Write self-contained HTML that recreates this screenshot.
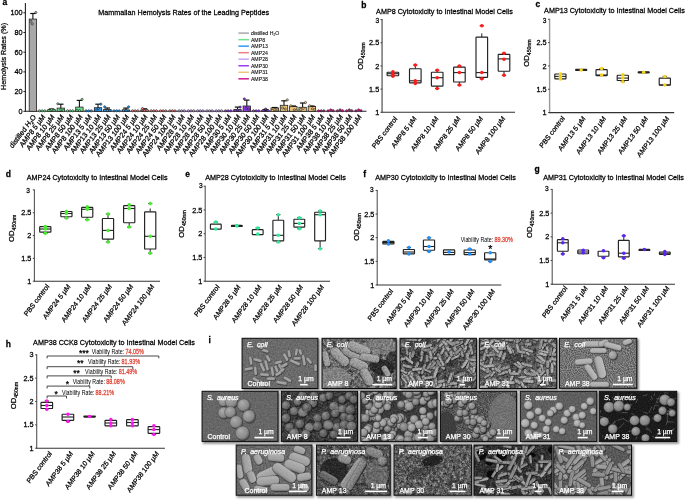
<!DOCTYPE html>
<html><head><meta charset="utf-8"><style>
html,body{margin:0;padding:0;background:#fff;width:685px;height:502px;overflow:hidden}
svg{display:block;font-family:"Liberation Sans",sans-serif;will-change:transform}
text{stroke-width:0.25px} text:not([fill]){stroke:#000} text[fill="#fff"]{stroke:#fff}
</style></head><body>
<svg width="685" height="502" viewBox="0 0 685 502">
<text x="0.00" y="0.00" font-size="8.5" font-weight="bold" transform="translate(2.60 4.80) scale(1 1.08)">a</text>
<text x="0.00" y="0.00" font-size="7.2" transform="translate(98.30 14.60) scale(1 1.08)">Mammalian Hemolysis Rates of the Leading Peptides</text>
<line x1="25.40" y1="3.00" x2="25.40" y2="111.80" stroke="#222" stroke-width="1.1"/>
<line x1="24.90" y1="111.30" x2="366.50" y2="111.30" stroke="#222" stroke-width="1.1"/>
<line x1="23.40" y1="111.30" x2="25.40" y2="111.30" stroke="#222" stroke-width="1"/>
<text x="0.00" y="0.00" font-size="7.3" text-anchor="end" transform="translate(22.60 113.75) scale(1 1.08)">0</text>
<line x1="23.40" y1="91.60" x2="25.40" y2="91.60" stroke="#222" stroke-width="1"/>
<text x="0.00" y="0.00" font-size="7.3" text-anchor="end" transform="translate(22.60 94.05) scale(1 1.08)">20</text>
<line x1="23.40" y1="71.90" x2="25.40" y2="71.90" stroke="#222" stroke-width="1"/>
<text x="0.00" y="0.00" font-size="7.3" text-anchor="end" transform="translate(22.60 74.35) scale(1 1.08)">40</text>
<line x1="23.40" y1="52.20" x2="25.40" y2="52.20" stroke="#222" stroke-width="1"/>
<text x="0.00" y="0.00" font-size="7.3" text-anchor="end" transform="translate(22.60 54.65) scale(1 1.08)">60</text>
<line x1="23.40" y1="32.50" x2="25.40" y2="32.50" stroke="#222" stroke-width="1"/>
<text x="0.00" y="0.00" font-size="7.3" text-anchor="end" transform="translate(22.60 34.95) scale(1 1.08)">80</text>
<line x1="23.40" y1="12.80" x2="25.40" y2="12.80" stroke="#222" stroke-width="1"/>
<text x="0.00" y="0.00" font-size="7.3" text-anchor="end" transform="translate(22.60 15.25) scale(1 1.08)">100</text>
<text x="6.40" y="56.50" font-size="7.2" text-anchor="middle" transform="rotate(-90 6.40 56.50)">Hemolysis Rates (%)</text>
<rect x="29.20" y="19.10" width="7.40" height="92.20" fill="#a8a8a8" stroke="#222" stroke-width="0.8"/>
<line x1="32.90" y1="19.10" x2="32.90" y2="13.50" stroke="#111" stroke-width="1.1"/>
<line x1="30.20" y1="13.50" x2="35.60" y2="13.50" stroke="#111" stroke-width="1.2"/>
<circle cx="30.80" cy="21.30" r="1.1" fill="#a8a8a8" stroke="#1a1a1a" stroke-width="0.55"/>
<circle cx="32.30" cy="23.90" r="1.1" fill="#a8a8a8" stroke="#1a1a1a" stroke-width="0.55"/>
<circle cx="35.80" cy="12.50" r="1.1" fill="#a8a8a8" stroke="#1a1a1a" stroke-width="0.55"/>
<text x="0.00" y="0.00" font-size="6.96" text-anchor="end" transform="translate(36.40 117.10) scale(1 1.08) rotate(-50.86)">distilled H<tspan font-size="4.2" dy="1.2">2</tspan><tspan dy="-1.2">O</tspan></text>
<circle cx="39.60" cy="110.80" r="1.1" fill="#6fe08c" stroke="#1a1a1a" stroke-width="0.55"/>
<circle cx="42.20" cy="110.80" r="1.1" fill="#6fe08c" stroke="#1a1a1a" stroke-width="0.55"/>
<circle cx="44.80" cy="110.80" r="1.1" fill="#6fe08c" stroke="#1a1a1a" stroke-width="0.55"/>
<text x="0.00" y="0.00" font-size="6.96" text-anchor="end" transform="translate(45.70 117.10) scale(1 1.08) rotate(-50.86)">AMP8 5 µM</text>
<rect x="47.80" y="109.60" width="7.40" height="1.70" fill="#6fe08c" stroke="#222" stroke-width="0.8"/>
<line x1="51.50" y1="109.60" x2="51.50" y2="109.00" stroke="#111" stroke-width="1.1"/>
<line x1="48.80" y1="109.00" x2="54.20" y2="109.00" stroke="#111" stroke-width="1.2"/>
<circle cx="48.90" cy="110.60" r="1.1" fill="#6fe08c" stroke="#1a1a1a" stroke-width="0.55"/>
<circle cx="51.70" cy="109.40" r="1.1" fill="#6fe08c" stroke="#1a1a1a" stroke-width="0.55"/>
<circle cx="54.10" cy="110.40" r="1.1" fill="#6fe08c" stroke="#1a1a1a" stroke-width="0.55"/>
<text x="0.00" y="0.00" font-size="6.96" text-anchor="end" transform="translate(55.00 117.10) scale(1 1.08) rotate(-50.86)">AMP8 10 µM</text>
<rect x="57.10" y="108.10" width="7.40" height="3.20" fill="#6fe08c" stroke="#222" stroke-width="0.8"/>
<line x1="60.80" y1="108.10" x2="60.80" y2="104.20" stroke="#111" stroke-width="1.1"/>
<line x1="58.10" y1="104.20" x2="63.50" y2="104.20" stroke="#111" stroke-width="1.2"/>
<circle cx="57.80" cy="103.80" r="1.1" fill="#6fe08c" stroke="#1a1a1a" stroke-width="0.55"/>
<circle cx="60.80" cy="109.80" r="1.1" fill="#6fe08c" stroke="#1a1a1a" stroke-width="0.55"/>
<circle cx="63.40" cy="110.60" r="1.1" fill="#6fe08c" stroke="#1a1a1a" stroke-width="0.55"/>
<text x="0.00" y="0.00" font-size="6.96" text-anchor="end" transform="translate(64.30 117.10) scale(1 1.08) rotate(-50.86)">AMP8 25 µM</text>
<circle cx="67.50" cy="110.80" r="1.1" fill="#6fe08c" stroke="#1a1a1a" stroke-width="0.55"/>
<circle cx="70.10" cy="110.80" r="1.1" fill="#6fe08c" stroke="#1a1a1a" stroke-width="0.55"/>
<circle cx="72.70" cy="110.80" r="1.1" fill="#6fe08c" stroke="#1a1a1a" stroke-width="0.55"/>
<text x="0.00" y="0.00" font-size="6.96" text-anchor="end" transform="translate(73.60 117.10) scale(1 1.08) rotate(-50.86)">AMP8 50 µM</text>
<rect x="75.70" y="107.10" width="7.40" height="4.20" fill="#6fe08c" stroke="#222" stroke-width="0.8"/>
<line x1="79.40" y1="107.10" x2="79.40" y2="100.40" stroke="#111" stroke-width="1.1"/>
<line x1="76.70" y1="100.40" x2="82.10" y2="100.40" stroke="#111" stroke-width="1.2"/>
<circle cx="82.10" cy="99.40" r="1.1" fill="#6fe08c" stroke="#1a1a1a" stroke-width="0.55"/>
<circle cx="77.00" cy="110.40" r="1.1" fill="#6fe08c" stroke="#1a1a1a" stroke-width="0.55"/>
<circle cx="79.60" cy="110.60" r="1.1" fill="#6fe08c" stroke="#1a1a1a" stroke-width="0.55"/>
<text x="0.00" y="0.00" font-size="6.96" text-anchor="end" transform="translate(82.90 117.10) scale(1 1.08) rotate(-50.86)">AMP8 100 µM</text>
<circle cx="86.10" cy="110.80" r="1.1" fill="#2b9cf2" stroke="#1a1a1a" stroke-width="0.55"/>
<circle cx="88.70" cy="110.80" r="1.1" fill="#2b9cf2" stroke="#1a1a1a" stroke-width="0.55"/>
<circle cx="91.30" cy="110.80" r="1.1" fill="#2b9cf2" stroke="#1a1a1a" stroke-width="0.55"/>
<text x="0.00" y="0.00" font-size="6.96" text-anchor="end" transform="translate(92.20 117.10) scale(1 1.08) rotate(-50.86)">AMP13 5 µM</text>
<rect x="94.30" y="107.70" width="7.40" height="3.60" fill="#2b9cf2" stroke="#222" stroke-width="0.8"/>
<line x1="98.00" y1="107.70" x2="98.00" y2="104.20" stroke="#111" stroke-width="1.1"/>
<line x1="95.30" y1="104.20" x2="100.70" y2="104.20" stroke="#111" stroke-width="1.2"/>
<circle cx="100.80" cy="104.20" r="1.1" fill="#2b9cf2" stroke="#1a1a1a" stroke-width="0.55"/>
<circle cx="96.00" cy="110.60" r="1.1" fill="#2b9cf2" stroke="#1a1a1a" stroke-width="0.55"/>
<circle cx="98.20" cy="108.60" r="1.1" fill="#2b9cf2" stroke="#1a1a1a" stroke-width="0.55"/>
<text x="0.00" y="0.00" font-size="6.96" text-anchor="end" transform="translate(101.50 117.10) scale(1 1.08) rotate(-50.86)">AMP13 10 µM</text>
<rect x="103.60" y="109.40" width="7.40" height="1.90" fill="#2b9cf2" stroke="#222" stroke-width="0.8"/>
<line x1="107.30" y1="109.40" x2="107.30" y2="108.00" stroke="#111" stroke-width="1.1"/>
<line x1="104.60" y1="108.00" x2="110.00" y2="108.00" stroke="#111" stroke-width="1.2"/>
<circle cx="104.70" cy="106.80" r="1.1" fill="#2b9cf2" stroke="#1a1a1a" stroke-width="0.55"/>
<circle cx="107.50" cy="110.60" r="1.1" fill="#2b9cf2" stroke="#1a1a1a" stroke-width="0.55"/>
<circle cx="109.90" cy="110.60" r="1.1" fill="#2b9cf2" stroke="#1a1a1a" stroke-width="0.55"/>
<text x="0.00" y="0.00" font-size="6.96" text-anchor="end" transform="translate(110.80 117.10) scale(1 1.08) rotate(-50.86)">AMP13 25 µM</text>
<circle cx="114.00" cy="110.80" r="1.1" fill="#2b9cf2" stroke="#1a1a1a" stroke-width="0.55"/>
<circle cx="116.60" cy="110.80" r="1.1" fill="#2b9cf2" stroke="#1a1a1a" stroke-width="0.55"/>
<circle cx="119.20" cy="110.80" r="1.1" fill="#2b9cf2" stroke="#1a1a1a" stroke-width="0.55"/>
<text x="0.00" y="0.00" font-size="6.96" text-anchor="end" transform="translate(120.10 117.10) scale(1 1.08) rotate(-50.86)">AMP13 50 µM</text>
<rect x="122.20" y="109.90" width="7.40" height="1.40" fill="#2b9cf2" stroke="#222" stroke-width="0.8"/>
<line x1="125.90" y1="109.90" x2="125.90" y2="108.10" stroke="#111" stroke-width="1.1"/>
<line x1="123.20" y1="108.10" x2="128.60" y2="108.10" stroke="#111" stroke-width="1.2"/>
<circle cx="128.60" cy="106.80" r="1.1" fill="#2b9cf2" stroke="#1a1a1a" stroke-width="0.55"/>
<circle cx="123.50" cy="110.60" r="1.1" fill="#2b9cf2" stroke="#1a1a1a" stroke-width="0.55"/>
<circle cx="126.10" cy="110.40" r="1.1" fill="#2b9cf2" stroke="#1a1a1a" stroke-width="0.55"/>
<text x="0.00" y="0.00" font-size="6.96" text-anchor="end" transform="translate(129.40 117.10) scale(1 1.08) rotate(-50.86)">AMP13 100 µM</text>
<circle cx="132.60" cy="110.80" r="1.1" fill="#f08080" stroke="#1a1a1a" stroke-width="0.55"/>
<circle cx="135.20" cy="110.80" r="1.1" fill="#f08080" stroke="#1a1a1a" stroke-width="0.55"/>
<circle cx="137.80" cy="110.80" r="1.1" fill="#f08080" stroke="#1a1a1a" stroke-width="0.55"/>
<text x="0.00" y="0.00" font-size="6.96" text-anchor="end" transform="translate(138.70 117.10) scale(1 1.08) rotate(-50.86)">AMP24 5 µM</text>
<rect x="140.80" y="110.00" width="7.40" height="1.30" fill="#f08080" stroke="#222" stroke-width="0.8"/>
<line x1="144.50" y1="110.00" x2="144.50" y2="108.80" stroke="#111" stroke-width="1.1"/>
<line x1="141.80" y1="108.80" x2="147.20" y2="108.80" stroke="#111" stroke-width="1.2"/>
<circle cx="142.50" cy="108.60" r="1.1" fill="#f08080" stroke="#1a1a1a" stroke-width="0.55"/>
<circle cx="144.70" cy="110.60" r="1.1" fill="#f08080" stroke="#1a1a1a" stroke-width="0.55"/>
<circle cx="147.10" cy="110.60" r="1.1" fill="#f08080" stroke="#1a1a1a" stroke-width="0.55"/>
<text x="0.00" y="0.00" font-size="6.96" text-anchor="end" transform="translate(148.00 117.10) scale(1 1.08) rotate(-50.86)">AMP24 10 µM</text>
<circle cx="151.20" cy="110.80" r="1.1" fill="#f08080" stroke="#1a1a1a" stroke-width="0.55"/>
<circle cx="153.80" cy="110.80" r="1.1" fill="#f08080" stroke="#1a1a1a" stroke-width="0.55"/>
<circle cx="156.40" cy="110.80" r="1.1" fill="#f08080" stroke="#1a1a1a" stroke-width="0.55"/>
<text x="0.00" y="0.00" font-size="6.96" text-anchor="end" transform="translate(157.30 117.10) scale(1 1.08) rotate(-50.86)">AMP24 25 µM</text>
<circle cx="160.50" cy="110.80" r="1.1" fill="#f08080" stroke="#1a1a1a" stroke-width="0.55"/>
<circle cx="163.10" cy="110.80" r="1.1" fill="#f08080" stroke="#1a1a1a" stroke-width="0.55"/>
<circle cx="165.70" cy="110.80" r="1.1" fill="#f08080" stroke="#1a1a1a" stroke-width="0.55"/>
<text x="0.00" y="0.00" font-size="6.96" text-anchor="end" transform="translate(166.60 117.10) scale(1 1.08) rotate(-50.86)">AMP24 50 µM</text>
<circle cx="169.80" cy="110.80" r="1.1" fill="#f08080" stroke="#1a1a1a" stroke-width="0.55"/>
<circle cx="172.40" cy="110.80" r="1.1" fill="#f08080" stroke="#1a1a1a" stroke-width="0.55"/>
<circle cx="175.00" cy="110.80" r="1.1" fill="#f08080" stroke="#1a1a1a" stroke-width="0.55"/>
<text x="0.00" y="0.00" font-size="6.96" text-anchor="end" transform="translate(175.90 117.10) scale(1 1.08) rotate(-50.86)">AMP24 100 µM</text>
<circle cx="179.10" cy="110.80" r="1.1" fill="#caa6f4" stroke="#1a1a1a" stroke-width="0.55"/>
<circle cx="181.70" cy="110.80" r="1.1" fill="#caa6f4" stroke="#1a1a1a" stroke-width="0.55"/>
<circle cx="184.30" cy="110.80" r="1.1" fill="#caa6f4" stroke="#1a1a1a" stroke-width="0.55"/>
<text x="0.00" y="0.00" font-size="6.96" text-anchor="end" transform="translate(185.20 117.10) scale(1 1.08) rotate(-50.86)">AMP28 5 µM</text>
<circle cx="188.40" cy="110.80" r="1.1" fill="#caa6f4" stroke="#1a1a1a" stroke-width="0.55"/>
<circle cx="191.00" cy="110.80" r="1.1" fill="#caa6f4" stroke="#1a1a1a" stroke-width="0.55"/>
<circle cx="193.60" cy="110.80" r="1.1" fill="#caa6f4" stroke="#1a1a1a" stroke-width="0.55"/>
<text x="0.00" y="0.00" font-size="6.96" text-anchor="end" transform="translate(194.50 117.10) scale(1 1.08) rotate(-50.86)">AMP28 10 µM</text>
<circle cx="197.70" cy="110.80" r="1.1" fill="#caa6f4" stroke="#1a1a1a" stroke-width="0.55"/>
<circle cx="200.30" cy="110.80" r="1.1" fill="#caa6f4" stroke="#1a1a1a" stroke-width="0.55"/>
<circle cx="202.90" cy="110.80" r="1.1" fill="#caa6f4" stroke="#1a1a1a" stroke-width="0.55"/>
<text x="0.00" y="0.00" font-size="6.96" text-anchor="end" transform="translate(203.80 117.10) scale(1 1.08) rotate(-50.86)">AMP28 25 µM</text>
<circle cx="207.00" cy="110.80" r="1.1" fill="#caa6f4" stroke="#1a1a1a" stroke-width="0.55"/>
<circle cx="209.60" cy="110.80" r="1.1" fill="#caa6f4" stroke="#1a1a1a" stroke-width="0.55"/>
<circle cx="212.20" cy="110.80" r="1.1" fill="#caa6f4" stroke="#1a1a1a" stroke-width="0.55"/>
<text x="0.00" y="0.00" font-size="6.96" text-anchor="end" transform="translate(213.10 117.10) scale(1 1.08) rotate(-50.86)">AMP28 50 µM</text>
<circle cx="216.30" cy="110.80" r="1.1" fill="#caa6f4" stroke="#1a1a1a" stroke-width="0.55"/>
<circle cx="218.90" cy="110.80" r="1.1" fill="#caa6f4" stroke="#1a1a1a" stroke-width="0.55"/>
<circle cx="221.50" cy="110.80" r="1.1" fill="#caa6f4" stroke="#1a1a1a" stroke-width="0.55"/>
<text x="0.00" y="0.00" font-size="6.96" text-anchor="end" transform="translate(222.40 117.10) scale(1 1.08) rotate(-50.86)">AMP28 100 µM</text>
<circle cx="225.60" cy="110.80" r="1.1" fill="#9b3df0" stroke="#1a1a1a" stroke-width="0.55"/>
<circle cx="228.20" cy="110.80" r="1.1" fill="#9b3df0" stroke="#1a1a1a" stroke-width="0.55"/>
<circle cx="230.80" cy="110.80" r="1.1" fill="#9b3df0" stroke="#1a1a1a" stroke-width="0.55"/>
<text x="0.00" y="0.00" font-size="6.96" text-anchor="end" transform="translate(231.70 117.10) scale(1 1.08) rotate(-50.86)">AMP30 5 µM</text>
<rect x="233.80" y="109.60" width="7.40" height="1.70" fill="#9b3df0" stroke="#222" stroke-width="0.8"/>
<line x1="237.50" y1="109.60" x2="237.50" y2="107.10" stroke="#111" stroke-width="1.1"/>
<line x1="234.80" y1="107.10" x2="240.20" y2="107.10" stroke="#111" stroke-width="1.2"/>
<circle cx="240.20" cy="107.10" r="1.1" fill="#9b3df0" stroke="#1a1a1a" stroke-width="0.55"/>
<circle cx="235.10" cy="110.60" r="1.1" fill="#9b3df0" stroke="#1a1a1a" stroke-width="0.55"/>
<circle cx="237.70" cy="110.00" r="1.1" fill="#9b3df0" stroke="#1a1a1a" stroke-width="0.55"/>
<text x="0.00" y="0.00" font-size="6.96" text-anchor="end" transform="translate(241.00 117.10) scale(1 1.08) rotate(-50.86)">AMP30 10 µM</text>
<rect x="243.10" y="106.00" width="7.40" height="5.30" fill="#9b3df0" stroke="#222" stroke-width="0.8"/>
<line x1="246.80" y1="106.00" x2="246.80" y2="100.10" stroke="#111" stroke-width="1.1"/>
<line x1="244.10" y1="100.10" x2="249.50" y2="100.10" stroke="#111" stroke-width="1.2"/>
<circle cx="244.30" cy="98.90" r="1.1" fill="#9b3df0" stroke="#1a1a1a" stroke-width="0.55"/>
<circle cx="246.30" cy="108.30" r="1.1" fill="#9b3df0" stroke="#1a1a1a" stroke-width="0.55"/>
<circle cx="248.60" cy="109.20" r="1.1" fill="#9b3df0" stroke="#1a1a1a" stroke-width="0.55"/>
<text x="0.00" y="0.00" font-size="6.96" text-anchor="end" transform="translate(250.30 117.10) scale(1 1.08) rotate(-50.86)">AMP30 25 µM</text>
<circle cx="253.50" cy="110.80" r="1.1" fill="#9b3df0" stroke="#1a1a1a" stroke-width="0.55"/>
<circle cx="256.10" cy="110.80" r="1.1" fill="#9b3df0" stroke="#1a1a1a" stroke-width="0.55"/>
<circle cx="258.70" cy="110.80" r="1.1" fill="#9b3df0" stroke="#1a1a1a" stroke-width="0.55"/>
<text x="0.00" y="0.00" font-size="6.96" text-anchor="end" transform="translate(259.60 117.10) scale(1 1.08) rotate(-50.86)">AMP30 50 µM</text>
<rect x="261.70" y="110.60" width="7.40" height="0.70" fill="#9b3df0" stroke="#222" stroke-width="0.8"/>
<line x1="265.40" y1="110.60" x2="265.40" y2="109.50" stroke="#111" stroke-width="1.1"/>
<line x1="262.70" y1="109.50" x2="268.10" y2="109.50" stroke="#111" stroke-width="1.2"/>
<circle cx="263.00" cy="110.60" r="1.1" fill="#9b3df0" stroke="#1a1a1a" stroke-width="0.55"/>
<circle cx="265.60" cy="109.00" r="1.1" fill="#9b3df0" stroke="#1a1a1a" stroke-width="0.55"/>
<circle cx="268.00" cy="110.40" r="1.1" fill="#9b3df0" stroke="#1a1a1a" stroke-width="0.55"/>
<text x="0.00" y="0.00" font-size="6.96" text-anchor="end" transform="translate(268.90 117.10) scale(1 1.08) rotate(-50.86)">AMP30 100 µM</text>
<rect x="271.00" y="107.90" width="7.40" height="3.40" fill="#eac47c" stroke="#222" stroke-width="0.8"/>
<line x1="274.70" y1="107.90" x2="274.70" y2="107.50" stroke="#111" stroke-width="1.1"/>
<line x1="272.00" y1="107.50" x2="277.40" y2="107.50" stroke="#111" stroke-width="1.2"/>
<circle cx="272.30" cy="110.40" r="1.1" fill="#eac47c" stroke="#1a1a1a" stroke-width="0.55"/>
<circle cx="274.90" cy="109.60" r="1.1" fill="#eac47c" stroke="#1a1a1a" stroke-width="0.55"/>
<circle cx="277.30" cy="109.80" r="1.1" fill="#eac47c" stroke="#1a1a1a" stroke-width="0.55"/>
<text x="0.00" y="0.00" font-size="6.96" text-anchor="end" transform="translate(278.20 117.10) scale(1 1.08) rotate(-50.86)">AMP31 5 µM</text>
<rect x="280.30" y="105.30" width="7.40" height="6.00" fill="#eac47c" stroke="#222" stroke-width="0.8"/>
<line x1="284.00" y1="105.30" x2="284.00" y2="100.80" stroke="#111" stroke-width="1.1"/>
<line x1="281.30" y1="100.80" x2="286.70" y2="100.80" stroke="#111" stroke-width="1.2"/>
<circle cx="287.30" cy="99.90" r="1.1" fill="#eac47c" stroke="#1a1a1a" stroke-width="0.55"/>
<circle cx="282.60" cy="108.00" r="1.1" fill="#eac47c" stroke="#1a1a1a" stroke-width="0.55"/>
<circle cx="285.20" cy="109.00" r="1.1" fill="#eac47c" stroke="#1a1a1a" stroke-width="0.55"/>
<text x="0.00" y="0.00" font-size="6.96" text-anchor="end" transform="translate(287.50 117.10) scale(1 1.08) rotate(-50.86)">AMP31 10 µM</text>
<rect x="289.60" y="106.50" width="7.40" height="4.80" fill="#eac47c" stroke="#222" stroke-width="0.8"/>
<line x1="293.30" y1="106.50" x2="293.30" y2="106.00" stroke="#111" stroke-width="1.1"/>
<line x1="290.60" y1="106.00" x2="296.00" y2="106.00" stroke="#111" stroke-width="1.2"/>
<circle cx="290.80" cy="105.80" r="1.1" fill="#eac47c" stroke="#1a1a1a" stroke-width="0.55"/>
<circle cx="294.30" cy="109.80" r="1.1" fill="#eac47c" stroke="#1a1a1a" stroke-width="0.55"/>
<circle cx="296.10" cy="110.20" r="1.1" fill="#eac47c" stroke="#1a1a1a" stroke-width="0.55"/>
<text x="0.00" y="0.00" font-size="6.96" text-anchor="end" transform="translate(296.80 117.10) scale(1 1.08) rotate(-50.86)">AMP31 25 µM</text>
<rect x="298.90" y="107.30" width="7.40" height="4.00" fill="#eac47c" stroke="#222" stroke-width="0.8"/>
<line x1="302.60" y1="107.30" x2="302.60" y2="103.00" stroke="#111" stroke-width="1.1"/>
<line x1="299.90" y1="103.00" x2="305.30" y2="103.00" stroke="#111" stroke-width="1.2"/>
<circle cx="305.50" cy="102.50" r="1.1" fill="#eac47c" stroke="#1a1a1a" stroke-width="0.55"/>
<circle cx="300.80" cy="109.60" r="1.1" fill="#eac47c" stroke="#1a1a1a" stroke-width="0.55"/>
<circle cx="303.20" cy="108.40" r="1.1" fill="#eac47c" stroke="#1a1a1a" stroke-width="0.55"/>
<text x="0.00" y="0.00" font-size="6.96" text-anchor="end" transform="translate(306.10 117.10) scale(1 1.08) rotate(-50.86)">AMP31 50 µM</text>
<rect x="308.20" y="106.50" width="7.40" height="4.80" fill="#eac47c" stroke="#222" stroke-width="0.8"/>
<line x1="311.90" y1="106.50" x2="311.90" y2="106.00" stroke="#111" stroke-width="1.1"/>
<line x1="309.20" y1="106.00" x2="314.60" y2="106.00" stroke="#111" stroke-width="1.2"/>
<circle cx="309.70" cy="105.80" r="1.1" fill="#eac47c" stroke="#1a1a1a" stroke-width="0.55"/>
<circle cx="312.40" cy="108.80" r="1.1" fill="#eac47c" stroke="#1a1a1a" stroke-width="0.55"/>
<circle cx="314.70" cy="109.80" r="1.1" fill="#eac47c" stroke="#1a1a1a" stroke-width="0.55"/>
<text x="0.00" y="0.00" font-size="6.96" text-anchor="end" transform="translate(315.40 117.10) scale(1 1.08) rotate(-50.86)">AMP31 100 µM</text>
<circle cx="318.60" cy="110.80" r="1.1" fill="#d2188c" stroke="#1a1a1a" stroke-width="0.55"/>
<circle cx="321.20" cy="110.80" r="1.1" fill="#d2188c" stroke="#1a1a1a" stroke-width="0.55"/>
<circle cx="323.80" cy="110.80" r="1.1" fill="#d2188c" stroke="#1a1a1a" stroke-width="0.55"/>
<text x="0.00" y="0.00" font-size="6.96" text-anchor="end" transform="translate(324.70 117.10) scale(1 1.08) rotate(-50.86)">AMP38 5 µM</text>
<circle cx="328.10" cy="110.80" r="1.1" fill="#d2188c" stroke="#1a1a1a" stroke-width="0.55"/>
<circle cx="330.70" cy="109.90" r="1.1" fill="#d2188c" stroke="#1a1a1a" stroke-width="0.55"/>
<circle cx="333.10" cy="110.70" r="1.1" fill="#d2188c" stroke="#1a1a1a" stroke-width="0.55"/>
<text x="0.00" y="0.00" font-size="6.96" text-anchor="end" transform="translate(334.00 117.10) scale(1 1.08) rotate(-50.86)">AMP38 10 µM</text>
<circle cx="337.40" cy="110.80" r="1.1" fill="#d2188c" stroke="#1a1a1a" stroke-width="0.55"/>
<circle cx="340.00" cy="109.90" r="1.1" fill="#d2188c" stroke="#1a1a1a" stroke-width="0.55"/>
<circle cx="342.40" cy="110.70" r="1.1" fill="#d2188c" stroke="#1a1a1a" stroke-width="0.55"/>
<text x="0.00" y="0.00" font-size="6.96" text-anchor="end" transform="translate(343.30 117.10) scale(1 1.08) rotate(-50.86)">AMP38 25 µM</text>
<circle cx="346.70" cy="110.80" r="1.1" fill="#d2188c" stroke="#1a1a1a" stroke-width="0.55"/>
<circle cx="349.30" cy="109.90" r="1.1" fill="#d2188c" stroke="#1a1a1a" stroke-width="0.55"/>
<circle cx="351.70" cy="110.70" r="1.1" fill="#d2188c" stroke="#1a1a1a" stroke-width="0.55"/>
<text x="0.00" y="0.00" font-size="6.96" text-anchor="end" transform="translate(352.60 117.10) scale(1 1.08) rotate(-50.86)">AMP38 50 µM</text>
<circle cx="356.00" cy="110.80" r="1.1" fill="#d2188c" stroke="#1a1a1a" stroke-width="0.55"/>
<circle cx="358.60" cy="109.90" r="1.1" fill="#d2188c" stroke="#1a1a1a" stroke-width="0.55"/>
<circle cx="361.00" cy="110.70" r="1.1" fill="#d2188c" stroke="#1a1a1a" stroke-width="0.55"/>
<text x="0.00" y="0.00" font-size="6.96" text-anchor="end" transform="translate(361.90 117.10) scale(1 1.08) rotate(-50.86)">AMP38 100 µM</text>
<line x1="238.40" y1="33.10" x2="248.90" y2="33.10" stroke="#a8a8a8" stroke-width="1.5"/>
<text x="0.00" y="0.00" font-size="5.2" transform="translate(250.90 35.00) scale(1 1.08)" style="stroke-width:0.08px">distilled H<tspan font-size="3.4" dy="1">2</tspan><tspan dy="-1">O</tspan></text>
<line x1="238.40" y1="39.63" x2="248.90" y2="39.63" stroke="#6fe08c" stroke-width="1.5"/>
<text x="0.00" y="0.00" font-size="5.2" transform="translate(250.90 41.53) scale(1 1.08)" style="stroke-width:0.08px">AMP8</text>
<line x1="238.40" y1="46.16" x2="248.90" y2="46.16" stroke="#2b9cf2" stroke-width="1.5"/>
<text x="0.00" y="0.00" font-size="5.2" transform="translate(250.90 48.06) scale(1 1.08)" style="stroke-width:0.08px">AMP13</text>
<line x1="238.40" y1="52.69" x2="248.90" y2="52.69" stroke="#f08080" stroke-width="1.5"/>
<text x="0.00" y="0.00" font-size="5.2" transform="translate(250.90 54.59) scale(1 1.08)" style="stroke-width:0.08px">AMP24</text>
<line x1="238.40" y1="59.22" x2="248.90" y2="59.22" stroke="#caa6f4" stroke-width="1.5"/>
<text x="0.00" y="0.00" font-size="5.2" transform="translate(250.90 61.12) scale(1 1.08)" style="stroke-width:0.08px">AMP28</text>
<line x1="238.40" y1="65.75" x2="248.90" y2="65.75" stroke="#9b3df0" stroke-width="1.5"/>
<text x="0.00" y="0.00" font-size="5.2" transform="translate(250.90 67.65) scale(1 1.08)" style="stroke-width:0.08px">AMP30</text>
<line x1="238.40" y1="72.28" x2="248.90" y2="72.28" stroke="#eac47c" stroke-width="1.5"/>
<text x="0.00" y="0.00" font-size="5.2" transform="translate(250.90 74.18) scale(1 1.08)" style="stroke-width:0.08px">AMP31</text>
<line x1="238.40" y1="78.81" x2="248.90" y2="78.81" stroke="#d2188c" stroke-width="1.5"/>
<text x="0.00" y="0.00" font-size="5.2" transform="translate(250.90 80.71) scale(1 1.08)" style="stroke-width:0.08px">AMP38</text>
<text x="0.00" y="0.00" font-size="8.5" font-weight="bold" transform="translate(361.20 7.60) scale(1 1.08)">b</text>
<text x="0.00" y="0.00" font-size="7.2" transform="translate(376.10 13.60) scale(1 1.08)">AMP8 Cytotoxicity to Intestinal Model Cells</text>
<line x1="382.10" y1="19.10" x2="382.10" y2="112.30" stroke="#8a8a8a" stroke-width="1.8"/>
<line x1="381.60" y1="112.30" x2="515.00" y2="112.30" stroke="#333" stroke-width="1.1"/>
<line x1="380.50" y1="112.30" x2="382.10" y2="112.30" stroke="#333" stroke-width="0.9"/>
<text x="0.00" y="0.00" font-size="7.3" text-anchor="end" transform="translate(379.20 114.90) scale(1 1.08)">1</text>
<line x1="380.50" y1="89.12" x2="382.10" y2="89.12" stroke="#333" stroke-width="0.9"/>
<text x="0.00" y="0.00" font-size="7.3" text-anchor="end" transform="translate(379.20 91.72) scale(1 1.08)">1.5</text>
<line x1="380.50" y1="65.95" x2="382.10" y2="65.95" stroke="#333" stroke-width="0.9"/>
<text x="0.00" y="0.00" font-size="7.3" text-anchor="end" transform="translate(379.20 68.55) scale(1 1.08)">2</text>
<line x1="380.50" y1="42.78" x2="382.10" y2="42.78" stroke="#333" stroke-width="0.9"/>
<text x="0.00" y="0.00" font-size="7.3" text-anchor="end" transform="translate(379.20 45.38) scale(1 1.08)">2.5</text>
<line x1="380.50" y1="19.60" x2="382.10" y2="19.60" stroke="#333" stroke-width="0.9"/>
<text x="0.00" y="0.00" font-size="6.6" text-anchor="end" transform="translate(379.10 22.90) scale(1 1.08)">3</text>
<text x="363.30" y="69.72" font-size="7.7" transform="rotate(-90 363.30 69.72)">OD<tspan font-size="5.20" dy="2.0">450nm</tspan></text>
<rect x="387.10" y="72.20" width="11.60" height="3.50" fill="#fff" stroke="#222" stroke-width="1.15" rx="0.6"/>
<line x1="387.10" y1="73.70" x2="398.70" y2="73.70" stroke="#222" stroke-width="1.1"/>
<circle cx="392.90" cy="71.80" r="1.75" fill="#ff1a1a"/>
<circle cx="392.90" cy="74.30" r="1.75" fill="#ff1a1a"/>
<circle cx="392.90" cy="76.30" r="1.75" fill="#ff1a1a"/>
<line x1="415.30" y1="65.10" x2="415.30" y2="68.70" stroke="#222" stroke-width="1.0"/>
<rect x="409.50" y="68.70" width="11.60" height="14.20" fill="#fff" stroke="#222" stroke-width="1.15" rx="0.6"/>
<line x1="409.50" y1="80.80" x2="421.10" y2="80.80" stroke="#222" stroke-width="1.1"/>
<line x1="413.10" y1="65.10" x2="417.50" y2="65.10" stroke="#222" stroke-width="0.9"/>
<circle cx="415.30" cy="65.10" r="1.75" fill="#ff1a1a"/>
<circle cx="415.30" cy="80.80" r="1.75" fill="#ff1a1a"/>
<circle cx="415.30" cy="83.50" r="1.75" fill="#ff1a1a"/>
<line x1="437.20" y1="69.80" x2="437.20" y2="72.20" stroke="#222" stroke-width="1.0"/>
<line x1="437.20" y1="86.10" x2="437.20" y2="88.60" stroke="#222" stroke-width="1.0"/>
<rect x="431.40" y="72.20" width="11.60" height="13.90" fill="#fff" stroke="#222" stroke-width="1.15" rx="0.6"/>
<line x1="431.40" y1="77.70" x2="443.00" y2="77.70" stroke="#222" stroke-width="1.1"/>
<line x1="435.00" y1="70.20" x2="439.40" y2="70.20" stroke="#222" stroke-width="0.9"/>
<line x1="435.00" y1="88.60" x2="439.40" y2="88.60" stroke="#222" stroke-width="0.9"/>
<circle cx="437.20" cy="70.20" r="1.75" fill="#ff1a1a"/>
<circle cx="437.20" cy="77.70" r="1.75" fill="#ff1a1a"/>
<circle cx="437.20" cy="88.60" r="1.75" fill="#ff1a1a"/>
<line x1="459.40" y1="66.10" x2="459.40" y2="67.10" stroke="#222" stroke-width="1.0"/>
<line x1="459.40" y1="82.00" x2="459.40" y2="85.10" stroke="#222" stroke-width="1.0"/>
<rect x="453.60" y="67.10" width="11.60" height="14.90" fill="#fff" stroke="#222" stroke-width="1.15" rx="0.6"/>
<line x1="453.60" y1="72.60" x2="465.20" y2="72.60" stroke="#222" stroke-width="1.1"/>
<line x1="457.20" y1="66.10" x2="461.60" y2="66.10" stroke="#222" stroke-width="0.9"/>
<line x1="457.20" y1="85.10" x2="461.60" y2="85.10" stroke="#222" stroke-width="0.9"/>
<circle cx="459.40" cy="66.10" r="1.75" fill="#ff1a1a"/>
<circle cx="459.40" cy="72.60" r="1.75" fill="#ff1a1a"/>
<circle cx="459.40" cy="85.10" r="1.75" fill="#ff1a1a"/>
<line x1="481.80" y1="33.40" x2="481.80" y2="37.10" stroke="#222" stroke-width="1.0"/>
<line x1="481.80" y1="77.30" x2="481.80" y2="78.80" stroke="#222" stroke-width="1.0"/>
<rect x="476.00" y="37.10" width="11.60" height="40.20" fill="#fff" stroke="#222" stroke-width="1.15" rx="0.6"/>
<line x1="476.00" y1="72.60" x2="487.60" y2="72.60" stroke="#222" stroke-width="1.1"/>
<line x1="479.60" y1="25.80" x2="484.00" y2="25.80" stroke="#222" stroke-width="0.9"/>
<line x1="479.60" y1="78.80" x2="484.00" y2="78.80" stroke="#222" stroke-width="0.9"/>
<circle cx="481.80" cy="25.80" r="1.75" fill="#ff1a1a"/>
<circle cx="481.80" cy="72.60" r="1.75" fill="#ff1a1a"/>
<circle cx="481.80" cy="78.80" r="1.75" fill="#ff1a1a"/>
<line x1="504.00" y1="53.20" x2="504.00" y2="54.40" stroke="#222" stroke-width="1.0"/>
<line x1="504.00" y1="71.20" x2="504.00" y2="75.30" stroke="#222" stroke-width="1.0"/>
<rect x="498.20" y="54.40" width="11.60" height="16.80" fill="#fff" stroke="#222" stroke-width="1.15" rx="0.6"/>
<line x1="498.20" y1="58.90" x2="509.80" y2="58.90" stroke="#222" stroke-width="1.1"/>
<line x1="501.80" y1="53.20" x2="506.20" y2="53.20" stroke="#222" stroke-width="0.9"/>
<line x1="501.80" y1="75.30" x2="506.20" y2="75.30" stroke="#222" stroke-width="0.9"/>
<circle cx="504.00" cy="53.20" r="1.75" fill="#ff1a1a"/>
<circle cx="504.00" cy="59.30" r="1.75" fill="#ff1a1a"/>
<circle cx="504.00" cy="75.30" r="1.75" fill="#ff1a1a"/>
<text x="0.00" y="0.00" font-size="6.77" text-anchor="end" transform="translate(397.60 119.20) scale(1 1.08) rotate(-50.86)">PBS control</text>
<text x="0.00" y="0.00" font-size="6.77" text-anchor="end" transform="translate(416.80 118.70) scale(1 1.08) rotate(-50.86)">AMP8 5 µM</text>
<text x="0.00" y="0.00" font-size="6.77" text-anchor="end" transform="translate(438.70 118.70) scale(1 1.08) rotate(-50.86)">AMP8 10 µM</text>
<text x="0.00" y="0.00" font-size="6.77" text-anchor="end" transform="translate(460.90 118.70) scale(1 1.08) rotate(-50.86)">AMP8 25 µM</text>
<text x="0.00" y="0.00" font-size="6.77" text-anchor="end" transform="translate(483.30 118.70) scale(1 1.08) rotate(-50.86)">AMP8 50 µM</text>
<text x="0.00" y="0.00" font-size="6.77" text-anchor="end" transform="translate(505.50 118.70) scale(1 1.08) rotate(-50.86)">AMP8 100 µM</text>
<text x="0.00" y="0.00" font-size="8.5" font-weight="bold" transform="translate(535.50 7.40) scale(1 1.08)">c</text>
<text x="0.00" y="0.00" font-size="7.2" transform="translate(544.10 13.30) scale(1 1.08)">AMP13 Cytotoxicity to Intestinal Model Cells</text>
<line x1="549.60" y1="18.80" x2="549.60" y2="112.60" stroke="#999" stroke-width="1.4"/>
<line x1="549.10" y1="112.60" x2="674.20" y2="112.60" stroke="#333" stroke-width="1.1"/>
<line x1="548.00" y1="112.60" x2="549.60" y2="112.60" stroke="#333" stroke-width="0.9"/>
<text x="0.00" y="0.00" font-size="7.3" text-anchor="end" transform="translate(546.60 115.20) scale(1 1.08)">1</text>
<line x1="548.00" y1="89.27" x2="549.60" y2="89.27" stroke="#333" stroke-width="0.9"/>
<text x="0.00" y="0.00" font-size="7.3" text-anchor="end" transform="translate(546.60 91.87) scale(1 1.08)">1.5</text>
<line x1="548.00" y1="65.95" x2="549.60" y2="65.95" stroke="#333" stroke-width="0.9"/>
<text x="0.00" y="0.00" font-size="7.3" text-anchor="end" transform="translate(546.60 68.55) scale(1 1.08)">2</text>
<line x1="548.00" y1="42.62" x2="549.60" y2="42.62" stroke="#333" stroke-width="0.9"/>
<text x="0.00" y="0.00" font-size="7.3" text-anchor="end" transform="translate(546.60 45.23) scale(1 1.08)">2.5</text>
<line x1="548.00" y1="19.30" x2="549.60" y2="19.30" stroke="#333" stroke-width="0.9"/>
<text x="0.00" y="0.00" font-size="6.6" text-anchor="end" transform="translate(546.50 22.70) scale(1 1.08)">3</text>
<text x="529.00" y="66.72" font-size="7.7" transform="rotate(-90 529.00 66.72)">OD<tspan font-size="5.20" dy="2.0">450nm</tspan></text>
<rect x="554.80" y="74.00" width="11.20" height="4.90" fill="#fff" stroke="#222" stroke-width="1.15" rx="0.6"/>
<line x1="554.80" y1="76.40" x2="566.00" y2="76.40" stroke="#222" stroke-width="1.1"/>
<circle cx="560.40" cy="74.00" r="1.75" fill="#f7d417"/>
<circle cx="560.40" cy="76.40" r="1.75" fill="#f7d417"/>
<circle cx="560.40" cy="78.90" r="1.75" fill="#f7d417"/>
<rect x="575.60" y="69.40" width="11.20" height="1.00" fill="#222" stroke="#222" stroke-width="1.15" rx="0.6"/>
<circle cx="581.20" cy="69.90" r="1.75" fill="#f7d417"/>
<rect x="596.00" y="69.60" width="11.20" height="6.00" fill="#fff" stroke="#222" stroke-width="1.15" rx="0.6"/>
<line x1="596.00" y1="75.00" x2="607.20" y2="75.00" stroke="#222" stroke-width="1.1"/>
<line x1="599.40" y1="68.50" x2="603.80" y2="68.50" stroke="#222" stroke-width="0.9"/>
<circle cx="601.60" cy="68.50" r="1.75" fill="#f7d417"/>
<circle cx="601.60" cy="75.00" r="1.75" fill="#f7d417"/>
<line x1="622.80" y1="74.80" x2="622.80" y2="75.20" stroke="#222" stroke-width="1.0"/>
<line x1="622.80" y1="80.50" x2="622.80" y2="81.70" stroke="#222" stroke-width="1.0"/>
<rect x="617.20" y="75.20" width="11.20" height="5.30" fill="#fff" stroke="#222" stroke-width="1.15" rx="0.6"/>
<line x1="617.20" y1="78.10" x2="628.40" y2="78.10" stroke="#222" stroke-width="1.1"/>
<line x1="620.60" y1="81.70" x2="625.00" y2="81.70" stroke="#222" stroke-width="0.9"/>
<circle cx="622.80" cy="74.80" r="1.75" fill="#f7d417"/>
<circle cx="622.80" cy="78.10" r="1.75" fill="#f7d417"/>
<circle cx="622.80" cy="81.70" r="1.75" fill="#f7d417"/>
<rect x="638.10" y="71.80" width="11.20" height="1.00" fill="#222" stroke="#222" stroke-width="1.15" rx="0.6"/>
<circle cx="643.70" cy="72.30" r="1.75" fill="#f7d417"/>
<line x1="664.80" y1="76.40" x2="664.80" y2="78.10" stroke="#222" stroke-width="1.0"/>
<rect x="659.20" y="78.10" width="11.20" height="7.10" fill="#fff" stroke="#222" stroke-width="1.15" rx="0.6"/>
<line x1="659.20" y1="84.80" x2="670.40" y2="84.80" stroke="#222" stroke-width="1.1"/>
<line x1="662.60" y1="76.40" x2="667.00" y2="76.40" stroke="#222" stroke-width="0.9"/>
<circle cx="664.80" cy="76.40" r="1.75" fill="#f7d417"/>
<circle cx="664.80" cy="84.90" r="1.75" fill="#f7d417"/>
<text x="0.00" y="0.00" font-size="6.77" text-anchor="end" transform="translate(565.10 118.70) scale(1 1.08) rotate(-50.86)">PBS control</text>
<text x="0.00" y="0.00" font-size="6.77" text-anchor="end" transform="translate(585.90 118.70) scale(1 1.08) rotate(-50.86)">AMP13 5 µM</text>
<text x="0.00" y="0.00" font-size="6.77" text-anchor="end" transform="translate(606.30 118.70) scale(1 1.08) rotate(-50.86)">AMP13 10 µM</text>
<text x="0.00" y="0.00" font-size="6.77" text-anchor="end" transform="translate(627.50 118.70) scale(1 1.08) rotate(-50.86)">AMP13 25 µM</text>
<text x="0.00" y="0.00" font-size="6.77" text-anchor="end" transform="translate(648.40 118.70) scale(1 1.08) rotate(-50.86)">AMP13 50 µM</text>
<text x="0.00" y="0.00" font-size="6.77" text-anchor="end" transform="translate(669.50 118.70) scale(1 1.08) rotate(-50.86)">AMP13 100 µM</text>
<text x="0.00" y="0.00" font-size="8.5" font-weight="bold" transform="translate(5.80 176.90) scale(1 1.08)">d</text>
<text x="0.00" y="0.00" font-size="7.2" transform="translate(26.80 179.90) scale(1 1.08)">AMP24 Cytotoxicity to Intestinal Model Cells</text>
<line x1="34.40" y1="189.40" x2="34.40" y2="281.20" stroke="#555" stroke-width="1.1"/>
<line x1="33.90" y1="281.20" x2="160.00" y2="281.20" stroke="#333" stroke-width="1.1"/>
<line x1="32.80" y1="281.20" x2="34.40" y2="281.20" stroke="#333" stroke-width="0.9"/>
<text x="0.00" y="0.00" font-size="7.3" text-anchor="end" transform="translate(31.40 283.80) scale(1 1.08)">1</text>
<line x1="32.80" y1="258.38" x2="34.40" y2="258.38" stroke="#333" stroke-width="0.9"/>
<text x="0.00" y="0.00" font-size="7.3" text-anchor="end" transform="translate(31.40 260.98) scale(1 1.08)">1.5</text>
<line x1="32.80" y1="235.55" x2="34.40" y2="235.55" stroke="#333" stroke-width="0.9"/>
<text x="0.00" y="0.00" font-size="7.3" text-anchor="end" transform="translate(31.40 238.15) scale(1 1.08)">2</text>
<line x1="32.80" y1="212.72" x2="34.40" y2="212.72" stroke="#333" stroke-width="0.9"/>
<text x="0.00" y="0.00" font-size="7.3" text-anchor="end" transform="translate(31.40 215.32) scale(1 1.08)">2.5</text>
<line x1="32.80" y1="189.90" x2="34.40" y2="189.90" stroke="#333" stroke-width="0.9"/>
<text x="0.00" y="0.00" font-size="6.6" text-anchor="end" transform="translate(30.00 192.50) scale(1 1.08)">3</text>
<text x="13.60" y="242.02" font-size="7.7" transform="rotate(-90 13.60 242.02)">OD<tspan font-size="5.20" dy="2.0">450nm</tspan></text>
<line x1="45.30" y1="232.10" x2="45.30" y2="233.30" stroke="#222" stroke-width="1.0"/>
<rect x="39.70" y="226.60" width="11.20" height="5.50" fill="#fff" stroke="#222" stroke-width="1.15" rx="0.6"/>
<line x1="39.70" y1="229.00" x2="50.90" y2="229.00" stroke="#222" stroke-width="1.1"/>
<line x1="43.10" y1="233.30" x2="47.50" y2="233.30" stroke="#222" stroke-width="0.9"/>
<circle cx="45.30" cy="226.60" r="1.75" fill="#44ee2a"/>
<circle cx="45.30" cy="228.90" r="1.75" fill="#44ee2a"/>
<circle cx="45.30" cy="233.30" r="1.75" fill="#44ee2a"/>
<line x1="66.40" y1="216.70" x2="66.40" y2="218.00" stroke="#222" stroke-width="1.0"/>
<rect x="60.80" y="211.50" width="11.20" height="5.20" fill="#fff" stroke="#222" stroke-width="1.15" rx="0.6"/>
<line x1="60.80" y1="213.50" x2="72.00" y2="213.50" stroke="#222" stroke-width="1.1"/>
<line x1="64.20" y1="218.00" x2="68.60" y2="218.00" stroke="#222" stroke-width="0.9"/>
<circle cx="66.40" cy="211.50" r="1.75" fill="#44ee2a"/>
<circle cx="66.40" cy="213.50" r="1.75" fill="#44ee2a"/>
<circle cx="66.40" cy="218.00" r="1.75" fill="#44ee2a"/>
<line x1="87.20" y1="217.20" x2="87.20" y2="219.70" stroke="#222" stroke-width="1.0"/>
<rect x="81.60" y="207.30" width="11.20" height="9.90" fill="#fff" stroke="#222" stroke-width="1.15" rx="0.6"/>
<line x1="81.60" y1="209.30" x2="92.80" y2="209.30" stroke="#222" stroke-width="1.1"/>
<line x1="85.00" y1="219.70" x2="89.40" y2="219.70" stroke="#222" stroke-width="0.9"/>
<circle cx="87.20" cy="206.80" r="1.75" fill="#44ee2a"/>
<circle cx="87.20" cy="209.30" r="1.75" fill="#44ee2a"/>
<circle cx="87.20" cy="219.70" r="1.75" fill="#44ee2a"/>
<line x1="108.00" y1="214.00" x2="108.00" y2="218.50" stroke="#222" stroke-width="1.0"/>
<line x1="108.00" y1="239.10" x2="108.00" y2="242.00" stroke="#222" stroke-width="1.0"/>
<rect x="102.40" y="218.50" width="11.20" height="20.60" fill="#fff" stroke="#222" stroke-width="1.15" rx="0.6"/>
<line x1="102.40" y1="230.40" x2="113.60" y2="230.40" stroke="#222" stroke-width="1.1"/>
<line x1="105.80" y1="214.00" x2="110.20" y2="214.00" stroke="#222" stroke-width="0.9"/>
<line x1="105.80" y1="242.00" x2="110.20" y2="242.00" stroke="#222" stroke-width="0.9"/>
<circle cx="108.00" cy="214.00" r="1.75" fill="#44ee2a"/>
<circle cx="108.00" cy="230.40" r="1.75" fill="#44ee2a"/>
<circle cx="108.00" cy="242.00" r="1.75" fill="#44ee2a"/>
<line x1="129.20" y1="222.70" x2="129.20" y2="227.10" stroke="#222" stroke-width="1.0"/>
<rect x="123.60" y="205.60" width="11.20" height="17.10" fill="#fff" stroke="#222" stroke-width="1.15" rx="0.6"/>
<line x1="123.60" y1="208.50" x2="134.80" y2="208.50" stroke="#222" stroke-width="1.1"/>
<line x1="127.00" y1="227.10" x2="131.40" y2="227.10" stroke="#222" stroke-width="0.9"/>
<circle cx="129.20" cy="204.80" r="1.75" fill="#44ee2a"/>
<circle cx="129.20" cy="208.50" r="1.75" fill="#44ee2a"/>
<circle cx="129.20" cy="227.10" r="1.75" fill="#44ee2a"/>
<line x1="150.20" y1="208.50" x2="150.20" y2="211.80" stroke="#222" stroke-width="1.0"/>
<line x1="150.20" y1="249.00" x2="150.20" y2="253.20" stroke="#222" stroke-width="1.0"/>
<rect x="144.60" y="211.80" width="11.20" height="37.20" fill="#fff" stroke="#222" stroke-width="1.15" rx="0.6"/>
<line x1="144.60" y1="236.30" x2="155.80" y2="236.30" stroke="#222" stroke-width="1.1"/>
<line x1="148.00" y1="203.60" x2="152.40" y2="203.60" stroke="#222" stroke-width="0.9"/>
<line x1="148.00" y1="253.20" x2="152.40" y2="253.20" stroke="#222" stroke-width="0.9"/>
<circle cx="150.20" cy="203.60" r="1.75" fill="#44ee2a"/>
<circle cx="150.20" cy="236.30" r="1.75" fill="#44ee2a"/>
<circle cx="150.20" cy="253.20" r="1.75" fill="#44ee2a"/>
<text x="0.00" y="0.00" font-size="6.77" text-anchor="end" transform="translate(49.60 286.80) scale(1 1.08) rotate(-50.86)">PBS control</text>
<text x="0.00" y="0.00" font-size="6.77" text-anchor="end" transform="translate(70.70 286.80) scale(1 1.08) rotate(-50.86)">AMP24 5 µM</text>
<text x="0.00" y="0.00" font-size="6.77" text-anchor="end" transform="translate(91.50 286.80) scale(1 1.08) rotate(-50.86)">AMP24 10 µM</text>
<text x="0.00" y="0.00" font-size="6.77" text-anchor="end" transform="translate(112.30 286.80) scale(1 1.08) rotate(-50.86)">AMP24 25 µM</text>
<text x="0.00" y="0.00" font-size="6.77" text-anchor="end" transform="translate(133.50 286.80) scale(1 1.08) rotate(-50.86)">AMP24 50 µM</text>
<text x="0.00" y="0.00" font-size="6.77" text-anchor="end" transform="translate(154.50 286.80) scale(1 1.08) rotate(-50.86)">AMP24 100 µM</text>
<text x="0.00" y="0.00" font-size="8.5" font-weight="bold" transform="translate(185.30 176.90) scale(1 1.08)">e</text>
<text x="0.00" y="0.00" font-size="7.2" transform="translate(205.20 179.90) scale(1 1.08)">AMP28 Cytotoxicity to Intestinal Model Cells</text>
<line x1="205.20" y1="185.70" x2="205.20" y2="281.20" stroke="#555" stroke-width="1.1"/>
<line x1="204.70" y1="281.20" x2="330.00" y2="281.20" stroke="#333" stroke-width="1.1"/>
<line x1="203.60" y1="281.20" x2="205.20" y2="281.20" stroke="#333" stroke-width="0.9"/>
<text x="0.00" y="0.00" font-size="7.3" text-anchor="end" transform="translate(202.30 283.80) scale(1 1.08)">1</text>
<line x1="203.60" y1="257.45" x2="205.20" y2="257.45" stroke="#333" stroke-width="0.9"/>
<text x="0.00" y="0.00" font-size="7.3" text-anchor="end" transform="translate(202.30 260.05) scale(1 1.08)">1.5</text>
<line x1="203.60" y1="233.70" x2="205.20" y2="233.70" stroke="#333" stroke-width="0.9"/>
<text x="0.00" y="0.00" font-size="7.3" text-anchor="end" transform="translate(202.30 236.30) scale(1 1.08)">2</text>
<line x1="203.60" y1="209.95" x2="205.20" y2="209.95" stroke="#333" stroke-width="0.9"/>
<text x="0.00" y="0.00" font-size="7.3" text-anchor="end" transform="translate(202.30 212.55) scale(1 1.08)">2.5</text>
<line x1="203.60" y1="186.20" x2="205.20" y2="186.20" stroke="#333" stroke-width="0.9"/>
<text x="0.00" y="0.00" font-size="6.6" text-anchor="end" transform="translate(202.80 188.10) scale(1 1.08)">3</text>
<text x="184.40" y="237.62" font-size="7.7" transform="rotate(-90 184.40 237.62)">OD<tspan font-size="5.20" dy="2.0">450nm</tspan></text>
<rect x="210.40" y="224.10" width="10.80" height="5.00" fill="#fff" stroke="#222" stroke-width="1.15" rx="0.6"/>
<line x1="213.60" y1="222.10" x2="218.00" y2="222.10" stroke="#222" stroke-width="0.9"/>
<circle cx="215.80" cy="222.10" r="1.75" fill="#2de89a"/>
<circle cx="215.80" cy="229.10" r="1.75" fill="#2de89a"/>
<rect x="231.40" y="225.30" width="10.80" height="1.20" fill="#222" stroke="#222" stroke-width="1.15" rx="0.6"/>
<circle cx="236.80" cy="225.50" r="1.75" fill="#2de89a"/>
<circle cx="236.80" cy="226.00" r="1.75" fill="#2de89a"/>
<rect x="252.30" y="229.60" width="10.80" height="5.00" fill="#fff" stroke="#222" stroke-width="1.15" rx="0.6"/>
<line x1="255.50" y1="227.90" x2="259.90" y2="227.90" stroke="#222" stroke-width="0.9"/>
<circle cx="257.70" cy="227.90" r="1.75" fill="#2de89a"/>
<circle cx="257.70" cy="234.10" r="1.75" fill="#2de89a"/>
<line x1="278.30" y1="214.70" x2="278.30" y2="220.20" stroke="#222" stroke-width="1.0"/>
<line x1="278.30" y1="240.80" x2="278.30" y2="242.00" stroke="#222" stroke-width="1.0"/>
<rect x="272.90" y="220.20" width="10.80" height="20.60" fill="#fff" stroke="#222" stroke-width="1.15" rx="0.6"/>
<line x1="272.90" y1="235.30" x2="283.70" y2="235.30" stroke="#222" stroke-width="1.1"/>
<line x1="276.10" y1="214.70" x2="280.50" y2="214.70" stroke="#222" stroke-width="0.9"/>
<line x1="276.10" y1="242.00" x2="280.50" y2="242.00" stroke="#222" stroke-width="0.9"/>
<circle cx="278.30" cy="214.70" r="1.75" fill="#2de89a"/>
<circle cx="278.30" cy="235.30" r="1.75" fill="#2de89a"/>
<circle cx="278.30" cy="242.00" r="1.75" fill="#2de89a"/>
<line x1="299.30" y1="227.10" x2="299.30" y2="228.80" stroke="#222" stroke-width="1.0"/>
<rect x="293.90" y="219.20" width="10.80" height="7.90" fill="#fff" stroke="#222" stroke-width="1.15" rx="0.6"/>
<line x1="293.90" y1="223.40" x2="304.70" y2="223.40" stroke="#222" stroke-width="1.1"/>
<line x1="297.10" y1="217.70" x2="301.50" y2="217.70" stroke="#222" stroke-width="0.9"/>
<line x1="297.10" y1="228.80" x2="301.50" y2="228.80" stroke="#222" stroke-width="0.9"/>
<circle cx="299.30" cy="217.70" r="1.75" fill="#2de89a"/>
<circle cx="299.30" cy="223.40" r="1.75" fill="#2de89a"/>
<circle cx="299.30" cy="228.80" r="1.75" fill="#2de89a"/>
<line x1="320.10" y1="211.00" x2="320.10" y2="212.20" stroke="#222" stroke-width="1.0"/>
<line x1="320.10" y1="240.80" x2="320.10" y2="248.70" stroke="#222" stroke-width="1.0"/>
<rect x="314.70" y="212.20" width="10.80" height="28.60" fill="#fff" stroke="#222" stroke-width="1.15" rx="0.6"/>
<line x1="314.70" y1="214.70" x2="325.50" y2="214.70" stroke="#222" stroke-width="1.1"/>
<line x1="317.90" y1="211.00" x2="322.30" y2="211.00" stroke="#222" stroke-width="0.9"/>
<line x1="317.90" y1="248.70" x2="322.30" y2="248.70" stroke="#222" stroke-width="0.9"/>
<circle cx="320.10" cy="211.00" r="1.75" fill="#2de89a"/>
<circle cx="320.10" cy="214.70" r="1.75" fill="#2de89a"/>
<circle cx="320.10" cy="248.70" r="1.75" fill="#2de89a"/>
<text x="0.00" y="0.00" font-size="6.77" text-anchor="end" transform="translate(219.90 287.30) scale(1 1.08) rotate(-50.86)">PBS control</text>
<text x="0.00" y="0.00" font-size="6.77" text-anchor="end" transform="translate(240.90 287.30) scale(1 1.08) rotate(-50.86)">AMP28 5 µM</text>
<text x="0.00" y="0.00" font-size="6.77" text-anchor="end" transform="translate(261.80 287.30) scale(1 1.08) rotate(-50.86)">AMP28 10 µM</text>
<text x="0.00" y="0.00" font-size="6.77" text-anchor="end" transform="translate(282.40 287.30) scale(1 1.08) rotate(-50.86)">AMP28 25 µM</text>
<text x="0.00" y="0.00" font-size="6.77" text-anchor="end" transform="translate(303.40 287.30) scale(1 1.08) rotate(-50.86)">AMP28 50 µM</text>
<text x="0.00" y="0.00" font-size="6.77" text-anchor="end" transform="translate(324.20 287.30) scale(1 1.08) rotate(-50.86)">AMP28 100 µM</text>
<text x="0.00" y="0.00" font-size="8.5" font-weight="bold" transform="translate(363.20 177.20) scale(1 1.08)">f</text>
<text x="0.00" y="0.00" font-size="7.2" transform="translate(375.20 180.30) scale(1 1.08)">AMP30 Cytotoxicity to Intestinal Model Cells</text>
<line x1="377.20" y1="189.90" x2="377.20" y2="285.00" stroke="#555" stroke-width="1.1"/>
<line x1="376.70" y1="285.00" x2="501.30" y2="285.00" stroke="#333" stroke-width="1.1"/>
<line x1="375.60" y1="285.00" x2="377.20" y2="285.00" stroke="#333" stroke-width="0.9"/>
<text x="0.00" y="0.00" font-size="7.3" text-anchor="end" transform="translate(374.30 287.60) scale(1 1.08)">1</text>
<line x1="375.60" y1="261.35" x2="377.20" y2="261.35" stroke="#333" stroke-width="0.9"/>
<text x="0.00" y="0.00" font-size="7.3" text-anchor="end" transform="translate(374.30 263.95) scale(1 1.08)">1.5</text>
<line x1="375.60" y1="237.70" x2="377.20" y2="237.70" stroke="#333" stroke-width="0.9"/>
<text x="0.00" y="0.00" font-size="7.3" text-anchor="end" transform="translate(374.30 240.30) scale(1 1.08)">2</text>
<line x1="375.60" y1="214.05" x2="377.20" y2="214.05" stroke="#333" stroke-width="0.9"/>
<text x="0.00" y="0.00" font-size="7.3" text-anchor="end" transform="translate(374.30 216.65) scale(1 1.08)">2.5</text>
<line x1="375.60" y1="190.40" x2="377.20" y2="190.40" stroke="#333" stroke-width="0.9"/>
<text x="0.00" y="0.00" font-size="6.6" text-anchor="end" transform="translate(373.80 191.60) scale(1 1.08)">3</text>
<text x="359.40" y="240.62" font-size="7.7" transform="rotate(-90 359.40 240.62)">OD<tspan font-size="5.20" dy="2.0">450nm</tspan></text>
<rect x="382.80" y="241.30" width="11.20" height="2.50" fill="#fff" stroke="#222" stroke-width="1.15" rx="0.6"/>
<line x1="382.80" y1="242.50" x2="394.00" y2="242.50" stroke="#222" stroke-width="1.1"/>
<circle cx="388.40" cy="240.80" r="1.75" fill="#1e90ff"/>
<circle cx="388.40" cy="244.00" r="1.75" fill="#1e90ff"/>
<rect x="403.30" y="249.50" width="11.20" height="4.40" fill="#fff" stroke="#222" stroke-width="1.15" rx="0.6"/>
<line x1="403.30" y1="252.00" x2="414.50" y2="252.00" stroke="#222" stroke-width="1.1"/>
<line x1="406.70" y1="247.50" x2="411.10" y2="247.50" stroke="#222" stroke-width="0.9"/>
<circle cx="408.90" cy="247.50" r="1.75" fill="#1e90ff"/>
<circle cx="408.90" cy="253.90" r="1.75" fill="#1e90ff"/>
<line x1="429.00" y1="237.80" x2="429.00" y2="240.00" stroke="#222" stroke-width="1.0"/>
<line x1="429.00" y1="250.20" x2="429.00" y2="251.50" stroke="#222" stroke-width="1.0"/>
<rect x="423.40" y="240.00" width="11.20" height="10.20" fill="#fff" stroke="#222" stroke-width="1.15" rx="0.6"/>
<line x1="423.40" y1="246.50" x2="434.60" y2="246.50" stroke="#222" stroke-width="1.1"/>
<line x1="426.80" y1="237.80" x2="431.20" y2="237.80" stroke="#222" stroke-width="0.9"/>
<line x1="426.80" y1="251.50" x2="431.20" y2="251.50" stroke="#222" stroke-width="0.9"/>
<circle cx="429.00" cy="237.80" r="1.75" fill="#1e90ff"/>
<circle cx="429.00" cy="246.50" r="1.75" fill="#1e90ff"/>
<circle cx="429.00" cy="251.50" r="1.75" fill="#1e90ff"/>
<rect x="443.50" y="249.80" width="11.20" height="4.80" fill="#fff" stroke="#222" stroke-width="1.15" rx="0.6"/>
<line x1="443.50" y1="252.40" x2="454.70" y2="252.40" stroke="#222" stroke-width="1.1"/>
<circle cx="449.10" cy="252.00" r="1.75" fill="#1e90ff"/>
<rect x="464.10" y="250.00" width="11.20" height="4.60" fill="#fff" stroke="#222" stroke-width="1.15" rx="0.6"/>
<line x1="464.10" y1="252.60" x2="475.30" y2="252.60" stroke="#222" stroke-width="1.1"/>
<line x1="467.50" y1="249.00" x2="471.90" y2="249.00" stroke="#222" stroke-width="0.9"/>
<circle cx="469.70" cy="249.00" r="1.75" fill="#1e90ff"/>
<circle cx="469.70" cy="253.90" r="1.75" fill="#1e90ff"/>
<line x1="490.20" y1="259.90" x2="490.20" y2="261.40" stroke="#222" stroke-width="1.0"/>
<rect x="484.60" y="252.70" width="11.20" height="7.20" fill="#fff" stroke="#222" stroke-width="1.15" rx="0.6"/>
<line x1="484.60" y1="259.00" x2="495.80" y2="259.00" stroke="#222" stroke-width="1.1"/>
<line x1="488.00" y1="261.40" x2="492.40" y2="261.40" stroke="#222" stroke-width="0.9"/>
<circle cx="490.20" cy="252.70" r="1.75" fill="#1e90ff"/>
<circle cx="490.20" cy="261.40" r="1.75" fill="#1e90ff"/>
<text x="0.00" y="0.00" font-size="6.77" text-anchor="end" transform="translate(393.40 291.50) scale(1 1.08) rotate(-50.86)">PBS control</text>
<text x="0.00" y="0.00" font-size="6.77" text-anchor="end" transform="translate(413.90 291.50) scale(1 1.08) rotate(-50.86)">AMP30 5 µM</text>
<text x="0.00" y="0.00" font-size="6.77" text-anchor="end" transform="translate(434.00 291.50) scale(1 1.08) rotate(-50.86)">AMP30 10 µM</text>
<text x="0.00" y="0.00" font-size="6.77" text-anchor="end" transform="translate(454.10 291.50) scale(1 1.08) rotate(-50.86)">AMP30 25 µM</text>
<text x="0.00" y="0.00" font-size="6.77" text-anchor="end" transform="translate(474.70 291.50) scale(1 1.08) rotate(-50.86)">AMP30 50 µM</text>
<text x="0.00" y="0.00" font-size="6.77" text-anchor="end" transform="translate(495.20 291.50) scale(1 1.08) rotate(-50.86)">AMP30 100 µM</text>
<text x="490.20" y="252.60" font-size="10.5" text-anchor="middle">*</text>
<text transform="translate(460.80 241.50) scale(1 1.05)" font-size="6.0" textLength="32.3" lengthAdjust="spacingAndGlyphs" style="stroke-width:0px">Viability Rate:</text>
<text transform="translate(494.40 241.50) scale(1 1.05)" font-size="6.0" fill="#e0483a" stroke="#e0483a" stroke-width="0.12" textLength="18.4" lengthAdjust="spacingAndGlyphs">89.30%</text>
<text x="0.00" y="0.00" font-size="8.5" font-weight="bold" transform="translate(534.60 172.20) scale(1 1.08)">g</text>
<text x="0.00" y="0.00" font-size="7.2" transform="translate(543.20 180.40) scale(1 1.08)">AMP31 Cytotoxicity to Intestinal Model Cells</text>
<line x1="552.20" y1="188.90" x2="552.20" y2="284.20" stroke="#555" stroke-width="1.1"/>
<line x1="551.70" y1="284.20" x2="675.00" y2="284.20" stroke="#333" stroke-width="1.1"/>
<line x1="550.60" y1="284.20" x2="552.20" y2="284.20" stroke="#333" stroke-width="0.9"/>
<text x="0.00" y="0.00" font-size="7.3" text-anchor="end" transform="translate(549.30 286.80) scale(1 1.08)">1</text>
<line x1="550.60" y1="260.50" x2="552.20" y2="260.50" stroke="#333" stroke-width="0.9"/>
<text x="0.00" y="0.00" font-size="7.3" text-anchor="end" transform="translate(549.30 263.10) scale(1 1.08)">1.5</text>
<line x1="550.60" y1="236.80" x2="552.20" y2="236.80" stroke="#333" stroke-width="0.9"/>
<text x="0.00" y="0.00" font-size="7.3" text-anchor="end" transform="translate(549.30 239.40) scale(1 1.08)">2</text>
<line x1="550.60" y1="213.10" x2="552.20" y2="213.10" stroke="#333" stroke-width="0.9"/>
<text x="0.00" y="0.00" font-size="7.3" text-anchor="end" transform="translate(549.30 215.70) scale(1 1.08)">2.5</text>
<line x1="550.60" y1="189.40" x2="552.20" y2="189.40" stroke="#333" stroke-width="0.9"/>
<text x="0.00" y="0.00" font-size="6.6" text-anchor="end" transform="translate(548.60 191.30) scale(1 1.08)">3</text>
<text x="532.10" y="237.92" font-size="7.7" transform="rotate(-90 532.10 237.92)">OD<tspan font-size="5.20" dy="2.0">450nm</tspan></text>
<line x1="562.80" y1="251.20" x2="562.80" y2="253.90" stroke="#222" stroke-width="1.0"/>
<rect x="557.40" y="239.60" width="10.80" height="11.60" fill="#fff" stroke="#222" stroke-width="1.15" rx="0.6"/>
<line x1="557.40" y1="242.80" x2="568.20" y2="242.80" stroke="#222" stroke-width="1.1"/>
<line x1="560.60" y1="253.90" x2="565.00" y2="253.90" stroke="#222" stroke-width="0.9"/>
<circle cx="562.80" cy="238.80" r="1.75" fill="#5b22f5"/>
<circle cx="562.80" cy="242.80" r="1.75" fill="#5b22f5"/>
<circle cx="562.80" cy="253.90" r="1.75" fill="#5b22f5"/>
<rect x="577.80" y="250.00" width="10.80" height="3.70" fill="#fff" stroke="#222" stroke-width="1.15" rx="0.6"/>
<line x1="577.80" y1="252.00" x2="588.60" y2="252.00" stroke="#222" stroke-width="1.1"/>
<circle cx="583.20" cy="250.20" r="1.75" fill="#5b22f5"/>
<circle cx="583.20" cy="252.70" r="1.75" fill="#5b22f5"/>
<line x1="603.50" y1="256.20" x2="603.50" y2="257.70" stroke="#222" stroke-width="1.0"/>
<rect x="598.10" y="251.20" width="10.80" height="5.00" fill="#fff" stroke="#222" stroke-width="1.15" rx="0.6"/>
<line x1="601.30" y1="257.70" x2="605.70" y2="257.70" stroke="#222" stroke-width="0.9"/>
<circle cx="603.50" cy="250.70" r="1.75" fill="#5b22f5"/>
<circle cx="603.50" cy="257.70" r="1.75" fill="#5b22f5"/>
<line x1="623.80" y1="235.80" x2="623.80" y2="240.30" stroke="#222" stroke-width="1.0"/>
<line x1="623.80" y1="256.90" x2="623.80" y2="258.20" stroke="#222" stroke-width="1.0"/>
<rect x="618.40" y="240.30" width="10.80" height="16.60" fill="#fff" stroke="#222" stroke-width="1.15" rx="0.6"/>
<line x1="618.40" y1="253.20" x2="629.20" y2="253.20" stroke="#222" stroke-width="1.1"/>
<line x1="621.60" y1="235.80" x2="626.00" y2="235.80" stroke="#222" stroke-width="0.9"/>
<line x1="621.60" y1="258.20" x2="626.00" y2="258.20" stroke="#222" stroke-width="0.9"/>
<circle cx="623.80" cy="235.80" r="1.75" fill="#5b22f5"/>
<circle cx="623.80" cy="253.20" r="1.75" fill="#5b22f5"/>
<circle cx="623.80" cy="258.20" r="1.75" fill="#5b22f5"/>
<rect x="639.00" y="249.30" width="10.80" height="1.20" fill="#222" stroke="#222" stroke-width="1.15" rx="0.6"/>
<circle cx="644.40" cy="249.50" r="1.75" fill="#5b22f5"/>
<rect x="659.40" y="252.00" width="10.80" height="2.40" fill="#fff" stroke="#222" stroke-width="1.15" rx="0.6"/>
<line x1="659.40" y1="253.20" x2="670.20" y2="253.20" stroke="#222" stroke-width="1.1"/>
<circle cx="664.80" cy="251.50" r="1.75" fill="#5b22f5"/>
<circle cx="664.80" cy="254.50" r="1.75" fill="#5b22f5"/>
<text x="0.00" y="0.00" font-size="6.77" text-anchor="end" transform="translate(567.70 288.60) scale(1 1.08) rotate(-50.86)">PBS control</text>
<text x="0.00" y="0.00" font-size="6.77" text-anchor="end" transform="translate(588.10 288.60) scale(1 1.08) rotate(-50.86)">AMP31 5 µM</text>
<text x="0.00" y="0.00" font-size="6.77" text-anchor="end" transform="translate(608.40 288.60) scale(1 1.08) rotate(-50.86)">AMP31 10 µM</text>
<text x="0.00" y="0.00" font-size="6.77" text-anchor="end" transform="translate(628.70 288.60) scale(1 1.08) rotate(-50.86)">AMP31 25 µM</text>
<text x="0.00" y="0.00" font-size="6.77" text-anchor="end" transform="translate(649.30 288.60) scale(1 1.08) rotate(-50.86)">AMP31 50 µM</text>
<text x="0.00" y="0.00" font-size="6.77" text-anchor="end" transform="translate(669.70 288.60) scale(1 1.08) rotate(-50.86)">AMP31 100 µM</text>
<text x="0.00" y="0.00" font-size="8.5" font-weight="bold" transform="translate(5.80 346.90) scale(1 1.08)">h</text>
<text x="0.00" y="0.00" font-size="7.2" transform="translate(33.10 345.40) scale(1 1.08)">AMP38 CCK8 Cytotoxicity to Intestinal Model Cells</text>
<line x1="36.70" y1="354.30" x2="36.70" y2="448.20" stroke="#555" stroke-width="1.1"/>
<line x1="36.20" y1="448.20" x2="164.90" y2="448.20" stroke="#333" stroke-width="1.1"/>
<line x1="35.10" y1="448.20" x2="36.70" y2="448.20" stroke="#333" stroke-width="0.9"/>
<text x="0.00" y="0.00" font-size="7.3" text-anchor="end" transform="translate(33.60 450.80) scale(1 1.08)">1</text>
<line x1="35.10" y1="424.85" x2="36.70" y2="424.85" stroke="#333" stroke-width="0.9"/>
<text x="0.00" y="0.00" font-size="7.3" text-anchor="end" transform="translate(33.60 427.45) scale(1 1.08)">1.5</text>
<line x1="35.10" y1="401.50" x2="36.70" y2="401.50" stroke="#333" stroke-width="0.9"/>
<text x="0.00" y="0.00" font-size="7.3" text-anchor="end" transform="translate(33.60 404.10) scale(1 1.08)">2</text>
<line x1="35.10" y1="378.15" x2="36.70" y2="378.15" stroke="#333" stroke-width="0.9"/>
<text x="0.00" y="0.00" font-size="7.3" text-anchor="end" transform="translate(33.60 380.75) scale(1 1.08)">2.5</text>
<line x1="35.10" y1="354.80" x2="36.70" y2="354.80" stroke="#333" stroke-width="0.9"/>
<text x="0.00" y="0.00" font-size="7.3" text-anchor="end" transform="translate(33.60 357.40) scale(1 1.08)">3</text>
<text x="16.40" y="409.32" font-size="7.7" transform="rotate(-90 16.40 409.32)">OD<tspan font-size="5.20" dy="2.0">450nm</tspan></text>
<line x1="46.80" y1="408.50" x2="46.80" y2="409.20" stroke="#222" stroke-width="1.0"/>
<rect x="41.00" y="402.30" width="11.60" height="6.20" fill="#fff" stroke="#222" stroke-width="1.15" rx="0.6"/>
<line x1="41.00" y1="405.50" x2="52.60" y2="405.50" stroke="#222" stroke-width="1.1"/>
<line x1="44.60" y1="401.00" x2="49.00" y2="401.00" stroke="#222" stroke-width="0.9"/>
<circle cx="46.80" cy="401.00" r="1.75" fill="#ff14ee"/>
<circle cx="46.80" cy="405.50" r="1.75" fill="#ff14ee"/>
<circle cx="46.80" cy="409.20" r="1.75" fill="#ff14ee"/>
<line x1="67.90" y1="420.40" x2="67.90" y2="421.60" stroke="#222" stroke-width="1.0"/>
<rect x="62.10" y="414.20" width="11.60" height="6.20" fill="#fff" stroke="#222" stroke-width="1.15" rx="0.6"/>
<line x1="62.10" y1="417.00" x2="73.70" y2="417.00" stroke="#222" stroke-width="1.1"/>
<line x1="65.70" y1="421.60" x2="70.10" y2="421.60" stroke="#222" stroke-width="0.9"/>
<circle cx="67.90" cy="414.20" r="1.75" fill="#ff14ee"/>
<circle cx="67.90" cy="421.60" r="1.75" fill="#ff14ee"/>
<rect x="83.80" y="416.10" width="11.60" height="1.00" fill="#222" stroke="#222" stroke-width="1.15" rx="0.6"/>
<circle cx="89.60" cy="416.60" r="1.75" fill="#ff14ee"/>
<line x1="110.80" y1="419.60" x2="110.80" y2="420.40" stroke="#222" stroke-width="1.0"/>
<rect x="105.00" y="420.40" width="11.60" height="5.40" fill="#fff" stroke="#222" stroke-width="1.15" rx="0.6"/>
<line x1="105.00" y1="423.00" x2="116.60" y2="423.00" stroke="#222" stroke-width="1.1"/>
<circle cx="110.80" cy="419.60" r="1.75" fill="#ff14ee"/>
<circle cx="110.80" cy="422.90" r="1.75" fill="#ff14ee"/>
<circle cx="110.80" cy="425.80" r="1.75" fill="#ff14ee"/>
<rect x="126.60" y="419.60" width="11.60" height="6.20" fill="#fff" stroke="#222" stroke-width="1.15" rx="0.6"/>
<line x1="126.60" y1="422.50" x2="138.20" y2="422.50" stroke="#222" stroke-width="1.1"/>
<circle cx="132.40" cy="419.60" r="1.75" fill="#ff14ee"/>
<circle cx="132.40" cy="422.90" r="1.75" fill="#ff14ee"/>
<circle cx="132.40" cy="425.80" r="1.75" fill="#ff14ee"/>
<line x1="153.90" y1="425.80" x2="153.90" y2="426.60" stroke="#222" stroke-width="1.0"/>
<line x1="153.90" y1="433.30" x2="153.90" y2="434.50" stroke="#222" stroke-width="1.0"/>
<rect x="148.10" y="426.60" width="11.60" height="6.70" fill="#fff" stroke="#222" stroke-width="1.15" rx="0.6"/>
<line x1="148.10" y1="429.60" x2="159.70" y2="429.60" stroke="#222" stroke-width="1.1"/>
<line x1="151.70" y1="434.50" x2="156.10" y2="434.50" stroke="#222" stroke-width="0.9"/>
<circle cx="153.90" cy="425.80" r="1.75" fill="#ff14ee"/>
<circle cx="153.90" cy="429.60" r="1.75" fill="#ff14ee"/>
<circle cx="153.90" cy="434.50" r="1.75" fill="#ff14ee"/>
<text x="0.00" y="0.00" font-size="6.77" text-anchor="end" transform="translate(52.30 453.90) scale(1 1.08) rotate(-50.86)">PBS control</text>
<text x="0.00" y="0.00" font-size="6.77" text-anchor="end" transform="translate(73.40 453.90) scale(1 1.08) rotate(-50.86)">AMP38 5 µM</text>
<text x="0.00" y="0.00" font-size="6.77" text-anchor="end" transform="translate(95.10 453.90) scale(1 1.08) rotate(-50.86)">AMP38 10 µM</text>
<text x="0.00" y="0.00" font-size="6.77" text-anchor="end" transform="translate(116.30 453.90) scale(1 1.08) rotate(-50.86)">AMP38 25 µM</text>
<text x="0.00" y="0.00" font-size="6.77" text-anchor="end" transform="translate(137.90 453.90) scale(1 1.08) rotate(-50.86)">AMP38 50 µM</text>
<text x="0.00" y="0.00" font-size="6.77" text-anchor="end" transform="translate(159.40 453.90) scale(1 1.08) rotate(-50.86)">AMP38 100 µM</text>
<path d="M47.1 358.40V356.00H158.80V358.40" fill="none" stroke="#333" stroke-width="0.9"/>
<text x="78.90" y="356.00" font-size="8.6" textLength="10.0" lengthAdjust="spacing">***</text>
<text transform="translate(91.80 353.70) scale(1 1.05)" font-size="6.0" textLength="32.3" lengthAdjust="spacingAndGlyphs" style="stroke-width:0px">Viability Rate:</text>
<text transform="translate(125.40 353.70) scale(1 1.05)" font-size="6.0" fill="#e0483a" stroke="#e0483a" stroke-width="0.12" textLength="18.4" lengthAdjust="spacingAndGlyphs">74.05%</text>
<path d="M47.1 369.10V366.70H132.80V369.10" fill="none" stroke="#333" stroke-width="0.9"/>
<text x="76.90" y="366.00" font-size="8.6" textLength="6.6" lengthAdjust="spacing">**</text>
<text transform="translate(88.00 363.70) scale(1 1.05)" font-size="6.0" textLength="32.3" lengthAdjust="spacingAndGlyphs" style="stroke-width:0px">Viability Rate:</text>
<text transform="translate(121.60 363.70) scale(1 1.05)" font-size="6.0" fill="#e0483a" stroke="#e0483a" stroke-width="0.12" textLength="18.4" lengthAdjust="spacingAndGlyphs">81.93%</text>
<path d="M47.1 378.30V375.90H111.20V378.30" fill="none" stroke="#333" stroke-width="0.9"/>
<text x="73.20" y="375.90" font-size="8.6" textLength="6.6" lengthAdjust="spacing">**</text>
<text transform="translate(85.10 373.60) scale(1 1.05)" font-size="6.0" textLength="32.3" lengthAdjust="spacingAndGlyphs" style="stroke-width:0px">Viability Rate:</text>
<text transform="translate(118.70 373.60) scale(1 1.05)" font-size="6.0" fill="#e0483a" stroke="#e0483a" stroke-width="0.12" textLength="18.4" lengthAdjust="spacingAndGlyphs">81.49%</text>
<path d="M47.1 388.50V386.10H89.80V388.50" fill="none" stroke="#333" stroke-width="0.9"/>
<text x="65.80" y="386.60" font-size="8.6" textLength="3.2" lengthAdjust="spacing">*</text>
<text transform="translate(72.70 384.30) scale(1 1.05)" font-size="6.0" textLength="32.3" lengthAdjust="spacingAndGlyphs" style="stroke-width:0px">Viability Rate:</text>
<text transform="translate(106.30 384.30) scale(1 1.05)" font-size="6.0" fill="#e0483a" stroke="#e0483a" stroke-width="0.12" textLength="18.4" lengthAdjust="spacingAndGlyphs">88.08%</text>
<path d="M47.1 398.40V396.00H66.50V398.40" fill="none" stroke="#333" stroke-width="0.9"/>
<text x="54.60" y="397.30" font-size="8.6" textLength="3.2" lengthAdjust="spacing">*</text>
<text transform="translate(62.00 395.00) scale(1 1.05)" font-size="6.0" textLength="32.3" lengthAdjust="spacingAndGlyphs" style="stroke-width:0px">Viability Rate:</text>
<text transform="translate(95.60 395.00) scale(1 1.05)" font-size="6.0" fill="#e0483a" stroke="#e0483a" stroke-width="0.12" textLength="18.4" lengthAdjust="spacingAndGlyphs">88.21%</text>
<text x="0.00" y="0.00" font-size="8.5" font-weight="bold" transform="translate(208.60 342.80) scale(1 1.08)">i</text>
<defs>
<linearGradient id="rg" x1="0" y1="0" x2="0" y2="1">
<stop offset="0" stop-color="#fff" stop-opacity="0.22"/>
<stop offset="0.5" stop-color="#fff" stop-opacity="0.04"/>
<stop offset="1" stop-color="#000" stop-opacity="0.28"/>
</linearGradient>
<radialGradient id="cg" cx="0.42" cy="0.4" r="0.62" fx="0.35" fy="0.3">
<stop offset="0" stop-color="#fff" stop-opacity="0.30"/>
<stop offset="0.55" stop-color="#fff" stop-opacity="0.05"/>
<stop offset="0.85" stop-color="#000" stop-opacity="0.18"/>
<stop offset="1" stop-color="#000" stop-opacity="0.45"/>
</radialGradient>
<filter id="sh" x="-10%" y="-10%" width="130%" height="130%"><feGaussianBlur stdDeviation="1.1"/></filter>
<filter id="bl" x="-20%" y="-20%" width="140%" height="140%"><feGaussianBlur stdDeviation="0.6"/></filter>
<filter id="t1" x="0" y="0" width="100%" height="100%" color-interpolation-filters="sRGB"><feTurbulence type="fractalNoise" baseFrequency="0.3" numOctaves="3" seed="3"/><feColorMatrix type="matrix" values="1.7 0 0 0 -0.35  1.7 0 0 0 -0.35  1.7 0 0 0 -0.35  0 0 0 0 1"/></filter>
<filter id="t2" x="0" y="0" width="100%" height="100%" color-interpolation-filters="sRGB"><feTurbulence type="fractalNoise" baseFrequency="0.6" numOctaves="2" seed="5"/><feColorMatrix type="matrix" values="1.6 0 0 0 -0.30  1.6 0 0 0 -0.30  1.6 0 0 0 -0.30  0 0 0 0 1"/></filter>
<filter id="t3" x="0" y="0" width="100%" height="100%" color-interpolation-filters="sRGB"><feTurbulence type="fractalNoise" baseFrequency="0.95" numOctaves="1" seed="8"/><feColorMatrix type="matrix" values="1.5 0 0 0 -0.25  1.5 0 0 0 -0.25  1.5 0 0 0 -0.25  0 0 0 0 1"/></filter>
<filter id="t4" x="0" y="0" width="100%" height="100%" color-interpolation-filters="sRGB"><feTurbulence type="fractalNoise" baseFrequency="0.2" numOctaves="3" seed="11"/><feColorMatrix type="matrix" values="1.8 0 0 0 -0.40  1.8 0 0 0 -0.40  1.8 0 0 0 -0.40  0 0 0 0 1"/></filter>
<filter id="t5" x="0" y="0" width="100%" height="100%" color-interpolation-filters="sRGB"><feTurbulence type="fractalNoise" baseFrequency="0.45" numOctaves="3" seed="17"/><feColorMatrix type="matrix" values="2.0 0 0 0 -0.50  2.0 0 0 0 -0.50  2.0 0 0 0 -0.50  0 0 0 0 1"/></filter>
</defs>
<rect x="242.70" y="339.10" width="77.40" height="51.80" fill="#8c8c8c" filter="url(#sh)"/>
<clipPath id="c1"><rect x="242.10" y="338.30" width="75.80" height="50.20"/></clipPath>
<g clip-path="url(#c1)">
<rect x="242.10" y="338.30" width="75.80" height="50.20" fill="#6a6a6a"/>
<rect x="242.10" y="338.30" width="75.80" height="50.20" filter="url(#t2)" opacity="0.15" style="mix-blend-mode:overlay"/>
<rect transform="translate(265.6 351.5) rotate(15)" x="-3.8" y="-1.6" width="7.6" height="3.1" rx="1.6" opacity="0.5"/><g transform="translate(265.1 350.9) rotate(15)"><rect x="-3.8" y="-1.6" width="7.6" height="3.1" rx="1.6" fill="#9c9c9c" stroke="#4a4a4a" stroke-width=".35"/><rect x="-3.8" y="-1.6" width="7.6" height="3.1" rx="1.6" fill="url(#rg)"/></g>
<rect transform="translate(268.5 359.1) rotate(60)" x="-3.8" y="-1.6" width="7.6" height="3.1" rx="1.6" opacity="0.5"/><g transform="translate(268 358.5) rotate(60)"><rect x="-3.8" y="-1.6" width="7.6" height="3.1" rx="1.6" fill="#9c9c9c" stroke="#4a4a4a" stroke-width=".35"/><rect x="-3.8" y="-1.6" width="7.6" height="3.1" rx="1.6" fill="url(#rg)"/></g>
<rect transform="translate(251 361.4) rotate(80)" x="-4.4" y="-1.6" width="8.8" height="3.1" rx="1.6" opacity="0.5"/><g transform="translate(250.5 360.8) rotate(80)"><rect x="-4.4" y="-1.6" width="8.8" height="3.1" rx="1.6" fill="#9c9c9c" stroke="#4a4a4a" stroke-width=".35"/><rect x="-4.4" y="-1.6" width="8.8" height="3.1" rx="1.6" fill="url(#rg)"/></g>
<rect transform="translate(258 360.9) rotate(15)" x="-4.4" y="-1.6" width="8.8" height="3.1" rx="1.6" opacity="0.5"/><g transform="translate(257.5 360.3) rotate(15)"><rect x="-4.4" y="-1.6" width="8.8" height="3.1" rx="1.6" fill="#9c9c9c" stroke="#4a4a4a" stroke-width=".35"/><rect x="-4.4" y="-1.6" width="8.8" height="3.1" rx="1.6" fill="url(#rg)"/></g>
<rect transform="translate(262.7 367.9) rotate(65)" x="-5" y="-1.6" width="9.9" height="3.1" rx="1.6" opacity="0.5"/><g transform="translate(262.2 367.3) rotate(65)"><rect x="-5" y="-1.6" width="9.9" height="3.1" rx="1.6" fill="#9c9c9c" stroke="#4a4a4a" stroke-width=".35"/><rect x="-5" y="-1.6" width="9.9" height="3.1" rx="1.6" fill="url(#rg)"/></g>
<rect transform="translate(266.8 366.1) rotate(75)" x="-5.6" y="-1.6" width="11.1" height="3.1" rx="1.6" opacity="0.5"/><g transform="translate(266.3 365.5) rotate(75)"><rect x="-5.6" y="-1.6" width="11.1" height="3.1" rx="1.6" fill="#9c9c9c" stroke="#4a4a4a" stroke-width=".35"/><rect x="-5.6" y="-1.6" width="11.1" height="3.1" rx="1.6" fill="url(#rg)"/></g>
<rect transform="translate(272.6 372) rotate(80)" x="-5" y="-1.6" width="9.9" height="3.1" rx="1.6" opacity="0.5"/><g transform="translate(272.1 371.4) rotate(80)"><rect x="-5" y="-1.6" width="9.9" height="3.1" rx="1.6" fill="#9c9c9c" stroke="#4a4a4a" stroke-width=".35"/><rect x="-5" y="-1.6" width="9.9" height="3.1" rx="1.6" fill="url(#rg)"/></g>
<rect transform="translate(249.3 369.6) rotate(-10)" x="-4.4" y="-1.6" width="8.8" height="3.1" rx="1.6" opacity="0.5"/><g transform="translate(248.8 369) rotate(-10)"><rect x="-4.4" y="-1.6" width="8.8" height="3.1" rx="1.6" fill="#9c9c9c" stroke="#4a4a4a" stroke-width=".35"/><rect x="-4.4" y="-1.6" width="8.8" height="3.1" rx="1.6" fill="url(#rg)"/></g>
<rect transform="translate(255.7 371.4) rotate(85)" x="-4.4" y="-1.6" width="8.8" height="3.1" rx="1.6" opacity="0.5"/><g transform="translate(255.2 370.8) rotate(85)"><rect x="-4.4" y="-1.6" width="8.8" height="3.1" rx="1.6" fill="#9c9c9c" stroke="#4a4a4a" stroke-width=".35"/><rect x="-4.4" y="-1.6" width="8.8" height="3.1" rx="1.6" fill="url(#rg)"/></g>
<rect transform="translate(265 375.5) rotate(5)" x="-4.7" y="-1.6" width="9.4" height="3.1" rx="1.6" opacity="0.5"/><g transform="translate(264.5 374.9) rotate(5)"><rect x="-4.7" y="-1.6" width="9.4" height="3.1" rx="1.6" fill="#9c9c9c" stroke="#4a4a4a" stroke-width=".35"/><rect x="-4.7" y="-1.6" width="9.4" height="3.1" rx="1.6" fill="url(#rg)"/></g>
<rect transform="translate(279 363.2) rotate(-15)" x="-3.8" y="-1.6" width="7.6" height="3.1" rx="1.6" opacity="0.5"/><g transform="translate(278.5 362.6) rotate(-15)"><rect x="-3.8" y="-1.6" width="7.6" height="3.1" rx="1.6" fill="#9c9c9c" stroke="#4a4a4a" stroke-width=".35"/><rect x="-3.8" y="-1.6" width="7.6" height="3.1" rx="1.6" fill="url(#rg)"/></g>
<rect transform="translate(276.7 369.6) rotate(70)" x="-3.8" y="-1.6" width="7.6" height="3.1" rx="1.6" opacity="0.5"/><g transform="translate(276.2 369) rotate(70)"><rect x="-3.8" y="-1.6" width="7.6" height="3.1" rx="1.6" fill="#9c9c9c" stroke="#4a4a4a" stroke-width=".35"/><rect x="-3.8" y="-1.6" width="7.6" height="3.1" rx="1.6" fill="url(#rg)"/></g>
<rect transform="translate(280.8 367.9) rotate(60)" x="-3.8" y="-1.6" width="7.6" height="3.1" rx="1.6" opacity="0.5"/><g transform="translate(280.3 367.3) rotate(60)"><rect x="-3.8" y="-1.6" width="7.6" height="3.1" rx="1.6" fill="#9c9c9c" stroke="#4a4a4a" stroke-width=".35"/><rect x="-3.8" y="-1.6" width="7.6" height="3.1" rx="1.6" fill="url(#rg)"/></g>
<rect transform="translate(284.9 366.1) rotate(-30)" x="-3.8" y="-1.6" width="7.6" height="3.1" rx="1.6" opacity="0.5"/><g transform="translate(284.4 365.5) rotate(-30)"><rect x="-3.8" y="-1.6" width="7.6" height="3.1" rx="1.6" fill="#9c9c9c" stroke="#4a4a4a" stroke-width=".35"/><rect x="-3.8" y="-1.6" width="7.6" height="3.1" rx="1.6" fill="url(#rg)"/></g>
<rect transform="translate(282.5 371.4) rotate(-40)" x="-3.2" y="-1.6" width="6.4" height="3.1" rx="1.6" opacity="0.5"/><g transform="translate(282 370.8) rotate(-40)"><rect x="-3.2" y="-1.6" width="6.4" height="3.1" rx="1.6" fill="#9c9c9c" stroke="#4a4a4a" stroke-width=".35"/><rect x="-3.2" y="-1.6" width="6.4" height="3.1" rx="1.6" fill="url(#rg)"/></g>
<rect transform="translate(279 374.3) rotate(-30)" x="-3.5" y="-1.6" width="7" height="3.1" rx="1.6" opacity="0.5"/><g transform="translate(278.5 373.7) rotate(-30)"><rect x="-3.5" y="-1.6" width="7" height="3.1" rx="1.6" fill="#9c9c9c" stroke="#4a4a4a" stroke-width=".35"/><rect x="-3.5" y="-1.6" width="7" height="3.1" rx="1.6" fill="url(#rg)"/></g>
<rect transform="translate(286 357.9) rotate(60)" x="-4.4" y="-1.6" width="8.8" height="3.1" rx="1.6" opacity="0.5"/><g transform="translate(285.5 357.3) rotate(60)"><rect x="-4.4" y="-1.6" width="8.8" height="3.1" rx="1.6" fill="#9c9c9c" stroke="#4a4a4a" stroke-width=".35"/><rect x="-4.4" y="-1.6" width="8.8" height="3.1" rx="1.6" fill="url(#rg)"/></g>
<rect transform="translate(289.5 354.4) rotate(80)" x="-3.8" y="-1.6" width="7.6" height="3.1" rx="1.6" opacity="0.5"/><g transform="translate(289 353.8) rotate(80)"><rect x="-3.8" y="-1.6" width="7.6" height="3.1" rx="1.6" fill="#9c9c9c" stroke="#4a4a4a" stroke-width=".35"/><rect x="-3.8" y="-1.6" width="7.6" height="3.1" rx="1.6" fill="url(#rg)"/></g>
<rect transform="translate(295.4 363.2) rotate(25)" x="-5.6" y="-1.6" width="11.1" height="3.1" rx="1.6" opacity="0.5"/><g transform="translate(294.9 362.6) rotate(25)"><rect x="-5.6" y="-1.6" width="11.1" height="3.1" rx="1.6" fill="#9c9c9c" stroke="#4a4a4a" stroke-width=".35"/><rect x="-5.6" y="-1.6" width="11.1" height="3.1" rx="1.6" fill="url(#rg)"/></g>
<rect transform="translate(296.6 352.7) rotate(100)" x="-3.8" y="-1.6" width="7.6" height="3.1" rx="1.6" opacity="0.5"/><g transform="translate(296.1 352.1) rotate(100)"><rect x="-3.8" y="-1.6" width="7.6" height="3.1" rx="1.6" fill="#9c9c9c" stroke="#4a4a4a" stroke-width=".35"/><rect x="-3.8" y="-1.6" width="7.6" height="3.1" rx="1.6" fill="url(#rg)"/></g>
<rect transform="translate(300.6 352.7) rotate(70)" x="-3.2" y="-1.6" width="6.4" height="3.1" rx="1.6" opacity="0.5"/><g transform="translate(300.1 352.1) rotate(70)"><rect x="-3.2" y="-1.6" width="6.4" height="3.1" rx="1.6" fill="#9c9c9c" stroke="#4a4a4a" stroke-width=".35"/><rect x="-3.2" y="-1.6" width="6.4" height="3.1" rx="1.6" fill="url(#rg)"/></g>
<rect transform="translate(297.7 359.1) rotate(0)" x="-3.8" y="-1.6" width="7.6" height="3.1" rx="1.6" opacity="0.5"/><g transform="translate(297.2 358.5) rotate(0)"><rect x="-3.8" y="-1.6" width="7.6" height="3.1" rx="1.6" fill="#9c9c9c" stroke="#4a4a4a" stroke-width=".35"/><rect x="-3.8" y="-1.6" width="7.6" height="3.1" rx="1.6" fill="url(#rg)"/></g>
<rect transform="translate(304.1 360.9) rotate(80)" x="-5.6" y="-1.6" width="11.1" height="3.1" rx="1.6" opacity="0.5"/><g transform="translate(303.6 360.3) rotate(80)"><rect x="-5.6" y="-1.6" width="11.1" height="3.1" rx="1.6" fill="#9c9c9c" stroke="#4a4a4a" stroke-width=".35"/><rect x="-5.6" y="-1.6" width="11.1" height="3.1" rx="1.6" fill="url(#rg)"/></g>
<rect transform="translate(309.4 361.4) rotate(50)" x="-3.8" y="-1.6" width="7.6" height="3.1" rx="1.6" opacity="0.5"/><g transform="translate(308.9 360.8) rotate(50)"><rect x="-3.8" y="-1.6" width="7.6" height="3.1" rx="1.6" fill="#9c9c9c" stroke="#4a4a4a" stroke-width=".35"/><rect x="-3.8" y="-1.6" width="7.6" height="3.1" rx="1.6" fill="url(#rg)"/></g>
<rect transform="translate(315.8 368.4) rotate(90)" x="-3.8" y="-1.6" width="7.6" height="3.1" rx="1.6" opacity="0.5"/><g transform="translate(315.3 367.8) rotate(90)"><rect x="-3.8" y="-1.6" width="7.6" height="3.1" rx="1.6" fill="#9c9c9c" stroke="#4a4a4a" stroke-width=".35"/><rect x="-3.8" y="-1.6" width="7.6" height="3.1" rx="1.6" fill="url(#rg)"/></g>
<rect transform="translate(287.8 380.1) rotate(30)" x="-4.4" y="-1.6" width="8.8" height="3.1" rx="1.6" opacity="0.5"/><g transform="translate(287.3 379.5) rotate(30)"><rect x="-4.4" y="-1.6" width="8.8" height="3.1" rx="1.6" fill="#9c9c9c" stroke="#4a4a4a" stroke-width=".35"/><rect x="-4.4" y="-1.6" width="8.8" height="3.1" rx="1.6" fill="url(#rg)"/></g>
<rect transform="translate(282 383.6) rotate(10)" x="-5.6" y="-1.6" width="11.1" height="3.1" rx="1.6" opacity="0.5"/><g transform="translate(281.5 383) rotate(10)"><rect x="-5.6" y="-1.6" width="11.1" height="3.1" rx="1.6" fill="#9c9c9c" stroke="#4a4a4a" stroke-width=".35"/><rect x="-5.6" y="-1.6" width="11.1" height="3.1" rx="1.6" fill="url(#rg)"/></g>
<rect transform="translate(271.4 379.5) rotate(0)" x="-4.4" y="-1.6" width="8.8" height="3.1" rx="1.6" opacity="0.5"/><g transform="translate(270.9 378.9) rotate(0)"><rect x="-4.4" y="-1.6" width="8.8" height="3.1" rx="1.6" fill="#9c9c9c" stroke="#4a4a4a" stroke-width=".35"/><rect x="-4.4" y="-1.6" width="8.8" height="3.1" rx="1.6" fill="url(#rg)"/></g>
<rect transform="translate(256.3 380.7) rotate(30)" x="-3.8" y="-1.6" width="7.6" height="3.1" rx="1.6" opacity="0.5"/><g transform="translate(255.8 380.1) rotate(30)"><rect x="-3.8" y="-1.6" width="7.6" height="3.1" rx="1.6" fill="#9c9c9c" stroke="#4a4a4a" stroke-width=".35"/><rect x="-3.8" y="-1.6" width="7.6" height="3.1" rx="1.6" fill="url(#rg)"/></g>
<rect transform="translate(263.9 385.4) rotate(10)" x="-3.8" y="-1.6" width="7.6" height="3.1" rx="1.6" opacity="0.5"/><g transform="translate(263.4 384.8) rotate(10)"><rect x="-3.8" y="-1.6" width="7.6" height="3.1" rx="1.6" fill="#9c9c9c" stroke="#4a4a4a" stroke-width=".35"/><rect x="-3.8" y="-1.6" width="7.6" height="3.1" rx="1.6" fill="url(#rg)"/></g>
<rect transform="translate(260.4 348) rotate(20)" x="-2.9" y="-1.6" width="5.9" height="3.1" rx="1.6" opacity="0.5"/><g transform="translate(259.9 347.4) rotate(20)"><rect x="-2.9" y="-1.6" width="5.9" height="3.1" rx="1.6" fill="#9c9c9c" stroke="#4a4a4a" stroke-width=".35"/><rect x="-2.9" y="-1.6" width="5.9" height="3.1" rx="1.6" fill="url(#rg)"/></g>
<rect x="242.10" y="338.30" width="75.80" height="50.20" filter="url(#t3)" opacity="0.12" style="mix-blend-mode:soft-light"/>
</g>
<rect x="242.10" y="338.30" width="75.80" height="50.20" fill="none" stroke="#0a0a0a" stroke-width="1"/>
<text x="246.90" y="347.10" font-size="7.1" font-style="italic" fill="#fff" word-spacing="1.4">E. coli</text>
<text x="247.50" y="386.40" font-size="7.0" fill="#fff">Control</text>
<text x="313.60" y="381.00" font-size="6.8" fill="#fff" text-anchor="end">1 µm</text>
<rect x="300.10" y="383.90" width="7.60" height="1.6" fill="#fff"/>
<rect x="322.60" y="339.10" width="75.80" height="51.80" fill="#8c8c8c" filter="url(#sh)"/>
<clipPath id="c2"><rect x="322.00" y="338.30" width="74.20" height="50.20"/></clipPath>
<g clip-path="url(#c2)">
<rect x="322.00" y="338.30" width="74.20" height="50.20" fill="#666666"/>
<rect x="322.00" y="338.30" width="74.20" height="50.20" filter="url(#t1)" opacity="0.5" style="mix-blend-mode:overlay"/>
<rect x="322.00" y="338.30" width="74.20" height="50.20" filter="url(#t3)" opacity="0.35" style="mix-blend-mode:overlay"/>
<ellipse cx="334.00" cy="378.30" rx="16.00" ry="11.00" fill="#8e8e8e" opacity="0.7" transform="rotate(0 334.00 378.30)"/>
<ellipse cx="380.00" cy="346.30" rx="18.00" ry="8.00" fill="#8a8a8a" opacity="0.6" transform="rotate(0 380.00 346.30)"/>
<ellipse cx="382.00" cy="367.30" rx="13.00" ry="8.00" fill="#1e1e1e" opacity="0.85" transform="rotate(10 382.00 367.30)"/>
<ellipse cx="392.00" cy="360.30" rx="6.00" ry="9.00" fill="#262626" opacity="0.7" transform="rotate(0 392.00 360.30)"/>
<ellipse cx="374.00" cy="378.30" rx="7.00" ry="5.00" fill="#303030" opacity="0.6" transform="rotate(0 374.00 378.30)"/>
<rect transform="translate(326.3 359.4) rotate(75)" x="-8" y="-3.5" width="16" height="7" rx="3.5" opacity="0.6"/><g transform="translate(325.8 358.8) rotate(75)"><rect x="-8" y="-3.5" width="16" height="7" rx="3.5" fill="#979797" stroke="#333" stroke-width=".35"/><rect x="-8" y="-3.5" width="16" height="7" rx="3.5" fill="url(#rg)"/></g>
<rect transform="translate(340.1 357.4) rotate(45)" x="-11.5" y="-5" width="23" height="10" rx="5" opacity="0.6"/><g transform="translate(339.6 356.8) rotate(45)"><rect x="-11.5" y="-5" width="23" height="10" rx="5" fill="#979797" stroke="#333" stroke-width=".35"/><rect x="-11.5" y="-5" width="23" height="10" rx="5" fill="url(#rg)"/></g>
<rect transform="translate(352 354.4) rotate(30)" x="-10" y="-4.4" width="20" height="8.8" rx="4.4" opacity="0.6"/><g transform="translate(351.5 353.8) rotate(30)"><rect x="-10" y="-4.4" width="20" height="8.8" rx="4.4" fill="#979797" stroke="#333" stroke-width=".35"/><rect x="-10" y="-4.4" width="20" height="8.8" rx="4.4" fill="url(#rg)"/></g>
<rect transform="translate(359.6 349.2) rotate(22)" x="-12.2" y="-5" width="24.5" height="10" rx="5" opacity="0.6"/><g transform="translate(359.1 348.6) rotate(22)"><rect x="-12.2" y="-5" width="24.5" height="10" rx="5" fill="#979797" stroke="#333" stroke-width=".35"/><rect x="-12.2" y="-5" width="24.5" height="10" rx="5" fill="url(#rg)"/></g>
<rect transform="translate(370.1 358.6) rotate(10)" x="-10" y="-4" width="20" height="8" rx="4" opacity="0.6"/><g transform="translate(369.6 358) rotate(10)"><rect x="-10" y="-4" width="20" height="8" rx="4" fill="#979797" stroke="#333" stroke-width=".35"/><rect x="-10" y="-4" width="20" height="8" rx="4" fill="url(#rg)"/></g>
<rect transform="translate(359.3 365.2) rotate(25)" x="-10" y="-5" width="20" height="10" rx="5" opacity="0.6"/><g transform="translate(358.8 364.6) rotate(25)"><rect x="-10" y="-5" width="20" height="10" rx="5" fill="#979797" stroke="#333" stroke-width=".35"/><rect x="-10" y="-5" width="20" height="10" rx="5" fill="url(#rg)"/></g>
<rect transform="translate(367.2 377.5) rotate(62)" x="-9.5" y="-4.8" width="19" height="9.5" rx="4.8" opacity="0.6"/><g transform="translate(366.7 376.9) rotate(62)"><rect x="-9.5" y="-4.8" width="19" height="9.5" rx="4.8" fill="#979797" stroke="#333" stroke-width=".35"/><rect x="-9.5" y="-4.8" width="19" height="9.5" rx="4.8" fill="url(#rg)"/></g>
<rect transform="translate(386.5 371.9) rotate(60)" x="-6" y="-3" width="12" height="6" rx="3" opacity="0.6"/><g transform="translate(386 371.3) rotate(60)"><rect x="-6" y="-3" width="12" height="6" rx="3" fill="#979797" stroke="#333" stroke-width=".35"/><rect x="-6" y="-3" width="12" height="6" rx="3" fill="url(#rg)"/></g>
<rect x="322.00" y="338.30" width="74.20" height="50.20" filter="url(#t2)" opacity="0.4" style="mix-blend-mode:soft-light"/>
</g>
<rect x="322.00" y="338.30" width="74.20" height="50.20" fill="none" stroke="#0a0a0a" stroke-width="1"/>
<text x="326.80" y="347.10" font-size="7.1" font-style="italic" fill="#fff" word-spacing="1.4">E. coli</text>
<text x="327.40" y="386.40" font-size="7.0" fill="#fff">AMP 8</text>
<text x="391.90" y="381.00" font-size="6.8" fill="#fff" text-anchor="end">1 µm</text>
<rect x="372.20" y="383.90" width="20.00" height="1.6" fill="#fff"/>
<rect x="400.60" y="339.10" width="78.00" height="51.80" fill="#8c8c8c" filter="url(#sh)"/>
<clipPath id="c3"><rect x="400.00" y="338.30" width="76.40" height="50.20"/></clipPath>
<g clip-path="url(#c3)">
<rect x="400.00" y="338.30" width="76.40" height="50.20" fill="#4c4c4c"/>
<rect x="400.00" y="338.30" width="76.40" height="50.20" filter="url(#t1)" opacity="0.4" style="mix-blend-mode:overlay"/>
<ellipse cx="415.00" cy="358.30" rx="12.00" ry="8.00" fill="#202020" opacity="0.4" transform="rotate(0 415.00 358.30)"/>
<ellipse cx="430.00" cy="352.30" rx="10.00" ry="6.00" fill="#202020" opacity="0.4" transform="rotate(0 430.00 352.30)"/>
<ellipse cx="452.00" cy="362.30" rx="6.00" ry="5.00" fill="#202020" opacity="0.4" transform="rotate(0 452.00 362.30)"/>
<rect transform="translate(417.1 366.5) rotate(113)" x="-4.4" y="-1.5" width="8.8" height="3.1" rx="1.5" opacity="0.6"/><g transform="translate(416.6 365.9) rotate(113)"><rect x="-4.4" y="-1.5" width="8.8" height="3.1" rx="1.5" fill="#8e8e8e" stroke="#3a3a3a" stroke-width=".35"/><rect x="-4.4" y="-1.5" width="8.8" height="3.1" rx="1.5" fill="url(#rg)"/></g>
<rect transform="translate(447.4 387) rotate(35)" x="-4.7" y="-1.5" width="9.3" height="3" rx="1.5" opacity="0.6"/><g transform="translate(446.9 386.4) rotate(35)"><rect x="-4.7" y="-1.5" width="9.3" height="3" rx="1.5" fill="#a2a2a2" stroke="#3a3a3a" stroke-width=".35"/><rect x="-4.7" y="-1.5" width="9.3" height="3" rx="1.5" fill="url(#rg)"/></g>
<rect transform="translate(442.1 366.8) rotate(42)" x="-4.5" y="-1.6" width="9" height="3.3" rx="1.6" opacity="0.6"/><g transform="translate(441.6 366.2) rotate(42)"><rect x="-4.5" y="-1.6" width="9" height="3.3" rx="1.6" fill="#989898" stroke="#3a3a3a" stroke-width=".35"/><rect x="-4.5" y="-1.6" width="9" height="3.3" rx="1.6" fill="url(#rg)"/></g>
<rect transform="translate(469 365.3) rotate(12)" x="-5.4" y="-1.6" width="10.7" height="3.1" rx="1.6" opacity="0.6"/><g transform="translate(468.5 364.7) rotate(12)"><rect x="-5.4" y="-1.6" width="10.7" height="3.1" rx="1.6" fill="#8e8e8e" stroke="#3a3a3a" stroke-width=".35"/><rect x="-5.4" y="-1.6" width="10.7" height="3.1" rx="1.6" fill="url(#rg)"/></g>
<rect transform="translate(422.3 337.6) rotate(129)" x="-5.7" y="-1.5" width="11.3" height="3" rx="1.5" opacity="0.6"/><g transform="translate(421.8 337) rotate(129)"><rect x="-5.7" y="-1.5" width="11.3" height="3" rx="1.5" fill="#a2a2a2" stroke="#3a3a3a" stroke-width=".35"/><rect x="-5.7" y="-1.5" width="11.3" height="3" rx="1.5" fill="url(#rg)"/></g>
<rect transform="translate(456.3 387.7) rotate(80)" x="-4.5" y="-1.6" width="9" height="3.2" rx="1.6" opacity="0.6"/><g transform="translate(455.8 387.1) rotate(80)"><rect x="-4.5" y="-1.6" width="9" height="3.2" rx="1.6" fill="#989898" stroke="#3a3a3a" stroke-width=".35"/><rect x="-4.5" y="-1.6" width="9" height="3.2" rx="1.6" fill="url(#rg)"/></g>
<rect transform="translate(469.9 341.4) rotate(174)" x="-3.8" y="-1.4" width="7.7" height="2.8" rx="1.4" opacity="0.6"/><g transform="translate(469.4 340.8) rotate(174)"><rect x="-3.8" y="-1.4" width="7.7" height="2.8" rx="1.4" fill="#a2a2a2" stroke="#3a3a3a" stroke-width=".35"/><rect x="-3.8" y="-1.4" width="7.7" height="2.8" rx="1.4" fill="url(#rg)"/></g>
<rect transform="translate(461.7 384) rotate(103)" x="-4.6" y="-1.6" width="9.1" height="3.3" rx="1.6" opacity="0.6"/><g transform="translate(461.2 383.4) rotate(103)"><rect x="-4.6" y="-1.6" width="9.1" height="3.3" rx="1.6" fill="#a2a2a2" stroke="#3a3a3a" stroke-width=".35"/><rect x="-4.6" y="-1.6" width="9.1" height="3.3" rx="1.6" fill="url(#rg)"/></g>
<rect transform="translate(445.6 386.7) rotate(154)" x="-5.2" y="-1.7" width="10.4" height="3.3" rx="1.7" opacity="0.6"/><g transform="translate(445.1 386.1) rotate(154)"><rect x="-5.2" y="-1.7" width="10.4" height="3.3" rx="1.7" fill="#989898" stroke="#3a3a3a" stroke-width=".35"/><rect x="-5.2" y="-1.7" width="10.4" height="3.3" rx="1.7" fill="url(#rg)"/></g>
<rect transform="translate(455.1 354.2) rotate(19)" x="-4.9" y="-1.5" width="9.7" height="3.1" rx="1.5" opacity="0.6"/><g transform="translate(454.6 353.6) rotate(19)"><rect x="-4.9" y="-1.5" width="9.7" height="3.1" rx="1.5" fill="#989898" stroke="#3a3a3a" stroke-width=".35"/><rect x="-4.9" y="-1.5" width="9.7" height="3.1" rx="1.5" fill="url(#rg)"/></g>
<rect transform="translate(449.7 391.4) rotate(87)" x="-4.2" y="-1.3" width="8.3" height="2.7" rx="1.3" opacity="0.6"/><g transform="translate(449.2 390.8) rotate(87)"><rect x="-4.2" y="-1.3" width="8.3" height="2.7" rx="1.3" fill="#a2a2a2" stroke="#3a3a3a" stroke-width=".35"/><rect x="-4.2" y="-1.3" width="8.3" height="2.7" rx="1.3" fill="url(#rg)"/></g>
<rect transform="translate(404.8 380.9) rotate(53)" x="-4.5" y="-1.4" width="9.1" height="2.7" rx="1.4" opacity="0.6"/><g transform="translate(404.3 380.3) rotate(53)"><rect x="-4.5" y="-1.4" width="9.1" height="2.7" rx="1.4" fill="#a2a2a2" stroke="#3a3a3a" stroke-width=".35"/><rect x="-4.5" y="-1.4" width="9.1" height="2.7" rx="1.4" fill="url(#rg)"/></g>
<rect transform="translate(469.4 338.4) rotate(129)" x="-5" y="-1.3" width="10.1" height="2.6" rx="1.3" opacity="0.6"/><g transform="translate(468.9 337.8) rotate(129)"><rect x="-5" y="-1.3" width="10.1" height="2.6" rx="1.3" fill="#848484" stroke="#3a3a3a" stroke-width=".35"/><rect x="-5" y="-1.3" width="10.1" height="2.6" rx="1.3" fill="url(#rg)"/></g>
<rect transform="translate(442.9 387.7) rotate(6)" x="-4.2" y="-1.4" width="8.4" height="2.8" rx="1.4" opacity="0.6"/><g transform="translate(442.4 387.1) rotate(6)"><rect x="-4.2" y="-1.4" width="8.4" height="2.8" rx="1.4" fill="#8e8e8e" stroke="#3a3a3a" stroke-width=".35"/><rect x="-4.2" y="-1.4" width="8.4" height="2.8" rx="1.4" fill="url(#rg)"/></g>
<rect transform="translate(403.8 369.6) rotate(73)" x="-3.6" y="-1.4" width="7.2" height="2.8" rx="1.4" opacity="0.6"/><g transform="translate(403.3 369) rotate(73)"><rect x="-3.6" y="-1.4" width="7.2" height="2.8" rx="1.4" fill="#848484" stroke="#3a3a3a" stroke-width=".35"/><rect x="-3.6" y="-1.4" width="7.2" height="2.8" rx="1.4" fill="url(#rg)"/></g>
<rect transform="translate(410.4 338.3) rotate(173)" x="-5.7" y="-1.4" width="11.3" height="2.9" rx="1.4" opacity="0.6"/><g transform="translate(409.9 337.7) rotate(173)"><rect x="-5.7" y="-1.4" width="11.3" height="2.9" rx="1.4" fill="#a2a2a2" stroke="#3a3a3a" stroke-width=".35"/><rect x="-5.7" y="-1.4" width="11.3" height="2.9" rx="1.4" fill="url(#rg)"/></g>
<rect transform="translate(428.5 384.8) rotate(123)" x="-4.5" y="-1.6" width="8.9" height="3.3" rx="1.6" opacity="0.6"/><g transform="translate(428 384.2) rotate(123)"><rect x="-4.5" y="-1.6" width="8.9" height="3.3" rx="1.6" fill="#8e8e8e" stroke="#3a3a3a" stroke-width=".35"/><rect x="-4.5" y="-1.6" width="8.9" height="3.3" rx="1.6" fill="url(#rg)"/></g>
<rect transform="translate(448.6 388.8) rotate(130)" x="-4.8" y="-1.5" width="9.5" height="2.9" rx="1.5" opacity="0.6"/><g transform="translate(448.1 388.2) rotate(130)"><rect x="-4.8" y="-1.5" width="9.5" height="2.9" rx="1.5" fill="#989898" stroke="#3a3a3a" stroke-width=".35"/><rect x="-4.8" y="-1.5" width="9.5" height="2.9" rx="1.5" fill="url(#rg)"/></g>
<rect transform="translate(474.7 360.5) rotate(61)" x="-4.1" y="-1.4" width="8.3" height="2.8" rx="1.4" opacity="0.6"/><g transform="translate(474.2 359.9) rotate(61)"><rect x="-4.1" y="-1.4" width="8.3" height="2.8" rx="1.4" fill="#a2a2a2" stroke="#3a3a3a" stroke-width=".35"/><rect x="-4.1" y="-1.4" width="8.3" height="2.8" rx="1.4" fill="url(#rg)"/></g>
<rect transform="translate(478.9 353.6) rotate(24)" x="-4.4" y="-1.5" width="8.9" height="3.1" rx="1.5" opacity="0.6"/><g transform="translate(478.4 353) rotate(24)"><rect x="-4.4" y="-1.5" width="8.9" height="3.1" rx="1.5" fill="#848484" stroke="#3a3a3a" stroke-width=".35"/><rect x="-4.4" y="-1.5" width="8.9" height="3.1" rx="1.5" fill="url(#rg)"/></g>
<rect transform="translate(435.9 374.1) rotate(133)" x="-4.4" y="-1.6" width="8.8" height="3.2" rx="1.6" opacity="0.6"/><g transform="translate(435.4 373.5) rotate(133)"><rect x="-4.4" y="-1.6" width="8.8" height="3.2" rx="1.6" fill="#8e8e8e" stroke="#3a3a3a" stroke-width=".35"/><rect x="-4.4" y="-1.6" width="8.8" height="3.2" rx="1.6" fill="url(#rg)"/></g>
<rect transform="translate(446.1 389.6) rotate(113)" x="-3.6" y="-1.4" width="7.1" height="2.9" rx="1.4" opacity="0.6"/><g transform="translate(445.6 389) rotate(113)"><rect x="-3.6" y="-1.4" width="7.1" height="2.9" rx="1.4" fill="#848484" stroke="#3a3a3a" stroke-width=".35"/><rect x="-3.6" y="-1.4" width="7.1" height="2.9" rx="1.4" fill="url(#rg)"/></g>
<rect transform="translate(446.3 353.9) rotate(66)" x="-4.4" y="-1.4" width="8.8" height="2.9" rx="1.4" opacity="0.6"/><g transform="translate(445.8 353.3) rotate(66)"><rect x="-4.4" y="-1.4" width="8.8" height="2.9" rx="1.4" fill="#848484" stroke="#3a3a3a" stroke-width=".35"/><rect x="-4.4" y="-1.4" width="8.8" height="2.9" rx="1.4" fill="url(#rg)"/></g>
<rect transform="translate(422.3 357.1) rotate(102)" x="-5.4" y="-1.3" width="10.9" height="2.6" rx="1.3" opacity="0.6"/><g transform="translate(421.8 356.5) rotate(102)"><rect x="-5.4" y="-1.3" width="10.9" height="2.6" rx="1.3" fill="#989898" stroke="#3a3a3a" stroke-width=".35"/><rect x="-5.4" y="-1.3" width="10.9" height="2.6" rx="1.3" fill="url(#rg)"/></g>
<rect transform="translate(423 348.4) rotate(34)" x="-5.5" y="-1.4" width="11" height="2.8" rx="1.4" opacity="0.6"/><g transform="translate(422.5 347.8) rotate(34)"><rect x="-5.5" y="-1.4" width="11" height="2.8" rx="1.4" fill="#a2a2a2" stroke="#3a3a3a" stroke-width=".35"/><rect x="-5.5" y="-1.4" width="11" height="2.8" rx="1.4" fill="url(#rg)"/></g>
<rect transform="translate(451 341.4) rotate(121)" x="-5" y="-1.7" width="10" height="3.4" rx="1.7" opacity="0.6"/><g transform="translate(450.5 340.8) rotate(121)"><rect x="-5" y="-1.7" width="10" height="3.4" rx="1.7" fill="#989898" stroke="#3a3a3a" stroke-width=".35"/><rect x="-5" y="-1.7" width="10" height="3.4" rx="1.7" fill="url(#rg)"/></g>
<rect transform="translate(433.6 384) rotate(117)" x="-3.9" y="-1.4" width="7.8" height="2.9" rx="1.4" opacity="0.6"/><g transform="translate(433.1 383.4) rotate(117)"><rect x="-3.9" y="-1.4" width="7.8" height="2.9" rx="1.4" fill="#a2a2a2" stroke="#3a3a3a" stroke-width=".35"/><rect x="-3.9" y="-1.4" width="7.8" height="2.9" rx="1.4" fill="url(#rg)"/></g>
<rect transform="translate(419.8 380.1) rotate(57)" x="-3.6" y="-1.7" width="7.2" height="3.4" rx="1.7" opacity="0.6"/><g transform="translate(419.3 379.5) rotate(57)"><rect x="-3.6" y="-1.7" width="7.2" height="3.4" rx="1.7" fill="#989898" stroke="#3a3a3a" stroke-width=".35"/><rect x="-3.6" y="-1.7" width="7.2" height="3.4" rx="1.7" fill="url(#rg)"/></g>
<rect transform="translate(468.7 355) rotate(111)" x="-5.6" y="-1.3" width="11.1" height="2.7" rx="1.3" opacity="0.6"/><g transform="translate(468.2 354.4) rotate(111)"><rect x="-5.6" y="-1.3" width="11.1" height="2.7" rx="1.3" fill="#989898" stroke="#3a3a3a" stroke-width=".35"/><rect x="-5.6" y="-1.3" width="11.1" height="2.7" rx="1.3" fill="url(#rg)"/></g>
<rect transform="translate(432.2 365) rotate(114)" x="-5.6" y="-1.5" width="11.2" height="3" rx="1.5" opacity="0.6"/><g transform="translate(431.7 364.4) rotate(114)"><rect x="-5.6" y="-1.5" width="11.2" height="3" rx="1.5" fill="#848484" stroke="#3a3a3a" stroke-width=".35"/><rect x="-5.6" y="-1.5" width="11.2" height="3" rx="1.5" fill="url(#rg)"/></g>
<rect transform="translate(432.1 358.9) rotate(1)" x="-5.8" y="-1.4" width="11.6" height="2.7" rx="1.4" opacity="0.6"/><g transform="translate(431.6 358.3) rotate(1)"><rect x="-5.8" y="-1.4" width="11.6" height="2.7" rx="1.4" fill="#a2a2a2" stroke="#3a3a3a" stroke-width=".35"/><rect x="-5.8" y="-1.4" width="11.6" height="2.7" rx="1.4" fill="url(#rg)"/></g>
<rect transform="translate(443.6 391.3) rotate(82)" x="-5.3" y="-1.3" width="10.6" height="2.6" rx="1.3" opacity="0.6"/><g transform="translate(443.1 390.7) rotate(82)"><rect x="-5.3" y="-1.3" width="10.6" height="2.6" rx="1.3" fill="#848484" stroke="#3a3a3a" stroke-width=".35"/><rect x="-5.3" y="-1.3" width="10.6" height="2.6" rx="1.3" fill="url(#rg)"/></g>
<rect transform="translate(442.3 385.9) rotate(175)" x="-5.7" y="-1.6" width="11.3" height="3.3" rx="1.6" opacity="0.6"/><g transform="translate(441.8 385.3) rotate(175)"><rect x="-5.7" y="-1.6" width="11.3" height="3.3" rx="1.6" fill="#8e8e8e" stroke="#3a3a3a" stroke-width=".35"/><rect x="-5.7" y="-1.6" width="11.3" height="3.3" rx="1.6" fill="url(#rg)"/></g>
<rect transform="translate(464.3 338.4) rotate(166)" x="-5.8" y="-1.6" width="11.5" height="3.2" rx="1.6" opacity="0.6"/><g transform="translate(463.8 337.8) rotate(166)"><rect x="-5.8" y="-1.6" width="11.5" height="3.2" rx="1.6" fill="#a2a2a2" stroke="#3a3a3a" stroke-width=".35"/><rect x="-5.8" y="-1.6" width="11.5" height="3.2" rx="1.6" fill="url(#rg)"/></g>
<rect transform="translate(445 336.6) rotate(54)" x="-5.4" y="-1.4" width="10.7" height="2.7" rx="1.4" opacity="0.6"/><g transform="translate(444.5 336) rotate(54)"><rect x="-5.4" y="-1.4" width="10.7" height="2.7" rx="1.4" fill="#8e8e8e" stroke="#3a3a3a" stroke-width=".35"/><rect x="-5.4" y="-1.4" width="10.7" height="2.7" rx="1.4" fill="url(#rg)"/></g>
<rect transform="translate(440.8 359.2) rotate(61)" x="-5.8" y="-1.5" width="11.7" height="3.1" rx="1.5" opacity="0.6"/><g transform="translate(440.3 358.6) rotate(61)"><rect x="-5.8" y="-1.5" width="11.7" height="3.1" rx="1.5" fill="#848484" stroke="#3a3a3a" stroke-width=".35"/><rect x="-5.8" y="-1.5" width="11.7" height="3.1" rx="1.5" fill="url(#rg)"/></g>
<rect transform="translate(477.6 366.3) rotate(40)" x="-5.5" y="-1.3" width="11.1" height="2.6" rx="1.3" opacity="0.6"/><g transform="translate(477.1 365.7) rotate(40)"><rect x="-5.5" y="-1.3" width="11.1" height="2.6" rx="1.3" fill="#8e8e8e" stroke="#3a3a3a" stroke-width=".35"/><rect x="-5.5" y="-1.3" width="11.1" height="2.6" rx="1.3" fill="url(#rg)"/></g>
<rect transform="translate(441.6 381.8) rotate(166)" x="-3.9" y="-1.6" width="7.9" height="3.2" rx="1.6" opacity="0.6"/><g transform="translate(441.1 381.2) rotate(166)"><rect x="-3.9" y="-1.6" width="7.9" height="3.2" rx="1.6" fill="#989898" stroke="#3a3a3a" stroke-width=".35"/><rect x="-3.9" y="-1.6" width="7.9" height="3.2" rx="1.6" fill="url(#rg)"/></g>
<rect transform="translate(465.4 336.3) rotate(9)" x="-5.1" y="-1.6" width="10.1" height="3.3" rx="1.6" opacity="0.6"/><g transform="translate(464.9 335.7) rotate(9)"><rect x="-5.1" y="-1.6" width="10.1" height="3.3" rx="1.6" fill="#848484" stroke="#3a3a3a" stroke-width=".35"/><rect x="-5.1" y="-1.6" width="10.1" height="3.3" rx="1.6" fill="url(#rg)"/></g>
<rect transform="translate(418 370.6) rotate(58)" x="-4.8" y="-1.3" width="9.6" height="2.6" rx="1.3" opacity="0.6"/><g transform="translate(417.5 370) rotate(58)"><rect x="-4.8" y="-1.3" width="9.6" height="2.6" rx="1.3" fill="#8e8e8e" stroke="#3a3a3a" stroke-width=".35"/><rect x="-4.8" y="-1.3" width="9.6" height="2.6" rx="1.3" fill="url(#rg)"/></g>
<rect transform="translate(468.1 379.5) rotate(87)" x="-3.6" y="-1.3" width="7.2" height="2.6" rx="1.3" opacity="0.6"/><g transform="translate(467.6 378.9) rotate(87)"><rect x="-3.6" y="-1.3" width="7.2" height="2.6" rx="1.3" fill="#8e8e8e" stroke="#3a3a3a" stroke-width=".35"/><rect x="-3.6" y="-1.3" width="7.2" height="2.6" rx="1.3" fill="url(#rg)"/></g>
<rect transform="translate(467.9 340.7) rotate(57)" x="-4.8" y="-1.4" width="9.5" height="2.9" rx="1.4" opacity="0.6"/><g transform="translate(467.4 340.1) rotate(57)"><rect x="-4.8" y="-1.4" width="9.5" height="2.9" rx="1.4" fill="#848484" stroke="#3a3a3a" stroke-width=".35"/><rect x="-4.8" y="-1.4" width="9.5" height="2.9" rx="1.4" fill="url(#rg)"/></g>
<rect transform="translate(429.3 357.8) rotate(178)" x="-4.3" y="-1.4" width="8.5" height="2.8" rx="1.4" opacity="0.6"/><g transform="translate(428.8 357.2) rotate(178)"><rect x="-4.3" y="-1.4" width="8.5" height="2.8" rx="1.4" fill="#a2a2a2" stroke="#3a3a3a" stroke-width=".35"/><rect x="-4.3" y="-1.4" width="8.5" height="2.8" rx="1.4" fill="url(#rg)"/></g>
<rect transform="translate(407.7 367.1) rotate(14)" x="-5.3" y="-1.5" width="10.6" height="2.9" rx="1.5" opacity="0.6"/><g transform="translate(407.2 366.5) rotate(14)"><rect x="-5.3" y="-1.5" width="10.6" height="2.9" rx="1.5" fill="#989898" stroke="#3a3a3a" stroke-width=".35"/><rect x="-5.3" y="-1.5" width="10.6" height="2.9" rx="1.5" fill="url(#rg)"/></g>
<rect transform="translate(401 361.8) rotate(115)" x="-5.1" y="-1.5" width="10.3" height="3" rx="1.5" opacity="0.6"/><g transform="translate(400.5 361.2) rotate(115)"><rect x="-5.1" y="-1.5" width="10.3" height="3" rx="1.5" fill="#8e8e8e" stroke="#3a3a3a" stroke-width=".35"/><rect x="-5.1" y="-1.5" width="10.3" height="3" rx="1.5" fill="url(#rg)"/></g>
<rect transform="translate(448.8 360.2) rotate(127)" x="-4.4" y="-1.5" width="8.9" height="3" rx="1.5" opacity="0.6"/><g transform="translate(448.3 359.6) rotate(127)"><rect x="-4.4" y="-1.5" width="8.9" height="3" rx="1.5" fill="#a2a2a2" stroke="#3a3a3a" stroke-width=".35"/><rect x="-4.4" y="-1.5" width="8.9" height="3" rx="1.5" fill="url(#rg)"/></g>
<rect transform="translate(475.8 359.4) rotate(49)" x="-3.5" y="-1.4" width="7.1" height="2.8" rx="1.4" opacity="0.6"/><g transform="translate(475.3 358.8) rotate(49)"><rect x="-3.5" y="-1.4" width="7.1" height="2.8" rx="1.4" fill="#8e8e8e" stroke="#3a3a3a" stroke-width=".35"/><rect x="-3.5" y="-1.4" width="7.1" height="2.8" rx="1.4" fill="url(#rg)"/></g>
<rect transform="translate(463.7 348.5) rotate(59)" x="-3.8" y="-1.3" width="7.7" height="2.6" rx="1.3" opacity="0.6"/><g transform="translate(463.2 347.9) rotate(59)"><rect x="-3.8" y="-1.3" width="7.7" height="2.6" rx="1.3" fill="#848484" stroke="#3a3a3a" stroke-width=".35"/><rect x="-3.8" y="-1.3" width="7.7" height="2.6" rx="1.3" fill="url(#rg)"/></g>
<rect transform="translate(407.5 374.7) rotate(153)" x="-5.8" y="-1.6" width="11.7" height="3.2" rx="1.6" opacity="0.6"/><g transform="translate(407 374.1) rotate(153)"><rect x="-5.8" y="-1.6" width="11.7" height="3.2" rx="1.6" fill="#a2a2a2" stroke="#3a3a3a" stroke-width=".35"/><rect x="-5.8" y="-1.6" width="11.7" height="3.2" rx="1.6" fill="url(#rg)"/></g>
<rect transform="translate(452.5 377.1) rotate(106)" x="-4.9" y="-1.3" width="9.8" height="2.7" rx="1.3" opacity="0.6"/><g transform="translate(452 376.5) rotate(106)"><rect x="-4.9" y="-1.3" width="9.8" height="2.7" rx="1.3" fill="#8e8e8e" stroke="#3a3a3a" stroke-width=".35"/><rect x="-4.9" y="-1.3" width="9.8" height="2.7" rx="1.3" fill="url(#rg)"/></g>
<rect transform="translate(436.5 349.2) rotate(102)" x="-4.5" y="-1.5" width="8.9" height="3" rx="1.5" opacity="0.6"/><g transform="translate(436 348.6) rotate(102)"><rect x="-4.5" y="-1.5" width="8.9" height="3" rx="1.5" fill="#a2a2a2" stroke="#3a3a3a" stroke-width=".35"/><rect x="-4.5" y="-1.5" width="8.9" height="3" rx="1.5" fill="url(#rg)"/></g>
<rect transform="translate(412.3 337.2) rotate(152)" x="-5.6" y="-1.3" width="11.2" height="2.7" rx="1.3" opacity="0.6"/><g transform="translate(411.8 336.6) rotate(152)"><rect x="-5.6" y="-1.3" width="11.2" height="2.7" rx="1.3" fill="#a2a2a2" stroke="#3a3a3a" stroke-width=".35"/><rect x="-5.6" y="-1.3" width="11.2" height="2.7" rx="1.3" fill="url(#rg)"/></g>
<rect transform="translate(466.4 389.4) rotate(7)" x="-4.9" y="-1.6" width="9.9" height="3.2" rx="1.6" opacity="0.6"/><g transform="translate(465.9 388.8) rotate(7)"><rect x="-4.9" y="-1.6" width="9.9" height="3.2" rx="1.6" fill="#989898" stroke="#3a3a3a" stroke-width=".35"/><rect x="-4.9" y="-1.6" width="9.9" height="3.2" rx="1.6" fill="url(#rg)"/></g>
<rect transform="translate(406.3 378) rotate(58)" x="-5.8" y="-1.3" width="11.7" height="2.6" rx="1.3" opacity="0.6"/><g transform="translate(405.8 377.4) rotate(58)"><rect x="-5.8" y="-1.3" width="11.7" height="2.6" rx="1.3" fill="#989898" stroke="#3a3a3a" stroke-width=".35"/><rect x="-5.8" y="-1.3" width="11.7" height="2.6" rx="1.3" fill="url(#rg)"/></g>
<rect transform="translate(465.7 349.5) rotate(111)" x="-3.9" y="-1.4" width="7.9" height="2.8" rx="1.4" opacity="0.6"/><g transform="translate(465.2 348.9) rotate(111)"><rect x="-3.9" y="-1.4" width="7.9" height="2.8" rx="1.4" fill="#a2a2a2" stroke="#3a3a3a" stroke-width=".35"/><rect x="-3.9" y="-1.4" width="7.9" height="2.8" rx="1.4" fill="url(#rg)"/></g>
<rect transform="translate(418.3 369.6) rotate(174)" x="-5.8" y="-1.5" width="11.7" height="3" rx="1.5" opacity="0.6"/><g transform="translate(417.8 369) rotate(174)"><rect x="-5.8" y="-1.5" width="11.7" height="3" rx="1.5" fill="#a2a2a2" stroke="#3a3a3a" stroke-width=".35"/><rect x="-5.8" y="-1.5" width="11.7" height="3" rx="1.5" fill="url(#rg)"/></g>
<rect transform="translate(438.7 390.6) rotate(29)" x="-4.5" y="-1.6" width="9.1" height="3.2" rx="1.6" opacity="0.6"/><g transform="translate(438.2 390) rotate(29)"><rect x="-4.5" y="-1.6" width="9.1" height="3.2" rx="1.6" fill="#a2a2a2" stroke="#3a3a3a" stroke-width=".35"/><rect x="-4.5" y="-1.6" width="9.1" height="3.2" rx="1.6" fill="url(#rg)"/></g>
<rect transform="translate(410.4 358.4) rotate(90)" x="-5.7" y="-1.4" width="11.4" height="2.7" rx="1.4" opacity="0.6"/><g transform="translate(409.9 357.8) rotate(90)"><rect x="-5.7" y="-1.4" width="11.4" height="2.7" rx="1.4" fill="#a2a2a2" stroke="#3a3a3a" stroke-width=".35"/><rect x="-5.7" y="-1.4" width="11.4" height="2.7" rx="1.4" fill="url(#rg)"/></g>
<rect transform="translate(473 365) rotate(33)" x="-4.6" y="-1.6" width="9.2" height="3.2" rx="1.6" opacity="0.6"/><g transform="translate(472.5 364.4) rotate(33)"><rect x="-4.6" y="-1.6" width="9.2" height="3.2" rx="1.6" fill="#848484" stroke="#3a3a3a" stroke-width=".35"/><rect x="-4.6" y="-1.6" width="9.2" height="3.2" rx="1.6" fill="url(#rg)"/></g>
<rect transform="translate(459.5 344.1) rotate(153)" x="-4.8" y="-1.7" width="9.6" height="3.3" rx="1.7" opacity="0.6"/><g transform="translate(459 343.5) rotate(153)"><rect x="-4.8" y="-1.7" width="9.6" height="3.3" rx="1.7" fill="#848484" stroke="#3a3a3a" stroke-width=".35"/><rect x="-4.8" y="-1.7" width="9.6" height="3.3" rx="1.7" fill="url(#rg)"/></g>
<rect transform="translate(452.8 384) rotate(177)" x="-5" y="-1.5" width="10" height="3.1" rx="1.5" opacity="0.6"/><g transform="translate(452.3 383.4) rotate(177)"><rect x="-5" y="-1.5" width="10" height="3.1" rx="1.5" fill="#989898" stroke="#3a3a3a" stroke-width=".35"/><rect x="-5" y="-1.5" width="10" height="3.1" rx="1.5" fill="url(#rg)"/></g>
<rect transform="translate(422.8 351) rotate(103)" x="-5.5" y="-1.4" width="11" height="2.8" rx="1.4" opacity="0.6"/><g transform="translate(422.3 350.4) rotate(103)"><rect x="-5.5" y="-1.4" width="11" height="2.8" rx="1.4" fill="#989898" stroke="#3a3a3a" stroke-width=".35"/><rect x="-5.5" y="-1.4" width="11" height="2.8" rx="1.4" fill="url(#rg)"/></g>
<rect transform="translate(424 379.4) rotate(86)" x="-3.9" y="-1.7" width="7.7" height="3.4" rx="1.7" opacity="0.6"/><g transform="translate(423.5 378.8) rotate(86)"><rect x="-3.9" y="-1.7" width="7.7" height="3.4" rx="1.7" fill="#989898" stroke="#3a3a3a" stroke-width=".35"/><rect x="-3.9" y="-1.7" width="7.7" height="3.4" rx="1.7" fill="url(#rg)"/></g>
<rect transform="translate(436.1 382.8) rotate(87)" x="-5.6" y="-1.5" width="11.1" height="3" rx="1.5" opacity="0.6"/><g transform="translate(435.6 382.2) rotate(87)"><rect x="-5.6" y="-1.5" width="11.1" height="3" rx="1.5" fill="#8e8e8e" stroke="#3a3a3a" stroke-width=".35"/><rect x="-5.6" y="-1.5" width="11.1" height="3" rx="1.5" fill="url(#rg)"/></g>
<rect transform="translate(468.1 358.4) rotate(84)" x="-5.3" y="-1.7" width="10.7" height="3.4" rx="1.7" opacity="0.6"/><g transform="translate(467.6 357.8) rotate(84)"><rect x="-5.3" y="-1.7" width="10.7" height="3.4" rx="1.7" fill="#989898" stroke="#3a3a3a" stroke-width=".35"/><rect x="-5.3" y="-1.7" width="10.7" height="3.4" rx="1.7" fill="url(#rg)"/></g>
<rect transform="translate(470.9 372.3) rotate(39)" x="-5.4" y="-1.3" width="10.9" height="2.7" rx="1.3" opacity="0.6"/><g transform="translate(470.4 371.7) rotate(39)"><rect x="-5.4" y="-1.3" width="10.9" height="2.7" rx="1.3" fill="#848484" stroke="#3a3a3a" stroke-width=".35"/><rect x="-5.4" y="-1.3" width="10.9" height="2.7" rx="1.3" fill="url(#rg)"/></g>
<rect transform="translate(417.4 346.6) rotate(127)" x="-4.1" y="-1.4" width="8.3" height="2.7" rx="1.4" opacity="0.6"/><g transform="translate(416.9 346) rotate(127)"><rect x="-4.1" y="-1.4" width="8.3" height="2.7" rx="1.4" fill="#8e8e8e" stroke="#3a3a3a" stroke-width=".35"/><rect x="-4.1" y="-1.4" width="8.3" height="2.7" rx="1.4" fill="url(#rg)"/></g>
<rect transform="translate(471.6 350.2) rotate(76)" x="-5.7" y="-1.4" width="11.3" height="2.9" rx="1.4" opacity="0.6"/><g transform="translate(471.1 349.6) rotate(76)"><rect x="-5.7" y="-1.4" width="11.3" height="2.9" rx="1.4" fill="#8e8e8e" stroke="#3a3a3a" stroke-width=".35"/><rect x="-5.7" y="-1.4" width="11.3" height="2.9" rx="1.4" fill="url(#rg)"/></g>
<rect transform="translate(407.2 350.7) rotate(81)" x="-5.8" y="-1.3" width="11.6" height="2.6" rx="1.3" opacity="0.6"/><g transform="translate(406.7 350.1) rotate(81)"><rect x="-5.8" y="-1.3" width="11.6" height="2.6" rx="1.3" fill="#848484" stroke="#3a3a3a" stroke-width=".35"/><rect x="-5.8" y="-1.3" width="11.6" height="2.6" rx="1.3" fill="url(#rg)"/></g>
<rect transform="translate(398.1 354.7) rotate(38)" x="-4.6" y="-1.5" width="9.2" height="3" rx="1.5" opacity="0.6"/><g transform="translate(397.6 354.1) rotate(38)"><rect x="-4.6" y="-1.5" width="9.2" height="3" rx="1.5" fill="#a2a2a2" stroke="#3a3a3a" stroke-width=".35"/><rect x="-4.6" y="-1.5" width="9.2" height="3" rx="1.5" fill="url(#rg)"/></g>
<rect transform="translate(429.7 366.5) rotate(120)" x="-3.8" y="-1.4" width="7.6" height="2.8" rx="1.4" opacity="0.6"/><g transform="translate(429.2 365.9) rotate(120)"><rect x="-3.8" y="-1.4" width="7.6" height="2.8" rx="1.4" fill="#8e8e8e" stroke="#3a3a3a" stroke-width=".35"/><rect x="-3.8" y="-1.4" width="7.6" height="2.8" rx="1.4" fill="url(#rg)"/></g>
<rect transform="translate(433.6 365.5) rotate(126)" x="-4.1" y="-1.5" width="8.3" height="3" rx="1.5" opacity="0.6"/><g transform="translate(433.1 364.9) rotate(126)"><rect x="-4.1" y="-1.5" width="8.3" height="3" rx="1.5" fill="#848484" stroke="#3a3a3a" stroke-width=".35"/><rect x="-4.1" y="-1.5" width="8.3" height="3" rx="1.5" fill="url(#rg)"/></g>
<rect transform="translate(459.9 352.5) rotate(145)" x="-5.2" y="-1.6" width="10.4" height="3.1" rx="1.6" opacity="0.6"/><g transform="translate(459.4 351.9) rotate(145)"><rect x="-5.2" y="-1.6" width="10.4" height="3.1" rx="1.6" fill="#848484" stroke="#3a3a3a" stroke-width=".35"/><rect x="-5.2" y="-1.6" width="10.4" height="3.1" rx="1.6" fill="url(#rg)"/></g>
<rect transform="translate(406.3 389) rotate(95)" x="-4.3" y="-1.5" width="8.7" height="3.1" rx="1.5" opacity="0.6"/><g transform="translate(405.8 388.4) rotate(95)"><rect x="-4.3" y="-1.5" width="8.7" height="3.1" rx="1.5" fill="#a2a2a2" stroke="#3a3a3a" stroke-width=".35"/><rect x="-4.3" y="-1.5" width="8.7" height="3.1" rx="1.5" fill="url(#rg)"/></g>
<rect transform="translate(439.4 339.2) rotate(134)" x="-4.2" y="-1.6" width="8.5" height="3.2" rx="1.6" opacity="0.6"/><g transform="translate(438.9 338.6) rotate(134)"><rect x="-4.2" y="-1.6" width="8.5" height="3.2" rx="1.6" fill="#989898" stroke="#3a3a3a" stroke-width=".35"/><rect x="-4.2" y="-1.6" width="8.5" height="3.2" rx="1.6" fill="url(#rg)"/></g>
<rect transform="translate(412.3 385.9) rotate(168)" x="-5.1" y="-1.3" width="10.3" height="2.7" rx="1.3" opacity="0.6"/><g transform="translate(411.8 385.3) rotate(168)"><rect x="-5.1" y="-1.3" width="10.3" height="2.7" rx="1.3" fill="#989898" stroke="#3a3a3a" stroke-width=".35"/><rect x="-5.1" y="-1.3" width="10.3" height="2.7" rx="1.3" fill="url(#rg)"/></g>
<rect transform="translate(473.4 372.1) rotate(54)" x="-5.1" y="-1.5" width="10.2" height="2.9" rx="1.5" opacity="0.6"/><g transform="translate(472.9 371.5) rotate(54)"><rect x="-5.1" y="-1.5" width="10.2" height="2.9" rx="1.5" fill="#989898" stroke="#3a3a3a" stroke-width=".35"/><rect x="-5.1" y="-1.5" width="10.2" height="2.9" rx="1.5" fill="url(#rg)"/></g>
<rect transform="translate(435.2 353.5) rotate(129)" x="-3.9" y="-1.3" width="7.9" height="2.7" rx="1.3" opacity="0.6"/><g transform="translate(434.7 352.9) rotate(129)"><rect x="-3.9" y="-1.3" width="7.9" height="2.7" rx="1.3" fill="#a2a2a2" stroke="#3a3a3a" stroke-width=".35"/><rect x="-3.9" y="-1.3" width="7.9" height="2.7" rx="1.3" fill="url(#rg)"/></g>
<rect transform="translate(427.1 350.8) rotate(8)" x="-4.5" y="-1.6" width="8.9" height="3.3" rx="1.6" opacity="0.6"/><g transform="translate(426.6 350.2) rotate(8)"><rect x="-4.5" y="-1.6" width="8.9" height="3.3" rx="1.6" fill="#848484" stroke="#3a3a3a" stroke-width=".35"/><rect x="-4.5" y="-1.6" width="8.9" height="3.3" rx="1.6" fill="url(#rg)"/></g>
<rect transform="translate(417.9 379.1) rotate(73)" x="-4.4" y="-1.4" width="8.8" height="2.9" rx="1.4" opacity="0.6"/><g transform="translate(417.4 378.5) rotate(73)"><rect x="-4.4" y="-1.4" width="8.8" height="2.9" rx="1.4" fill="#8e8e8e" stroke="#3a3a3a" stroke-width=".35"/><rect x="-4.4" y="-1.4" width="8.8" height="2.9" rx="1.4" fill="url(#rg)"/></g>
<rect transform="translate(426.6 383.5) rotate(18)" x="-3.8" y="-1.4" width="7.6" height="2.8" rx="1.4" opacity="0.6"/><g transform="translate(426.1 382.9) rotate(18)"><rect x="-3.8" y="-1.4" width="7.6" height="2.8" rx="1.4" fill="#8e8e8e" stroke="#3a3a3a" stroke-width=".35"/><rect x="-3.8" y="-1.4" width="7.6" height="2.8" rx="1.4" fill="url(#rg)"/></g>
<rect transform="translate(444 387) rotate(102)" x="-3.8" y="-1.6" width="7.6" height="3.2" rx="1.6" opacity="0.6"/><g transform="translate(443.5 386.4) rotate(102)"><rect x="-3.8" y="-1.6" width="7.6" height="3.2" rx="1.6" fill="#a2a2a2" stroke="#3a3a3a" stroke-width=".35"/><rect x="-3.8" y="-1.6" width="7.6" height="3.2" rx="1.6" fill="url(#rg)"/></g>
<rect transform="translate(464.7 378) rotate(72)" x="-5" y="-1.4" width="10" height="2.7" rx="1.4" opacity="0.6"/><g transform="translate(464.2 377.4) rotate(72)"><rect x="-5" y="-1.4" width="10" height="2.7" rx="1.4" fill="#989898" stroke="#3a3a3a" stroke-width=".35"/><rect x="-5" y="-1.4" width="10" height="2.7" rx="1.4" fill="url(#rg)"/></g>
<rect transform="translate(442.4 345.5) rotate(67)" x="-3.9" y="-1.6" width="7.9" height="3.3" rx="1.6" opacity="0.6"/><g transform="translate(441.9 344.9) rotate(67)"><rect x="-3.9" y="-1.6" width="7.9" height="3.3" rx="1.6" fill="#848484" stroke="#3a3a3a" stroke-width=".35"/><rect x="-3.9" y="-1.6" width="7.9" height="3.3" rx="1.6" fill="url(#rg)"/></g>
<rect transform="translate(400 381) rotate(69)" x="-5.7" y="-1.7" width="11.5" height="3.4" rx="1.7" opacity="0.6"/><g transform="translate(399.5 380.4) rotate(69)"><rect x="-5.7" y="-1.7" width="11.5" height="3.4" rx="1.7" fill="#848484" stroke="#3a3a3a" stroke-width=".35"/><rect x="-5.7" y="-1.7" width="11.5" height="3.4" rx="1.7" fill="url(#rg)"/></g>
<rect transform="translate(449.7 390.8) rotate(155)" x="-5.2" y="-1.4" width="10.4" height="2.8" rx="1.4" opacity="0.6"/><g transform="translate(449.2 390.2) rotate(155)"><rect x="-5.2" y="-1.4" width="10.4" height="2.8" rx="1.4" fill="#a2a2a2" stroke="#3a3a3a" stroke-width=".35"/><rect x="-5.2" y="-1.4" width="10.4" height="2.8" rx="1.4" fill="url(#rg)"/></g>
<rect transform="translate(400 346.6) rotate(136)" x="-5.1" y="-1.3" width="10.2" height="2.7" rx="1.3" opacity="0.6"/><g transform="translate(399.5 346) rotate(136)"><rect x="-5.1" y="-1.3" width="10.2" height="2.7" rx="1.3" fill="#989898" stroke="#3a3a3a" stroke-width=".35"/><rect x="-5.1" y="-1.3" width="10.2" height="2.7" rx="1.3" fill="url(#rg)"/></g>
<rect transform="translate(438 365.3) rotate(95)" x="-4.7" y="-1.4" width="9.3" height="2.8" rx="1.4" opacity="0.6"/><g transform="translate(437.5 364.7) rotate(95)"><rect x="-4.7" y="-1.4" width="9.3" height="2.8" rx="1.4" fill="#8e8e8e" stroke="#3a3a3a" stroke-width=".35"/><rect x="-4.7" y="-1.4" width="9.3" height="2.8" rx="1.4" fill="url(#rg)"/></g>
<rect transform="translate(464.5 387.9) rotate(51)" x="-5.9" y="-1.3" width="11.7" height="2.7" rx="1.3" opacity="0.6"/><g transform="translate(464 387.3) rotate(51)"><rect x="-5.9" y="-1.3" width="11.7" height="2.7" rx="1.3" fill="#989898" stroke="#3a3a3a" stroke-width=".35"/><rect x="-5.9" y="-1.3" width="11.7" height="2.7" rx="1.3" fill="url(#rg)"/></g>
<rect transform="translate(408.7 380.4) rotate(65)" x="-5.1" y="-1.3" width="10.1" height="2.6" rx="1.3" opacity="0.6"/><g transform="translate(408.2 379.8) rotate(65)"><rect x="-5.1" y="-1.3" width="10.1" height="2.6" rx="1.3" fill="#989898" stroke="#3a3a3a" stroke-width=".35"/><rect x="-5.1" y="-1.3" width="10.1" height="2.6" rx="1.3" fill="url(#rg)"/></g>
<rect transform="translate(439.2 363.9) rotate(59)" x="-3.5" y="-1.4" width="7.1" height="2.9" rx="1.4" opacity="0.6"/><g transform="translate(438.7 363.3) rotate(59)"><rect x="-3.5" y="-1.4" width="7.1" height="2.9" rx="1.4" fill="#848484" stroke="#3a3a3a" stroke-width=".35"/><rect x="-3.5" y="-1.4" width="7.1" height="2.9" rx="1.4" fill="url(#rg)"/></g>
<rect transform="translate(454.7 343.5) rotate(167)" x="-5.6" y="-1.5" width="11.3" height="3.1" rx="1.5" opacity="0.6"/><g transform="translate(454.2 342.9) rotate(167)"><rect x="-5.6" y="-1.5" width="11.3" height="3.1" rx="1.5" fill="#8e8e8e" stroke="#3a3a3a" stroke-width=".35"/><rect x="-5.6" y="-1.5" width="11.3" height="3.1" rx="1.5" fill="url(#rg)"/></g>
<rect transform="translate(458.5 355.2) rotate(155)" x="-5.5" y="-1.7" width="11" height="3.3" rx="1.7" opacity="0.6"/><g transform="translate(458 354.6) rotate(155)"><rect x="-5.5" y="-1.7" width="11" height="3.3" rx="1.7" fill="#a2a2a2" stroke="#3a3a3a" stroke-width=".35"/><rect x="-5.5" y="-1.7" width="11" height="3.3" rx="1.7" fill="url(#rg)"/></g>
<rect transform="translate(455.1 348.3) rotate(74)" x="-4.3" y="-1.6" width="8.6" height="3.2" rx="1.6" opacity="0.6"/><g transform="translate(454.6 347.7) rotate(74)"><rect x="-4.3" y="-1.6" width="8.6" height="3.2" rx="1.6" fill="#989898" stroke="#3a3a3a" stroke-width=".35"/><rect x="-4.3" y="-1.6" width="8.6" height="3.2" rx="1.6" fill="url(#rg)"/></g>
<rect transform="translate(455.7 357.9) rotate(153)" x="-4.7" y="-1.3" width="9.4" height="2.7" rx="1.3" opacity="0.6"/><g transform="translate(455.2 357.3) rotate(153)"><rect x="-4.7" y="-1.3" width="9.4" height="2.7" rx="1.3" fill="#989898" stroke="#3a3a3a" stroke-width=".35"/><rect x="-4.7" y="-1.3" width="9.4" height="2.7" rx="1.3" fill="url(#rg)"/></g>
<rect transform="translate(451 353) rotate(72)" x="-4.7" y="-1.6" width="9.3" height="3.2" rx="1.6" opacity="0.6"/><g transform="translate(450.5 352.4) rotate(72)"><rect x="-4.7" y="-1.6" width="9.3" height="3.2" rx="1.6" fill="#989898" stroke="#3a3a3a" stroke-width=".35"/><rect x="-4.7" y="-1.6" width="9.3" height="3.2" rx="1.6" fill="url(#rg)"/></g>
<rect transform="translate(435 338) rotate(81)" x="-4.1" y="-1.6" width="8.3" height="3.3" rx="1.6" opacity="0.6"/><g transform="translate(434.5 337.4) rotate(81)"><rect x="-4.1" y="-1.6" width="8.3" height="3.3" rx="1.6" fill="#848484" stroke="#3a3a3a" stroke-width=".35"/><rect x="-4.1" y="-1.6" width="8.3" height="3.3" rx="1.6" fill="url(#rg)"/></g>
<rect transform="translate(446.6 348.5) rotate(141)" x="-3.5" y="-1.4" width="7" height="2.8" rx="1.4" opacity="0.6"/><g transform="translate(446.1 347.9) rotate(141)"><rect x="-3.5" y="-1.4" width="7" height="2.8" rx="1.4" fill="#989898" stroke="#3a3a3a" stroke-width=".35"/><rect x="-3.5" y="-1.4" width="7" height="2.8" rx="1.4" fill="url(#rg)"/></g>
<rect transform="translate(468 365.9) rotate(105)" x="-3.9" y="-1.3" width="7.8" height="2.6" rx="1.3" opacity="0.6"/><g transform="translate(467.5 365.3) rotate(105)"><rect x="-3.9" y="-1.3" width="7.8" height="2.6" rx="1.3" fill="#989898" stroke="#3a3a3a" stroke-width=".35"/><rect x="-3.9" y="-1.3" width="7.8" height="2.6" rx="1.3" fill="url(#rg)"/></g>
<rect transform="translate(450 343.7) rotate(33)" x="-5" y="-1.5" width="10" height="3" rx="1.5" opacity="0.6"/><g transform="translate(449.5 343.1) rotate(33)"><rect x="-5" y="-1.5" width="10" height="3" rx="1.5" fill="#8e8e8e" stroke="#3a3a3a" stroke-width=".35"/><rect x="-5" y="-1.5" width="10" height="3" rx="1.5" fill="url(#rg)"/></g>
<rect transform="translate(430.7 353.8) rotate(43)" x="-3.6" y="-1.6" width="7.2" height="3.2" rx="1.6" opacity="0.6"/><g transform="translate(430.2 353.2) rotate(43)"><rect x="-3.6" y="-1.6" width="7.2" height="3.2" rx="1.6" fill="#8e8e8e" stroke="#3a3a3a" stroke-width=".35"/><rect x="-3.6" y="-1.6" width="7.2" height="3.2" rx="1.6" fill="url(#rg)"/></g>
<rect transform="translate(430.2 337.4) rotate(17)" x="-5.9" y="-1.4" width="11.8" height="2.8" rx="1.4" opacity="0.6"/><g transform="translate(429.7 336.8) rotate(17)"><rect x="-5.9" y="-1.4" width="11.8" height="2.8" rx="1.4" fill="#a2a2a2" stroke="#3a3a3a" stroke-width=".35"/><rect x="-5.9" y="-1.4" width="11.8" height="2.8" rx="1.4" fill="url(#rg)"/></g>
<rect transform="translate(413.2 354.6) rotate(107)" x="-3.8" y="-1.7" width="7.6" height="3.3" rx="1.7" opacity="0.6"/><g transform="translate(412.7 354) rotate(107)"><rect x="-3.8" y="-1.7" width="7.6" height="3.3" rx="1.7" fill="#848484" stroke="#3a3a3a" stroke-width=".35"/><rect x="-3.8" y="-1.7" width="7.6" height="3.3" rx="1.7" fill="url(#rg)"/></g>
<rect transform="translate(420.2 380.2) rotate(54)" x="-4.7" y="-1.7" width="9.3" height="3.3" rx="1.7" opacity="0.6"/><g transform="translate(419.7 379.6) rotate(54)"><rect x="-4.7" y="-1.7" width="9.3" height="3.3" rx="1.7" fill="#989898" stroke="#3a3a3a" stroke-width=".35"/><rect x="-4.7" y="-1.7" width="9.3" height="3.3" rx="1.7" fill="url(#rg)"/></g>
<rect transform="translate(443.7 337.6) rotate(57)" x="-4.3" y="-1.7" width="8.7" height="3.4" rx="1.7" opacity="0.6"/><g transform="translate(443.2 337) rotate(57)"><rect x="-4.3" y="-1.7" width="8.7" height="3.4" rx="1.7" fill="#8e8e8e" stroke="#3a3a3a" stroke-width=".35"/><rect x="-4.3" y="-1.7" width="8.7" height="3.4" rx="1.7" fill="url(#rg)"/></g>
<rect transform="translate(453.7 390.4) rotate(5)" x="-5" y="-1.3" width="10" height="2.6" rx="1.3" opacity="0.6"/><g transform="translate(453.2 389.8) rotate(5)"><rect x="-5" y="-1.3" width="10" height="2.6" rx="1.3" fill="#8e8e8e" stroke="#3a3a3a" stroke-width=".35"/><rect x="-5" y="-1.3" width="10" height="2.6" rx="1.3" fill="url(#rg)"/></g>
<rect transform="translate(399.1 364.2) rotate(92)" x="-4.7" y="-1.4" width="9.4" height="2.8" rx="1.4" opacity="0.6"/><g transform="translate(398.6 363.6) rotate(92)"><rect x="-4.7" y="-1.4" width="9.4" height="2.8" rx="1.4" fill="#848484" stroke="#3a3a3a" stroke-width=".35"/><rect x="-4.7" y="-1.4" width="9.4" height="2.8" rx="1.4" fill="url(#rg)"/></g>
<rect transform="translate(414 390.6) rotate(165)" x="-4.7" y="-1.6" width="9.4" height="3.2" rx="1.6" opacity="0.6"/><g transform="translate(413.5 390) rotate(165)"><rect x="-4.7" y="-1.6" width="9.4" height="3.2" rx="1.6" fill="#8e8e8e" stroke="#3a3a3a" stroke-width=".35"/><rect x="-4.7" y="-1.6" width="9.4" height="3.2" rx="1.6" fill="url(#rg)"/></g>
<rect transform="translate(429 378.1) rotate(171)" x="-5.1" y="-1.5" width="10.2" height="2.9" rx="1.5" opacity="0.6"/><g transform="translate(428.5 377.5) rotate(171)"><rect x="-5.1" y="-1.5" width="10.2" height="2.9" rx="1.5" fill="#989898" stroke="#3a3a3a" stroke-width=".35"/><rect x="-5.1" y="-1.5" width="10.2" height="2.9" rx="1.5" fill="url(#rg)"/></g>
<rect transform="translate(467.5 342.3) rotate(122)" x="-4.5" y="-1.4" width="8.9" height="2.9" rx="1.4" opacity="0.6"/><g transform="translate(467 341.7) rotate(122)"><rect x="-4.5" y="-1.4" width="8.9" height="2.9" rx="1.4" fill="#a2a2a2" stroke="#3a3a3a" stroke-width=".35"/><rect x="-4.5" y="-1.4" width="8.9" height="2.9" rx="1.4" fill="url(#rg)"/></g>
<rect transform="translate(411.9 377.5) rotate(100)" x="-5.3" y="-1.6" width="10.7" height="3.3" rx="1.6" opacity="0.6"/><g transform="translate(411.4 376.9) rotate(100)"><rect x="-5.3" y="-1.6" width="10.7" height="3.3" rx="1.6" fill="#989898" stroke="#3a3a3a" stroke-width=".35"/><rect x="-5.3" y="-1.6" width="10.7" height="3.3" rx="1.6" fill="url(#rg)"/></g>
<rect transform="translate(427.4 359.2) rotate(87)" x="-4.1" y="-1.6" width="8.1" height="3.2" rx="1.6" opacity="0.6"/><g transform="translate(426.9 358.6) rotate(87)"><rect x="-4.1" y="-1.6" width="8.1" height="3.2" rx="1.6" fill="#848484" stroke="#3a3a3a" stroke-width=".35"/><rect x="-4.1" y="-1.6" width="8.1" height="3.2" rx="1.6" fill="url(#rg)"/></g>
<rect transform="translate(465.1 364.4) rotate(125)" x="-5.4" y="-1.7" width="10.8" height="3.3" rx="1.7" opacity="0.6"/><g transform="translate(464.6 363.8) rotate(125)"><rect x="-5.4" y="-1.7" width="10.8" height="3.3" rx="1.7" fill="#a2a2a2" stroke="#3a3a3a" stroke-width=".35"/><rect x="-5.4" y="-1.7" width="10.8" height="3.3" rx="1.7" fill="url(#rg)"/></g>
<rect transform="translate(401 345.5) rotate(17)" x="-5.4" y="-1.6" width="10.8" height="3.3" rx="1.6" opacity="0.6"/><g transform="translate(400.5 344.9) rotate(17)"><rect x="-5.4" y="-1.6" width="10.8" height="3.3" rx="1.6" fill="#8e8e8e" stroke="#3a3a3a" stroke-width=".35"/><rect x="-5.4" y="-1.6" width="10.8" height="3.3" rx="1.6" fill="url(#rg)"/></g>
<rect transform="translate(423.9 369.7) rotate(110)" x="-5.5" y="-1.3" width="11" height="2.6" rx="1.3" opacity="0.6"/><g transform="translate(423.4 369.1) rotate(110)"><rect x="-5.5" y="-1.3" width="11" height="2.6" rx="1.3" fill="#8e8e8e" stroke="#3a3a3a" stroke-width=".35"/><rect x="-5.5" y="-1.3" width="11" height="2.6" rx="1.3" fill="url(#rg)"/></g>
<rect transform="translate(434.6 386.3) rotate(67)" x="-5.3" y="-1.4" width="10.7" height="2.9" rx="1.4" opacity="0.6"/><g transform="translate(434.1 385.7) rotate(67)"><rect x="-5.3" y="-1.4" width="10.7" height="2.9" rx="1.4" fill="#8e8e8e" stroke="#3a3a3a" stroke-width=".35"/><rect x="-5.3" y="-1.4" width="10.7" height="2.9" rx="1.4" fill="url(#rg)"/></g>
<rect transform="translate(413.6 380.1) rotate(56)" x="-5.8" y="-1.4" width="11.6" height="2.9" rx="1.4" opacity="0.6"/><g transform="translate(413.1 379.5) rotate(56)"><rect x="-5.8" y="-1.4" width="11.6" height="2.9" rx="1.4" fill="#a2a2a2" stroke="#3a3a3a" stroke-width=".35"/><rect x="-5.8" y="-1.4" width="11.6" height="2.9" rx="1.4" fill="url(#rg)"/></g>
<rect transform="translate(404.2 372.4) rotate(27)" x="-4.1" y="-1.3" width="8.2" height="2.6" rx="1.3" opacity="0.6"/><g transform="translate(403.7 371.8) rotate(27)"><rect x="-4.1" y="-1.3" width="8.2" height="2.6" rx="1.3" fill="#989898" stroke="#3a3a3a" stroke-width=".35"/><rect x="-4.1" y="-1.3" width="8.2" height="2.6" rx="1.3" fill="url(#rg)"/></g>
<rect transform="translate(445.7 336.6) rotate(40)" x="-4.1" y="-1.7" width="8.1" height="3.4" rx="1.7" opacity="0.6"/><g transform="translate(445.2 336) rotate(40)"><rect x="-4.1" y="-1.7" width="8.1" height="3.4" rx="1.7" fill="#a2a2a2" stroke="#3a3a3a" stroke-width=".35"/><rect x="-4.1" y="-1.7" width="8.1" height="3.4" rx="1.7" fill="url(#rg)"/></g>
<rect transform="translate(439.1 386.9) rotate(141)" x="-4.3" y="-1.7" width="8.6" height="3.3" rx="1.7" opacity="0.6"/><g transform="translate(438.6 386.3) rotate(141)"><rect x="-4.3" y="-1.7" width="8.6" height="3.3" rx="1.7" fill="#a2a2a2" stroke="#3a3a3a" stroke-width=".35"/><rect x="-4.3" y="-1.7" width="8.6" height="3.3" rx="1.7" fill="url(#rg)"/></g>
<rect transform="translate(412.1 340.3) rotate(4)" x="-5.6" y="-1.3" width="11.1" height="2.7" rx="1.3" opacity="0.6"/><g transform="translate(411.6 339.7) rotate(4)"><rect x="-5.6" y="-1.3" width="11.1" height="2.7" rx="1.3" fill="#8e8e8e" stroke="#3a3a3a" stroke-width=".35"/><rect x="-5.6" y="-1.3" width="11.1" height="2.7" rx="1.3" fill="url(#rg)"/></g>
<rect transform="translate(413.9 386.1) rotate(40)" x="-3.7" y="-1.5" width="7.4" height="3" rx="1.5" opacity="0.6"/><g transform="translate(413.4 385.5) rotate(40)"><rect x="-3.7" y="-1.5" width="7.4" height="3" rx="1.5" fill="#8e8e8e" stroke="#3a3a3a" stroke-width=".35"/><rect x="-3.7" y="-1.5" width="7.4" height="3" rx="1.5" fill="url(#rg)"/></g>
<rect transform="translate(450.4 378.7) rotate(109)" x="-5.7" y="-1.4" width="11.4" height="2.9" rx="1.4" opacity="0.6"/><g transform="translate(449.9 378.1) rotate(109)"><rect x="-5.7" y="-1.4" width="11.4" height="2.9" rx="1.4" fill="#a2a2a2" stroke="#3a3a3a" stroke-width=".35"/><rect x="-5.7" y="-1.4" width="11.4" height="2.9" rx="1.4" fill="url(#rg)"/></g>
<rect transform="translate(461.6 352.3) rotate(68)" x="-5.9" y="-1.5" width="11.7" height="3" rx="1.5" opacity="0.6"/><g transform="translate(461.1 351.7) rotate(68)"><rect x="-5.9" y="-1.5" width="11.7" height="3" rx="1.5" fill="#8e8e8e" stroke="#3a3a3a" stroke-width=".35"/><rect x="-5.9" y="-1.5" width="11.7" height="3" rx="1.5" fill="url(#rg)"/></g>
<rect transform="translate(441.9 362) rotate(62)" x="-5.3" y="-1.3" width="10.6" height="2.7" rx="1.3" opacity="0.6"/><g transform="translate(441.4 361.4) rotate(62)"><rect x="-5.3" y="-1.3" width="10.6" height="2.7" rx="1.3" fill="#a2a2a2" stroke="#3a3a3a" stroke-width=".35"/><rect x="-5.3" y="-1.3" width="10.6" height="2.7" rx="1.3" fill="url(#rg)"/></g>
<rect transform="translate(459.6 387.8) rotate(141)" x="-5.2" y="-1.4" width="10.4" height="2.9" rx="1.4" opacity="0.6"/><g transform="translate(459.1 387.2) rotate(141)"><rect x="-5.2" y="-1.4" width="10.4" height="2.9" rx="1.4" fill="#8e8e8e" stroke="#3a3a3a" stroke-width=".35"/><rect x="-5.2" y="-1.4" width="10.4" height="2.9" rx="1.4" fill="url(#rg)"/></g>
<rect transform="translate(447.4 347.9) rotate(60)" x="-4.4" y="-1.7" width="8.8" height="3.4" rx="1.7" opacity="0.6"/><g transform="translate(446.9 347.3) rotate(60)"><rect x="-4.4" y="-1.7" width="8.8" height="3.4" rx="1.7" fill="#a2a2a2" stroke="#3a3a3a" stroke-width=".35"/><rect x="-4.4" y="-1.7" width="8.8" height="3.4" rx="1.7" fill="url(#rg)"/></g>
<rect transform="translate(433.7 350) rotate(37)" x="-4.3" y="-1.6" width="8.6" height="3.2" rx="1.6" opacity="0.6"/><g transform="translate(433.2 349.4) rotate(37)"><rect x="-4.3" y="-1.6" width="8.6" height="3.2" rx="1.6" fill="#989898" stroke="#3a3a3a" stroke-width=".35"/><rect x="-4.3" y="-1.6" width="8.6" height="3.2" rx="1.6" fill="url(#rg)"/></g>
<rect transform="translate(469.6 391.3) rotate(96)" x="-5" y="-1.7" width="10.1" height="3.3" rx="1.7" opacity="0.6"/><g transform="translate(469.1 390.7) rotate(96)"><rect x="-5" y="-1.7" width="10.1" height="3.3" rx="1.7" fill="#a2a2a2" stroke="#3a3a3a" stroke-width=".35"/><rect x="-5" y="-1.7" width="10.1" height="3.3" rx="1.7" fill="url(#rg)"/></g>
<rect transform="translate(427.8 346.6) rotate(161)" x="-5.1" y="-1.5" width="10.1" height="2.9" rx="1.5" opacity="0.6"/><g transform="translate(427.3 346) rotate(161)"><rect x="-5.1" y="-1.5" width="10.1" height="2.9" rx="1.5" fill="#a2a2a2" stroke="#3a3a3a" stroke-width=".35"/><rect x="-5.1" y="-1.5" width="10.1" height="2.9" rx="1.5" fill="url(#rg)"/></g>
<rect transform="translate(436.2 368.9) rotate(3)" x="-3.6" y="-1.7" width="7.2" height="3.4" rx="1.7" opacity="0.6"/><g transform="translate(435.7 368.3) rotate(3)"><rect x="-3.6" y="-1.7" width="7.2" height="3.4" rx="1.7" fill="#8e8e8e" stroke="#3a3a3a" stroke-width=".35"/><rect x="-3.6" y="-1.7" width="7.2" height="3.4" rx="1.7" fill="url(#rg)"/></g>
<rect transform="translate(399.8 344.4) rotate(85)" x="-4.8" y="-1.3" width="9.5" height="2.6" rx="1.3" opacity="0.6"/><g transform="translate(399.3 343.8) rotate(85)"><rect x="-4.8" y="-1.3" width="9.5" height="2.6" rx="1.3" fill="#989898" stroke="#3a3a3a" stroke-width=".35"/><rect x="-4.8" y="-1.3" width="9.5" height="2.6" rx="1.3" fill="url(#rg)"/></g>
<rect transform="translate(458.9 351.4) rotate(134)" x="-4.6" y="-1.4" width="9.2" height="2.9" rx="1.4" opacity="0.6"/><g transform="translate(458.4 350.8) rotate(134)"><rect x="-4.6" y="-1.4" width="9.2" height="2.9" rx="1.4" fill="#848484" stroke="#3a3a3a" stroke-width=".35"/><rect x="-4.6" y="-1.4" width="9.2" height="2.9" rx="1.4" fill="url(#rg)"/></g>
<rect transform="translate(409.3 360.9) rotate(37)" x="-5.8" y="-1.5" width="11.5" height="3" rx="1.5" opacity="0.6"/><g transform="translate(408.8 360.3) rotate(37)"><rect x="-5.8" y="-1.5" width="11.5" height="3" rx="1.5" fill="#a2a2a2" stroke="#3a3a3a" stroke-width=".35"/><rect x="-5.8" y="-1.5" width="11.5" height="3" rx="1.5" fill="url(#rg)"/></g>
<rect transform="translate(460.3 375.3) rotate(158)" x="-5.9" y="-1.7" width="11.9" height="3.4" rx="1.7" opacity="0.6"/><g transform="translate(459.8 374.7) rotate(158)"><rect x="-5.9" y="-1.7" width="11.9" height="3.4" rx="1.7" fill="#848484" stroke="#3a3a3a" stroke-width=".35"/><rect x="-5.9" y="-1.7" width="11.9" height="3.4" rx="1.7" fill="url(#rg)"/></g>
<rect transform="translate(475.2 360.1) rotate(180)" x="-5.9" y="-1.5" width="11.7" height="3" rx="1.5" opacity="0.6"/><g transform="translate(474.7 359.5) rotate(180)"><rect x="-5.9" y="-1.5" width="11.7" height="3" rx="1.5" fill="#989898" stroke="#3a3a3a" stroke-width=".35"/><rect x="-5.9" y="-1.5" width="11.7" height="3" rx="1.5" fill="url(#rg)"/></g>
<rect transform="translate(427.1 383.8) rotate(160)" x="-4.2" y="-1.5" width="8.4" height="3" rx="1.5" opacity="0.6"/><g transform="translate(426.6 383.2) rotate(160)"><rect x="-4.2" y="-1.5" width="8.4" height="3" rx="1.5" fill="#848484" stroke="#3a3a3a" stroke-width=".35"/><rect x="-4.2" y="-1.5" width="8.4" height="3" rx="1.5" fill="url(#rg)"/></g>
<rect transform="translate(459.1 388.2) rotate(113)" x="-4.8" y="-1.3" width="9.6" height="2.6" rx="1.3" opacity="0.6"/><g transform="translate(458.6 387.6) rotate(113)"><rect x="-4.8" y="-1.3" width="9.6" height="2.6" rx="1.3" fill="#989898" stroke="#3a3a3a" stroke-width=".35"/><rect x="-4.8" y="-1.3" width="9.6" height="2.6" rx="1.3" fill="url(#rg)"/></g>
<rect transform="translate(441.7 345.2) rotate(139)" x="-3.6" y="-1.4" width="7.3" height="2.8" rx="1.4" opacity="0.6"/><g transform="translate(441.2 344.6) rotate(139)"><rect x="-3.6" y="-1.4" width="7.3" height="2.8" rx="1.4" fill="#a2a2a2" stroke="#3a3a3a" stroke-width=".35"/><rect x="-3.6" y="-1.4" width="7.3" height="2.8" rx="1.4" fill="url(#rg)"/></g>
<rect transform="translate(426.7 390.2) rotate(88)" x="-4.4" y="-1.5" width="8.8" height="3" rx="1.5" opacity="0.6"/><g transform="translate(426.2 389.6) rotate(88)"><rect x="-4.4" y="-1.5" width="8.8" height="3" rx="1.5" fill="#989898" stroke="#3a3a3a" stroke-width=".35"/><rect x="-4.4" y="-1.5" width="8.8" height="3" rx="1.5" fill="url(#rg)"/></g>
<rect transform="translate(398.6 360.2) rotate(98)" x="-4.3" y="-1.3" width="8.7" height="2.6" rx="1.3" opacity="0.6"/><g transform="translate(398.1 359.6) rotate(98)"><rect x="-4.3" y="-1.3" width="8.7" height="2.6" rx="1.3" fill="#8e8e8e" stroke="#3a3a3a" stroke-width=".35"/><rect x="-4.3" y="-1.3" width="8.7" height="2.6" rx="1.3" fill="url(#rg)"/></g>
<rect transform="translate(434.6 350.6) rotate(130)" x="-5.2" y="-1.5" width="10.4" height="3" rx="1.5" opacity="0.6"/><g transform="translate(434.1 350) rotate(130)"><rect x="-5.2" y="-1.5" width="10.4" height="3" rx="1.5" fill="#848484" stroke="#3a3a3a" stroke-width=".35"/><rect x="-5.2" y="-1.5" width="10.4" height="3" rx="1.5" fill="url(#rg)"/></g>
<rect transform="translate(401.1 360) rotate(164)" x="-5.1" y="-1.6" width="10.1" height="3.1" rx="1.6" opacity="0.6"/><g transform="translate(400.6 359.4) rotate(164)"><rect x="-5.1" y="-1.6" width="10.1" height="3.1" rx="1.6" fill="#989898" stroke="#3a3a3a" stroke-width=".35"/><rect x="-5.1" y="-1.6" width="10.1" height="3.1" rx="1.6" fill="url(#rg)"/></g>
<rect transform="translate(476.1 377.7) rotate(135)" x="-5.6" y="-1.5" width="11.2" height="2.9" rx="1.5" opacity="0.6"/><g transform="translate(475.6 377.1) rotate(135)"><rect x="-5.6" y="-1.5" width="11.2" height="2.9" rx="1.5" fill="#848484" stroke="#3a3a3a" stroke-width=".35"/><rect x="-5.6" y="-1.5" width="11.2" height="2.9" rx="1.5" fill="url(#rg)"/></g>
<rect transform="translate(443 351.6) rotate(116)" x="-3.9" y="-1.3" width="7.8" height="2.6" rx="1.3" opacity="0.6"/><g transform="translate(442.5 351) rotate(116)"><rect x="-3.9" y="-1.3" width="7.8" height="2.6" rx="1.3" fill="#a2a2a2" stroke="#3a3a3a" stroke-width=".35"/><rect x="-3.9" y="-1.3" width="7.8" height="2.6" rx="1.3" fill="url(#rg)"/></g>
<rect transform="translate(436 373.3) rotate(108)" x="-5.8" y="-1.6" width="11.6" height="3.3" rx="1.6" opacity="0.6"/><g transform="translate(435.5 372.7) rotate(108)"><rect x="-5.8" y="-1.6" width="11.6" height="3.3" rx="1.6" fill="#a2a2a2" stroke="#3a3a3a" stroke-width=".35"/><rect x="-5.8" y="-1.6" width="11.6" height="3.3" rx="1.6" fill="url(#rg)"/></g>
<rect transform="translate(428.1 371.4) rotate(25)" x="-4.2" y="-1.3" width="8.5" height="2.7" rx="1.3" opacity="0.6"/><g transform="translate(427.6 370.8) rotate(25)"><rect x="-4.2" y="-1.3" width="8.5" height="2.7" rx="1.3" fill="#8e8e8e" stroke="#3a3a3a" stroke-width=".35"/><rect x="-4.2" y="-1.3" width="8.5" height="2.7" rx="1.3" fill="url(#rg)"/></g>
<rect transform="translate(431.1 355.7) rotate(81)" x="-4.6" y="-1.6" width="9.3" height="3.2" rx="1.6" opacity="0.6"/><g transform="translate(430.6 355.1) rotate(81)"><rect x="-4.6" y="-1.6" width="9.3" height="3.2" rx="1.6" fill="#989898" stroke="#3a3a3a" stroke-width=".35"/><rect x="-4.6" y="-1.6" width="9.3" height="3.2" rx="1.6" fill="url(#rg)"/></g>
<rect transform="translate(445.1 343.7) rotate(41)" x="-3.6" y="-1.5" width="7.2" height="3" rx="1.5" opacity="0.6"/><g transform="translate(444.6 343.1) rotate(41)"><rect x="-3.6" y="-1.5" width="7.2" height="3" rx="1.5" fill="#a2a2a2" stroke="#3a3a3a" stroke-width=".35"/><rect x="-3.6" y="-1.5" width="7.2" height="3" rx="1.5" fill="url(#rg)"/></g>
<rect transform="translate(474.2 370.3) rotate(99)" x="-3.6" y="-1.5" width="7.2" height="3.1" rx="1.5" opacity="0.6"/><g transform="translate(473.7 369.7) rotate(99)"><rect x="-3.6" y="-1.5" width="7.2" height="3.1" rx="1.5" fill="#a2a2a2" stroke="#3a3a3a" stroke-width=".35"/><rect x="-3.6" y="-1.5" width="7.2" height="3.1" rx="1.5" fill="url(#rg)"/></g>
<rect x="400.00" y="338.30" width="76.40" height="50.20" filter="url(#t2)" opacity="0.5" style="mix-blend-mode:soft-light"/>
</g>
<rect x="400.00" y="338.30" width="76.40" height="50.20" fill="none" stroke="#0a0a0a" stroke-width="1"/>
<text x="404.80" y="347.10" font-size="7.1" font-style="italic" fill="#fff" word-spacing="1.4">E. coli</text>
<text x="408.20" y="386.40" font-size="7.0" fill="#fff">AMP 30</text>
<text x="472.10" y="381.00" font-size="6.8" fill="#fff" text-anchor="end">1 µm</text>
<rect x="459.70" y="383.90" width="5.40" height="1.6" fill="#fff"/>
<rect x="480.00" y="339.10" width="78.90" height="51.80" fill="#8c8c8c" filter="url(#sh)"/>
<clipPath id="c4"><rect x="479.40" y="338.30" width="77.30" height="50.20"/></clipPath>
<g clip-path="url(#c4)">
<rect x="479.40" y="338.30" width="77.30" height="50.20" fill="#585858"/>
<rect x="479.40" y="338.30" width="77.30" height="50.20" filter="url(#t1)" opacity="0.4" style="mix-blend-mode:overlay"/>
<ellipse cx="517.40" cy="363.30" rx="10.00" ry="9.00" fill="#202020" opacity="0.4" transform="rotate(0 517.40 363.30)"/>
<ellipse cx="507.40" cy="354.30" rx="6.00" ry="5.00" fill="#202020" opacity="0.4" transform="rotate(0 507.40 354.30)"/>
<rect transform="translate(496.6 341.7) rotate(12)" x="-4.5" y="-1.4" width="9" height="2.7" rx="1.4" opacity="0.6"/><g transform="translate(496.1 341.1) rotate(12)"><rect x="-4.5" y="-1.4" width="9" height="2.7" rx="1.4" fill="#a8a8a8" stroke="#3a3a3a" stroke-width=".35"/><rect x="-4.5" y="-1.4" width="9" height="2.7" rx="1.4" fill="url(#rg)"/></g>
<rect transform="translate(522.7 352.2) rotate(94)" x="-6" y="-1.3" width="12" height="2.6" rx="1.3" opacity="0.6"/><g transform="translate(522.2 351.6) rotate(94)"><rect x="-6" y="-1.3" width="12" height="2.6" rx="1.3" fill="#8c8c8c" stroke="#3a3a3a" stroke-width=".35"/><rect x="-6" y="-1.3" width="12" height="2.6" rx="1.3" fill="url(#rg)"/></g>
<rect transform="translate(499.9 345.6) rotate(167)" x="-3.8" y="-1.4" width="7.5" height="2.8" rx="1.4" opacity="0.6"/><g transform="translate(499.4 345) rotate(167)"><rect x="-3.8" y="-1.4" width="7.5" height="2.8" rx="1.4" fill="#8c8c8c" stroke="#3a3a3a" stroke-width=".35"/><rect x="-3.8" y="-1.4" width="7.5" height="2.8" rx="1.4" fill="url(#rg)"/></g>
<rect transform="translate(543.6 346.8) rotate(132)" x="-4.3" y="-1.6" width="8.5" height="3.1" rx="1.6" opacity="0.6"/><g transform="translate(543.1 346.2) rotate(132)"><rect x="-4.3" y="-1.6" width="8.5" height="3.1" rx="1.6" fill="#8c8c8c" stroke="#3a3a3a" stroke-width=".35"/><rect x="-4.3" y="-1.6" width="8.5" height="3.1" rx="1.6" fill="url(#rg)"/></g>
<rect transform="translate(484.1 369.9) rotate(32)" x="-5.2" y="-1.5" width="10.4" height="3" rx="1.5" opacity="0.6"/><g transform="translate(483.6 369.3) rotate(32)"><rect x="-5.2" y="-1.5" width="10.4" height="3" rx="1.5" fill="#a8a8a8" stroke="#3a3a3a" stroke-width=".35"/><rect x="-5.2" y="-1.5" width="10.4" height="3" rx="1.5" fill="url(#rg)"/></g>
<rect transform="translate(500.2 389) rotate(151)" x="-5.5" y="-1.7" width="11.1" height="3.4" rx="1.7" opacity="0.6"/><g transform="translate(499.7 388.4) rotate(151)"><rect x="-5.5" y="-1.7" width="11.1" height="3.4" rx="1.7" fill="#969696" stroke="#3a3a3a" stroke-width=".35"/><rect x="-5.5" y="-1.7" width="11.1" height="3.4" rx="1.7" fill="url(#rg)"/></g>
<rect transform="translate(552.6 368.1) rotate(92)" x="-5.7" y="-1.6" width="11.4" height="3.3" rx="1.6" opacity="0.6"/><g transform="translate(552.1 367.5) rotate(92)"><rect x="-5.7" y="-1.6" width="11.4" height="3.3" rx="1.6" fill="#a8a8a8" stroke="#3a3a3a" stroke-width=".35"/><rect x="-5.7" y="-1.6" width="11.4" height="3.3" rx="1.6" fill="url(#rg)"/></g>
<rect transform="translate(512.2 352.1) rotate(47)" x="-4.6" y="-1.4" width="9.3" height="2.8" rx="1.4" opacity="0.6"/><g transform="translate(511.7 351.5) rotate(47)"><rect x="-4.6" y="-1.4" width="9.3" height="2.8" rx="1.4" fill="#969696" stroke="#3a3a3a" stroke-width=".35"/><rect x="-4.6" y="-1.4" width="9.3" height="2.8" rx="1.4" fill="url(#rg)"/></g>
<rect transform="translate(483.7 361.9) rotate(117)" x="-6" y="-1.5" width="12" height="3" rx="1.5" opacity="0.6"/><g transform="translate(483.2 361.3) rotate(117)"><rect x="-6" y="-1.5" width="12" height="3" rx="1.5" fill="#8c8c8c" stroke="#3a3a3a" stroke-width=".35"/><rect x="-6" y="-1.5" width="12" height="3" rx="1.5" fill="url(#rg)"/></g>
<rect transform="translate(489 373.8) rotate(114)" x="-3.7" y="-1.7" width="7.3" height="3.3" rx="1.7" opacity="0.6"/><g transform="translate(488.5 373.2) rotate(114)"><rect x="-3.7" y="-1.7" width="7.3" height="3.3" rx="1.7" fill="#a8a8a8" stroke="#3a3a3a" stroke-width=".35"/><rect x="-3.7" y="-1.7" width="7.3" height="3.3" rx="1.7" fill="url(#rg)"/></g>
<rect transform="translate(499.9 355.9) rotate(101)" x="-5.4" y="-1.4" width="10.7" height="2.9" rx="1.4" opacity="0.6"/><g transform="translate(499.4 355.3) rotate(101)"><rect x="-5.4" y="-1.4" width="10.7" height="2.9" rx="1.4" fill="#8c8c8c" stroke="#3a3a3a" stroke-width=".35"/><rect x="-5.4" y="-1.4" width="10.7" height="2.9" rx="1.4" fill="url(#rg)"/></g>
<rect transform="translate(485.3 339.4) rotate(111)" x="-4.1" y="-1.6" width="8.1" height="3.2" rx="1.6" opacity="0.6"/><g transform="translate(484.8 338.8) rotate(111)"><rect x="-4.1" y="-1.6" width="8.1" height="3.2" rx="1.6" fill="#a0a0a0" stroke="#3a3a3a" stroke-width=".35"/><rect x="-4.1" y="-1.6" width="8.1" height="3.2" rx="1.6" fill="url(#rg)"/></g>
<rect transform="translate(487.1 388.4) rotate(64)" x="-4.2" y="-1.3" width="8.5" height="2.6" rx="1.3" opacity="0.6"/><g transform="translate(486.6 387.8) rotate(64)"><rect x="-4.2" y="-1.3" width="8.5" height="2.6" rx="1.3" fill="#969696" stroke="#3a3a3a" stroke-width=".35"/><rect x="-4.2" y="-1.3" width="8.5" height="2.6" rx="1.3" fill="url(#rg)"/></g>
<rect transform="translate(551.5 389.6) rotate(3)" x="-5.3" y="-1.7" width="10.7" height="3.4" rx="1.7" opacity="0.6"/><g transform="translate(551 389) rotate(3)"><rect x="-5.3" y="-1.7" width="10.7" height="3.4" rx="1.7" fill="#8c8c8c" stroke="#3a3a3a" stroke-width=".35"/><rect x="-5.3" y="-1.7" width="10.7" height="3.4" rx="1.7" fill="url(#rg)"/></g>
<rect transform="translate(503.7 344.5) rotate(157)" x="-5.1" y="-1.6" width="10.3" height="3.3" rx="1.6" opacity="0.6"/><g transform="translate(503.2 343.9) rotate(157)"><rect x="-5.1" y="-1.6" width="10.3" height="3.3" rx="1.6" fill="#969696" stroke="#3a3a3a" stroke-width=".35"/><rect x="-5.1" y="-1.6" width="10.3" height="3.3" rx="1.6" fill="url(#rg)"/></g>
<rect transform="translate(501.3 346.7) rotate(69)" x="-4.6" y="-1.4" width="9.2" height="2.7" rx="1.4" opacity="0.6"/><g transform="translate(500.8 346.1) rotate(69)"><rect x="-4.6" y="-1.4" width="9.2" height="2.7" rx="1.4" fill="#a0a0a0" stroke="#3a3a3a" stroke-width=".35"/><rect x="-4.6" y="-1.4" width="9.2" height="2.7" rx="1.4" fill="url(#rg)"/></g>
<rect transform="translate(504.5 336.4) rotate(141)" x="-3.6" y="-1.4" width="7.2" height="2.7" rx="1.4" opacity="0.6"/><g transform="translate(504 335.8) rotate(141)"><rect x="-3.6" y="-1.4" width="7.2" height="2.7" rx="1.4" fill="#8c8c8c" stroke="#3a3a3a" stroke-width=".35"/><rect x="-3.6" y="-1.4" width="7.2" height="2.7" rx="1.4" fill="url(#rg)"/></g>
<rect transform="translate(560 368) rotate(165)" x="-4.6" y="-1.4" width="9.2" height="2.8" rx="1.4" opacity="0.6"/><g transform="translate(559.5 367.4) rotate(165)"><rect x="-4.6" y="-1.4" width="9.2" height="2.8" rx="1.4" fill="#969696" stroke="#3a3a3a" stroke-width=".35"/><rect x="-4.6" y="-1.4" width="9.2" height="2.8" rx="1.4" fill="url(#rg)"/></g>
<rect transform="translate(481.8 339) rotate(27)" x="-3.9" y="-1.6" width="7.8" height="3.1" rx="1.6" opacity="0.6"/><g transform="translate(481.3 338.4) rotate(27)"><rect x="-3.9" y="-1.6" width="7.8" height="3.1" rx="1.6" fill="#969696" stroke="#3a3a3a" stroke-width=".35"/><rect x="-3.9" y="-1.6" width="7.8" height="3.1" rx="1.6" fill="url(#rg)"/></g>
<rect transform="translate(522.4 368.6) rotate(150)" x="-4.3" y="-1.3" width="8.6" height="2.6" rx="1.3" opacity="0.6"/><g transform="translate(521.9 368) rotate(150)"><rect x="-4.3" y="-1.3" width="8.6" height="2.6" rx="1.3" fill="#8c8c8c" stroke="#3a3a3a" stroke-width=".35"/><rect x="-4.3" y="-1.3" width="8.6" height="2.6" rx="1.3" fill="url(#rg)"/></g>
<rect transform="translate(541.4 358.9) rotate(44)" x="-6" y="-1.5" width="11.9" height="3" rx="1.5" opacity="0.6"/><g transform="translate(540.9 358.3) rotate(44)"><rect x="-6" y="-1.5" width="11.9" height="3" rx="1.5" fill="#a8a8a8" stroke="#3a3a3a" stroke-width=".35"/><rect x="-6" y="-1.5" width="11.9" height="3" rx="1.5" fill="url(#rg)"/></g>
<rect transform="translate(517.9 348.2) rotate(77)" x="-4.6" y="-1.6" width="9.2" height="3.1" rx="1.6" opacity="0.6"/><g transform="translate(517.4 347.6) rotate(77)"><rect x="-4.6" y="-1.6" width="9.2" height="3.1" rx="1.6" fill="#a0a0a0" stroke="#3a3a3a" stroke-width=".35"/><rect x="-4.6" y="-1.6" width="9.2" height="3.1" rx="1.6" fill="url(#rg)"/></g>
<rect transform="translate(518.4 337.7) rotate(37)" x="-4.1" y="-1.4" width="8.3" height="2.8" rx="1.4" opacity="0.6"/><g transform="translate(517.9 337.1) rotate(37)"><rect x="-4.1" y="-1.4" width="8.3" height="2.8" rx="1.4" fill="#a0a0a0" stroke="#3a3a3a" stroke-width=".35"/><rect x="-4.1" y="-1.4" width="8.3" height="2.8" rx="1.4" fill="url(#rg)"/></g>
<rect transform="translate(511.6 350.6) rotate(57)" x="-4.3" y="-1.7" width="8.6" height="3.3" rx="1.7" opacity="0.6"/><g transform="translate(511.1 350) rotate(57)"><rect x="-4.3" y="-1.7" width="8.6" height="3.3" rx="1.7" fill="#969696" stroke="#3a3a3a" stroke-width=".35"/><rect x="-4.3" y="-1.7" width="8.6" height="3.3" rx="1.7" fill="url(#rg)"/></g>
<rect transform="translate(559.4 358.5) rotate(142)" x="-5.8" y="-1.6" width="11.5" height="3.1" rx="1.6" opacity="0.6"/><g transform="translate(558.9 357.9) rotate(142)"><rect x="-5.8" y="-1.6" width="11.5" height="3.1" rx="1.6" fill="#969696" stroke="#3a3a3a" stroke-width=".35"/><rect x="-5.8" y="-1.6" width="11.5" height="3.1" rx="1.6" fill="url(#rg)"/></g>
<rect transform="translate(518.1 341.1) rotate(162)" x="-4" y="-1.6" width="8.1" height="3.3" rx="1.6" opacity="0.6"/><g transform="translate(517.6 340.5) rotate(162)"><rect x="-4" y="-1.6" width="8.1" height="3.3" rx="1.6" fill="#a0a0a0" stroke="#3a3a3a" stroke-width=".35"/><rect x="-4" y="-1.6" width="8.1" height="3.3" rx="1.6" fill="url(#rg)"/></g>
<rect transform="translate(504.9 372.8) rotate(147)" x="-5.5" y="-1.6" width="11" height="3.1" rx="1.6" opacity="0.6"/><g transform="translate(504.4 372.2) rotate(147)"><rect x="-5.5" y="-1.6" width="11" height="3.1" rx="1.6" fill="#a0a0a0" stroke="#3a3a3a" stroke-width=".35"/><rect x="-5.5" y="-1.6" width="11" height="3.1" rx="1.6" fill="url(#rg)"/></g>
<rect transform="translate(531.4 374.5) rotate(172)" x="-4.2" y="-1.7" width="8.3" height="3.3" rx="1.7" opacity="0.6"/><g transform="translate(530.9 373.9) rotate(172)"><rect x="-4.2" y="-1.7" width="8.3" height="3.3" rx="1.7" fill="#969696" stroke="#3a3a3a" stroke-width=".35"/><rect x="-4.2" y="-1.7" width="8.3" height="3.3" rx="1.7" fill="url(#rg)"/></g>
<rect transform="translate(548.4 351.6) rotate(71)" x="-5.1" y="-1.4" width="10.1" height="2.8" rx="1.4" opacity="0.6"/><g transform="translate(547.9 351) rotate(71)"><rect x="-5.1" y="-1.4" width="10.1" height="2.8" rx="1.4" fill="#a0a0a0" stroke="#3a3a3a" stroke-width=".35"/><rect x="-5.1" y="-1.4" width="10.1" height="2.8" rx="1.4" fill="url(#rg)"/></g>
<rect transform="translate(540.8 351) rotate(124)" x="-5.6" y="-1.6" width="11.3" height="3.3" rx="1.6" opacity="0.6"/><g transform="translate(540.3 350.4) rotate(124)"><rect x="-5.6" y="-1.6" width="11.3" height="3.3" rx="1.6" fill="#a8a8a8" stroke="#3a3a3a" stroke-width=".35"/><rect x="-5.6" y="-1.6" width="11.3" height="3.3" rx="1.6" fill="url(#rg)"/></g>
<rect transform="translate(524.3 377.9) rotate(1)" x="-5.8" y="-1.4" width="11.6" height="2.8" rx="1.4" opacity="0.6"/><g transform="translate(523.8 377.3) rotate(1)"><rect x="-5.8" y="-1.4" width="11.6" height="2.8" rx="1.4" fill="#a0a0a0" stroke="#3a3a3a" stroke-width=".35"/><rect x="-5.8" y="-1.4" width="11.6" height="2.8" rx="1.4" fill="url(#rg)"/></g>
<rect transform="translate(478 385.2) rotate(141)" x="-3.8" y="-1.6" width="7.6" height="3.2" rx="1.6" opacity="0.6"/><g transform="translate(477.5 384.6) rotate(141)"><rect x="-3.8" y="-1.6" width="7.6" height="3.2" rx="1.6" fill="#a0a0a0" stroke="#3a3a3a" stroke-width=".35"/><rect x="-3.8" y="-1.6" width="7.6" height="3.2" rx="1.6" fill="url(#rg)"/></g>
<rect transform="translate(522.8 385.3) rotate(60)" x="-4" y="-1.6" width="8" height="3.1" rx="1.6" opacity="0.6"/><g transform="translate(522.3 384.7) rotate(60)"><rect x="-4" y="-1.6" width="8" height="3.1" rx="1.6" fill="#a8a8a8" stroke="#3a3a3a" stroke-width=".35"/><rect x="-4" y="-1.6" width="8" height="3.1" rx="1.6" fill="url(#rg)"/></g>
<rect transform="translate(553.1 360.6) rotate(20)" x="-3.7" y="-1.6" width="7.4" height="3.2" rx="1.6" opacity="0.6"/><g transform="translate(552.6 360) rotate(20)"><rect x="-3.7" y="-1.6" width="7.4" height="3.2" rx="1.6" fill="#8c8c8c" stroke="#3a3a3a" stroke-width=".35"/><rect x="-3.7" y="-1.6" width="7.4" height="3.2" rx="1.6" fill="url(#rg)"/></g>
<rect transform="translate(527.6 343.7) rotate(94)" x="-4.4" y="-1.6" width="8.8" height="3.2" rx="1.6" opacity="0.6"/><g transform="translate(527.1 343.1) rotate(94)"><rect x="-4.4" y="-1.6" width="8.8" height="3.2" rx="1.6" fill="#969696" stroke="#3a3a3a" stroke-width=".35"/><rect x="-4.4" y="-1.6" width="8.8" height="3.2" rx="1.6" fill="url(#rg)"/></g>
<rect transform="translate(501.6 355.4) rotate(82)" x="-3.7" y="-1.7" width="7.4" height="3.4" rx="1.7" opacity="0.6"/><g transform="translate(501.1 354.8) rotate(82)"><rect x="-3.7" y="-1.7" width="7.4" height="3.4" rx="1.7" fill="#a0a0a0" stroke="#3a3a3a" stroke-width=".35"/><rect x="-3.7" y="-1.7" width="7.4" height="3.4" rx="1.7" fill="url(#rg)"/></g>
<rect transform="translate(542.5 353.4) rotate(174)" x="-4.1" y="-1.5" width="8.2" height="3" rx="1.5" opacity="0.6"/><g transform="translate(542 352.8) rotate(174)"><rect x="-4.1" y="-1.5" width="8.2" height="3" rx="1.5" fill="#969696" stroke="#3a3a3a" stroke-width=".35"/><rect x="-4.1" y="-1.5" width="8.2" height="3" rx="1.5" fill="url(#rg)"/></g>
<rect transform="translate(483.3 387.4) rotate(180)" x="-5.5" y="-1.4" width="11" height="2.9" rx="1.4" opacity="0.6"/><g transform="translate(482.8 386.8) rotate(180)"><rect x="-5.5" y="-1.4" width="11" height="2.9" rx="1.4" fill="#a8a8a8" stroke="#3a3a3a" stroke-width=".35"/><rect x="-5.5" y="-1.4" width="11" height="2.9" rx="1.4" fill="url(#rg)"/></g>
<rect transform="translate(548.4 379.5) rotate(35)" x="-3.7" y="-1.7" width="7.3" height="3.3" rx="1.7" opacity="0.6"/><g transform="translate(547.9 378.9) rotate(35)"><rect x="-3.7" y="-1.7" width="7.3" height="3.3" rx="1.7" fill="#8c8c8c" stroke="#3a3a3a" stroke-width=".35"/><rect x="-3.7" y="-1.7" width="7.3" height="3.3" rx="1.7" fill="url(#rg)"/></g>
<rect transform="translate(554.3 362.8) rotate(67)" x="-3.8" y="-1.5" width="7.6" height="3" rx="1.5" opacity="0.6"/><g transform="translate(553.8 362.2) rotate(67)"><rect x="-3.8" y="-1.5" width="7.6" height="3" rx="1.5" fill="#a0a0a0" stroke="#3a3a3a" stroke-width=".35"/><rect x="-3.8" y="-1.5" width="7.6" height="3" rx="1.5" fill="url(#rg)"/></g>
<rect transform="translate(491.6 344.3) rotate(98)" x="-4.7" y="-1.4" width="9.5" height="2.9" rx="1.4" opacity="0.6"/><g transform="translate(491.1 343.7) rotate(98)"><rect x="-4.7" y="-1.4" width="9.5" height="2.9" rx="1.4" fill="#969696" stroke="#3a3a3a" stroke-width=".35"/><rect x="-4.7" y="-1.4" width="9.5" height="2.9" rx="1.4" fill="url(#rg)"/></g>
<rect transform="translate(536.1 336.2) rotate(88)" x="-4.3" y="-1.5" width="8.6" height="3" rx="1.5" opacity="0.6"/><g transform="translate(535.6 335.6) rotate(88)"><rect x="-4.3" y="-1.5" width="8.6" height="3" rx="1.5" fill="#a8a8a8" stroke="#3a3a3a" stroke-width=".35"/><rect x="-4.3" y="-1.5" width="8.6" height="3" rx="1.5" fill="url(#rg)"/></g>
<rect transform="translate(520.7 365.2) rotate(41)" x="-4.5" y="-1.4" width="9.1" height="2.8" rx="1.4" opacity="0.6"/><g transform="translate(520.2 364.6) rotate(41)"><rect x="-4.5" y="-1.4" width="9.1" height="2.8" rx="1.4" fill="#a0a0a0" stroke="#3a3a3a" stroke-width=".35"/><rect x="-4.5" y="-1.4" width="9.1" height="2.8" rx="1.4" fill="url(#rg)"/></g>
<rect transform="translate(559 371.1) rotate(56)" x="-5.2" y="-1.5" width="10.4" height="3.1" rx="1.5" opacity="0.6"/><g transform="translate(558.5 370.5) rotate(56)"><rect x="-5.2" y="-1.5" width="10.4" height="3.1" rx="1.5" fill="#a8a8a8" stroke="#3a3a3a" stroke-width=".35"/><rect x="-5.2" y="-1.5" width="10.4" height="3.1" rx="1.5" fill="url(#rg)"/></g>
<rect transform="translate(542.1 367.8) rotate(79)" x="-5.8" y="-1.5" width="11.7" height="3" rx="1.5" opacity="0.6"/><g transform="translate(541.6 367.2) rotate(79)"><rect x="-5.8" y="-1.5" width="11.7" height="3" rx="1.5" fill="#a8a8a8" stroke="#3a3a3a" stroke-width=".35"/><rect x="-5.8" y="-1.5" width="11.7" height="3" rx="1.5" fill="url(#rg)"/></g>
<rect transform="translate(509.5 350) rotate(61)" x="-5" y="-1.7" width="10" height="3.4" rx="1.7" opacity="0.6"/><g transform="translate(509 349.4) rotate(61)"><rect x="-5" y="-1.7" width="10" height="3.4" rx="1.7" fill="#a8a8a8" stroke="#3a3a3a" stroke-width=".35"/><rect x="-5" y="-1.7" width="10" height="3.4" rx="1.7" fill="url(#rg)"/></g>
<rect transform="translate(483.8 344) rotate(162)" x="-5.5" y="-1.4" width="11" height="2.7" rx="1.4" opacity="0.6"/><g transform="translate(483.3 343.4) rotate(162)"><rect x="-5.5" y="-1.4" width="11" height="2.7" rx="1.4" fill="#8c8c8c" stroke="#3a3a3a" stroke-width=".35"/><rect x="-5.5" y="-1.4" width="11" height="2.7" rx="1.4" fill="url(#rg)"/></g>
<rect transform="translate(493.4 380.5) rotate(14)" x="-5.2" y="-1.7" width="10.4" height="3.3" rx="1.7" opacity="0.6"/><g transform="translate(492.9 379.9) rotate(14)"><rect x="-5.2" y="-1.7" width="10.4" height="3.3" rx="1.7" fill="#a0a0a0" stroke="#3a3a3a" stroke-width=".35"/><rect x="-5.2" y="-1.7" width="10.4" height="3.3" rx="1.7" fill="url(#rg)"/></g>
<rect transform="translate(504.4 356.8) rotate(109)" x="-3.9" y="-1.7" width="7.9" height="3.3" rx="1.7" opacity="0.6"/><g transform="translate(503.9 356.2) rotate(109)"><rect x="-3.9" y="-1.7" width="7.9" height="3.3" rx="1.7" fill="#969696" stroke="#3a3a3a" stroke-width=".35"/><rect x="-3.9" y="-1.7" width="7.9" height="3.3" rx="1.7" fill="url(#rg)"/></g>
<rect transform="translate(543.6 381.3) rotate(105)" x="-5.9" y="-1.4" width="11.8" height="2.7" rx="1.4" opacity="0.6"/><g transform="translate(543.1 380.7) rotate(105)"><rect x="-5.9" y="-1.4" width="11.8" height="2.7" rx="1.4" fill="#a8a8a8" stroke="#3a3a3a" stroke-width=".35"/><rect x="-5.9" y="-1.4" width="11.8" height="2.7" rx="1.4" fill="url(#rg)"/></g>
<rect transform="translate(532 391.7) rotate(178)" x="-3.7" y="-1.7" width="7.4" height="3.3" rx="1.7" opacity="0.6"/><g transform="translate(531.5 391.1) rotate(178)"><rect x="-3.7" y="-1.7" width="7.4" height="3.3" rx="1.7" fill="#a0a0a0" stroke="#3a3a3a" stroke-width=".35"/><rect x="-3.7" y="-1.7" width="7.4" height="3.3" rx="1.7" fill="url(#rg)"/></g>
<rect transform="translate(531.2 373.9) rotate(150)" x="-5.4" y="-1.5" width="10.7" height="3.1" rx="1.5" opacity="0.6"/><g transform="translate(530.7 373.3) rotate(150)"><rect x="-5.4" y="-1.5" width="10.7" height="3.1" rx="1.5" fill="#8c8c8c" stroke="#3a3a3a" stroke-width=".35"/><rect x="-5.4" y="-1.5" width="10.7" height="3.1" rx="1.5" fill="url(#rg)"/></g>
<rect transform="translate(547.9 374.6) rotate(88)" x="-5.7" y="-1.4" width="11.4" height="2.8" rx="1.4" opacity="0.6"/><g transform="translate(547.4 374) rotate(88)"><rect x="-5.7" y="-1.4" width="11.4" height="2.8" rx="1.4" fill="#a0a0a0" stroke="#3a3a3a" stroke-width=".35"/><rect x="-5.7" y="-1.4" width="11.4" height="2.8" rx="1.4" fill="url(#rg)"/></g>
<rect transform="translate(502.7 348.8) rotate(179)" x="-4.3" y="-1.6" width="8.6" height="3.1" rx="1.6" opacity="0.6"/><g transform="translate(502.2 348.2) rotate(179)"><rect x="-4.3" y="-1.6" width="8.6" height="3.1" rx="1.6" fill="#a8a8a8" stroke="#3a3a3a" stroke-width=".35"/><rect x="-4.3" y="-1.6" width="8.6" height="3.1" rx="1.6" fill="url(#rg)"/></g>
<rect transform="translate(519.1 390.4) rotate(106)" x="-4.3" y="-1.5" width="8.6" height="3" rx="1.5" opacity="0.6"/><g transform="translate(518.6 389.8) rotate(106)"><rect x="-4.3" y="-1.5" width="8.6" height="3" rx="1.5" fill="#8c8c8c" stroke="#3a3a3a" stroke-width=".35"/><rect x="-4.3" y="-1.5" width="8.6" height="3" rx="1.5" fill="url(#rg)"/></g>
<rect transform="translate(492.2 366.3) rotate(66)" x="-5.2" y="-1.5" width="10.5" height="3.1" rx="1.5" opacity="0.6"/><g transform="translate(491.7 365.7) rotate(66)"><rect x="-5.2" y="-1.5" width="10.5" height="3.1" rx="1.5" fill="#a8a8a8" stroke="#3a3a3a" stroke-width=".35"/><rect x="-5.2" y="-1.5" width="10.5" height="3.1" rx="1.5" fill="url(#rg)"/></g>
<rect transform="translate(528.8 344.7) rotate(178)" x="-3.7" y="-1.7" width="7.3" height="3.4" rx="1.7" opacity="0.6"/><g transform="translate(528.3 344.1) rotate(178)"><rect x="-3.7" y="-1.7" width="7.3" height="3.4" rx="1.7" fill="#8c8c8c" stroke="#3a3a3a" stroke-width=".35"/><rect x="-3.7" y="-1.7" width="7.3" height="3.4" rx="1.7" fill="url(#rg)"/></g>
<rect transform="translate(527.2 353.4) rotate(40)" x="-3.7" y="-1.4" width="7.5" height="2.8" rx="1.4" opacity="0.6"/><g transform="translate(526.7 352.8) rotate(40)"><rect x="-3.7" y="-1.4" width="7.5" height="2.8" rx="1.4" fill="#a8a8a8" stroke="#3a3a3a" stroke-width=".35"/><rect x="-3.7" y="-1.4" width="7.5" height="2.8" rx="1.4" fill="url(#rg)"/></g>
<rect transform="translate(551.3 379.6) rotate(54)" x="-3.9" y="-1.4" width="7.7" height="2.8" rx="1.4" opacity="0.6"/><g transform="translate(550.8 379) rotate(54)"><rect x="-3.9" y="-1.4" width="7.7" height="2.8" rx="1.4" fill="#969696" stroke="#3a3a3a" stroke-width=".35"/><rect x="-3.9" y="-1.4" width="7.7" height="2.8" rx="1.4" fill="url(#rg)"/></g>
<rect transform="translate(490.5 380.3) rotate(173)" x="-5.2" y="-1.5" width="10.4" height="3" rx="1.5" opacity="0.6"/><g transform="translate(490 379.7) rotate(173)"><rect x="-5.2" y="-1.5" width="10.4" height="3" rx="1.5" fill="#8c8c8c" stroke="#3a3a3a" stroke-width=".35"/><rect x="-5.2" y="-1.5" width="10.4" height="3" rx="1.5" fill="url(#rg)"/></g>
<rect transform="translate(478.4 349.7) rotate(171)" x="-5.4" y="-1.4" width="10.8" height="2.8" rx="1.4" opacity="0.6"/><g transform="translate(477.9 349.1) rotate(171)"><rect x="-5.4" y="-1.4" width="10.8" height="2.8" rx="1.4" fill="#969696" stroke="#3a3a3a" stroke-width=".35"/><rect x="-5.4" y="-1.4" width="10.8" height="2.8" rx="1.4" fill="url(#rg)"/></g>
<rect transform="translate(487 339.3) rotate(160)" x="-6" y="-1.4" width="12" height="2.8" rx="1.4" opacity="0.6"/><g transform="translate(486.5 338.7) rotate(160)"><rect x="-6" y="-1.4" width="12" height="2.8" rx="1.4" fill="#a0a0a0" stroke="#3a3a3a" stroke-width=".35"/><rect x="-6" y="-1.4" width="12" height="2.8" rx="1.4" fill="url(#rg)"/></g>
<rect transform="translate(537.8 372.7) rotate(129)" x="-5.9" y="-1.7" width="11.8" height="3.3" rx="1.7" opacity="0.6"/><g transform="translate(537.3 372.1) rotate(129)"><rect x="-5.9" y="-1.7" width="11.8" height="3.3" rx="1.7" fill="#8c8c8c" stroke="#3a3a3a" stroke-width=".35"/><rect x="-5.9" y="-1.7" width="11.8" height="3.3" rx="1.7" fill="url(#rg)"/></g>
<rect transform="translate(534.7 376.6) rotate(28)" x="-4.9" y="-1.5" width="9.8" height="3" rx="1.5" opacity="0.6"/><g transform="translate(534.2 376) rotate(28)"><rect x="-4.9" y="-1.5" width="9.8" height="3" rx="1.5" fill="#8c8c8c" stroke="#3a3a3a" stroke-width=".35"/><rect x="-4.9" y="-1.5" width="9.8" height="3" rx="1.5" fill="url(#rg)"/></g>
<rect transform="translate(517.2 339.7) rotate(46)" x="-3.9" y="-1.6" width="7.8" height="3.3" rx="1.6" opacity="0.6"/><g transform="translate(516.7 339.1) rotate(46)"><rect x="-3.9" y="-1.6" width="7.8" height="3.3" rx="1.6" fill="#a8a8a8" stroke="#3a3a3a" stroke-width=".35"/><rect x="-3.9" y="-1.6" width="7.8" height="3.3" rx="1.6" fill="url(#rg)"/></g>
<rect transform="translate(521.7 352.9) rotate(11)" x="-4.5" y="-1.4" width="9" height="2.7" rx="1.4" opacity="0.6"/><g transform="translate(521.2 352.3) rotate(11)"><rect x="-4.5" y="-1.4" width="9" height="2.7" rx="1.4" fill="#969696" stroke="#3a3a3a" stroke-width=".35"/><rect x="-4.5" y="-1.4" width="9" height="2.7" rx="1.4" fill="url(#rg)"/></g>
<rect transform="translate(500.1 373.9) rotate(15)" x="-4.3" y="-1.6" width="8.5" height="3.2" rx="1.6" opacity="0.6"/><g transform="translate(499.6 373.3) rotate(15)"><rect x="-4.3" y="-1.6" width="8.5" height="3.2" rx="1.6" fill="#969696" stroke="#3a3a3a" stroke-width=".35"/><rect x="-4.3" y="-1.6" width="8.5" height="3.2" rx="1.6" fill="url(#rg)"/></g>
<rect transform="translate(547.6 382.2) rotate(86)" x="-4.1" y="-1.5" width="8.2" height="3" rx="1.5" opacity="0.6"/><g transform="translate(547.1 381.6) rotate(86)"><rect x="-4.1" y="-1.5" width="8.2" height="3" rx="1.5" fill="#a0a0a0" stroke="#3a3a3a" stroke-width=".35"/><rect x="-4.1" y="-1.5" width="8.2" height="3" rx="1.5" fill="url(#rg)"/></g>
<rect transform="translate(550.7 361.3) rotate(123)" x="-5.3" y="-1.6" width="10.7" height="3.3" rx="1.6" opacity="0.6"/><g transform="translate(550.2 360.7) rotate(123)"><rect x="-5.3" y="-1.6" width="10.7" height="3.3" rx="1.6" fill="#a8a8a8" stroke="#3a3a3a" stroke-width=".35"/><rect x="-5.3" y="-1.6" width="10.7" height="3.3" rx="1.6" fill="url(#rg)"/></g>
<rect transform="translate(504.9 345.6) rotate(85)" x="-4.8" y="-1.4" width="9.7" height="2.8" rx="1.4" opacity="0.6"/><g transform="translate(504.4 345) rotate(85)"><rect x="-4.8" y="-1.4" width="9.7" height="2.8" rx="1.4" fill="#8c8c8c" stroke="#3a3a3a" stroke-width=".35"/><rect x="-4.8" y="-1.4" width="9.7" height="2.8" rx="1.4" fill="url(#rg)"/></g>
<rect transform="translate(502.3 372.3) rotate(7)" x="-5.7" y="-1.5" width="11.5" height="3.1" rx="1.5" opacity="0.6"/><g transform="translate(501.8 371.7) rotate(7)"><rect x="-5.7" y="-1.5" width="11.5" height="3.1" rx="1.5" fill="#a0a0a0" stroke="#3a3a3a" stroke-width=".35"/><rect x="-5.7" y="-1.5" width="11.5" height="3.1" rx="1.5" fill="url(#rg)"/></g>
<rect transform="translate(498.2 384.1) rotate(161)" x="-5.2" y="-1.4" width="10.3" height="2.8" rx="1.4" opacity="0.6"/><g transform="translate(497.7 383.5) rotate(161)"><rect x="-5.2" y="-1.4" width="10.3" height="2.8" rx="1.4" fill="#8c8c8c" stroke="#3a3a3a" stroke-width=".35"/><rect x="-5.2" y="-1.4" width="10.3" height="2.8" rx="1.4" fill="url(#rg)"/></g>
<rect transform="translate(544.1 340.6) rotate(19)" x="-4.1" y="-1.4" width="8.2" height="2.9" rx="1.4" opacity="0.6"/><g transform="translate(543.6 340) rotate(19)"><rect x="-4.1" y="-1.4" width="8.2" height="2.9" rx="1.4" fill="#969696" stroke="#3a3a3a" stroke-width=".35"/><rect x="-4.1" y="-1.4" width="8.2" height="2.9" rx="1.4" fill="url(#rg)"/></g>
<rect transform="translate(527.3 365.5) rotate(15)" x="-6" y="-1.4" width="11.9" height="2.9" rx="1.4" opacity="0.6"/><g transform="translate(526.8 364.9) rotate(15)"><rect x="-6" y="-1.4" width="11.9" height="2.9" rx="1.4" fill="#969696" stroke="#3a3a3a" stroke-width=".35"/><rect x="-6" y="-1.4" width="11.9" height="2.9" rx="1.4" fill="url(#rg)"/></g>
<rect transform="translate(518.4 366.6) rotate(36)" x="-5" y="-1.4" width="10" height="2.8" rx="1.4" opacity="0.6"/><g transform="translate(517.9 366) rotate(36)"><rect x="-5" y="-1.4" width="10" height="2.8" rx="1.4" fill="#969696" stroke="#3a3a3a" stroke-width=".35"/><rect x="-5" y="-1.4" width="10" height="2.8" rx="1.4" fill="url(#rg)"/></g>
<rect transform="translate(504.9 369.7) rotate(91)" x="-3.8" y="-1.4" width="7.7" height="2.8" rx="1.4" opacity="0.6"/><g transform="translate(504.4 369.1) rotate(91)"><rect x="-3.8" y="-1.4" width="7.7" height="2.8" rx="1.4" fill="#969696" stroke="#3a3a3a" stroke-width=".35"/><rect x="-3.8" y="-1.4" width="7.7" height="2.8" rx="1.4" fill="url(#rg)"/></g>
<rect transform="translate(482.9 348.6) rotate(160)" x="-4.2" y="-1.7" width="8.4" height="3.4" rx="1.7" opacity="0.6"/><g transform="translate(482.4 348) rotate(160)"><rect x="-4.2" y="-1.7" width="8.4" height="3.4" rx="1.7" fill="#969696" stroke="#3a3a3a" stroke-width=".35"/><rect x="-4.2" y="-1.7" width="8.4" height="3.4" rx="1.7" fill="url(#rg)"/></g>
<rect transform="translate(477.8 375.1) rotate(133)" x="-4" y="-1.4" width="8.1" height="2.8" rx="1.4" opacity="0.6"/><g transform="translate(477.3 374.5) rotate(133)"><rect x="-4" y="-1.4" width="8.1" height="2.8" rx="1.4" fill="#8c8c8c" stroke="#3a3a3a" stroke-width=".35"/><rect x="-4" y="-1.4" width="8.1" height="2.8" rx="1.4" fill="url(#rg)"/></g>
<rect transform="translate(544.9 352.7) rotate(6)" x="-4.5" y="-1.5" width="8.9" height="3.1" rx="1.5" opacity="0.6"/><g transform="translate(544.4 352.1) rotate(6)"><rect x="-4.5" y="-1.5" width="8.9" height="3.1" rx="1.5" fill="#a8a8a8" stroke="#3a3a3a" stroke-width=".35"/><rect x="-4.5" y="-1.5" width="8.9" height="3.1" rx="1.5" fill="url(#rg)"/></g>
<rect transform="translate(518 339.5) rotate(101)" x="-4.8" y="-1.5" width="9.6" height="3" rx="1.5" opacity="0.6"/><g transform="translate(517.5 338.9) rotate(101)"><rect x="-4.8" y="-1.5" width="9.6" height="3" rx="1.5" fill="#8c8c8c" stroke="#3a3a3a" stroke-width=".35"/><rect x="-4.8" y="-1.5" width="9.6" height="3" rx="1.5" fill="url(#rg)"/></g>
<rect transform="translate(542.6 375.5) rotate(3)" x="-4.6" y="-1.4" width="9.2" height="2.7" rx="1.4" opacity="0.6"/><g transform="translate(542.1 374.9) rotate(3)"><rect x="-4.6" y="-1.4" width="9.2" height="2.7" rx="1.4" fill="#a8a8a8" stroke="#3a3a3a" stroke-width=".35"/><rect x="-4.6" y="-1.4" width="9.2" height="2.7" rx="1.4" fill="url(#rg)"/></g>
<rect transform="translate(554.5 351.4) rotate(113)" x="-5.4" y="-1.5" width="10.8" height="2.9" rx="1.5" opacity="0.6"/><g transform="translate(554 350.8) rotate(113)"><rect x="-5.4" y="-1.5" width="10.8" height="2.9" rx="1.5" fill="#a8a8a8" stroke="#3a3a3a" stroke-width=".35"/><rect x="-5.4" y="-1.5" width="10.8" height="2.9" rx="1.5" fill="url(#rg)"/></g>
<rect transform="translate(503.7 370.8) rotate(5)" x="-4.1" y="-1.5" width="8.3" height="3" rx="1.5" opacity="0.6"/><g transform="translate(503.2 370.2) rotate(5)"><rect x="-4.1" y="-1.5" width="8.3" height="3" rx="1.5" fill="#8c8c8c" stroke="#3a3a3a" stroke-width=".35"/><rect x="-4.1" y="-1.5" width="8.3" height="3" rx="1.5" fill="url(#rg)"/></g>
<rect transform="translate(527.6 373.9) rotate(56)" x="-5.1" y="-1.5" width="10.2" height="3.1" rx="1.5" opacity="0.6"/><g transform="translate(527.1 373.3) rotate(56)"><rect x="-5.1" y="-1.5" width="10.2" height="3.1" rx="1.5" fill="#a0a0a0" stroke="#3a3a3a" stroke-width=".35"/><rect x="-5.1" y="-1.5" width="10.2" height="3.1" rx="1.5" fill="url(#rg)"/></g>
<rect transform="translate(528.6 375.3) rotate(39)" x="-5.8" y="-1.4" width="11.7" height="2.8" rx="1.4" opacity="0.6"/><g transform="translate(528.1 374.7) rotate(39)"><rect x="-5.8" y="-1.4" width="11.7" height="2.8" rx="1.4" fill="#a8a8a8" stroke="#3a3a3a" stroke-width=".35"/><rect x="-5.8" y="-1.4" width="11.7" height="2.8" rx="1.4" fill="url(#rg)"/></g>
<rect transform="translate(540.6 372.2) rotate(37)" x="-3.5" y="-1.5" width="7" height="3.1" rx="1.5" opacity="0.6"/><g transform="translate(540.1 371.6) rotate(37)"><rect x="-3.5" y="-1.5" width="7" height="3.1" rx="1.5" fill="#969696" stroke="#3a3a3a" stroke-width=".35"/><rect x="-3.5" y="-1.5" width="7" height="3.1" rx="1.5" fill="url(#rg)"/></g>
<rect transform="translate(497.2 383.3) rotate(53)" x="-3.8" y="-1.7" width="7.6" height="3.4" rx="1.7" opacity="0.6"/><g transform="translate(496.7 382.7) rotate(53)"><rect x="-3.8" y="-1.7" width="7.6" height="3.4" rx="1.7" fill="#a0a0a0" stroke="#3a3a3a" stroke-width=".35"/><rect x="-3.8" y="-1.7" width="7.6" height="3.4" rx="1.7" fill="url(#rg)"/></g>
<rect transform="translate(552.5 340.2) rotate(129)" x="-5.6" y="-1.4" width="11.2" height="2.7" rx="1.4" opacity="0.6"/><g transform="translate(552 339.6) rotate(129)"><rect x="-5.6" y="-1.4" width="11.2" height="2.7" rx="1.4" fill="#969696" stroke="#3a3a3a" stroke-width=".35"/><rect x="-5.6" y="-1.4" width="11.2" height="2.7" rx="1.4" fill="url(#rg)"/></g>
<rect transform="translate(539.9 380.9) rotate(107)" x="-5.2" y="-1.4" width="10.4" height="2.8" rx="1.4" opacity="0.6"/><g transform="translate(539.4 380.3) rotate(107)"><rect x="-5.2" y="-1.4" width="10.4" height="2.8" rx="1.4" fill="#8c8c8c" stroke="#3a3a3a" stroke-width=".35"/><rect x="-5.2" y="-1.4" width="10.4" height="2.8" rx="1.4" fill="url(#rg)"/></g>
<rect transform="translate(538.2 379.2) rotate(29)" x="-5.6" y="-1.7" width="11.2" height="3.4" rx="1.7" opacity="0.6"/><g transform="translate(537.7 378.6) rotate(29)"><rect x="-5.6" y="-1.7" width="11.2" height="3.4" rx="1.7" fill="#a0a0a0" stroke="#3a3a3a" stroke-width=".35"/><rect x="-5.6" y="-1.7" width="11.2" height="3.4" rx="1.7" fill="url(#rg)"/></g>
<rect transform="translate(481 338.9) rotate(167)" x="-3.9" y="-1.7" width="7.8" height="3.4" rx="1.7" opacity="0.6"/><g transform="translate(480.5 338.3) rotate(167)"><rect x="-3.9" y="-1.7" width="7.8" height="3.4" rx="1.7" fill="#8c8c8c" stroke="#3a3a3a" stroke-width=".35"/><rect x="-3.9" y="-1.7" width="7.8" height="3.4" rx="1.7" fill="url(#rg)"/></g>
<rect transform="translate(535.6 373.4) rotate(36)" x="-5.6" y="-1.3" width="11.2" height="2.7" rx="1.3" opacity="0.6"/><g transform="translate(535.1 372.8) rotate(36)"><rect x="-5.6" y="-1.3" width="11.2" height="2.7" rx="1.3" fill="#a0a0a0" stroke="#3a3a3a" stroke-width=".35"/><rect x="-5.6" y="-1.3" width="11.2" height="2.7" rx="1.3" fill="url(#rg)"/></g>
<rect transform="translate(509.6 369.7) rotate(77)" x="-4.7" y="-1.4" width="9.5" height="2.9" rx="1.4" opacity="0.6"/><g transform="translate(509.1 369.1) rotate(77)"><rect x="-4.7" y="-1.4" width="9.5" height="2.9" rx="1.4" fill="#a8a8a8" stroke="#3a3a3a" stroke-width=".35"/><rect x="-4.7" y="-1.4" width="9.5" height="2.9" rx="1.4" fill="url(#rg)"/></g>
<rect transform="translate(546.7 378.5) rotate(39)" x="-3.6" y="-1.4" width="7.2" height="2.7" rx="1.4" opacity="0.6"/><g transform="translate(546.2 377.9) rotate(39)"><rect x="-3.6" y="-1.4" width="7.2" height="2.7" rx="1.4" fill="#a0a0a0" stroke="#3a3a3a" stroke-width=".35"/><rect x="-3.6" y="-1.4" width="7.2" height="2.7" rx="1.4" fill="url(#rg)"/></g>
<rect transform="translate(507.2 384.5) rotate(69)" x="-5.8" y="-1.6" width="11.7" height="3.1" rx="1.6" opacity="0.6"/><g transform="translate(506.7 383.9) rotate(69)"><rect x="-5.8" y="-1.6" width="11.7" height="3.1" rx="1.6" fill="#969696" stroke="#3a3a3a" stroke-width=".35"/><rect x="-5.8" y="-1.6" width="11.7" height="3.1" rx="1.6" fill="url(#rg)"/></g>
<rect transform="translate(555.6 346.6) rotate(38)" x="-4.4" y="-1.7" width="8.7" height="3.4" rx="1.7" opacity="0.6"/><g transform="translate(555.1 346) rotate(38)"><rect x="-4.4" y="-1.7" width="8.7" height="3.4" rx="1.7" fill="#969696" stroke="#3a3a3a" stroke-width=".35"/><rect x="-4.4" y="-1.7" width="8.7" height="3.4" rx="1.7" fill="url(#rg)"/></g>
<rect transform="translate(486.7 352.6) rotate(97)" x="-5.2" y="-1.4" width="10.4" height="2.9" rx="1.4" opacity="0.6"/><g transform="translate(486.2 352) rotate(97)"><rect x="-5.2" y="-1.4" width="10.4" height="2.9" rx="1.4" fill="#969696" stroke="#3a3a3a" stroke-width=".35"/><rect x="-5.2" y="-1.4" width="10.4" height="2.9" rx="1.4" fill="url(#rg)"/></g>
<rect transform="translate(556.1 380.9) rotate(179)" x="-5.5" y="-1.4" width="11" height="2.7" rx="1.4" opacity="0.6"/><g transform="translate(555.6 380.3) rotate(179)"><rect x="-5.5" y="-1.4" width="11" height="2.7" rx="1.4" fill="#a8a8a8" stroke="#3a3a3a" stroke-width=".35"/><rect x="-5.5" y="-1.4" width="11" height="2.7" rx="1.4" fill="url(#rg)"/></g>
<rect transform="translate(506.1 336.2) rotate(134)" x="-5.2" y="-1.5" width="10.5" height="3" rx="1.5" opacity="0.6"/><g transform="translate(505.6 335.6) rotate(134)"><rect x="-5.2" y="-1.5" width="10.5" height="3" rx="1.5" fill="#a8a8a8" stroke="#3a3a3a" stroke-width=".35"/><rect x="-5.2" y="-1.5" width="10.5" height="3" rx="1.5" fill="url(#rg)"/></g>
<rect transform="translate(494.5 354.5) rotate(14)" x="-5" y="-1.3" width="10" height="2.6" rx="1.3" opacity="0.6"/><g transform="translate(494 353.9) rotate(14)"><rect x="-5" y="-1.3" width="10" height="2.6" rx="1.3" fill="#a0a0a0" stroke="#3a3a3a" stroke-width=".35"/><rect x="-5" y="-1.3" width="10" height="2.6" rx="1.3" fill="url(#rg)"/></g>
<rect transform="translate(558 365.5) rotate(108)" x="-4" y="-1.5" width="7.9" height="3.1" rx="1.5" opacity="0.6"/><g transform="translate(557.5 364.9) rotate(108)"><rect x="-4" y="-1.5" width="7.9" height="3.1" rx="1.5" fill="#969696" stroke="#3a3a3a" stroke-width=".35"/><rect x="-4" y="-1.5" width="7.9" height="3.1" rx="1.5" fill="url(#rg)"/></g>
<rect transform="translate(537.3 337.2) rotate(25)" x="-4.6" y="-1.6" width="9.2" height="3.2" rx="1.6" opacity="0.6"/><g transform="translate(536.8 336.6) rotate(25)"><rect x="-4.6" y="-1.6" width="9.2" height="3.2" rx="1.6" fill="#969696" stroke="#3a3a3a" stroke-width=".35"/><rect x="-4.6" y="-1.6" width="9.2" height="3.2" rx="1.6" fill="url(#rg)"/></g>
<rect transform="translate(488.1 369.9) rotate(97)" x="-4.1" y="-1.6" width="8.2" height="3.2" rx="1.6" opacity="0.6"/><g transform="translate(487.6 369.3) rotate(97)"><rect x="-4.1" y="-1.6" width="8.2" height="3.2" rx="1.6" fill="#8c8c8c" stroke="#3a3a3a" stroke-width=".35"/><rect x="-4.1" y="-1.6" width="8.2" height="3.2" rx="1.6" fill="url(#rg)"/></g>
<rect transform="translate(491.1 355.3) rotate(173)" x="-5.2" y="-1.5" width="10.4" height="3" rx="1.5" opacity="0.6"/><g transform="translate(490.6 354.7) rotate(173)"><rect x="-5.2" y="-1.5" width="10.4" height="3" rx="1.5" fill="#8c8c8c" stroke="#3a3a3a" stroke-width=".35"/><rect x="-5.2" y="-1.5" width="10.4" height="3" rx="1.5" fill="url(#rg)"/></g>
<rect transform="translate(498.4 354.7) rotate(66)" x="-4.8" y="-1.5" width="9.7" height="3" rx="1.5" opacity="0.6"/><g transform="translate(497.9 354.1) rotate(66)"><rect x="-4.8" y="-1.5" width="9.7" height="3" rx="1.5" fill="#a0a0a0" stroke="#3a3a3a" stroke-width=".35"/><rect x="-4.8" y="-1.5" width="9.7" height="3" rx="1.5" fill="url(#rg)"/></g>
<rect transform="translate(518.1 382.5) rotate(35)" x="-3.7" y="-1.6" width="7.4" height="3.1" rx="1.6" opacity="0.6"/><g transform="translate(517.6 381.9) rotate(35)"><rect x="-3.7" y="-1.6" width="7.4" height="3.1" rx="1.6" fill="#a0a0a0" stroke="#3a3a3a" stroke-width=".35"/><rect x="-3.7" y="-1.6" width="7.4" height="3.1" rx="1.6" fill="url(#rg)"/></g>
<rect transform="translate(488.8 375.9) rotate(148)" x="-5" y="-1.3" width="10" height="2.6" rx="1.3" opacity="0.6"/><g transform="translate(488.3 375.3) rotate(148)"><rect x="-5" y="-1.3" width="10" height="2.6" rx="1.3" fill="#969696" stroke="#3a3a3a" stroke-width=".35"/><rect x="-5" y="-1.3" width="10" height="2.6" rx="1.3" fill="url(#rg)"/></g>
<rect transform="translate(536 338.5) rotate(32)" x="-5.6" y="-1.4" width="11.2" height="2.7" rx="1.4" opacity="0.6"/><g transform="translate(535.5 337.9) rotate(32)"><rect x="-5.6" y="-1.4" width="11.2" height="2.7" rx="1.4" fill="#969696" stroke="#3a3a3a" stroke-width=".35"/><rect x="-5.6" y="-1.4" width="11.2" height="2.7" rx="1.4" fill="url(#rg)"/></g>
<rect transform="translate(501.5 385.5) rotate(137)" x="-4.2" y="-1.6" width="8.4" height="3.1" rx="1.6" opacity="0.6"/><g transform="translate(501 384.9) rotate(137)"><rect x="-4.2" y="-1.6" width="8.4" height="3.1" rx="1.6" fill="#969696" stroke="#3a3a3a" stroke-width=".35"/><rect x="-4.2" y="-1.6" width="8.4" height="3.1" rx="1.6" fill="url(#rg)"/></g>
<rect transform="translate(550.9 352.1) rotate(95)" x="-4.5" y="-1.3" width="9.1" height="2.6" rx="1.3" opacity="0.6"/><g transform="translate(550.4 351.5) rotate(95)"><rect x="-4.5" y="-1.3" width="9.1" height="2.6" rx="1.3" fill="#8c8c8c" stroke="#3a3a3a" stroke-width=".35"/><rect x="-4.5" y="-1.3" width="9.1" height="2.6" rx="1.3" fill="url(#rg)"/></g>
<rect transform="translate(482.9 360.3) rotate(164)" x="-3.7" y="-1.5" width="7.4" height="2.9" rx="1.5" opacity="0.6"/><g transform="translate(482.4 359.7) rotate(164)"><rect x="-3.7" y="-1.5" width="7.4" height="2.9" rx="1.5" fill="#8c8c8c" stroke="#3a3a3a" stroke-width=".35"/><rect x="-3.7" y="-1.5" width="7.4" height="2.9" rx="1.5" fill="url(#rg)"/></g>
<rect transform="translate(493.5 374) rotate(129)" x="-4" y="-1.4" width="8" height="2.7" rx="1.4" opacity="0.6"/><g transform="translate(493 373.4) rotate(129)"><rect x="-4" y="-1.4" width="8" height="2.7" rx="1.4" fill="#969696" stroke="#3a3a3a" stroke-width=".35"/><rect x="-4" y="-1.4" width="8" height="2.7" rx="1.4" fill="url(#rg)"/></g>
<rect transform="translate(560.1 336.5) rotate(93)" x="-3.5" y="-1.4" width="7" height="2.8" rx="1.4" opacity="0.6"/><g transform="translate(559.6 335.9) rotate(93)"><rect x="-3.5" y="-1.4" width="7" height="2.8" rx="1.4" fill="#a8a8a8" stroke="#3a3a3a" stroke-width=".35"/><rect x="-3.5" y="-1.4" width="7" height="2.8" rx="1.4" fill="url(#rg)"/></g>
<rect transform="translate(482.3 365.3) rotate(36)" x="-4.3" y="-1.4" width="8.7" height="2.7" rx="1.4" opacity="0.6"/><g transform="translate(481.8 364.7) rotate(36)"><rect x="-4.3" y="-1.4" width="8.7" height="2.7" rx="1.4" fill="#969696" stroke="#3a3a3a" stroke-width=".35"/><rect x="-4.3" y="-1.4" width="8.7" height="2.7" rx="1.4" fill="url(#rg)"/></g>
<rect transform="translate(534.4 339.5) rotate(19)" x="-4.6" y="-1.4" width="9.2" height="2.7" rx="1.4" opacity="0.6"/><g transform="translate(533.9 338.9) rotate(19)"><rect x="-4.6" y="-1.4" width="9.2" height="2.7" rx="1.4" fill="#8c8c8c" stroke="#3a3a3a" stroke-width=".35"/><rect x="-4.6" y="-1.4" width="9.2" height="2.7" rx="1.4" fill="url(#rg)"/></g>
<rect transform="translate(519.7 373.3) rotate(104)" x="-3.8" y="-1.5" width="7.7" height="3.1" rx="1.5" opacity="0.6"/><g transform="translate(519.2 372.7) rotate(104)"><rect x="-3.8" y="-1.5" width="7.7" height="3.1" rx="1.5" fill="#969696" stroke="#3a3a3a" stroke-width=".35"/><rect x="-3.8" y="-1.5" width="7.7" height="3.1" rx="1.5" fill="url(#rg)"/></g>
<rect transform="translate(527 336.2) rotate(116)" x="-3.6" y="-1.4" width="7.2" height="2.8" rx="1.4" opacity="0.6"/><g transform="translate(526.5 335.6) rotate(116)"><rect x="-3.6" y="-1.4" width="7.2" height="2.8" rx="1.4" fill="#8c8c8c" stroke="#3a3a3a" stroke-width=".35"/><rect x="-3.6" y="-1.4" width="7.2" height="2.8" rx="1.4" fill="url(#rg)"/></g>
<rect transform="translate(526.3 390.1) rotate(82)" x="-3.9" y="-1.4" width="7.8" height="2.9" rx="1.4" opacity="0.6"/><g transform="translate(525.8 389.5) rotate(82)"><rect x="-3.9" y="-1.4" width="7.8" height="2.9" rx="1.4" fill="#a8a8a8" stroke="#3a3a3a" stroke-width=".35"/><rect x="-3.9" y="-1.4" width="7.8" height="2.9" rx="1.4" fill="url(#rg)"/></g>
<rect transform="translate(491.1 363) rotate(105)" x="-5.1" y="-1.5" width="10.3" height="3" rx="1.5" opacity="0.6"/><g transform="translate(490.6 362.4) rotate(105)"><rect x="-5.1" y="-1.5" width="10.3" height="3" rx="1.5" fill="#a0a0a0" stroke="#3a3a3a" stroke-width=".35"/><rect x="-5.1" y="-1.5" width="10.3" height="3" rx="1.5" fill="url(#rg)"/></g>
<rect transform="translate(498.7 368.9) rotate(125)" x="-4.9" y="-1.5" width="9.9" height="3.1" rx="1.5" opacity="0.6"/><g transform="translate(498.2 368.3) rotate(125)"><rect x="-4.9" y="-1.5" width="9.9" height="3.1" rx="1.5" fill="#8c8c8c" stroke="#3a3a3a" stroke-width=".35"/><rect x="-4.9" y="-1.5" width="9.9" height="3.1" rx="1.5" fill="url(#rg)"/></g>
<rect transform="translate(490.4 344.9) rotate(127)" x="-5.9" y="-1.6" width="11.8" height="3.3" rx="1.6" opacity="0.6"/><g transform="translate(489.9 344.3) rotate(127)"><rect x="-5.9" y="-1.6" width="11.8" height="3.3" rx="1.6" fill="#a8a8a8" stroke="#3a3a3a" stroke-width=".35"/><rect x="-5.9" y="-1.6" width="11.8" height="3.3" rx="1.6" fill="url(#rg)"/></g>
<rect transform="translate(528.3 351) rotate(17)" x="-5.7" y="-1.4" width="11.3" height="2.7" rx="1.4" opacity="0.6"/><g transform="translate(527.8 350.4) rotate(17)"><rect x="-5.7" y="-1.4" width="11.3" height="2.7" rx="1.4" fill="#a0a0a0" stroke="#3a3a3a" stroke-width=".35"/><rect x="-5.7" y="-1.4" width="11.3" height="2.7" rx="1.4" fill="url(#rg)"/></g>
<rect transform="translate(543.3 354.4) rotate(17)" x="-5.6" y="-1.4" width="11.2" height="2.7" rx="1.4" opacity="0.6"/><g transform="translate(542.8 353.8) rotate(17)"><rect x="-5.6" y="-1.4" width="11.2" height="2.7" rx="1.4" fill="#8c8c8c" stroke="#3a3a3a" stroke-width=".35"/><rect x="-5.6" y="-1.4" width="11.2" height="2.7" rx="1.4" fill="url(#rg)"/></g>
<rect transform="translate(479.6 336.2) rotate(118)" x="-5.7" y="-1.3" width="11.3" height="2.6" rx="1.3" opacity="0.6"/><g transform="translate(479.1 335.6) rotate(118)"><rect x="-5.7" y="-1.3" width="11.3" height="2.6" rx="1.3" fill="#a0a0a0" stroke="#3a3a3a" stroke-width=".35"/><rect x="-5.7" y="-1.3" width="11.3" height="2.6" rx="1.3" fill="url(#rg)"/></g>
<rect transform="translate(495.5 349.7) rotate(44)" x="-5.9" y="-1.5" width="11.8" height="2.9" rx="1.5" opacity="0.6"/><g transform="translate(495 349.1) rotate(44)"><rect x="-5.9" y="-1.5" width="11.8" height="2.9" rx="1.5" fill="#a8a8a8" stroke="#3a3a3a" stroke-width=".35"/><rect x="-5.9" y="-1.5" width="11.8" height="2.9" rx="1.5" fill="url(#rg)"/></g>
<rect transform="translate(555.9 360.2) rotate(8)" x="-4.8" y="-1.4" width="9.5" height="2.9" rx="1.4" opacity="0.6"/><g transform="translate(555.4 359.6) rotate(8)"><rect x="-4.8" y="-1.4" width="9.5" height="2.9" rx="1.4" fill="#a0a0a0" stroke="#3a3a3a" stroke-width=".35"/><rect x="-4.8" y="-1.4" width="9.5" height="2.9" rx="1.4" fill="url(#rg)"/></g>
<rect transform="translate(481.5 336.2) rotate(133)" x="-6" y="-1.5" width="12" height="2.9" rx="1.5" opacity="0.6"/><g transform="translate(481 335.6) rotate(133)"><rect x="-6" y="-1.5" width="12" height="2.9" rx="1.5" fill="#a0a0a0" stroke="#3a3a3a" stroke-width=".35"/><rect x="-6" y="-1.5" width="12" height="2.9" rx="1.5" fill="url(#rg)"/></g>
<rect transform="translate(558.1 355.2) rotate(0)" x="-4.4" y="-1.6" width="8.7" height="3.1" rx="1.6" opacity="0.6"/><g transform="translate(557.6 354.6) rotate(0)"><rect x="-4.4" y="-1.6" width="8.7" height="3.1" rx="1.6" fill="#8c8c8c" stroke="#3a3a3a" stroke-width=".35"/><rect x="-4.4" y="-1.6" width="8.7" height="3.1" rx="1.6" fill="url(#rg)"/></g>
<rect transform="translate(484.9 357.2) rotate(103)" x="-4" y="-1.4" width="8.1" height="2.9" rx="1.4" opacity="0.6"/><g transform="translate(484.4 356.6) rotate(103)"><rect x="-4" y="-1.4" width="8.1" height="2.9" rx="1.4" fill="#969696" stroke="#3a3a3a" stroke-width=".35"/><rect x="-4" y="-1.4" width="8.1" height="2.9" rx="1.4" fill="url(#rg)"/></g>
<rect transform="translate(509.6 340.8) rotate(5)" x="-4.5" y="-1.4" width="8.9" height="2.8" rx="1.4" opacity="0.6"/><g transform="translate(509.1 340.2) rotate(5)"><rect x="-4.5" y="-1.4" width="8.9" height="2.8" rx="1.4" fill="#8c8c8c" stroke="#3a3a3a" stroke-width=".35"/><rect x="-4.5" y="-1.4" width="8.9" height="2.8" rx="1.4" fill="url(#rg)"/></g>
<rect transform="translate(485.3 343) rotate(162)" x="-4.6" y="-1.4" width="9.2" height="2.9" rx="1.4" opacity="0.6"/><g transform="translate(484.8 342.4) rotate(162)"><rect x="-4.6" y="-1.4" width="9.2" height="2.9" rx="1.4" fill="#a8a8a8" stroke="#3a3a3a" stroke-width=".35"/><rect x="-4.6" y="-1.4" width="9.2" height="2.9" rx="1.4" fill="url(#rg)"/></g>
<rect transform="translate(503.4 373.5) rotate(164)" x="-5.7" y="-1.5" width="11.4" height="2.9" rx="1.5" opacity="0.6"/><g transform="translate(502.9 372.9) rotate(164)"><rect x="-5.7" y="-1.5" width="11.4" height="2.9" rx="1.5" fill="#969696" stroke="#3a3a3a" stroke-width=".35"/><rect x="-5.7" y="-1.5" width="11.4" height="2.9" rx="1.5" fill="url(#rg)"/></g>
<rect transform="translate(543.4 355) rotate(14)" x="-4.4" y="-1.5" width="8.9" height="3" rx="1.5" opacity="0.6"/><g transform="translate(542.9 354.4) rotate(14)"><rect x="-4.4" y="-1.5" width="8.9" height="3" rx="1.5" fill="#a8a8a8" stroke="#3a3a3a" stroke-width=".35"/><rect x="-4.4" y="-1.5" width="8.9" height="3" rx="1.5" fill="url(#rg)"/></g>
<rect transform="translate(513.1 376.2) rotate(112)" x="-5.7" y="-1.5" width="11.4" height="3.1" rx="1.5" opacity="0.6"/><g transform="translate(512.6 375.6) rotate(112)"><rect x="-5.7" y="-1.5" width="11.4" height="3.1" rx="1.5" fill="#a8a8a8" stroke="#3a3a3a" stroke-width=".35"/><rect x="-5.7" y="-1.5" width="11.4" height="3.1" rx="1.5" fill="url(#rg)"/></g>
<rect transform="translate(500.6 354.7) rotate(113)" x="-3.6" y="-1.7" width="7.2" height="3.3" rx="1.7" opacity="0.6"/><g transform="translate(500.1 354.1) rotate(113)"><rect x="-3.6" y="-1.7" width="7.2" height="3.3" rx="1.7" fill="#a0a0a0" stroke="#3a3a3a" stroke-width=".35"/><rect x="-3.6" y="-1.7" width="7.2" height="3.3" rx="1.7" fill="url(#rg)"/></g>
<rect transform="translate(528.1 379.5) rotate(166)" x="-4.1" y="-1.5" width="8.2" height="3" rx="1.5" opacity="0.6"/><g transform="translate(527.6 378.9) rotate(166)"><rect x="-4.1" y="-1.5" width="8.2" height="3" rx="1.5" fill="#a8a8a8" stroke="#3a3a3a" stroke-width=".35"/><rect x="-4.1" y="-1.5" width="8.2" height="3" rx="1.5" fill="url(#rg)"/></g>
<rect transform="translate(511.7 383.4) rotate(2)" x="-3.8" y="-1.6" width="7.6" height="3.3" rx="1.6" opacity="0.6"/><g transform="translate(511.2 382.8) rotate(2)"><rect x="-3.8" y="-1.6" width="7.6" height="3.3" rx="1.6" fill="#a8a8a8" stroke="#3a3a3a" stroke-width=".35"/><rect x="-3.8" y="-1.6" width="7.6" height="3.3" rx="1.6" fill="url(#rg)"/></g>
<rect transform="translate(540.5 362.3) rotate(25)" x="-5.4" y="-1.4" width="10.7" height="2.8" rx="1.4" opacity="0.6"/><g transform="translate(540 361.7) rotate(25)"><rect x="-5.4" y="-1.4" width="10.7" height="2.8" rx="1.4" fill="#8c8c8c" stroke="#3a3a3a" stroke-width=".35"/><rect x="-5.4" y="-1.4" width="10.7" height="2.8" rx="1.4" fill="url(#rg)"/></g>
<rect transform="translate(489.6 366.3) rotate(175)" x="-5.9" y="-1.7" width="11.7" height="3.3" rx="1.7" opacity="0.6"/><g transform="translate(489.1 365.7) rotate(175)"><rect x="-5.9" y="-1.7" width="11.7" height="3.3" rx="1.7" fill="#a8a8a8" stroke="#3a3a3a" stroke-width=".35"/><rect x="-5.9" y="-1.7" width="11.7" height="3.3" rx="1.7" fill="url(#rg)"/></g>
<rect transform="translate(541.3 380.4) rotate(133)" x="-5.9" y="-1.7" width="11.8" height="3.3" rx="1.7" opacity="0.6"/><g transform="translate(540.8 379.8) rotate(133)"><rect x="-5.9" y="-1.7" width="11.8" height="3.3" rx="1.7" fill="#8c8c8c" stroke="#3a3a3a" stroke-width=".35"/><rect x="-5.9" y="-1.7" width="11.8" height="3.3" rx="1.7" fill="url(#rg)"/></g>
<rect transform="translate(528.7 381.9) rotate(6)" x="-5.9" y="-1.7" width="11.7" height="3.4" rx="1.7" opacity="0.6"/><g transform="translate(528.2 381.3) rotate(6)"><rect x="-5.9" y="-1.7" width="11.7" height="3.4" rx="1.7" fill="#a8a8a8" stroke="#3a3a3a" stroke-width=".35"/><rect x="-5.9" y="-1.7" width="11.7" height="3.4" rx="1.7" fill="url(#rg)"/></g>
<rect transform="translate(498.1 370.8) rotate(32)" x="-4" y="-1.6" width="7.9" height="3.1" rx="1.6" opacity="0.6"/><g transform="translate(497.6 370.2) rotate(32)"><rect x="-4" y="-1.6" width="7.9" height="3.1" rx="1.6" fill="#969696" stroke="#3a3a3a" stroke-width=".35"/><rect x="-4" y="-1.6" width="7.9" height="3.1" rx="1.6" fill="url(#rg)"/></g>
<rect transform="translate(515.2 374.5) rotate(0)" x="-4.9" y="-1.4" width="9.9" height="2.7" rx="1.4" opacity="0.6"/><g transform="translate(514.7 373.9) rotate(0)"><rect x="-4.9" y="-1.4" width="9.9" height="2.7" rx="1.4" fill="#a0a0a0" stroke="#3a3a3a" stroke-width=".35"/><rect x="-4.9" y="-1.4" width="9.9" height="2.7" rx="1.4" fill="url(#rg)"/></g>
<rect transform="translate(541.2 344.6) rotate(103)" x="-5.5" y="-1.6" width="11.1" height="3.3" rx="1.6" opacity="0.6"/><g transform="translate(540.7 344) rotate(103)"><rect x="-5.5" y="-1.6" width="11.1" height="3.3" rx="1.6" fill="#8c8c8c" stroke="#3a3a3a" stroke-width=".35"/><rect x="-5.5" y="-1.6" width="11.1" height="3.3" rx="1.6" fill="url(#rg)"/></g>
<rect transform="translate(543.1 373.4) rotate(133)" x="-3.6" y="-1.3" width="7.2" height="2.7" rx="1.3" opacity="0.6"/><g transform="translate(542.6 372.8) rotate(133)"><rect x="-3.6" y="-1.3" width="7.2" height="2.7" rx="1.3" fill="#a0a0a0" stroke="#3a3a3a" stroke-width=".35"/><rect x="-3.6" y="-1.3" width="7.2" height="2.7" rx="1.3" fill="url(#rg)"/></g>
<rect transform="translate(495.6 380.8) rotate(31)" x="-3.7" y="-1.5" width="7.3" height="3.1" rx="1.5" opacity="0.6"/><g transform="translate(495.1 380.2) rotate(31)"><rect x="-3.7" y="-1.5" width="7.3" height="3.1" rx="1.5" fill="#969696" stroke="#3a3a3a" stroke-width=".35"/><rect x="-3.7" y="-1.5" width="7.3" height="3.1" rx="1.5" fill="url(#rg)"/></g>
<rect transform="translate(548 364.7) rotate(90)" x="-4" y="-1.7" width="8" height="3.4" rx="1.7" opacity="0.6"/><g transform="translate(547.5 364.1) rotate(90)"><rect x="-4" y="-1.7" width="8" height="3.4" rx="1.7" fill="#8c8c8c" stroke="#3a3a3a" stroke-width=".35"/><rect x="-4" y="-1.7" width="8" height="3.4" rx="1.7" fill="url(#rg)"/></g>
<rect transform="translate(506 368.2) rotate(165)" x="-4.9" y="-1.6" width="9.9" height="3.2" rx="1.6" opacity="0.6"/><g transform="translate(505.5 367.6) rotate(165)"><rect x="-4.9" y="-1.6" width="9.9" height="3.2" rx="1.6" fill="#8c8c8c" stroke="#3a3a3a" stroke-width=".35"/><rect x="-4.9" y="-1.6" width="9.9" height="3.2" rx="1.6" fill="url(#rg)"/></g>
<rect transform="translate(531.9 375.2) rotate(10)" x="-5" y="-1.4" width="10.1" height="2.8" rx="1.4" opacity="0.6"/><g transform="translate(531.4 374.6) rotate(10)"><rect x="-5" y="-1.4" width="10.1" height="2.8" rx="1.4" fill="#8c8c8c" stroke="#3a3a3a" stroke-width=".35"/><rect x="-5" y="-1.4" width="10.1" height="2.8" rx="1.4" fill="url(#rg)"/></g>
<rect transform="translate(552 339.1) rotate(128)" x="-5.4" y="-1.3" width="10.9" height="2.7" rx="1.3" opacity="0.6"/><g transform="translate(551.5 338.5) rotate(128)"><rect x="-5.4" y="-1.3" width="10.9" height="2.7" rx="1.3" fill="#969696" stroke="#3a3a3a" stroke-width=".35"/><rect x="-5.4" y="-1.3" width="10.9" height="2.7" rx="1.3" fill="url(#rg)"/></g>
<rect x="479.40" y="338.30" width="77.30" height="50.20" filter="url(#t2)" opacity="0.5" style="mix-blend-mode:soft-light"/>
</g>
<rect x="479.40" y="338.30" width="77.30" height="50.20" fill="none" stroke="#0a0a0a" stroke-width="1"/>
<text x="484.20" y="347.10" font-size="7.1" font-style="italic" fill="#fff" word-spacing="1.4">E. coli</text>
<text x="484.80" y="386.40" font-size="7.0" fill="#fff">AMP 31</text>
<text x="552.40" y="381.00" font-size="6.8" fill="#fff" text-anchor="end">1 µm</text>
<rect x="539.75" y="383.90" width="5.90" height="1.6" fill="#fff"/>
<rect x="560.10" y="339.10" width="78.90" height="51.60" fill="#8c8c8c" filter="url(#sh)"/>
<clipPath id="c5"><rect x="559.50" y="338.30" width="77.30" height="50.00"/></clipPath>
<g clip-path="url(#c5)">
<rect x="559.50" y="338.30" width="77.30" height="50.00" fill="#737373"/>
<rect x="559.50" y="338.30" width="77.30" height="50.00" filter="url(#t3)" opacity="0.4" style="mix-blend-mode:overlay"/>
<rect transform="translate(594.5 344.7) rotate(0)" x="-11.5" y="-3" width="23" height="6.1" rx="3" opacity="0.5"/><g transform="translate(594 344.1) rotate(0)"><rect x="-11.5" y="-3" width="23" height="6.1" rx="3" fill="#adadad" stroke="#404040" stroke-width=".35"/><rect x="-11.5" y="-3" width="23" height="6.1" rx="3" fill="url(#rg)"/></g>
<rect transform="translate(604.2 343.7) rotate(-20)" x="-5.5" y="-3" width="10.9" height="6.1" rx="3" opacity="0.5"/><g transform="translate(603.7 343.1) rotate(-20)"><rect x="-5.5" y="-3" width="10.9" height="6.1" rx="3" fill="#adadad" stroke="#404040" stroke-width=".35"/><rect x="-5.5" y="-3" width="10.9" height="6.1" rx="3" fill="url(#rg)"/></g>
<rect transform="translate(613.3 346.8) rotate(15)" x="-9.1" y="-3" width="18.2" height="6.1" rx="3" opacity="0.5"/><g transform="translate(612.8 346.2) rotate(15)"><rect x="-9.1" y="-3" width="18.2" height="6.1" rx="3" fill="#adadad" stroke="#404040" stroke-width=".35"/><rect x="-9.1" y="-3" width="18.2" height="6.1" rx="3" fill="url(#rg)"/></g>
<rect transform="translate(627.9 342.5) rotate(-20)" x="-4.8" y="-2.7" width="9.7" height="5.5" rx="2.7" opacity="0.5"/><g transform="translate(627.4 341.9) rotate(-20)"><rect x="-4.8" y="-2.7" width="9.7" height="5.5" rx="2.7" fill="#adadad" stroke="#404040" stroke-width=".35"/><rect x="-4.8" y="-2.7" width="9.7" height="5.5" rx="2.7" fill="url(#rg)"/></g>
<rect transform="translate(598.8 351.3) rotate(0)" x="-8.5" y="-2.7" width="17" height="5.5" rx="2.7" opacity="0.5"/><g transform="translate(598.3 350.7) rotate(0)"><rect x="-8.5" y="-2.7" width="17" height="5.5" rx="2.7" fill="#adadad" stroke="#404040" stroke-width=".35"/><rect x="-8.5" y="-2.7" width="17" height="5.5" rx="2.7" fill="url(#rg)"/></g>
<rect transform="translate(584.2 362.2) rotate(-5)" x="-9.1" y="-3" width="18.2" height="6.1" rx="3" opacity="0.5"/><g transform="translate(583.7 361.6) rotate(-5)"><rect x="-9.1" y="-3" width="18.2" height="6.1" rx="3" fill="#adadad" stroke="#404040" stroke-width=".35"/><rect x="-9.1" y="-3" width="18.2" height="6.1" rx="3" fill="url(#rg)"/></g>
<rect transform="translate(600.6 367.7) rotate(75)" x="-11.5" y="-4.5" width="23" height="9.1" rx="4.5" opacity="0.5"/><g transform="translate(600.1 367.1) rotate(75)"><rect x="-11.5" y="-4.5" width="23" height="9.1" rx="4.5" fill="#adadad" stroke="#404040" stroke-width=".35"/><rect x="-11.5" y="-4.5" width="23" height="9.1" rx="4.5" fill="url(#rg)"/></g>
<rect transform="translate(591.3 372.8) rotate(55)" x="-9.1" y="-3.3" width="18.2" height="6.7" rx="3.3" opacity="0.5"/><g transform="translate(590.8 372.2) rotate(55)"><rect x="-9.1" y="-3.3" width="18.2" height="6.7" rx="3.3" fill="#adadad" stroke="#404040" stroke-width=".35"/><rect x="-9.1" y="-3.3" width="18.2" height="6.7" rx="3.3" fill="url(#rg)"/></g>
<rect transform="translate(600 385) rotate(0)" x="-9.7" y="-2.7" width="19.4" height="5.5" rx="2.7" opacity="0.5"/><g transform="translate(599.5 384.4) rotate(0)"><rect x="-9.7" y="-2.7" width="19.4" height="5.5" rx="2.7" fill="#adadad" stroke="#404040" stroke-width=".35"/><rect x="-9.7" y="-2.7" width="19.4" height="5.5" rx="2.7" fill="url(#rg)"/></g>
<circle cx="613.3" cy="356" r="4.5" opacity="0.45"/>
<circle cx="612.8" cy="355.3" r="4.5" fill="#9a9a9a" stroke="#333" stroke-width=".35"/><circle cx="612.8" cy="355.3" r="4.5" fill="url(#cg)"/>
<rect x="559.50" y="338.30" width="77.30" height="50.00" filter="url(#t3)" opacity="0.15" style="mix-blend-mode:soft-light"/>
</g>
<rect x="559.50" y="338.30" width="77.30" height="50.00" fill="none" stroke="#0a0a0a" stroke-width="1"/>
<text x="564.30" y="347.10" font-size="7.1" font-style="italic" fill="#fff" word-spacing="1.4">E. coli</text>
<text x="564.90" y="386.20" font-size="7.0" fill="#fff">AMP 38</text>
<text x="632.50" y="380.80" font-size="6.8" fill="#fff" text-anchor="end">1 µm</text>
<rect x="612.80" y="383.70" width="20.00" height="1.6" fill="#fff"/>
<rect x="202.70" y="392.10" width="77.50" height="51.70" fill="#8c8c8c" filter="url(#sh)"/>
<clipPath id="c6"><rect x="202.10" y="391.30" width="75.90" height="50.10"/></clipPath>
<g clip-path="url(#c6)">
<rect x="202.10" y="391.30" width="75.90" height="50.10" fill="#666666"/>
<rect x="202.10" y="391.30" width="75.90" height="50.10" filter="url(#t2)" opacity="0.12" style="mix-blend-mode:overlay"/>
<circle cx="223.9" cy="402.5" r="4.9" opacity="0.4"/>
<circle cx="223.4" cy="401.8" r="4.9" fill="#8c8c8c" stroke="#3c3c3c" stroke-width=".35"/><circle cx="223.4" cy="401.8" r="4.9" fill="url(#cg)"/>
<circle cx="232" cy="402.5" r="6.4" opacity="0.4"/>
<circle cx="231.5" cy="401.8" r="6.4" fill="#8c8c8c" stroke="#3c3c3c" stroke-width=".35"/><circle cx="231.5" cy="401.8" r="6.4" fill="url(#cg)"/>
<circle cx="244.3" cy="406" r="6.4" opacity="0.4"/>
<circle cx="243.8" cy="405.3" r="6.4" fill="#8c8c8c" stroke="#3c3c3c" stroke-width=".35"/><circle cx="243.8" cy="405.3" r="6.4" fill="url(#cg)"/>
<circle cx="224.4" cy="413.6" r="5.8" opacity="0.4"/>
<circle cx="223.9" cy="412.9" r="5.8" fill="#8c8c8c" stroke="#3c3c3c" stroke-width=".35"/><circle cx="223.9" cy="412.9" r="5.8" fill="url(#cg)"/>
<circle cx="230.9" cy="413" r="5.8" opacity="0.4"/>
<circle cx="230.4" cy="412.3" r="5.8" fill="#8c8c8c" stroke="#3c3c3c" stroke-width=".35"/><circle cx="230.4" cy="412.3" r="5.8" fill="url(#cg)"/>
<circle cx="249.5" cy="417.1" r="6.4" opacity="0.4"/>
<circle cx="249" cy="416.4" r="6.4" fill="#8c8c8c" stroke="#3c3c3c" stroke-width=".35"/><circle cx="249" cy="416.4" r="6.4" fill="url(#cg)"/>
<circle cx="236.7" cy="422.9" r="6.4" opacity="0.4"/>
<circle cx="236.2" cy="422.2" r="6.4" fill="#8c8c8c" stroke="#3c3c3c" stroke-width=".35"/><circle cx="236.2" cy="422.2" r="6.4" fill="url(#cg)"/>
<circle cx="243.1" cy="434" r="7" opacity="0.4"/>
<circle cx="242.6" cy="433.3" r="7" fill="#8c8c8c" stroke="#3c3c3c" stroke-width=".35"/><circle cx="242.6" cy="433.3" r="7" fill="url(#cg)"/>
<rect x="202.10" y="391.30" width="75.90" height="50.10" filter="url(#t3)" opacity="0.12" style="mix-blend-mode:soft-light"/>
</g>
<rect x="202.10" y="391.30" width="75.90" height="50.10" fill="none" stroke="#0a0a0a" stroke-width="1"/>
<text x="206.90" y="400.10" font-size="7.1" font-style="italic" fill="#fff" word-spacing="1.4">S. aureus</text>
<text x="207.50" y="439.30" font-size="7.0" fill="#fff">Control</text>
<text x="273.70" y="433.90" font-size="6.8" fill="#fff" text-anchor="end">1 µm</text>
<rect x="254.50" y="436.80" width="19.00" height="1.6" fill="#fff"/>
<rect x="282.00" y="392.10" width="77.70" height="51.70" fill="#8c8c8c" filter="url(#sh)"/>
<clipPath id="c7"><rect x="281.40" y="391.30" width="76.10" height="50.10"/></clipPath>
<g clip-path="url(#c7)">
<rect x="281.40" y="391.30" width="76.10" height="50.10" fill="#3a3a3a"/>
<rect x="281.40" y="391.30" width="76.10" height="50.10" filter="url(#t1)" opacity="0.4" style="mix-blend-mode:overlay"/>
<rect x="281.40" y="391.30" width="76.10" height="50.10" filter="url(#t3)" opacity="0.3" style="mix-blend-mode:overlay"/>
<circle cx="323.9" cy="398.5" r="4.4" opacity="0.55"/>
<circle cx="323.4" cy="397.8" r="4.4" fill="#666666" stroke="#222" stroke-width=".35"/><circle cx="323.4" cy="397.8" r="4.4" fill="url(#cg)"/>
<circle cx="329.7" cy="396.7" r="4.3" opacity="0.55"/>
<circle cx="329.2" cy="396" r="4.3" fill="#585858" stroke="#222" stroke-width=".35"/><circle cx="329.2" cy="396" r="4.3" fill="url(#cg)"/>
<circle cx="342.6" cy="400.2" r="4.2" opacity="0.55"/>
<circle cx="342.1" cy="399.5" r="4.2" fill="#5e5e5e" stroke="#222" stroke-width=".35"/><circle cx="342.1" cy="399.5" r="4.2" fill="url(#cg)"/>
<circle cx="349.6" cy="396.7" r="4.4" opacity="0.55"/>
<circle cx="349.1" cy="396" r="4.4" fill="#585858" stroke="#222" stroke-width=".35"/><circle cx="349.1" cy="396" r="4.4" fill="url(#cg)"/>
<circle cx="354.2" cy="400.2" r="4.4" opacity="0.55"/>
<circle cx="353.7" cy="399.5" r="4.4" fill="#585858" stroke="#222" stroke-width=".35"/><circle cx="353.7" cy="399.5" r="4.4" fill="url(#cg)"/>
<circle cx="298.2" cy="402.5" r="4.2" opacity="0.55"/>
<circle cx="297.7" cy="401.8" r="4.2" fill="#666666" stroke="#222" stroke-width=".35"/><circle cx="297.7" cy="401.8" r="4.2" fill="url(#cg)"/>
<circle cx="313.4" cy="403.7" r="4.7" opacity="0.55"/>
<circle cx="312.9" cy="403" r="4.7" fill="#666666" stroke="#222" stroke-width=".35"/><circle cx="312.9" cy="403" r="4.7" fill="url(#cg)"/>
<circle cx="334.4" cy="407.2" r="4.8" opacity="0.55"/>
<circle cx="333.9" cy="406.5" r="4.8" fill="#666666" stroke="#222" stroke-width=".35"/><circle cx="333.9" cy="406.5" r="4.8" fill="url(#cg)"/>
<circle cx="343.1" cy="409.6" r="4.3" opacity="0.55"/>
<circle cx="342.6" cy="408.9" r="4.3" fill="#5e5e5e" stroke="#222" stroke-width=".35"/><circle cx="342.6" cy="408.9" r="4.3" fill="url(#cg)"/>
<circle cx="350.7" cy="410.7" r="5" opacity="0.55"/>
<circle cx="350.2" cy="410" r="5" fill="#585858" stroke="#222" stroke-width=".35"/><circle cx="350.2" cy="410" r="5" fill="url(#cg)"/>
<circle cx="294.7" cy="411.9" r="4.5" opacity="0.55"/>
<circle cx="294.2" cy="411.2" r="4.5" fill="#666666" stroke="#222" stroke-width=".35"/><circle cx="294.2" cy="411.2" r="4.5" fill="url(#cg)"/>
<circle cx="302.9" cy="413.1" r="4.7" opacity="0.55"/>
<circle cx="302.4" cy="412.4" r="4.7" fill="#666666" stroke="#222" stroke-width=".35"/><circle cx="302.4" cy="412.4" r="4.7" fill="url(#cg)"/>
<circle cx="307.5" cy="408.4" r="4.9" opacity="0.55"/>
<circle cx="307" cy="407.7" r="4.9" fill="#585858" stroke="#222" stroke-width=".35"/><circle cx="307" cy="407.7" r="4.9" fill="url(#cg)"/>
<circle cx="318" cy="418.9" r="4.5" opacity="0.55"/>
<circle cx="317.5" cy="418.2" r="4.5" fill="#5e5e5e" stroke="#222" stroke-width=".35"/><circle cx="317.5" cy="418.2" r="4.5" fill="url(#cg)"/>
<circle cx="326.2" cy="416.6" r="4.6" opacity="0.55"/>
<circle cx="325.7" cy="415.9" r="4.6" fill="#666666" stroke="#222" stroke-width=".35"/><circle cx="325.7" cy="415.9" r="4.6" fill="url(#cg)"/>
<circle cx="335.6" cy="414.2" r="4.3" opacity="0.55"/>
<circle cx="335.1" cy="413.5" r="4.3" fill="#5e5e5e" stroke="#222" stroke-width=".35"/><circle cx="335.1" cy="413.5" r="4.3" fill="url(#cg)"/>
<circle cx="344.9" cy="417.7" r="4.5" opacity="0.55"/>
<circle cx="344.4" cy="417" r="4.5" fill="#585858" stroke="#222" stroke-width=".35"/><circle cx="344.4" cy="417" r="4.5" fill="url(#cg)"/>
<circle cx="350.7" cy="418.9" r="4.3" opacity="0.55"/>
<circle cx="350.2" cy="418.2" r="4.3" fill="#585858" stroke="#222" stroke-width=".35"/><circle cx="350.2" cy="418.2" r="4.3" fill="url(#cg)"/>
<circle cx="300.5" cy="424.7" r="4.7" opacity="0.55"/>
<circle cx="300" cy="424" r="4.7" fill="#5e5e5e" stroke="#222" stroke-width=".35"/><circle cx="300" cy="424" r="4.7" fill="url(#cg)"/>
<circle cx="309.9" cy="428.2" r="4.8" opacity="0.55"/>
<circle cx="309.4" cy="427.5" r="4.8" fill="#5e5e5e" stroke="#222" stroke-width=".35"/><circle cx="309.4" cy="427.5" r="4.8" fill="url(#cg)"/>
<circle cx="318" cy="427.1" r="4.8" opacity="0.55"/>
<circle cx="317.5" cy="426.4" r="4.8" fill="#585858" stroke="#222" stroke-width=".35"/><circle cx="317.5" cy="426.4" r="4.8" fill="url(#cg)"/>
<circle cx="328.6" cy="425.9" r="5.1" opacity="0.55"/>
<circle cx="328.1" cy="425.2" r="5.1" fill="#666666" stroke="#222" stroke-width=".35"/><circle cx="328.1" cy="425.2" r="5.1" fill="url(#cg)"/>
<circle cx="337.9" cy="428.2" r="4.9" opacity="0.55"/>
<circle cx="337.4" cy="427.5" r="4.9" fill="#5e5e5e" stroke="#222" stroke-width=".35"/><circle cx="337.4" cy="427.5" r="4.9" fill="url(#cg)"/>
<circle cx="344.9" cy="425.9" r="5.1" opacity="0.55"/>
<circle cx="344.4" cy="425.2" r="5.1" fill="#585858" stroke="#222" stroke-width=".35"/><circle cx="344.4" cy="425.2" r="5.1" fill="url(#cg)"/>
<circle cx="290" cy="428.2" r="4.7" opacity="0.55"/>
<circle cx="289.5" cy="427.5" r="4.7" fill="#585858" stroke="#222" stroke-width=".35"/><circle cx="289.5" cy="427.5" r="4.7" fill="url(#cg)"/>
<circle cx="294.7" cy="434.1" r="5.1" opacity="0.55"/>
<circle cx="294.2" cy="433.4" r="5.1" fill="#666666" stroke="#222" stroke-width=".35"/><circle cx="294.2" cy="433.4" r="5.1" fill="url(#cg)"/>
<circle cx="306.4" cy="435.2" r="4.8" opacity="0.55"/>
<circle cx="305.9" cy="434.5" r="4.8" fill="#666666" stroke="#222" stroke-width=".35"/><circle cx="305.9" cy="434.5" r="4.8" fill="url(#cg)"/>
<circle cx="323.9" cy="434.1" r="4.3" opacity="0.55"/>
<circle cx="323.4" cy="433.4" r="4.3" fill="#585858" stroke="#222" stroke-width=".35"/><circle cx="323.4" cy="433.4" r="4.3" fill="url(#cg)"/>
<circle cx="334.4" cy="435.2" r="4.3" opacity="0.55"/>
<circle cx="333.9" cy="434.5" r="4.3" fill="#585858" stroke="#222" stroke-width=".35"/><circle cx="333.9" cy="434.5" r="4.3" fill="url(#cg)"/>
<circle cx="342.6" cy="432.9" r="4.5" opacity="0.55"/>
<circle cx="342.1" cy="432.2" r="4.5" fill="#666666" stroke="#222" stroke-width=".35"/><circle cx="342.1" cy="432.2" r="4.5" fill="url(#cg)"/>
<circle cx="351.9" cy="427.1" r="5.1" opacity="0.55"/>
<circle cx="351.4" cy="426.4" r="5.1" fill="#666666" stroke="#222" stroke-width=".35"/><circle cx="351.4" cy="426.4" r="5.1" fill="url(#cg)"/>
<circle cx="286.5" cy="418.9" r="4.7" opacity="0.55"/>
<circle cx="286" cy="418.2" r="4.7" fill="#5e5e5e" stroke="#222" stroke-width=".35"/><circle cx="286" cy="418.2" r="4.7" fill="url(#cg)"/>
<circle cx="286.5" cy="406.1" r="4.5" opacity="0.55"/>
<circle cx="286" cy="405.4" r="4.5" fill="#666666" stroke="#222" stroke-width=".35"/><circle cx="286" cy="405.4" r="4.5" fill="url(#cg)"/>
<circle cx="314.5" cy="396.7" r="4.7" opacity="0.55"/>
<circle cx="314" cy="396" r="4.7" fill="#585858" stroke="#222" stroke-width=".35"/><circle cx="314" cy="396" r="4.7" fill="url(#cg)"/>
<circle cx="302.9" cy="396.7" r="4.9" opacity="0.55"/>
<circle cx="302.4" cy="396" r="4.9" fill="#585858" stroke="#222" stroke-width=".35"/><circle cx="302.4" cy="396" r="4.9" fill="url(#cg)"/>
<ellipse cx="303.40" cy="413.30" rx="4.00" ry="3.00" fill="#8c8c8c" opacity="0.55" transform="rotate(0 303.40 413.30)"/>
<ellipse cx="339.40" cy="409.30" rx="4.00" ry="3.00" fill="#8c8c8c" opacity="0.55" transform="rotate(0 339.40 409.30)"/>
<ellipse cx="309.40" cy="427.30" rx="4.00" ry="3.00" fill="#8c8c8c" opacity="0.55" transform="rotate(0 309.40 427.30)"/>
<ellipse cx="329.40" cy="425.30" rx="4.00" ry="3.00" fill="#8c8c8c" opacity="0.55" transform="rotate(0 329.40 425.30)"/>
<rect x="281.40" y="391.30" width="76.10" height="50.10" filter="url(#t2)" opacity="0.25" style="mix-blend-mode:soft-light"/>
</g>
<rect x="281.40" y="391.30" width="76.10" height="50.10" fill="none" stroke="#0a0a0a" stroke-width="1"/>
<text x="286.20" y="400.10" font-size="7.1" font-style="italic" fill="#fff" word-spacing="1.4">S. aureus</text>
<text x="286.80" y="439.30" font-size="7.0" fill="#fff">AMP 8</text>
<text x="353.20" y="433.90" font-size="6.8" fill="#fff" text-anchor="end">1 µm</text>
<rect x="336.50" y="436.80" width="14.00" height="1.6" fill="#fff"/>
<rect x="361.40" y="392.10" width="77.80" height="51.70" fill="#8c8c8c" filter="url(#sh)"/>
<clipPath id="c8"><rect x="360.80" y="391.30" width="76.20" height="50.10"/></clipPath>
<g clip-path="url(#c8)">
<rect x="360.80" y="391.30" width="76.20" height="50.10" fill="#3a3a3a"/>
<rect x="360.80" y="391.30" width="76.20" height="50.10" filter="url(#t2)" opacity="0.3" style="mix-blend-mode:overlay"/>
<circle cx="380.1" cy="427.1" r="4.2" opacity="0.45"/>
<circle cx="379.6" cy="426.4" r="4.2" fill="#929292" stroke="#333" stroke-width=".35"/><circle cx="379.6" cy="426.4" r="4.2" fill="url(#cg)"/>
<circle cx="411.6" cy="426" r="4.4" opacity="0.45"/>
<circle cx="411.1" cy="425.3" r="4.4" fill="#929292" stroke="#333" stroke-width=".35"/><circle cx="411.1" cy="425.3" r="4.4" fill="url(#cg)"/>
<circle cx="369.7" cy="418.7" r="3.5" opacity="0.45"/>
<circle cx="369.2" cy="418" r="3.5" fill="#7e7e7e" stroke="#333" stroke-width=".35"/><circle cx="369.2" cy="418" r="3.5" fill="url(#cg)"/>
<circle cx="361.7" cy="396.8" r="4.2" opacity="0.45"/>
<circle cx="361.2" cy="396.1" r="4.2" fill="#888888" stroke="#333" stroke-width=".35"/><circle cx="361.2" cy="396.1" r="4.2" fill="url(#cg)"/>
<circle cx="438.9" cy="435.1" r="3.3" opacity="0.45"/>
<circle cx="438.4" cy="434.4" r="3.3" fill="#7e7e7e" stroke="#333" stroke-width=".35"/><circle cx="438.4" cy="434.4" r="3.3" fill="url(#cg)"/>
<circle cx="425.6" cy="430.3" r="4.5" opacity="0.45"/>
<circle cx="425.1" cy="429.6" r="4.5" fill="#7e7e7e" stroke="#333" stroke-width=".35"/><circle cx="425.1" cy="429.6" r="4.5" fill="url(#cg)"/>
<circle cx="387.8" cy="402.7" r="4.5" opacity="0.45"/>
<circle cx="387.3" cy="402" r="4.5" fill="#9a9a9a" stroke="#333" stroke-width=".35"/><circle cx="387.3" cy="402" r="4.5" fill="url(#cg)"/>
<circle cx="413.1" cy="438.1" r="4.1" opacity="0.45"/>
<circle cx="412.6" cy="437.4" r="4.1" fill="#888888" stroke="#333" stroke-width=".35"/><circle cx="412.6" cy="437.4" r="4.1" fill="url(#cg)"/>
<circle cx="387" cy="422.2" r="4.1" opacity="0.45"/>
<circle cx="386.5" cy="421.5" r="4.1" fill="#7e7e7e" stroke="#333" stroke-width=".35"/><circle cx="386.5" cy="421.5" r="4.1" fill="url(#cg)"/>
<circle cx="414.7" cy="420" r="4.2" opacity="0.45"/>
<circle cx="414.2" cy="419.3" r="4.2" fill="#929292" stroke="#333" stroke-width=".35"/><circle cx="414.2" cy="419.3" r="4.2" fill="url(#cg)"/>
<circle cx="394.6" cy="429.4" r="4" opacity="0.45"/>
<circle cx="394.1" cy="428.7" r="4" fill="#7e7e7e" stroke="#333" stroke-width=".35"/><circle cx="394.1" cy="428.7" r="4" fill="url(#cg)"/>
<circle cx="375.6" cy="418.3" r="3.6" opacity="0.45"/>
<circle cx="375.1" cy="417.6" r="3.6" fill="#9a9a9a" stroke="#333" stroke-width=".35"/><circle cx="375.1" cy="417.6" r="3.6" fill="url(#cg)"/>
<circle cx="380.3" cy="405.2" r="4.4" opacity="0.45"/>
<circle cx="379.8" cy="404.5" r="4.4" fill="#9a9a9a" stroke="#333" stroke-width=".35"/><circle cx="379.8" cy="404.5" r="4.4" fill="url(#cg)"/>
<circle cx="403.4" cy="420.6" r="4.4" opacity="0.45"/>
<circle cx="402.9" cy="419.9" r="4.4" fill="#7e7e7e" stroke="#333" stroke-width=".35"/><circle cx="402.9" cy="419.9" r="4.4" fill="url(#cg)"/>
<circle cx="369.8" cy="413.3" r="4.1" opacity="0.45"/>
<circle cx="369.3" cy="412.6" r="4.1" fill="#9a9a9a" stroke="#333" stroke-width=".35"/><circle cx="369.3" cy="412.6" r="4.1" fill="url(#cg)"/>
<circle cx="390.6" cy="428.9" r="4.5" opacity="0.45"/>
<circle cx="390.1" cy="428.2" r="4.5" fill="#888888" stroke="#333" stroke-width=".35"/><circle cx="390.1" cy="428.2" r="4.5" fill="url(#cg)"/>
<circle cx="377.3" cy="416.9" r="4.2" opacity="0.45"/>
<circle cx="376.8" cy="416.2" r="4.2" fill="#9a9a9a" stroke="#333" stroke-width=".35"/><circle cx="376.8" cy="416.2" r="4.2" fill="url(#cg)"/>
<circle cx="410.6" cy="398.6" r="3.8" opacity="0.45"/>
<circle cx="410.1" cy="397.9" r="3.8" fill="#7e7e7e" stroke="#333" stroke-width=".35"/><circle cx="410.1" cy="397.9" r="3.8" fill="url(#cg)"/>
<circle cx="430.4" cy="433.5" r="3.5" opacity="0.45"/>
<circle cx="429.9" cy="432.8" r="3.5" fill="#7e7e7e" stroke="#333" stroke-width=".35"/><circle cx="429.9" cy="432.8" r="3.5" fill="url(#cg)"/>
<circle cx="401" cy="425.5" r="4.5" opacity="0.45"/>
<circle cx="400.5" cy="424.8" r="4.5" fill="#929292" stroke="#333" stroke-width=".35"/><circle cx="400.5" cy="424.8" r="4.5" fill="url(#cg)"/>
<circle cx="417.3" cy="401.5" r="4.1" opacity="0.45"/>
<circle cx="416.8" cy="400.8" r="4.1" fill="#888888" stroke="#333" stroke-width=".35"/><circle cx="416.8" cy="400.8" r="4.1" fill="url(#cg)"/>
<circle cx="388.1" cy="429.4" r="3.7" opacity="0.45"/>
<circle cx="387.6" cy="428.7" r="3.7" fill="#7e7e7e" stroke="#333" stroke-width=".35"/><circle cx="387.6" cy="428.7" r="3.7" fill="url(#cg)"/>
<circle cx="374.8" cy="432.6" r="4" opacity="0.45"/>
<circle cx="374.3" cy="431.9" r="4" fill="#929292" stroke="#333" stroke-width=".35"/><circle cx="374.3" cy="431.9" r="4" fill="url(#cg)"/>
<circle cx="372.7" cy="413.2" r="4" opacity="0.45"/>
<circle cx="372.2" cy="412.5" r="4" fill="#888888" stroke="#333" stroke-width=".35"/><circle cx="372.2" cy="412.5" r="4" fill="url(#cg)"/>
<circle cx="437.2" cy="434.7" r="4.1" opacity="0.45"/>
<circle cx="436.7" cy="434" r="4.1" fill="#888888" stroke="#333" stroke-width=".35"/><circle cx="436.7" cy="434" r="4.1" fill="url(#cg)"/>
<circle cx="369.4" cy="406.8" r="3.8" opacity="0.45"/>
<circle cx="368.9" cy="406.1" r="3.8" fill="#7e7e7e" stroke="#333" stroke-width=".35"/><circle cx="368.9" cy="406.1" r="3.8" fill="url(#cg)"/>
<circle cx="404.6" cy="427.8" r="4.5" opacity="0.45"/>
<circle cx="404.1" cy="427.1" r="4.5" fill="#7e7e7e" stroke="#333" stroke-width=".35"/><circle cx="404.1" cy="427.1" r="4.5" fill="url(#cg)"/>
<circle cx="427.6" cy="391.9" r="3.6" opacity="0.45"/>
<circle cx="427.1" cy="391.2" r="3.6" fill="#929292" stroke="#333" stroke-width=".35"/><circle cx="427.1" cy="391.2" r="3.6" fill="url(#cg)"/>
<circle cx="399.1" cy="442.5" r="3.9" opacity="0.45"/>
<circle cx="398.6" cy="441.8" r="3.9" fill="#9a9a9a" stroke="#333" stroke-width=".35"/><circle cx="398.6" cy="441.8" r="3.9" fill="url(#cg)"/>
<circle cx="377.2" cy="401.2" r="4.3" opacity="0.45"/>
<circle cx="376.7" cy="400.5" r="4.3" fill="#9a9a9a" stroke="#333" stroke-width=".35"/><circle cx="376.7" cy="400.5" r="4.3" fill="url(#cg)"/>
<circle cx="399.5" cy="439.3" r="4.2" opacity="0.45"/>
<circle cx="399" cy="438.6" r="4.2" fill="#7e7e7e" stroke="#333" stroke-width=".35"/><circle cx="399" cy="438.6" r="4.2" fill="url(#cg)"/>
<circle cx="393.4" cy="434.6" r="3.5" opacity="0.45"/>
<circle cx="392.9" cy="433.9" r="3.5" fill="#9a9a9a" stroke="#333" stroke-width=".35"/><circle cx="392.9" cy="433.9" r="3.5" fill="url(#cg)"/>
<circle cx="406.5" cy="409.2" r="3.5" opacity="0.45"/>
<circle cx="406" cy="408.5" r="3.5" fill="#7e7e7e" stroke="#333" stroke-width=".35"/><circle cx="406" cy="408.5" r="3.5" fill="url(#cg)"/>
<circle cx="393.6" cy="424.7" r="3.8" opacity="0.45"/>
<circle cx="393.1" cy="424" r="3.8" fill="#7e7e7e" stroke="#333" stroke-width=".35"/><circle cx="393.1" cy="424" r="3.8" fill="url(#cg)"/>
<circle cx="391.2" cy="394.7" r="4.3" opacity="0.45"/>
<circle cx="390.7" cy="394" r="4.3" fill="#888888" stroke="#333" stroke-width=".35"/><circle cx="390.7" cy="394" r="4.3" fill="url(#cg)"/>
<circle cx="411.7" cy="406.6" r="3.8" opacity="0.45"/>
<circle cx="411.2" cy="405.9" r="3.8" fill="#9a9a9a" stroke="#333" stroke-width=".35"/><circle cx="411.2" cy="405.9" r="3.8" fill="url(#cg)"/>
<circle cx="386" cy="405.7" r="3.8" opacity="0.45"/>
<circle cx="385.5" cy="405" r="3.8" fill="#929292" stroke="#333" stroke-width=".35"/><circle cx="385.5" cy="405" r="3.8" fill="url(#cg)"/>
<circle cx="371.2" cy="392.8" r="3.7" opacity="0.45"/>
<circle cx="370.7" cy="392.1" r="3.7" fill="#929292" stroke="#333" stroke-width=".35"/><circle cx="370.7" cy="392.1" r="3.7" fill="url(#cg)"/>
<circle cx="376.8" cy="406.4" r="3.7" opacity="0.45"/>
<circle cx="376.3" cy="405.7" r="3.7" fill="#888888" stroke="#333" stroke-width=".35"/><circle cx="376.3" cy="405.7" r="3.7" fill="url(#cg)"/>
<circle cx="387.2" cy="395.4" r="3.9" opacity="0.45"/>
<circle cx="386.7" cy="394.7" r="3.9" fill="#9a9a9a" stroke="#333" stroke-width=".35"/><circle cx="386.7" cy="394.7" r="3.9" fill="url(#cg)"/>
<circle cx="362.8" cy="418.9" r="3.4" opacity="0.45"/>
<circle cx="362.3" cy="418.2" r="3.4" fill="#888888" stroke="#333" stroke-width=".35"/><circle cx="362.3" cy="418.2" r="3.4" fill="url(#cg)"/>
<circle cx="385.2" cy="438.3" r="4" opacity="0.45"/>
<circle cx="384.7" cy="437.6" r="4" fill="#929292" stroke="#333" stroke-width=".35"/><circle cx="384.7" cy="437.6" r="4" fill="url(#cg)"/>
<circle cx="431.7" cy="438.4" r="4.5" opacity="0.45"/>
<circle cx="431.2" cy="437.7" r="4.5" fill="#929292" stroke="#333" stroke-width=".35"/><circle cx="431.2" cy="437.7" r="4.5" fill="url(#cg)"/>
<circle cx="366.5" cy="440.4" r="3.3" opacity="0.45"/>
<circle cx="366" cy="439.7" r="3.3" fill="#7e7e7e" stroke="#333" stroke-width=".35"/><circle cx="366" cy="439.7" r="3.3" fill="url(#cg)"/>
<circle cx="423.6" cy="401.6" r="4.2" opacity="0.45"/>
<circle cx="423.1" cy="400.9" r="4.2" fill="#929292" stroke="#333" stroke-width=".35"/><circle cx="423.1" cy="400.9" r="4.2" fill="url(#cg)"/>
<circle cx="401" cy="439.8" r="3.8" opacity="0.45"/>
<circle cx="400.5" cy="439.1" r="3.8" fill="#9a9a9a" stroke="#333" stroke-width=".35"/><circle cx="400.5" cy="439.1" r="3.8" fill="url(#cg)"/>
<circle cx="409.1" cy="435.4" r="4.5" opacity="0.45"/>
<circle cx="408.6" cy="434.7" r="4.5" fill="#888888" stroke="#333" stroke-width=".35"/><circle cx="408.6" cy="434.7" r="4.5" fill="url(#cg)"/>
<circle cx="408.5" cy="441" r="4.3" opacity="0.45"/>
<circle cx="408" cy="440.3" r="4.3" fill="#7e7e7e" stroke="#333" stroke-width=".35"/><circle cx="408" cy="440.3" r="4.3" fill="url(#cg)"/>
<circle cx="402.1" cy="406.2" r="4.5" opacity="0.45"/>
<circle cx="401.6" cy="405.5" r="4.5" fill="#7e7e7e" stroke="#333" stroke-width=".35"/><circle cx="401.6" cy="405.5" r="4.5" fill="url(#cg)"/>
<circle cx="380.2" cy="410.2" r="4.5" opacity="0.45"/>
<circle cx="379.7" cy="409.5" r="4.5" fill="#929292" stroke="#333" stroke-width=".35"/><circle cx="379.7" cy="409.5" r="4.5" fill="url(#cg)"/>
<circle cx="417.6" cy="395.8" r="4.2" opacity="0.45"/>
<circle cx="417.1" cy="395.1" r="4.2" fill="#888888" stroke="#333" stroke-width=".35"/><circle cx="417.1" cy="395.1" r="4.2" fill="url(#cg)"/>
<circle cx="439.5" cy="433.8" r="3.8" opacity="0.45"/>
<circle cx="439" cy="433.1" r="3.8" fill="#7e7e7e" stroke="#333" stroke-width=".35"/><circle cx="439" cy="433.1" r="3.8" fill="url(#cg)"/>
<circle cx="433" cy="392.2" r="3.3" opacity="0.45"/>
<circle cx="432.5" cy="391.5" r="3.3" fill="#9a9a9a" stroke="#333" stroke-width=".35"/><circle cx="432.5" cy="391.5" r="3.3" fill="url(#cg)"/>
<circle cx="439.2" cy="415.5" r="3.6" opacity="0.45"/>
<circle cx="438.7" cy="414.8" r="3.6" fill="#929292" stroke="#333" stroke-width=".35"/><circle cx="438.7" cy="414.8" r="3.6" fill="url(#cg)"/>
<circle cx="395.4" cy="390.2" r="3.2" opacity="0.45"/>
<circle cx="394.9" cy="389.5" r="3.2" fill="#7e7e7e" stroke="#333" stroke-width=".35"/><circle cx="394.9" cy="389.5" r="3.2" fill="url(#cg)"/>
<circle cx="381.5" cy="402.2" r="4.6" opacity="0.45"/>
<circle cx="381" cy="401.5" r="4.6" fill="#7e7e7e" stroke="#333" stroke-width=".35"/><circle cx="381" cy="401.5" r="4.6" fill="url(#cg)"/>
<circle cx="392.7" cy="443.7" r="4.3" opacity="0.45"/>
<circle cx="392.2" cy="443" r="4.3" fill="#9a9a9a" stroke="#333" stroke-width=".35"/><circle cx="392.2" cy="443" r="4.3" fill="url(#cg)"/>
<circle cx="392.1" cy="398.4" r="4" opacity="0.45"/>
<circle cx="391.6" cy="397.7" r="4" fill="#9a9a9a" stroke="#333" stroke-width=".35"/><circle cx="391.6" cy="397.7" r="4" fill="url(#cg)"/>
<circle cx="374.9" cy="410.3" r="3.9" opacity="0.45"/>
<circle cx="374.4" cy="409.6" r="3.9" fill="#929292" stroke="#333" stroke-width=".35"/><circle cx="374.4" cy="409.6" r="3.9" fill="url(#cg)"/>
<circle cx="361.6" cy="439" r="3.9" opacity="0.45"/>
<circle cx="361.1" cy="438.3" r="3.9" fill="#929292" stroke="#333" stroke-width=".35"/><circle cx="361.1" cy="438.3" r="3.9" fill="url(#cg)"/>
<circle cx="369.3" cy="390.3" r="3.4" opacity="0.45"/>
<circle cx="368.8" cy="389.6" r="3.4" fill="#888888" stroke="#333" stroke-width=".35"/><circle cx="368.8" cy="389.6" r="3.4" fill="url(#cg)"/>
<circle cx="430.3" cy="416.9" r="3.9" opacity="0.45"/>
<circle cx="429.8" cy="416.2" r="3.9" fill="#888888" stroke="#333" stroke-width=".35"/><circle cx="429.8" cy="416.2" r="3.9" fill="url(#cg)"/>
<circle cx="376.5" cy="430.3" r="4.1" opacity="0.45"/>
<circle cx="376" cy="429.6" r="4.1" fill="#9a9a9a" stroke="#333" stroke-width=".35"/><circle cx="376" cy="429.6" r="4.1" fill="url(#cg)"/>
<circle cx="361.5" cy="418.8" r="4.3" opacity="0.45"/>
<circle cx="361" cy="418.1" r="4.3" fill="#929292" stroke="#333" stroke-width=".35"/><circle cx="361" cy="418.1" r="4.3" fill="url(#cg)"/>
<circle cx="383.2" cy="423.5" r="4.1" opacity="0.45"/>
<circle cx="382.7" cy="422.8" r="4.1" fill="#9a9a9a" stroke="#333" stroke-width=".35"/><circle cx="382.7" cy="422.8" r="4.1" fill="url(#cg)"/>
<circle cx="433.6" cy="403.9" r="3.9" opacity="0.45"/>
<circle cx="433.1" cy="403.2" r="3.9" fill="#888888" stroke="#333" stroke-width=".35"/><circle cx="433.1" cy="403.2" r="3.9" fill="url(#cg)"/>
<circle cx="378.8" cy="418.7" r="3.2" opacity="0.45"/>
<circle cx="378.3" cy="418" r="3.2" fill="#9a9a9a" stroke="#333" stroke-width=".35"/><circle cx="378.3" cy="418" r="3.2" fill="url(#cg)"/>
<circle cx="430.8" cy="439.1" r="4.1" opacity="0.45"/>
<circle cx="430.3" cy="438.4" r="4.1" fill="#888888" stroke="#333" stroke-width=".35"/><circle cx="430.3" cy="438.4" r="4.1" fill="url(#cg)"/>
<circle cx="401.4" cy="443.7" r="3.5" opacity="0.45"/>
<circle cx="400.9" cy="443" r="3.5" fill="#888888" stroke="#333" stroke-width=".35"/><circle cx="400.9" cy="443" r="3.5" fill="url(#cg)"/>
<circle cx="367.4" cy="439.5" r="4.5" opacity="0.45"/>
<circle cx="366.9" cy="438.8" r="4.5" fill="#7e7e7e" stroke="#333" stroke-width=".35"/><circle cx="366.9" cy="438.8" r="4.5" fill="url(#cg)"/>
<circle cx="426" cy="426.9" r="4.2" opacity="0.45"/>
<circle cx="425.5" cy="426.2" r="4.2" fill="#7e7e7e" stroke="#333" stroke-width=".35"/><circle cx="425.5" cy="426.2" r="4.2" fill="url(#cg)"/>
<circle cx="406.7" cy="403.9" r="3.4" opacity="0.45"/>
<circle cx="406.2" cy="403.2" r="3.4" fill="#929292" stroke="#333" stroke-width=".35"/><circle cx="406.2" cy="403.2" r="3.4" fill="url(#cg)"/>
<circle cx="407.1" cy="393.1" r="4.1" opacity="0.45"/>
<circle cx="406.6" cy="392.4" r="4.1" fill="#888888" stroke="#333" stroke-width=".35"/><circle cx="406.6" cy="392.4" r="4.1" fill="url(#cg)"/>
<circle cx="421.5" cy="437.4" r="3.7" opacity="0.45"/>
<circle cx="421" cy="436.7" r="3.7" fill="#9a9a9a" stroke="#333" stroke-width=".35"/><circle cx="421" cy="436.7" r="3.7" fill="url(#cg)"/>
<circle cx="423.9" cy="417.8" r="3.3" opacity="0.45"/>
<circle cx="423.4" cy="417.1" r="3.3" fill="#9a9a9a" stroke="#333" stroke-width=".35"/><circle cx="423.4" cy="417.1" r="3.3" fill="url(#cg)"/>
<circle cx="401.6" cy="405.2" r="3.7" opacity="0.45"/>
<circle cx="401.1" cy="404.5" r="3.7" fill="#888888" stroke="#333" stroke-width=".35"/><circle cx="401.1" cy="404.5" r="3.7" fill="url(#cg)"/>
<circle cx="432.5" cy="427" r="3.7" opacity="0.45"/>
<circle cx="432" cy="426.3" r="3.7" fill="#888888" stroke="#333" stroke-width=".35"/><circle cx="432" cy="426.3" r="3.7" fill="url(#cg)"/>
<circle cx="420.7" cy="440.4" r="3.6" opacity="0.45"/>
<circle cx="420.2" cy="439.7" r="3.6" fill="#888888" stroke="#333" stroke-width=".35"/><circle cx="420.2" cy="439.7" r="3.6" fill="url(#cg)"/>
<circle cx="438.4" cy="414.2" r="3.8" opacity="0.45"/>
<circle cx="437.9" cy="413.5" r="3.8" fill="#888888" stroke="#333" stroke-width=".35"/><circle cx="437.9" cy="413.5" r="3.8" fill="url(#cg)"/>
<circle cx="365.7" cy="401.7" r="3.4" opacity="0.45"/>
<circle cx="365.2" cy="401" r="3.4" fill="#7e7e7e" stroke="#333" stroke-width=".35"/><circle cx="365.2" cy="401" r="3.4" fill="url(#cg)"/>
<circle cx="438.7" cy="435.5" r="3.9" opacity="0.45"/>
<circle cx="438.2" cy="434.8" r="3.9" fill="#9a9a9a" stroke="#333" stroke-width=".35"/><circle cx="438.2" cy="434.8" r="3.9" fill="url(#cg)"/>
<circle cx="434.2" cy="405.9" r="3.5" opacity="0.45"/>
<circle cx="433.7" cy="405.2" r="3.5" fill="#888888" stroke="#333" stroke-width=".35"/><circle cx="433.7" cy="405.2" r="3.5" fill="url(#cg)"/>
<circle cx="419.4" cy="425.5" r="4.5" opacity="0.45"/>
<circle cx="418.9" cy="424.8" r="4.5" fill="#9a9a9a" stroke="#333" stroke-width=".35"/><circle cx="418.9" cy="424.8" r="4.5" fill="url(#cg)"/>
<circle cx="409.7" cy="407" r="4.6" opacity="0.45"/>
<circle cx="409.2" cy="406.3" r="4.6" fill="#929292" stroke="#333" stroke-width=".35"/><circle cx="409.2" cy="406.3" r="4.6" fill="url(#cg)"/>
<circle cx="415.3" cy="392.7" r="3.5" opacity="0.45"/>
<circle cx="414.8" cy="392" r="3.5" fill="#929292" stroke="#333" stroke-width=".35"/><circle cx="414.8" cy="392" r="3.5" fill="url(#cg)"/>
<circle cx="412.2" cy="428.3" r="4.2" opacity="0.45"/>
<circle cx="411.7" cy="427.6" r="4.2" fill="#9a9a9a" stroke="#333" stroke-width=".35"/><circle cx="411.7" cy="427.6" r="4.2" fill="url(#cg)"/>
<circle cx="427.7" cy="398.4" r="3.3" opacity="0.45"/>
<circle cx="427.2" cy="397.7" r="3.3" fill="#888888" stroke="#333" stroke-width=".35"/><circle cx="427.2" cy="397.7" r="3.3" fill="url(#cg)"/>
<circle cx="400.9" cy="418.2" r="4.3" opacity="0.45"/>
<circle cx="400.4" cy="417.5" r="4.3" fill="#929292" stroke="#333" stroke-width=".35"/><circle cx="400.4" cy="417.5" r="4.3" fill="url(#cg)"/>
<circle cx="366.6" cy="431.9" r="3.6" opacity="0.45"/>
<circle cx="366.1" cy="431.2" r="3.6" fill="#7e7e7e" stroke="#333" stroke-width=".35"/><circle cx="366.1" cy="431.2" r="3.6" fill="url(#cg)"/>
<circle cx="378.9" cy="405.2" r="4" opacity="0.45"/>
<circle cx="378.4" cy="404.5" r="4" fill="#9a9a9a" stroke="#333" stroke-width=".35"/><circle cx="378.4" cy="404.5" r="4" fill="url(#cg)"/>
<circle cx="432" cy="405.2" r="4.2" opacity="0.45"/>
<circle cx="431.5" cy="404.5" r="4.2" fill="#888888" stroke="#333" stroke-width=".35"/><circle cx="431.5" cy="404.5" r="4.2" fill="url(#cg)"/>
<circle cx="426.6" cy="394.6" r="3.3" opacity="0.45"/>
<circle cx="426.1" cy="393.9" r="3.3" fill="#888888" stroke="#333" stroke-width=".35"/><circle cx="426.1" cy="393.9" r="3.3" fill="url(#cg)"/>
<circle cx="436.7" cy="403.8" r="4.3" opacity="0.45"/>
<circle cx="436.2" cy="403.1" r="4.3" fill="#929292" stroke="#333" stroke-width=".35"/><circle cx="436.2" cy="403.1" r="4.3" fill="url(#cg)"/>
<circle cx="409.4" cy="395.4" r="3.9" opacity="0.45"/>
<circle cx="408.9" cy="394.7" r="3.9" fill="#888888" stroke="#333" stroke-width=".35"/><circle cx="408.9" cy="394.7" r="3.9" fill="url(#cg)"/>
<circle cx="363" cy="438.4" r="4" opacity="0.45"/>
<circle cx="362.5" cy="437.7" r="4" fill="#929292" stroke="#333" stroke-width=".35"/><circle cx="362.5" cy="437.7" r="4" fill="url(#cg)"/>
<circle cx="416.2" cy="402.6" r="3.7" opacity="0.45"/>
<circle cx="415.7" cy="401.9" r="3.7" fill="#7e7e7e" stroke="#333" stroke-width=".35"/><circle cx="415.7" cy="401.9" r="3.7" fill="url(#cg)"/>
<circle cx="369.3" cy="428.5" r="3.9" opacity="0.45"/>
<circle cx="368.8" cy="427.8" r="3.9" fill="#888888" stroke="#333" stroke-width=".35"/><circle cx="368.8" cy="427.8" r="3.9" fill="url(#cg)"/>
<circle cx="421" cy="436.3" r="3.6" opacity="0.45"/>
<circle cx="420.5" cy="435.6" r="3.6" fill="#888888" stroke="#333" stroke-width=".35"/><circle cx="420.5" cy="435.6" r="3.6" fill="url(#cg)"/>
<circle cx="393.1" cy="397.5" r="3.2" opacity="0.45"/>
<circle cx="392.6" cy="396.8" r="3.2" fill="#929292" stroke="#333" stroke-width=".35"/><circle cx="392.6" cy="396.8" r="3.2" fill="url(#cg)"/>
<circle cx="378.9" cy="398.2" r="4.5" opacity="0.45"/>
<circle cx="378.4" cy="397.5" r="4.5" fill="#888888" stroke="#333" stroke-width=".35"/><circle cx="378.4" cy="397.5" r="4.5" fill="url(#cg)"/>
<circle cx="387.9" cy="407.8" r="3.7" opacity="0.45"/>
<circle cx="387.4" cy="407.1" r="3.7" fill="#929292" stroke="#333" stroke-width=".35"/><circle cx="387.4" cy="407.1" r="3.7" fill="url(#cg)"/>
<circle cx="367.9" cy="430.1" r="4" opacity="0.45"/>
<circle cx="367.4" cy="429.4" r="4" fill="#9a9a9a" stroke="#333" stroke-width=".35"/><circle cx="367.4" cy="429.4" r="4" fill="url(#cg)"/>
<circle cx="435" cy="433.2" r="4" opacity="0.45"/>
<circle cx="434.5" cy="432.5" r="4" fill="#888888" stroke="#333" stroke-width=".35"/><circle cx="434.5" cy="432.5" r="4" fill="url(#cg)"/>
<circle cx="398.7" cy="419.8" r="4.3" opacity="0.45"/>
<circle cx="398.2" cy="419.1" r="4.3" fill="#9a9a9a" stroke="#333" stroke-width=".35"/><circle cx="398.2" cy="419.1" r="4.3" fill="url(#cg)"/>
<circle cx="423.4" cy="411.5" r="3.8" opacity="0.45"/>
<circle cx="422.9" cy="410.8" r="3.8" fill="#9a9a9a" stroke="#333" stroke-width=".35"/><circle cx="422.9" cy="410.8" r="3.8" fill="url(#cg)"/>
<circle cx="391.4" cy="394.3" r="3.5" opacity="0.45"/>
<circle cx="390.9" cy="393.6" r="3.5" fill="#929292" stroke="#333" stroke-width=".35"/><circle cx="390.9" cy="393.6" r="3.5" fill="url(#cg)"/>
<circle cx="426.2" cy="422.1" r="4" opacity="0.45"/>
<circle cx="425.7" cy="421.4" r="4" fill="#9a9a9a" stroke="#333" stroke-width=".35"/><circle cx="425.7" cy="421.4" r="4" fill="url(#cg)"/>
<circle cx="394.6" cy="419" r="4.3" opacity="0.45"/>
<circle cx="394.1" cy="418.3" r="4.3" fill="#9a9a9a" stroke="#333" stroke-width=".35"/><circle cx="394.1" cy="418.3" r="4.3" fill="url(#cg)"/>
<circle cx="418.9" cy="438.2" r="4" opacity="0.45"/>
<circle cx="418.4" cy="437.5" r="4" fill="#929292" stroke="#333" stroke-width=".35"/><circle cx="418.4" cy="437.5" r="4" fill="url(#cg)"/>
<circle cx="361.5" cy="442.6" r="3.3" opacity="0.45"/>
<circle cx="361" cy="441.9" r="3.3" fill="#7e7e7e" stroke="#333" stroke-width=".35"/><circle cx="361" cy="441.9" r="3.3" fill="url(#cg)"/>
<circle cx="431.4" cy="392.3" r="3.7" opacity="0.45"/>
<circle cx="430.9" cy="391.6" r="3.7" fill="#9a9a9a" stroke="#333" stroke-width=".35"/><circle cx="430.9" cy="391.6" r="3.7" fill="url(#cg)"/>
<circle cx="391.4" cy="423.3" r="3.8" opacity="0.45"/>
<circle cx="390.9" cy="422.6" r="3.8" fill="#929292" stroke="#333" stroke-width=".35"/><circle cx="390.9" cy="422.6" r="3.8" fill="url(#cg)"/>
<circle cx="393.9" cy="420.7" r="3.3" opacity="0.45"/>
<circle cx="393.4" cy="420" r="3.3" fill="#9a9a9a" stroke="#333" stroke-width=".35"/><circle cx="393.4" cy="420" r="3.3" fill="url(#cg)"/>
<circle cx="377.1" cy="425.8" r="3.5" opacity="0.45"/>
<circle cx="376.6" cy="425.1" r="3.5" fill="#9a9a9a" stroke="#333" stroke-width=".35"/><circle cx="376.6" cy="425.1" r="3.5" fill="url(#cg)"/>
<circle cx="375.7" cy="392" r="3.2" opacity="0.45"/>
<circle cx="375.2" cy="391.3" r="3.2" fill="#9a9a9a" stroke="#333" stroke-width=".35"/><circle cx="375.2" cy="391.3" r="3.2" fill="url(#cg)"/>
<circle cx="391.5" cy="437.3" r="3.4" opacity="0.45"/>
<circle cx="391" cy="436.6" r="3.4" fill="#9a9a9a" stroke="#333" stroke-width=".35"/><circle cx="391" cy="436.6" r="3.4" fill="url(#cg)"/>
<circle cx="366.2" cy="442.4" r="4" opacity="0.45"/>
<circle cx="365.7" cy="441.7" r="4" fill="#9a9a9a" stroke="#333" stroke-width=".35"/><circle cx="365.7" cy="441.7" r="4" fill="url(#cg)"/>
<circle cx="365.8" cy="418.9" r="4.2" opacity="0.45"/>
<circle cx="365.3" cy="418.2" r="4.2" fill="#888888" stroke="#333" stroke-width=".35"/><circle cx="365.3" cy="418.2" r="4.2" fill="url(#cg)"/>
<circle cx="364.1" cy="433.2" r="4.1" opacity="0.45"/>
<circle cx="363.6" cy="432.5" r="4.1" fill="#929292" stroke="#333" stroke-width=".35"/><circle cx="363.6" cy="432.5" r="4.1" fill="url(#cg)"/>
<circle cx="417.3" cy="391.5" r="4.2" opacity="0.45"/>
<circle cx="416.8" cy="390.8" r="4.2" fill="#929292" stroke="#333" stroke-width=".35"/><circle cx="416.8" cy="390.8" r="4.2" fill="url(#cg)"/>
<rect x="360.80" y="391.30" width="76.20" height="50.10" filter="url(#t3)" opacity="0.15" style="mix-blend-mode:soft-light"/>
</g>
<rect x="360.80" y="391.30" width="76.20" height="50.10" fill="none" stroke="#0a0a0a" stroke-width="1"/>
<text x="365.60" y="400.10" font-size="7.1" font-style="italic" fill="#fff" word-spacing="1.4">S. aureus</text>
<text x="366.20" y="439.30" font-size="7.0" fill="#fff">AMP 13</text>
<text x="432.70" y="433.90" font-size="6.8" fill="#fff" text-anchor="end">1 µm</text>
<rect x="418.00" y="436.80" width="10.00" height="1.6" fill="#fff"/>
<rect x="441.00" y="392.10" width="77.80" height="51.70" fill="#8c8c8c" filter="url(#sh)"/>
<clipPath id="c9"><rect x="440.40" y="391.30" width="76.20" height="50.10"/></clipPath>
<g clip-path="url(#c9)">
<rect x="440.40" y="391.30" width="76.20" height="50.10" fill="#555555"/>
<rect x="440.40" y="391.30" width="76.20" height="50.10" filter="url(#t2)" opacity="0.3" style="mix-blend-mode:overlay"/>
<rect x="440.40" y="391.30" width="76.20" height="50.10" filter="url(#t3)" opacity="0.25" style="mix-blend-mode:overlay"/>
<ellipse cx="504.40" cy="419.30" rx="16.00" ry="26.00" fill="#7a7a7a" opacity="0.7" transform="rotate(0 504.40 419.30)"/>
<line x1="489.3" y1="439.8" x2="485.6" y2="445.8" stroke="#9a9a9a" stroke-width="0.5" opacity="0.7"/>
<line x1="515.1" y1="404.3" x2="515.3" y2="403.0" stroke="#9a9a9a" stroke-width="0.5" opacity="0.7"/>
<line x1="500.0" y1="430.9" x2="503.9" y2="427.9" stroke="#9a9a9a" stroke-width="0.5" opacity="0.7"/>
<line x1="503.7" y1="425.7" x2="504.9" y2="421.1" stroke="#9a9a9a" stroke-width="0.5" opacity="0.7"/>
<line x1="499.4" y1="416.0" x2="504.5" y2="419.9" stroke="#9a9a9a" stroke-width="0.5" opacity="0.7"/>
<line x1="507.4" y1="405.3" x2="512.7" y2="402.1" stroke="#9a9a9a" stroke-width="0.5" opacity="0.7"/>
<line x1="497.9" y1="399.2" x2="499.0" y2="402.7" stroke="#9a9a9a" stroke-width="0.5" opacity="0.7"/>
<line x1="508.2" y1="432.7" x2="510.6" y2="434.6" stroke="#9a9a9a" stroke-width="0.5" opacity="0.7"/>
<line x1="495.5" y1="439.3" x2="501.4" y2="442.1" stroke="#9a9a9a" stroke-width="0.5" opacity="0.7"/>
<line x1="516.5" y1="435.6" x2="521.0" y2="438.6" stroke="#9a9a9a" stroke-width="0.5" opacity="0.7"/>
<line x1="511.3" y1="425.9" x2="506.8" y2="430.0" stroke="#9a9a9a" stroke-width="0.5" opacity="0.7"/>
<line x1="498.3" y1="423.5" x2="503.1" y2="423.5" stroke="#9a9a9a" stroke-width="0.5" opacity="0.7"/>
<line x1="496.0" y1="419.0" x2="500.5" y2="423.1" stroke="#9a9a9a" stroke-width="0.5" opacity="0.7"/>
<line x1="516.4" y1="436.8" x2="520.1" y2="436.6" stroke="#9a9a9a" stroke-width="0.5" opacity="0.7"/>
<line x1="493.6" y1="438.0" x2="488.0" y2="443.4" stroke="#9a9a9a" stroke-width="0.5" opacity="0.7"/>
<line x1="506.4" y1="403.1" x2="502.4" y2="405.7" stroke="#9a9a9a" stroke-width="0.5" opacity="0.7"/>
<line x1="490.4" y1="412.9" x2="485.7" y2="408.5" stroke="#9a9a9a" stroke-width="0.5" opacity="0.7"/>
<line x1="495.5" y1="424.0" x2="489.8" y2="428.2" stroke="#9a9a9a" stroke-width="0.5" opacity="0.7"/>
<line x1="506.2" y1="404.2" x2="508.7" y2="399.0" stroke="#9a9a9a" stroke-width="0.5" opacity="0.7"/>
<line x1="495.5" y1="416.5" x2="499.8" y2="418.6" stroke="#9a9a9a" stroke-width="0.5" opacity="0.7"/>
<line x1="489.5" y1="439.3" x2="485.4" y2="435.6" stroke="#9a9a9a" stroke-width="0.5" opacity="0.7"/>
<line x1="504.7" y1="394.8" x2="503.6" y2="391.4" stroke="#9a9a9a" stroke-width="0.5" opacity="0.7"/>
<line x1="501.1" y1="408.8" x2="500.2" y2="406.9" stroke="#9a9a9a" stroke-width="0.5" opacity="0.7"/>
<line x1="501.9" y1="424.2" x2="501.0" y2="424.6" stroke="#9a9a9a" stroke-width="0.5" opacity="0.7"/>
<line x1="496.8" y1="411.2" x2="491.7" y2="410.7" stroke="#9a9a9a" stroke-width="0.5" opacity="0.7"/>
<line x1="502.6" y1="399.3" x2="500.4" y2="400.0" stroke="#9a9a9a" stroke-width="0.5" opacity="0.7"/>
<line x1="502.1" y1="422.9" x2="499.2" y2="426.8" stroke="#9a9a9a" stroke-width="0.5" opacity="0.7"/>
<line x1="492.6" y1="437.4" x2="490.7" y2="434.6" stroke="#9a9a9a" stroke-width="0.5" opacity="0.7"/>
<line x1="497.9" y1="438.7" x2="500.2" y2="444.1" stroke="#9a9a9a" stroke-width="0.5" opacity="0.7"/>
<line x1="516.3" y1="414.6" x2="520.0" y2="409.1" stroke="#9a9a9a" stroke-width="0.5" opacity="0.7"/>
<line x1="511.3" y1="404.1" x2="509.3" y2="406.2" stroke="#9a9a9a" stroke-width="0.5" opacity="0.7"/>
<line x1="502.7" y1="418.9" x2="500.6" y2="417.7" stroke="#9a9a9a" stroke-width="0.5" opacity="0.7"/>
<line x1="514.3" y1="392.6" x2="508.6" y2="394.3" stroke="#9a9a9a" stroke-width="0.5" opacity="0.7"/>
<line x1="490.7" y1="404.1" x2="488.0" y2="398.5" stroke="#9a9a9a" stroke-width="0.5" opacity="0.7"/>
<line x1="499.4" y1="440.1" x2="503.7" y2="434.6" stroke="#9a9a9a" stroke-width="0.5" opacity="0.7"/>
<line x1="516.3" y1="436.5" x2="520.6" y2="432.6" stroke="#9a9a9a" stroke-width="0.5" opacity="0.7"/>
<line x1="497.4" y1="399.3" x2="500.2" y2="402.0" stroke="#9a9a9a" stroke-width="0.5" opacity="0.7"/>
<line x1="496.2" y1="439.4" x2="498.9" y2="441.9" stroke="#9a9a9a" stroke-width="0.5" opacity="0.7"/>
<line x1="500.3" y1="434.2" x2="500.9" y2="437.6" stroke="#9a9a9a" stroke-width="0.5" opacity="0.7"/>
<line x1="514.2" y1="394.8" x2="508.8" y2="391.7" stroke="#9a9a9a" stroke-width="0.5" opacity="0.7"/>
<line x1="514.4" y1="407.8" x2="512.9" y2="408.4" stroke="#9a9a9a" stroke-width="0.5" opacity="0.7"/>
<line x1="503.9" y1="413.8" x2="507.7" y2="413.4" stroke="#9a9a9a" stroke-width="0.5" opacity="0.7"/>
<line x1="510.0" y1="398.1" x2="513.0" y2="397.7" stroke="#9a9a9a" stroke-width="0.5" opacity="0.7"/>
<line x1="502.7" y1="398.1" x2="507.2" y2="393.8" stroke="#9a9a9a" stroke-width="0.5" opacity="0.7"/>
<line x1="509.9" y1="417.4" x2="504.1" y2="422.9" stroke="#9a9a9a" stroke-width="0.5" opacity="0.7"/>
<line x1="509.5" y1="396.4" x2="505.7" y2="401.6" stroke="#9a9a9a" stroke-width="0.5" opacity="0.7"/>
<line x1="501.2" y1="419.8" x2="500.2" y2="413.9" stroke="#9a9a9a" stroke-width="0.5" opacity="0.7"/>
<line x1="490.5" y1="404.8" x2="486.0" y2="403.7" stroke="#9a9a9a" stroke-width="0.5" opacity="0.7"/>
<line x1="499.4" y1="429.5" x2="493.8" y2="431.5" stroke="#9a9a9a" stroke-width="0.5" opacity="0.7"/>
<line x1="495.4" y1="422.7" x2="493.5" y2="417.6" stroke="#9a9a9a" stroke-width="0.5" opacity="0.7"/>
<ellipse cx="446.40" cy="427.30" rx="10.00" ry="16.00" fill="#3a3a3a" opacity="0.85" transform="rotate(0 446.40 427.30)"/>
<circle cx="467.1" cy="409.1" r="3.4" opacity="0.5"/>
<circle cx="466.6" cy="408.4" r="3.4" fill="#808080" stroke="#2a2a2a" stroke-width=".35"/><circle cx="466.6" cy="408.4" r="3.4" fill="url(#cg)"/>
<circle cx="470.4" cy="417.8" r="3.8" opacity="0.5"/>
<circle cx="469.9" cy="417.1" r="3.8" fill="#808080" stroke="#2a2a2a" stroke-width=".35"/><circle cx="469.9" cy="417.1" r="3.8" fill="url(#cg)"/>
<circle cx="467.1" cy="420.7" r="3.2" opacity="0.5"/>
<circle cx="466.6" cy="420" r="3.2" fill="#8a8a8a" stroke="#2a2a2a" stroke-width=".35"/><circle cx="466.6" cy="420" r="3.2" fill="url(#cg)"/>
<circle cx="475.3" cy="423.3" r="3.1" opacity="0.5"/>
<circle cx="474.8" cy="422.6" r="3.1" fill="#808080" stroke="#2a2a2a" stroke-width=".35"/><circle cx="474.8" cy="422.6" r="3.1" fill="url(#cg)"/>
<circle cx="451.8" cy="399.6" r="3.4" opacity="0.5"/>
<circle cx="451.3" cy="398.9" r="3.4" fill="#8a8a8a" stroke="#2a2a2a" stroke-width=".35"/><circle cx="451.3" cy="398.9" r="3.4" fill="url(#cg)"/>
<circle cx="484.2" cy="437.2" r="3.5" opacity="0.5"/>
<circle cx="483.7" cy="436.5" r="3.5" fill="#808080" stroke="#2a2a2a" stroke-width=".35"/><circle cx="483.7" cy="436.5" r="3.5" fill="url(#cg)"/>
<circle cx="490.3" cy="435.5" r="3.8" opacity="0.5"/>
<circle cx="489.8" cy="434.8" r="3.8" fill="#808080" stroke="#2a2a2a" stroke-width=".35"/><circle cx="489.8" cy="434.8" r="3.8" fill="url(#cg)"/>
<circle cx="444" cy="404.2" r="3.1" opacity="0.5"/>
<circle cx="443.5" cy="403.5" r="3.1" fill="#929292" stroke="#2a2a2a" stroke-width=".35"/><circle cx="443.5" cy="403.5" r="3.1" fill="url(#cg)"/>
<circle cx="480" cy="424.1" r="3.8" opacity="0.5"/>
<circle cx="479.5" cy="423.4" r="3.8" fill="#8a8a8a" stroke="#2a2a2a" stroke-width=".35"/><circle cx="479.5" cy="423.4" r="3.8" fill="url(#cg)"/>
<circle cx="478.1" cy="430.1" r="3.4" opacity="0.5"/>
<circle cx="477.6" cy="429.4" r="3.4" fill="#808080" stroke="#2a2a2a" stroke-width=".35"/><circle cx="477.6" cy="429.4" r="3.4" fill="url(#cg)"/>
<circle cx="453.3" cy="397" r="3.1" opacity="0.5"/>
<circle cx="452.8" cy="396.3" r="3.1" fill="#929292" stroke="#2a2a2a" stroke-width=".35"/><circle cx="452.8" cy="396.3" r="3.1" fill="url(#cg)"/>
<circle cx="488.1" cy="424.7" r="3.3" opacity="0.5"/>
<circle cx="487.6" cy="424" r="3.3" fill="#808080" stroke="#2a2a2a" stroke-width=".35"/><circle cx="487.6" cy="424" r="3.3" fill="url(#cg)"/>
<circle cx="448" cy="395.9" r="3.6" opacity="0.5"/>
<circle cx="447.5" cy="395.2" r="3.6" fill="#929292" stroke="#2a2a2a" stroke-width=".35"/><circle cx="447.5" cy="395.2" r="3.6" fill="url(#cg)"/>
<circle cx="478.2" cy="431.3" r="3.6" opacity="0.5"/>
<circle cx="477.7" cy="430.6" r="3.6" fill="#8a8a8a" stroke="#2a2a2a" stroke-width=".35"/><circle cx="477.7" cy="430.6" r="3.6" fill="url(#cg)"/>
<circle cx="461.3" cy="402.4" r="3.9" opacity="0.5"/>
<circle cx="460.8" cy="401.7" r="3.9" fill="#808080" stroke="#2a2a2a" stroke-width=".35"/><circle cx="460.8" cy="401.7" r="3.9" fill="url(#cg)"/>
<circle cx="474.9" cy="428.3" r="3.6" opacity="0.5"/>
<circle cx="474.4" cy="427.6" r="3.6" fill="#808080" stroke="#2a2a2a" stroke-width=".35"/><circle cx="474.4" cy="427.6" r="3.6" fill="url(#cg)"/>
<circle cx="487.2" cy="426.2" r="3.2" opacity="0.5"/>
<circle cx="486.7" cy="425.5" r="3.2" fill="#8a8a8a" stroke="#2a2a2a" stroke-width=".35"/><circle cx="486.7" cy="425.5" r="3.2" fill="url(#cg)"/>
<circle cx="493.5" cy="433" r="3.6" opacity="0.5"/>
<circle cx="493" cy="432.3" r="3.6" fill="#8a8a8a" stroke="#2a2a2a" stroke-width=".35"/><circle cx="493" cy="432.3" r="3.6" fill="url(#cg)"/>
<circle cx="475.2" cy="411" r="3.1" opacity="0.5"/>
<circle cx="474.7" cy="410.3" r="3.1" fill="#929292" stroke="#2a2a2a" stroke-width=".35"/><circle cx="474.7" cy="410.3" r="3.1" fill="url(#cg)"/>
<circle cx="462.2" cy="409.4" r="3.3" opacity="0.5"/>
<circle cx="461.7" cy="408.7" r="3.3" fill="#929292" stroke="#2a2a2a" stroke-width=".35"/><circle cx="461.7" cy="408.7" r="3.3" fill="url(#cg)"/>
<circle cx="481.6" cy="423.7" r="3.6" opacity="0.5"/>
<circle cx="481.1" cy="423" r="3.6" fill="#929292" stroke="#2a2a2a" stroke-width=".35"/><circle cx="481.1" cy="423" r="3.6" fill="url(#cg)"/>
<circle cx="461.3" cy="407.6" r="3.2" opacity="0.5"/>
<circle cx="460.8" cy="406.9" r="3.2" fill="#929292" stroke="#2a2a2a" stroke-width=".35"/><circle cx="460.8" cy="406.9" r="3.2" fill="url(#cg)"/>
<circle cx="462.6" cy="415.1" r="3.1" opacity="0.5"/>
<circle cx="462.1" cy="414.4" r="3.1" fill="#8a8a8a" stroke="#2a2a2a" stroke-width=".35"/><circle cx="462.1" cy="414.4" r="3.1" fill="url(#cg)"/>
<circle cx="473.9" cy="418.6" r="3.5" opacity="0.5"/>
<circle cx="473.4" cy="417.9" r="3.5" fill="#8a8a8a" stroke="#2a2a2a" stroke-width=".35"/><circle cx="473.4" cy="417.9" r="3.5" fill="url(#cg)"/>
<circle cx="472" cy="426.4" r="3.8" opacity="0.5"/>
<circle cx="471.5" cy="425.7" r="3.8" fill="#929292" stroke="#2a2a2a" stroke-width=".35"/><circle cx="471.5" cy="425.7" r="3.8" fill="url(#cg)"/>
<circle cx="477.8" cy="419.5" r="3.8" opacity="0.5"/>
<circle cx="477.3" cy="418.8" r="3.8" fill="#8a8a8a" stroke="#2a2a2a" stroke-width=".35"/><circle cx="477.3" cy="418.8" r="3.8" fill="url(#cg)"/>
<circle cx="473.2" cy="424.9" r="3.3" opacity="0.5"/>
<circle cx="472.7" cy="424.2" r="3.3" fill="#8a8a8a" stroke="#2a2a2a" stroke-width=".35"/><circle cx="472.7" cy="424.2" r="3.3" fill="url(#cg)"/>
<circle cx="467.2" cy="420.6" r="3.8" opacity="0.5"/>
<circle cx="466.7" cy="419.9" r="3.8" fill="#8a8a8a" stroke="#2a2a2a" stroke-width=".35"/><circle cx="466.7" cy="419.9" r="3.8" fill="url(#cg)"/>
<circle cx="451" cy="392.4" r="3" opacity="0.5"/>
<circle cx="450.5" cy="391.7" r="3" fill="#8a8a8a" stroke="#2a2a2a" stroke-width=".35"/><circle cx="450.5" cy="391.7" r="3" fill="url(#cg)"/>
<circle cx="467.1" cy="416.2" r="3.3" opacity="0.5"/>
<circle cx="466.6" cy="415.5" r="3.3" fill="#808080" stroke="#2a2a2a" stroke-width=".35"/><circle cx="466.6" cy="415.5" r="3.3" fill="url(#cg)"/>
<circle cx="482.6" cy="419.2" r="3.1" opacity="0.5"/>
<circle cx="482.1" cy="418.5" r="3.1" fill="#8a8a8a" stroke="#2a2a2a" stroke-width=".35"/><circle cx="482.1" cy="418.5" r="3.1" fill="url(#cg)"/>
<circle cx="458.7" cy="419.5" r="3.9" opacity="0.5"/>
<circle cx="458.2" cy="418.8" r="3.9" fill="#8a8a8a" stroke="#2a2a2a" stroke-width=".35"/><circle cx="458.2" cy="418.8" r="3.9" fill="url(#cg)"/>
<circle cx="474.4" cy="411.6" r="3.7" opacity="0.5"/>
<circle cx="473.9" cy="410.9" r="3.7" fill="#808080" stroke="#2a2a2a" stroke-width=".35"/><circle cx="473.9" cy="410.9" r="3.7" fill="url(#cg)"/>
<circle cx="476" cy="435.5" r="3.7" opacity="0.5"/>
<circle cx="475.5" cy="434.8" r="3.7" fill="#808080" stroke="#2a2a2a" stroke-width=".35"/><circle cx="475.5" cy="434.8" r="3.7" fill="url(#cg)"/>
<circle cx="457.7" cy="419.1" r="3.2" opacity="0.5"/>
<circle cx="457.2" cy="418.4" r="3.2" fill="#8a8a8a" stroke="#2a2a2a" stroke-width=".35"/><circle cx="457.2" cy="418.4" r="3.2" fill="url(#cg)"/>
<circle cx="477.5" cy="430.9" r="3.3" opacity="0.5"/>
<circle cx="477" cy="430.2" r="3.3" fill="#929292" stroke="#2a2a2a" stroke-width=".35"/><circle cx="477" cy="430.2" r="3.3" fill="url(#cg)"/>
<circle cx="462.2" cy="413.7" r="3.2" opacity="0.5"/>
<circle cx="461.7" cy="413" r="3.2" fill="#8a8a8a" stroke="#2a2a2a" stroke-width=".35"/><circle cx="461.7" cy="413" r="3.2" fill="url(#cg)"/>
<circle cx="485.9" cy="439.6" r="3.2" opacity="0.5"/>
<circle cx="485.4" cy="438.9" r="3.2" fill="#929292" stroke="#2a2a2a" stroke-width=".35"/><circle cx="485.4" cy="438.9" r="3.2" fill="url(#cg)"/>
<circle cx="483.6" cy="428.4" r="3.6" opacity="0.5"/>
<circle cx="483.1" cy="427.7" r="3.6" fill="#929292" stroke="#2a2a2a" stroke-width=".35"/><circle cx="483.1" cy="427.7" r="3.6" fill="url(#cg)"/>
<circle cx="482.5" cy="431.7" r="3.2" opacity="0.5"/>
<circle cx="482" cy="431" r="3.2" fill="#929292" stroke="#2a2a2a" stroke-width=".35"/><circle cx="482" cy="431" r="3.2" fill="url(#cg)"/>
<circle cx="460.4" cy="413.7" r="3.7" opacity="0.5"/>
<circle cx="459.9" cy="413" r="3.7" fill="#8a8a8a" stroke="#2a2a2a" stroke-width=".35"/><circle cx="459.9" cy="413" r="3.7" fill="url(#cg)"/>
<circle cx="480.6" cy="420.7" r="3.6" opacity="0.5"/>
<circle cx="480.1" cy="420" r="3.6" fill="#929292" stroke="#2a2a2a" stroke-width=".35"/><circle cx="480.1" cy="420" r="3.6" fill="url(#cg)"/>
<circle cx="458.4" cy="398.6" r="3.6" opacity="0.5"/>
<circle cx="457.9" cy="397.9" r="3.6" fill="#929292" stroke="#2a2a2a" stroke-width=".35"/><circle cx="457.9" cy="397.9" r="3.6" fill="url(#cg)"/>
<circle cx="460.8" cy="396.9" r="3.5" opacity="0.5"/>
<circle cx="460.3" cy="396.2" r="3.5" fill="#929292" stroke="#2a2a2a" stroke-width=".35"/><circle cx="460.3" cy="396.2" r="3.5" fill="url(#cg)"/>
<circle cx="448" cy="400.9" r="3.1" opacity="0.5"/>
<circle cx="447.5" cy="400.2" r="3.1" fill="#808080" stroke="#2a2a2a" stroke-width=".35"/><circle cx="447.5" cy="400.2" r="3.1" fill="url(#cg)"/>
<circle cx="452.7" cy="398" r="3.9" opacity="0.5"/>
<circle cx="452.2" cy="397.3" r="3.9" fill="#929292" stroke="#2a2a2a" stroke-width=".35"/><circle cx="452.2" cy="397.3" r="3.9" fill="url(#cg)"/>
<circle cx="483.7" cy="430.4" r="3.3" opacity="0.5"/>
<circle cx="483.2" cy="429.7" r="3.3" fill="#808080" stroke="#2a2a2a" stroke-width=".35"/><circle cx="483.2" cy="429.7" r="3.3" fill="url(#cg)"/>
<circle cx="466.5" cy="418.5" r="3.5" opacity="0.5"/>
<circle cx="466" cy="417.8" r="3.5" fill="#808080" stroke="#2a2a2a" stroke-width=".35"/><circle cx="466" cy="417.8" r="3.5" fill="url(#cg)"/>
<circle cx="450.5" cy="405.6" r="3.6" opacity="0.5"/>
<circle cx="450" cy="404.9" r="3.6" fill="#8a8a8a" stroke="#2a2a2a" stroke-width=".35"/><circle cx="450" cy="404.9" r="3.6" fill="url(#cg)"/>
<circle cx="467" cy="418.9" r="3.1" opacity="0.5"/>
<circle cx="466.5" cy="418.2" r="3.1" fill="#8a8a8a" stroke="#2a2a2a" stroke-width=".35"/><circle cx="466.5" cy="418.2" r="3.1" fill="url(#cg)"/>
<circle cx="468.4" cy="422.6" r="3.2" opacity="0.5"/>
<circle cx="467.9" cy="421.9" r="3.2" fill="#808080" stroke="#2a2a2a" stroke-width=".35"/><circle cx="467.9" cy="421.9" r="3.2" fill="url(#cg)"/>
<circle cx="449.3" cy="400.2" r="3.4" opacity="0.5"/>
<circle cx="448.8" cy="399.5" r="3.4" fill="#929292" stroke="#2a2a2a" stroke-width=".35"/><circle cx="448.8" cy="399.5" r="3.4" fill="url(#cg)"/>
<circle cx="463.9" cy="406" r="3.1" opacity="0.5"/>
<circle cx="463.4" cy="405.3" r="3.1" fill="#929292" stroke="#2a2a2a" stroke-width=".35"/><circle cx="463.4" cy="405.3" r="3.1" fill="url(#cg)"/>
<circle cx="465.6" cy="413.6" r="3.3" opacity="0.5"/>
<circle cx="465.1" cy="412.9" r="3.3" fill="#808080" stroke="#2a2a2a" stroke-width=".35"/><circle cx="465.1" cy="412.9" r="3.3" fill="url(#cg)"/>
<circle cx="473.7" cy="422.8" r="3.6" opacity="0.5"/>
<circle cx="473.2" cy="422.1" r="3.6" fill="#808080" stroke="#2a2a2a" stroke-width=".35"/><circle cx="473.2" cy="422.1" r="3.6" fill="url(#cg)"/>
<circle cx="456.7" cy="399.3" r="3.2" opacity="0.5"/>
<circle cx="456.2" cy="398.6" r="3.2" fill="#8a8a8a" stroke="#2a2a2a" stroke-width=".35"/><circle cx="456.2" cy="398.6" r="3.2" fill="url(#cg)"/>
<circle cx="459.6" cy="392.1" r="3.1" opacity="0.5"/>
<circle cx="459.1" cy="391.4" r="3.1" fill="#929292" stroke="#2a2a2a" stroke-width=".35"/><circle cx="459.1" cy="391.4" r="3.1" fill="url(#cg)"/>
<circle cx="457.1" cy="396.9" r="3.3" opacity="0.5"/>
<circle cx="456.6" cy="396.2" r="3.3" fill="#808080" stroke="#2a2a2a" stroke-width=".35"/><circle cx="456.6" cy="396.2" r="3.3" fill="url(#cg)"/>
<circle cx="484.5" cy="423.7" r="3.2" opacity="0.5"/>
<circle cx="484" cy="423" r="3.2" fill="#929292" stroke="#2a2a2a" stroke-width=".35"/><circle cx="484" cy="423" r="3.2" fill="url(#cg)"/>
<circle cx="472.3" cy="406.6" r="3.8" opacity="0.5"/>
<circle cx="471.8" cy="405.9" r="3.8" fill="#8a8a8a" stroke="#2a2a2a" stroke-width=".35"/><circle cx="471.8" cy="405.9" r="3.8" fill="url(#cg)"/>
<circle cx="469.2" cy="398.2" r="3.7" opacity="0.5"/>
<circle cx="468.7" cy="397.5" r="3.7" fill="#929292" stroke="#2a2a2a" stroke-width=".35"/><circle cx="468.7" cy="397.5" r="3.7" fill="url(#cg)"/>
<circle cx="461.3" cy="397.9" r="3" opacity="0.5"/>
<circle cx="460.8" cy="397.2" r="3" fill="#808080" stroke="#2a2a2a" stroke-width=".35"/><circle cx="460.8" cy="397.2" r="3" fill="url(#cg)"/>
<circle cx="469.6" cy="399.8" r="3.1" opacity="0.5"/>
<circle cx="469.1" cy="399.1" r="3.1" fill="#8a8a8a" stroke="#2a2a2a" stroke-width=".35"/><circle cx="469.1" cy="399.1" r="3.1" fill="url(#cg)"/>
<circle cx="459.5" cy="394.8" r="3" opacity="0.5"/>
<circle cx="459" cy="394.1" r="3" fill="#808080" stroke="#2a2a2a" stroke-width=".35"/><circle cx="459" cy="394.1" r="3" fill="url(#cg)"/>
<circle cx="467.7" cy="396.1" r="3.6" opacity="0.5"/>
<circle cx="467.2" cy="395.4" r="3.6" fill="#808080" stroke="#2a2a2a" stroke-width=".35"/><circle cx="467.2" cy="395.4" r="3.6" fill="url(#cg)"/>
<circle cx="464" cy="394.1" r="3.1" opacity="0.5"/>
<circle cx="463.5" cy="393.4" r="3.1" fill="#808080" stroke="#2a2a2a" stroke-width=".35"/><circle cx="463.5" cy="393.4" r="3.1" fill="url(#cg)"/>
<circle cx="449.1" cy="401.5" r="3.8" opacity="0.5"/>
<circle cx="448.6" cy="400.8" r="3.8" fill="#8a8a8a" stroke="#2a2a2a" stroke-width=".35"/><circle cx="448.6" cy="400.8" r="3.8" fill="url(#cg)"/>
<circle cx="454.4" cy="401.2" r="3.4" opacity="0.5"/>
<circle cx="453.9" cy="400.5" r="3.4" fill="#808080" stroke="#2a2a2a" stroke-width=".35"/><circle cx="453.9" cy="400.5" r="3.4" fill="url(#cg)"/>
<circle cx="466.6" cy="398.3" r="3.3" opacity="0.5"/>
<circle cx="466.1" cy="397.6" r="3.3" fill="#808080" stroke="#2a2a2a" stroke-width=".35"/><circle cx="466.1" cy="397.6" r="3.3" fill="url(#cg)"/>
<circle cx="461.9" cy="398.7" r="3.3" opacity="0.5"/>
<circle cx="461.4" cy="398" r="3.3" fill="#8a8a8a" stroke="#2a2a2a" stroke-width=".35"/><circle cx="461.4" cy="398" r="3.3" fill="url(#cg)"/>
<circle cx="447.2" cy="404.1" r="3.6" opacity="0.5"/>
<circle cx="446.7" cy="403.4" r="3.6" fill="#808080" stroke="#2a2a2a" stroke-width=".35"/><circle cx="446.7" cy="403.4" r="3.6" fill="url(#cg)"/>
<circle cx="461.8" cy="404.4" r="3.7" opacity="0.5"/>
<circle cx="461.3" cy="403.7" r="3.7" fill="#8a8a8a" stroke="#2a2a2a" stroke-width=".35"/><circle cx="461.3" cy="403.7" r="3.7" fill="url(#cg)"/>
<circle cx="465.1" cy="401.6" r="3.1" opacity="0.5"/>
<circle cx="464.6" cy="400.9" r="3.1" fill="#8a8a8a" stroke="#2a2a2a" stroke-width=".35"/><circle cx="464.6" cy="400.9" r="3.1" fill="url(#cg)"/>
<circle cx="449.2" cy="401.5" r="3.8" opacity="0.5"/>
<circle cx="448.7" cy="400.8" r="3.8" fill="#8a8a8a" stroke="#2a2a2a" stroke-width=".35"/><circle cx="448.7" cy="400.8" r="3.8" fill="url(#cg)"/>
<rect x="440.40" y="391.30" width="76.20" height="50.10" filter="url(#t3)" opacity="0.2" style="mix-blend-mode:soft-light"/>
</g>
<rect x="440.40" y="391.30" width="76.20" height="50.10" fill="none" stroke="#0a0a0a" stroke-width="1"/>
<text x="445.20" y="400.10" font-size="7.1" font-style="italic" fill="#fff" word-spacing="1.4">S. aureus</text>
<text x="445.80" y="439.30" font-size="7.0" fill="#fff">AMP 30</text>
<text x="512.30" y="433.90" font-size="6.8" fill="#fff" text-anchor="end">1 µm</text>
<rect x="496.10" y="436.80" width="13.00" height="1.6" fill="#fff"/>
<rect x="520.90" y="392.10" width="78.10" height="51.70" fill="#8c8c8c" filter="url(#sh)"/>
<clipPath id="c10"><rect x="520.30" y="391.30" width="76.50" height="50.10"/></clipPath>
<g clip-path="url(#c10)">
<rect x="520.30" y="391.30" width="76.50" height="50.10" fill="#5e5e5e"/>
<rect x="520.30" y="391.30" width="76.50" height="50.10" filter="url(#t2)" opacity="0.15" style="mix-blend-mode:overlay"/>
<circle cx="528.8" cy="406" r="4.5" opacity="0.4"/>
<circle cx="528.3" cy="405.3" r="4.5" fill="#a8a8a8" stroke="#404040" stroke-width=".35"/><circle cx="528.3" cy="405.3" r="4.5" fill="url(#cg)"/>
<circle cx="530.8" cy="416" r="4.2" opacity="0.4"/>
<circle cx="530.3" cy="415.3" r="4.2" fill="#a8a8a8" stroke="#404040" stroke-width=".35"/><circle cx="530.3" cy="415.3" r="4.2" fill="url(#cg)"/>
<circle cx="538.8" cy="412" r="3.8" opacity="0.4"/>
<circle cx="538.3" cy="411.3" r="3.8" fill="#a8a8a8" stroke="#404040" stroke-width=".35"/><circle cx="538.3" cy="411.3" r="3.8" fill="url(#cg)"/>
<circle cx="525.8" cy="424" r="4.5" opacity="0.4"/>
<circle cx="525.3" cy="423.3" r="4.5" fill="#a8a8a8" stroke="#404040" stroke-width=".35"/><circle cx="525.3" cy="423.3" r="4.5" fill="url(#cg)"/>
<circle cx="534.8" cy="426" r="3.8" opacity="0.4"/>
<circle cx="534.3" cy="425.3" r="3.8" fill="#a8a8a8" stroke="#404040" stroke-width=".35"/><circle cx="534.3" cy="425.3" r="3.8" fill="url(#cg)"/>
<circle cx="542.8" cy="419" r="3.7" opacity="0.4"/>
<circle cx="542.3" cy="418.3" r="3.7" fill="#a8a8a8" stroke="#404040" stroke-width=".35"/><circle cx="542.3" cy="418.3" r="3.7" fill="url(#cg)"/>
<circle cx="548.8" cy="423" r="3.6" opacity="0.4"/>
<circle cx="548.3" cy="422.3" r="3.6" fill="#a8a8a8" stroke="#404040" stroke-width=".35"/><circle cx="548.3" cy="422.3" r="3.6" fill="url(#cg)"/>
<circle cx="553.8" cy="411" r="3.8" opacity="0.4"/>
<circle cx="553.3" cy="410.3" r="3.8" fill="#a8a8a8" stroke="#404040" stroke-width=".35"/><circle cx="553.3" cy="410.3" r="3.8" fill="url(#cg)"/>
<circle cx="559.8" cy="407" r="4" opacity="0.4"/>
<circle cx="559.3" cy="406.3" r="4" fill="#a8a8a8" stroke="#404040" stroke-width=".35"/><circle cx="559.3" cy="406.3" r="4" fill="url(#cg)"/>
<circle cx="567.8" cy="414" r="3.8" opacity="0.4"/>
<circle cx="567.3" cy="413.3" r="3.8" fill="#a8a8a8" stroke="#404040" stroke-width=".35"/><circle cx="567.3" cy="413.3" r="3.8" fill="url(#cg)"/>
<circle cx="572.8" cy="410" r="3.6" opacity="0.4"/>
<circle cx="572.3" cy="409.3" r="3.6" fill="#a8a8a8" stroke="#404040" stroke-width=".35"/><circle cx="572.3" cy="409.3" r="3.6" fill="url(#cg)"/>
<circle cx="576.8" cy="418" r="3.8" opacity="0.4"/>
<circle cx="576.3" cy="417.3" r="3.8" fill="#a8a8a8" stroke="#404040" stroke-width=".35"/><circle cx="576.3" cy="417.3" r="3.8" fill="url(#cg)"/>
<circle cx="582.8" cy="416" r="3.8" opacity="0.4"/>
<circle cx="582.3" cy="415.3" r="3.8" fill="#a8a8a8" stroke="#404040" stroke-width=".35"/><circle cx="582.3" cy="415.3" r="3.8" fill="url(#cg)"/>
<circle cx="584.8" cy="407" r="3.6" opacity="0.4"/>
<circle cx="584.3" cy="406.3" r="3.6" fill="#a8a8a8" stroke="#404040" stroke-width=".35"/><circle cx="584.3" cy="406.3" r="3.6" fill="url(#cg)"/>
<circle cx="590.8" cy="402" r="4" opacity="0.4"/>
<circle cx="590.3" cy="401.3" r="4" fill="#a8a8a8" stroke="#404040" stroke-width=".35"/><circle cx="590.3" cy="401.3" r="4" fill="url(#cg)"/>
<circle cx="593.8" cy="412" r="3.5" opacity="0.4"/>
<circle cx="593.3" cy="411.3" r="3.5" fill="#a8a8a8" stroke="#404040" stroke-width=".35"/><circle cx="593.3" cy="411.3" r="3.5" fill="url(#cg)"/>
<circle cx="564.8" cy="421" r="3.8" opacity="0.4"/>
<circle cx="564.3" cy="420.3" r="3.8" fill="#a8a8a8" stroke="#404040" stroke-width=".35"/><circle cx="564.3" cy="420.3" r="3.8" fill="url(#cg)"/>
<circle cx="577.8" cy="424" r="3.8" opacity="0.4"/>
<circle cx="577.3" cy="423.3" r="3.8" fill="#a8a8a8" stroke="#404040" stroke-width=".35"/><circle cx="577.3" cy="423.3" r="3.8" fill="url(#cg)"/>
<circle cx="556.8" cy="430" r="3.5" opacity="0.4"/>
<circle cx="556.3" cy="429.3" r="3.5" fill="#a8a8a8" stroke="#404040" stroke-width=".35"/><circle cx="556.3" cy="429.3" r="3.5" fill="url(#cg)"/>
<circle cx="546.8" cy="430" r="3.8" opacity="0.4"/>
<circle cx="546.3" cy="429.3" r="3.8" fill="#a8a8a8" stroke="#404040" stroke-width=".35"/><circle cx="546.3" cy="429.3" r="3.8" fill="url(#cg)"/>
<circle cx="562.8" cy="432" r="3.5" opacity="0.4"/>
<circle cx="562.3" cy="431.3" r="3.5" fill="#a8a8a8" stroke="#404040" stroke-width=".35"/><circle cx="562.3" cy="431.3" r="3.5" fill="url(#cg)"/>
<circle cx="528.8" cy="434" r="4" opacity="0.4"/>
<circle cx="528.3" cy="433.3" r="4" fill="#a8a8a8" stroke="#404040" stroke-width=".35"/><circle cx="528.3" cy="433.3" r="4" fill="url(#cg)"/>
<circle cx="536.8" cy="436" r="4" opacity="0.4"/>
<circle cx="536.3" cy="435.3" r="4" fill="#a8a8a8" stroke="#404040" stroke-width=".35"/><circle cx="536.3" cy="435.3" r="4" fill="url(#cg)"/>
<circle cx="550.8" cy="414" r="3.5" opacity="0.4"/>
<circle cx="550.3" cy="413.3" r="3.5" fill="#a8a8a8" stroke="#404040" stroke-width=".35"/><circle cx="550.3" cy="413.3" r="3.5" fill="url(#cg)"/>
<circle cx="540.8" cy="436" r="3" opacity="0.4"/>
<circle cx="540.3" cy="435.3" r="3" fill="#a8a8a8" stroke="#404040" stroke-width=".35"/><circle cx="540.3" cy="435.3" r="3" fill="url(#cg)"/>
<circle cx="582.8" cy="426" r="3.2" opacity="0.4"/>
<circle cx="582.3" cy="425.3" r="3.2" fill="#a8a8a8" stroke="#404040" stroke-width=".35"/><circle cx="582.3" cy="425.3" r="3.2" fill="url(#cg)"/>
<rect x="520.30" y="391.30" width="76.50" height="50.10" filter="url(#t3)" opacity="0.1" style="mix-blend-mode:soft-light"/>
</g>
<rect x="520.30" y="391.30" width="76.50" height="50.10" fill="none" stroke="#0a0a0a" stroke-width="1"/>
<text x="525.10" y="400.10" font-size="7.1" font-style="italic" fill="#fff" word-spacing="1.4">S. aureus</text>
<text x="525.70" y="439.30" font-size="7.0" fill="#fff">AMP 31</text>
<text x="592.50" y="433.90" font-size="6.8" fill="#fff" text-anchor="end">1 µm</text>
<rect x="577.80" y="436.80" width="10.00" height="1.6" fill="#fff"/>
<rect x="599.90" y="392.10" width="79.00" height="51.70" fill="#8c8c8c" filter="url(#sh)"/>
<clipPath id="c11"><rect x="599.30" y="391.30" width="77.40" height="50.10"/></clipPath>
<g clip-path="url(#c11)">
<rect x="599.30" y="391.30" width="77.40" height="50.10" fill="#1a1a1a"/>
<rect x="599.30" y="391.30" width="77.40" height="50.10" filter="url(#t3)" opacity="0.3" style="mix-blend-mode:overlay"/>
<line x1="648.8" y1="412.8" x2="651.9" y2="406.7" stroke="#8a8a8a" stroke-width="0.6" opacity="0.75"/>
<line x1="653.3" y1="410.1" x2="654.8" y2="405.5" stroke="#8a8a8a" stroke-width="0.6" opacity="0.75"/>
<line x1="626.0" y1="404.7" x2="623.6" y2="407.8" stroke="#8a8a8a" stroke-width="0.6" opacity="0.75"/>
<line x1="635.9" y1="439.5" x2="637.1" y2="435.7" stroke="#8a8a8a" stroke-width="0.6" opacity="0.75"/>
<line x1="646.7" y1="417.8" x2="641.7" y2="418.1" stroke="#8a8a8a" stroke-width="0.6" opacity="0.75"/>
<line x1="600.2" y1="410.1" x2="600.7" y2="412.7" stroke="#8a8a8a" stroke-width="0.6" opacity="0.75"/>
<line x1="673.6" y1="422.1" x2="666.9" y2="421.8" stroke="#8a8a8a" stroke-width="0.6" opacity="0.75"/>
<line x1="618.7" y1="428.7" x2="624.2" y2="423.0" stroke="#8a8a8a" stroke-width="0.6" opacity="0.75"/>
<line x1="659.0" y1="406.0" x2="654.6" y2="405.3" stroke="#8a8a8a" stroke-width="0.6" opacity="0.75"/>
<line x1="631.7" y1="405.7" x2="628.4" y2="404.8" stroke="#8a8a8a" stroke-width="0.6" opacity="0.75"/>
<line x1="652.7" y1="399.5" x2="650.9" y2="395.9" stroke="#8a8a8a" stroke-width="0.6" opacity="0.75"/>
<line x1="655.7" y1="403.7" x2="659.0" y2="397.1" stroke="#8a8a8a" stroke-width="0.6" opacity="0.75"/>
<line x1="665.5" y1="412.7" x2="671.6" y2="416.9" stroke="#8a8a8a" stroke-width="0.6" opacity="0.75"/>
<line x1="664.5" y1="392.8" x2="668.0" y2="393.2" stroke="#8a8a8a" stroke-width="0.6" opacity="0.75"/>
<line x1="667.9" y1="419.7" x2="665.8" y2="425.4" stroke="#8a8a8a" stroke-width="0.6" opacity="0.75"/>
<line x1="676.3" y1="402.4" x2="671.3" y2="401.6" stroke="#8a8a8a" stroke-width="0.6" opacity="0.75"/>
<line x1="650.2" y1="399.4" x2="651.4" y2="400.0" stroke="#8a8a8a" stroke-width="0.6" opacity="0.75"/>
<line x1="661.1" y1="398.6" x2="656.1" y2="398.8" stroke="#8a8a8a" stroke-width="0.6" opacity="0.75"/>
<line x1="657.5" y1="420.7" x2="660.9" y2="417.4" stroke="#8a8a8a" stroke-width="0.6" opacity="0.75"/>
<line x1="601.8" y1="425.8" x2="603.9" y2="419.2" stroke="#8a8a8a" stroke-width="0.6" opacity="0.75"/>
<line x1="605.9" y1="426.3" x2="608.3" y2="422.2" stroke="#8a8a8a" stroke-width="0.6" opacity="0.75"/>
<line x1="619.5" y1="412.3" x2="612.8" y2="409.5" stroke="#8a8a8a" stroke-width="0.6" opacity="0.75"/>
<line x1="617.9" y1="393.4" x2="618.2" y2="399.6" stroke="#8a8a8a" stroke-width="0.6" opacity="0.75"/>
<line x1="605.3" y1="426.0" x2="606.9" y2="423.0" stroke="#8a8a8a" stroke-width="0.6" opacity="0.75"/>
<line x1="649.1" y1="430.0" x2="645.7" y2="428.8" stroke="#8a8a8a" stroke-width="0.6" opacity="0.75"/>
<line x1="647.8" y1="413.4" x2="643.4" y2="412.0" stroke="#8a8a8a" stroke-width="0.6" opacity="0.75"/>
<line x1="654.3" y1="420.6" x2="651.8" y2="417.6" stroke="#8a8a8a" stroke-width="0.6" opacity="0.75"/>
<line x1="612.4" y1="424.7" x2="616.3" y2="421.1" stroke="#8a8a8a" stroke-width="0.6" opacity="0.75"/>
<line x1="647.4" y1="394.7" x2="642.9" y2="396.0" stroke="#8a8a8a" stroke-width="0.6" opacity="0.75"/>
<line x1="627.7" y1="412.6" x2="621.5" y2="412.7" stroke="#8a8a8a" stroke-width="0.6" opacity="0.75"/>
<line x1="635.9" y1="402.8" x2="637.7" y2="398.9" stroke="#8a8a8a" stroke-width="0.6" opacity="0.75"/>
<line x1="626.7" y1="396.6" x2="631.8" y2="397.5" stroke="#8a8a8a" stroke-width="0.6" opacity="0.75"/>
<line x1="669.1" y1="408.5" x2="673.0" y2="410.8" stroke="#8a8a8a" stroke-width="0.6" opacity="0.75"/>
<line x1="602.8" y1="437.5" x2="602.9" y2="435.1" stroke="#8a8a8a" stroke-width="0.6" opacity="0.75"/>
<line x1="628.1" y1="405.2" x2="631.8" y2="404.3" stroke="#8a8a8a" stroke-width="0.6" opacity="0.75"/>
<line x1="631.6" y1="413.5" x2="634.2" y2="414.7" stroke="#8a8a8a" stroke-width="0.6" opacity="0.75"/>
<line x1="617.5" y1="420.3" x2="624.0" y2="418.4" stroke="#8a8a8a" stroke-width="0.6" opacity="0.75"/>
<line x1="665.5" y1="433.2" x2="664.9" y2="439.9" stroke="#8a8a8a" stroke-width="0.6" opacity="0.75"/>
<line x1="618.7" y1="402.8" x2="617.4" y2="397.4" stroke="#8a8a8a" stroke-width="0.6" opacity="0.75"/>
<line x1="605.2" y1="408.9" x2="605.0" y2="410.2" stroke="#8a8a8a" stroke-width="0.6" opacity="0.75"/>
<line x1="667.2" y1="419.7" x2="667.6" y2="412.7" stroke="#8a8a8a" stroke-width="0.6" opacity="0.75"/>
<line x1="599.7" y1="416.7" x2="596.4" y2="423.6" stroke="#8a8a8a" stroke-width="0.6" opacity="0.75"/>
<line x1="663.3" y1="398.5" x2="656.9" y2="403.0" stroke="#8a8a8a" stroke-width="0.6" opacity="0.75"/>
<line x1="674.4" y1="428.3" x2="668.3" y2="433.9" stroke="#8a8a8a" stroke-width="0.6" opacity="0.75"/>
<line x1="652.5" y1="435.8" x2="654.7" y2="438.4" stroke="#8a8a8a" stroke-width="0.6" opacity="0.75"/>
<line x1="668.6" y1="412.1" x2="664.1" y2="407.5" stroke="#8a8a8a" stroke-width="0.6" opacity="0.75"/>
<line x1="628.2" y1="431.6" x2="632.9" y2="430.5" stroke="#8a8a8a" stroke-width="0.6" opacity="0.75"/>
<line x1="615.6" y1="397.4" x2="612.7" y2="402.4" stroke="#8a8a8a" stroke-width="0.6" opacity="0.75"/>
<line x1="603.8" y1="422.8" x2="610.2" y2="423.3" stroke="#8a8a8a" stroke-width="0.6" opacity="0.75"/>
<line x1="654.7" y1="393.1" x2="654.1" y2="395.9" stroke="#8a8a8a" stroke-width="0.6" opacity="0.75"/>
<line x1="610.3" y1="405.3" x2="610.2" y2="410.0" stroke="#8a8a8a" stroke-width="0.6" opacity="0.75"/>
<line x1="644.3" y1="422.4" x2="644.7" y2="419.1" stroke="#8a8a8a" stroke-width="0.6" opacity="0.75"/>
<line x1="673.4" y1="428.9" x2="667.2" y2="435.8" stroke="#8a8a8a" stroke-width="0.6" opacity="0.75"/>
<line x1="659.4" y1="395.6" x2="663.1" y2="402.2" stroke="#8a8a8a" stroke-width="0.6" opacity="0.75"/>
<line x1="628.8" y1="421.8" x2="623.5" y2="419.0" stroke="#8a8a8a" stroke-width="0.6" opacity="0.75"/>
<line x1="614.9" y1="400.5" x2="611.9" y2="396.9" stroke="#8a8a8a" stroke-width="0.6" opacity="0.75"/>
<line x1="645.1" y1="425.8" x2="652.0" y2="432.7" stroke="#8a8a8a" stroke-width="0.6" opacity="0.75"/>
<line x1="600.7" y1="434.0" x2="597.6" y2="432.4" stroke="#8a8a8a" stroke-width="0.6" opacity="0.75"/>
<line x1="673.4" y1="399.4" x2="679.6" y2="396.4" stroke="#8a8a8a" stroke-width="0.6" opacity="0.75"/>
<line x1="673.8" y1="406.7" x2="674.0" y2="400.2" stroke="#8a8a8a" stroke-width="0.6" opacity="0.75"/>
<line x1="662.0" y1="431.3" x2="658.9" y2="435.0" stroke="#8a8a8a" stroke-width="0.6" opacity="0.75"/>
<line x1="661.9" y1="430.1" x2="656.3" y2="436.3" stroke="#8a8a8a" stroke-width="0.6" opacity="0.75"/>
<line x1="625.7" y1="398.6" x2="619.5" y2="404.6" stroke="#8a8a8a" stroke-width="0.6" opacity="0.75"/>
<line x1="627.4" y1="398.3" x2="632.6" y2="393.4" stroke="#8a8a8a" stroke-width="0.6" opacity="0.75"/>
<line x1="615.1" y1="420.8" x2="610.1" y2="426.7" stroke="#8a8a8a" stroke-width="0.6" opacity="0.75"/>
<line x1="602.8" y1="416.4" x2="596.2" y2="417.2" stroke="#8a8a8a" stroke-width="0.6" opacity="0.75"/>
<line x1="664.5" y1="393.5" x2="669.3" y2="398.3" stroke="#8a8a8a" stroke-width="0.6" opacity="0.75"/>
<line x1="665.5" y1="415.1" x2="670.4" y2="411.4" stroke="#8a8a8a" stroke-width="0.6" opacity="0.75"/>
<line x1="664.4" y1="414.0" x2="671.3" y2="408.6" stroke="#8a8a8a" stroke-width="0.6" opacity="0.75"/>
<line x1="674.3" y1="429.7" x2="669.3" y2="431.9" stroke="#8a8a8a" stroke-width="0.6" opacity="0.75"/>
<circle cx="609.6" cy="407.9" r="5.5" opacity="0.6"/>
<circle cx="609.1" cy="407.2" r="5.5" fill="#868686" stroke="#1a1a1a" stroke-width=".35"/><circle cx="609.1" cy="407.2" r="5.5" fill="url(#cg)"/>
<circle cx="619.3" cy="406.7" r="5.5" opacity="0.6"/>
<circle cx="618.8" cy="406" r="5.5" fill="#868686" stroke="#1a1a1a" stroke-width=".35"/><circle cx="618.8" cy="406" r="5.5" fill="url(#cg)"/>
<circle cx="604.8" cy="422.4" r="4.8" opacity="0.6"/>
<circle cx="604.3" cy="421.7" r="4.8" fill="#868686" stroke="#1a1a1a" stroke-width=".35"/><circle cx="604.3" cy="421.7" r="4.8" fill="url(#cg)"/>
<circle cx="635.1" cy="421.2" r="5.1" opacity="0.6"/>
<circle cx="634.6" cy="420.5" r="5.1" fill="#868686" stroke="#1a1a1a" stroke-width=".35"/><circle cx="634.6" cy="420.5" r="5.1" fill="url(#cg)"/>
<circle cx="645.4" cy="421.2" r="5.5" opacity="0.6"/>
<circle cx="644.9" cy="420.5" r="5.5" fill="#868686" stroke="#1a1a1a" stroke-width=".35"/><circle cx="644.9" cy="420.5" r="5.5" fill="url(#cg)"/>
<circle cx="658.1" cy="418.8" r="4.2" opacity="0.6"/>
<circle cx="657.6" cy="418.1" r="4.2" fill="#868686" stroke="#1a1a1a" stroke-width=".35"/><circle cx="657.6" cy="418.1" r="4.2" fill="url(#cg)"/>
<circle cx="663" cy="411.5" r="4.2" opacity="0.6"/>
<circle cx="662.5" cy="410.8" r="4.2" fill="#868686" stroke="#1a1a1a" stroke-width=".35"/><circle cx="662.5" cy="410.8" r="4.2" fill="url(#cg)"/>
<circle cx="665.4" cy="400.6" r="5.5" opacity="0.6"/>
<circle cx="664.9" cy="399.9" r="5.5" fill="#868686" stroke="#1a1a1a" stroke-width=".35"/><circle cx="664.9" cy="399.9" r="5.5" fill="url(#cg)"/>
<circle cx="671.4" cy="403" r="4.2" opacity="0.6"/>
<circle cx="670.9" cy="402.3" r="4.2" fill="#868686" stroke="#1a1a1a" stroke-width=".35"/><circle cx="670.9" cy="402.3" r="4.2" fill="url(#cg)"/>
<circle cx="613.3" cy="429.7" r="4.8" opacity="0.6"/>
<circle cx="612.8" cy="429" r="4.8" fill="#868686" stroke="#1a1a1a" stroke-width=".35"/><circle cx="612.8" cy="429" r="4.8" fill="url(#cg)"/>
<circle cx="636.3" cy="432.1" r="4.6" opacity="0.6"/>
<circle cx="635.8" cy="431.4" r="4.6" fill="#868686" stroke="#1a1a1a" stroke-width=".35"/><circle cx="635.8" cy="431.4" r="4.6" fill="url(#cg)"/>
<circle cx="646" cy="438.8" r="4.2" opacity="0.6"/>
<circle cx="645.5" cy="438.1" r="4.2" fill="#868686" stroke="#1a1a1a" stroke-width=".35"/><circle cx="645.5" cy="438.1" r="4.2" fill="url(#cg)"/>
<circle cx="672.7" cy="413.9" r="3.6" opacity="0.6"/>
<circle cx="672.2" cy="413.2" r="3.6" fill="#868686" stroke="#1a1a1a" stroke-width=".35"/><circle cx="672.2" cy="413.2" r="3.6" fill="url(#cg)"/>
<circle cx="627.8" cy="407.9" r="3.6" opacity="0.6"/>
<circle cx="627.3" cy="407.2" r="3.6" fill="#868686" stroke="#1a1a1a" stroke-width=".35"/><circle cx="627.3" cy="407.2" r="3.6" fill="url(#cg)"/>
<rect x="599.30" y="391.30" width="77.40" height="50.10" filter="url(#t3)" opacity="0.15" style="mix-blend-mode:soft-light"/>
</g>
<rect x="599.30" y="391.30" width="77.40" height="50.10" fill="none" stroke="#0a0a0a" stroke-width="1"/>
<text x="604.10" y="400.10" font-size="7.1" font-style="italic" fill="#fff" word-spacing="1.4">S. aureus</text>
<text x="604.70" y="439.30" font-size="7.0" fill="#fff">AMP 38</text>
<text x="672.40" y="433.90" font-size="6.8" fill="#fff" text-anchor="end">1 µm</text>
<rect x="655.20" y="436.80" width="15.00" height="1.6" fill="#fff"/>
<rect x="236.80" y="445.80" width="77.30" height="51.80" fill="#8c8c8c" filter="url(#sh)"/>
<clipPath id="c12"><rect x="236.20" y="445.00" width="75.70" height="50.20"/></clipPath>
<g clip-path="url(#c12)">
<rect x="236.20" y="445.00" width="75.70" height="50.20" fill="#686868"/>
<rect x="236.20" y="445.00" width="75.70" height="50.20" filter="url(#t2)" opacity="0.2" style="mix-blend-mode:overlay"/>
<rect transform="translate(239.8 472.2) rotate(80)" x="-7.4" y="-3.4" width="14.7" height="6.7" rx="3.4" opacity="0.5"/><g transform="translate(239.3 471.6) rotate(80)"><rect x="-7.4" y="-3.4" width="14.7" height="6.7" rx="3.4" fill="#a0a0a0" stroke="#3a3a3a" stroke-width=".35"/><rect x="-7.4" y="-3.4" width="14.7" height="6.7" rx="3.4" fill="url(#rg)"/></g>
<rect transform="translate(247.3 464.6) rotate(80)" x="-10.4" y="-4.7" width="20.8" height="9.4" rx="4.7" opacity="0.5"/><g transform="translate(246.8 464) rotate(80)"><rect x="-10.4" y="-4.7" width="20.8" height="9.4" rx="4.7" fill="#a0a0a0" stroke="#3a3a3a" stroke-width=".35"/><rect x="-10.4" y="-4.7" width="20.8" height="9.4" rx="4.7" fill="url(#rg)"/></g>
<rect transform="translate(258.4 460) rotate(60)" x="-5.5" y="-4" width="11" height="8.1" rx="4" opacity="0.5"/><g transform="translate(257.9 459.4) rotate(60)"><rect x="-5.5" y="-4" width="11" height="8.1" rx="4" fill="#a0a0a0" stroke="#3a3a3a" stroke-width=".35"/><rect x="-5.5" y="-4" width="11" height="8.1" rx="4" fill="url(#rg)"/></g>
<rect transform="translate(276.5 458.2) rotate(5)" x="-8.6" y="-4" width="17.2" height="8.1" rx="4" opacity="0.5"/><g transform="translate(276 457.6) rotate(5)"><rect x="-8.6" y="-4" width="17.2" height="8.1" rx="4" fill="#a0a0a0" stroke="#3a3a3a" stroke-width=".35"/><rect x="-8.6" y="-4" width="17.2" height="8.1" rx="4" fill="url(#rg)"/></g>
<rect transform="translate(299.9 450.6) rotate(20)" x="-6.1" y="-3.7" width="12.3" height="7.4" rx="3.7" opacity="0.5"/><g transform="translate(299.4 450) rotate(20)"><rect x="-6.1" y="-3.7" width="12.3" height="7.4" rx="3.7" fill="#a0a0a0" stroke="#3a3a3a" stroke-width=".35"/><rect x="-6.1" y="-3.7" width="12.3" height="7.4" rx="3.7" fill="url(#rg)"/></g>
<rect transform="translate(299.9 460) rotate(20)" x="-11" y="-5" width="22.1" height="10.1" rx="5" opacity="0.5"/><g transform="translate(299.4 459.4) rotate(20)"><rect x="-11" y="-5" width="22.1" height="10.1" rx="5" fill="#a0a0a0" stroke="#3a3a3a" stroke-width=".35"/><rect x="-11" y="-5" width="22.1" height="10.1" rx="5" fill="url(#rg)"/></g>
<rect transform="translate(295.2 467) rotate(20)" x="-11" y="-5" width="22.1" height="10.1" rx="5" opacity="0.5"/><g transform="translate(294.7 466.4) rotate(20)"><rect x="-11" y="-5" width="22.1" height="10.1" rx="5" fill="#a0a0a0" stroke="#3a3a3a" stroke-width=".35"/><rect x="-11" y="-5" width="22.1" height="10.1" rx="5" fill="url(#rg)"/></g>
<rect transform="translate(269.5 474) rotate(-25)" x="-13.5" y="-5" width="27" height="10.1" rx="5" opacity="0.5"/><g transform="translate(269 473.4) rotate(-25)"><rect x="-13.5" y="-5" width="27" height="10.1" rx="5" fill="#a0a0a0" stroke="#3a3a3a" stroke-width=".35"/><rect x="-13.5" y="-5" width="27" height="10.1" rx="5" fill="url(#rg)"/></g>
<rect transform="translate(284.7 473.4) rotate(35)" x="-13.5" y="-5.4" width="27" height="10.7" rx="5.4" opacity="0.5"/><g transform="translate(284.2 472.8) rotate(35)"><rect x="-13.5" y="-5.4" width="27" height="10.7" rx="5.4" fill="#a0a0a0" stroke="#3a3a3a" stroke-width=".35"/><rect x="-13.5" y="-5.4" width="27" height="10.7" rx="5.4" fill="url(#rg)"/></g>
<rect transform="translate(252 477.5) rotate(70)" x="-6.1" y="-4" width="12.3" height="8.1" rx="4" opacity="0.5"/><g transform="translate(251.5 476.9) rotate(70)"><rect x="-6.1" y="-4" width="12.3" height="8.1" rx="4" fill="#a0a0a0" stroke="#3a3a3a" stroke-width=".35"/><rect x="-6.1" y="-4" width="12.3" height="8.1" rx="4" fill="url(#rg)"/></g>
<rect transform="translate(268.4 481.6) rotate(-5)" x="-11.6" y="-4.7" width="23.3" height="9.4" rx="4.7" opacity="0.5"/><g transform="translate(267.9 481) rotate(-5)"><rect x="-11.6" y="-4.7" width="23.3" height="9.4" rx="4.7" fill="#a0a0a0" stroke="#3a3a3a" stroke-width=".35"/><rect x="-11.6" y="-4.7" width="23.3" height="9.4" rx="4.7" fill="url(#rg)"/></g>
<rect transform="translate(304.6 477.5) rotate(-10)" x="-7.4" y="-4" width="14.7" height="8.1" rx="4" opacity="0.5"/><g transform="translate(304.1 476.9) rotate(-10)"><rect x="-7.4" y="-4" width="14.7" height="8.1" rx="4" fill="#a0a0a0" stroke="#3a3a3a" stroke-width=".35"/><rect x="-7.4" y="-4" width="14.7" height="8.1" rx="4" fill="url(#rg)"/></g>
<rect transform="translate(245 485.6) rotate(60)" x="-6.7" y="-4" width="13.5" height="8.1" rx="4" opacity="0.5"/><g transform="translate(244.5 485) rotate(60)"><rect x="-6.7" y="-4" width="13.5" height="8.1" rx="4" fill="#a0a0a0" stroke="#3a3a3a" stroke-width=".35"/><rect x="-6.7" y="-4" width="13.5" height="8.1" rx="4" fill="url(#rg)"/></g>
<rect transform="translate(280.6 488) rotate(0)" x="-9.8" y="-3.7" width="19.6" height="7.4" rx="3.7" opacity="0.5"/><g transform="translate(280.1 487.4) rotate(0)"><rect x="-9.8" y="-3.7" width="19.6" height="7.4" rx="3.7" fill="#a0a0a0" stroke="#3a3a3a" stroke-width=".35"/><rect x="-9.8" y="-3.7" width="19.6" height="7.4" rx="3.7" fill="url(#rg)"/></g>
<rect transform="translate(261.4 490.3) rotate(10)" x="-7.4" y="-3.4" width="14.7" height="6.7" rx="3.4" opacity="0.5"/><g transform="translate(260.9 489.7) rotate(10)"><rect x="-7.4" y="-3.4" width="14.7" height="6.7" rx="3.4" fill="#a0a0a0" stroke="#3a3a3a" stroke-width=".35"/><rect x="-7.4" y="-3.4" width="14.7" height="6.7" rx="3.4" fill="url(#rg)"/></g>
<rect transform="translate(304.6 488) rotate(30)" x="-5.5" y="-3.4" width="11" height="6.7" rx="3.4" opacity="0.5"/><g transform="translate(304.1 487.4) rotate(30)"><rect x="-5.5" y="-3.4" width="11" height="6.7" rx="3.4" fill="#a0a0a0" stroke="#3a3a3a" stroke-width=".35"/><rect x="-5.5" y="-3.4" width="11" height="6.7" rx="3.4" fill="url(#rg)"/></g>
<rect x="236.20" y="445.00" width="75.70" height="50.20" filter="url(#t3)" opacity="0.15" style="mix-blend-mode:soft-light"/>
</g>
<rect x="236.20" y="445.00" width="75.70" height="50.20" fill="none" stroke="#0a0a0a" stroke-width="1"/>
<text x="241.00" y="453.80" font-size="7.1" font-style="italic" fill="#fff" word-spacing="1.4">P. aeruginosa</text>
<text x="244.50" y="493.10" font-size="7.0" fill="#fff">Control</text>
<text x="307.60" y="487.70" font-size="6.8" fill="#fff" text-anchor="end">1 µm</text>
<rect x="288.90" y="490.60" width="18.00" height="1.6" fill="#fff"/>
<rect x="317.00" y="445.80" width="75.40" height="51.80" fill="#8c8c8c" filter="url(#sh)"/>
<clipPath id="c13"><rect x="316.40" y="445.00" width="73.80" height="50.20"/></clipPath>
<g clip-path="url(#c13)">
<rect x="316.40" y="445.00" width="73.80" height="50.20" fill="#505050"/>
<rect x="316.40" y="445.00" width="73.80" height="50.20" filter="url(#t1)" opacity="0.5" style="mix-blend-mode:overlay"/>
<rect x="316.40" y="445.00" width="73.80" height="50.20" filter="url(#t3)" opacity="0.4" style="mix-blend-mode:overlay"/>
<ellipse cx="334.40" cy="470.00" rx="14.00" ry="12.00" fill="#1e1e1e" opacity="0.8" transform="rotate(0 334.40 470.00)"/>
<ellipse cx="376.40" cy="475.00" rx="12.00" ry="14.00" fill="#808080" opacity="0.5" transform="rotate(0 376.40 475.00)"/>
<rect transform="translate(328.9 478.6) rotate(30)" x="-10" y="-4" width="20" height="8" rx="4" opacity="0.45"/><g transform="translate(328.4 478) rotate(30)"><rect x="-10" y="-4" width="20" height="8" rx="4" fill="#5e5e5e" stroke="#333" stroke-width=".35"/><rect x="-10" y="-4" width="20" height="8" rx="4" fill="url(#rg)"/></g>
<rect transform="translate(352.9 473.6) rotate(-55)" x="-18" y="-4" width="36" height="8" rx="4" opacity="0.45"/><g transform="translate(352.4 473) rotate(-55)"><rect x="-18" y="-4" width="36" height="8" rx="4" fill="#8a8a8a" stroke="#333" stroke-width=".35"/><rect x="-18" y="-4" width="36" height="8" rx="4" fill="url(#rg)"/></g>
<rect transform="translate(356.9 475.6) rotate(-60)" x="-17" y="-3.5" width="34" height="7" rx="3.5" opacity="0.45"/><g transform="translate(356.4 475) rotate(-60)"><rect x="-17" y="-3.5" width="34" height="7" rx="3.5" fill="#7a7a7a" stroke="#333" stroke-width=".35"/><rect x="-17" y="-3.5" width="34" height="7" rx="3.5" fill="url(#rg)"/></g>
<rect transform="translate(344.9 459.6) rotate(20)" x="-7" y="-4.5" width="14" height="9" rx="4.5" opacity="0.45"/><g transform="translate(344.4 459) rotate(20)"><rect x="-7" y="-4.5" width="14" height="9" rx="4.5" fill="#8a8a8a" stroke="#333" stroke-width=".35"/><rect x="-7" y="-4.5" width="14" height="9" rx="4.5" fill="url(#rg)"/></g>
<rect transform="translate(374.9 453.6) rotate(20)" x="-9" y="-4.5" width="18" height="9" rx="4.5" opacity="0.45"/><g transform="translate(374.4 453) rotate(20)"><rect x="-9" y="-4.5" width="18" height="9" rx="4.5" fill="#7e7e7e" stroke="#333" stroke-width=".35"/><rect x="-9" y="-4.5" width="18" height="9" rx="4.5" fill="url(#rg)"/></g>
<circle cx="382.9" cy="461.7" r="5" opacity="0.45"/>
<circle cx="382.4" cy="461" r="5" fill="#7a7a7a" stroke="#333" stroke-width=".35"/><circle cx="382.4" cy="461" r="5" fill="url(#cg)"/>
<rect x="316.40" y="445.00" width="73.80" height="50.20" filter="url(#t2)" opacity="0.3" style="mix-blend-mode:soft-light"/>
</g>
<rect x="316.40" y="445.00" width="73.80" height="50.20" fill="none" stroke="#0a0a0a" stroke-width="1"/>
<text x="321.20" y="453.80" font-size="7.1" font-style="italic" fill="#fff" word-spacing="1.4">P. aeruginosa</text>
<text x="321.80" y="493.10" font-size="7.0" fill="#fff">AMP 13</text>
<text x="385.90" y="487.70" font-size="6.8" fill="#fff" text-anchor="end">1 µm</text>
<rect x="365.20" y="490.60" width="22.00" height="1.6" fill="#fff"/>
<rect x="394.60" y="445.80" width="79.20" height="51.80" fill="#8c8c8c" filter="url(#sh)"/>
<clipPath id="c14"><rect x="394.00" y="445.00" width="77.60" height="50.20"/></clipPath>
<g clip-path="url(#c14)">
<rect x="394.00" y="445.00" width="77.60" height="50.20" fill="#5a5a5a"/>
<rect x="394.00" y="445.00" width="77.60" height="50.20" filter="url(#t1)" opacity="0.5" style="mix-blend-mode:overlay"/>
<rect x="394.00" y="445.00" width="77.60" height="50.20" filter="url(#t2)" opacity="0.4" style="mix-blend-mode:overlay"/>
<ellipse cx="432.00" cy="461.00" rx="11.00" ry="5.00" fill="#161616" opacity="0.85" transform="rotate(-12 432.00 461.00)"/>
<ellipse cx="424.00" cy="471.00" rx="16.00" ry="4.00" fill="#2a2a2a" opacity="0.5" transform="rotate(-15 424.00 471.00)"/>
<ellipse cx="456.00" cy="485.00" rx="9.00" ry="5.00" fill="#2a2a2a" opacity="0.45" transform="rotate(0 456.00 485.00)"/>
<line x1="440.4" y1="462.3" x2="440.3" y2="462.5" stroke="#9a9a9a" stroke-width="0.8" opacity="0.8"/>
<line x1="463.6" y1="473.7" x2="461.6" y2="473.3" stroke="#a8a8a8" stroke-width="0.8" opacity="0.8"/>
<line x1="422.6" y1="452.0" x2="424.8" y2="454.3" stroke="#a8a8a8" stroke-width="0.8" opacity="0.8"/>
<line x1="440.4" y1="483.8" x2="441.5" y2="482.6" stroke="#9a9a9a" stroke-width="0.8" opacity="0.8"/>
<line x1="462.8" y1="472.9" x2="463.2" y2="470.1" stroke="#8a8a8a" stroke-width="0.8" opacity="0.8"/>
<line x1="456.5" y1="449.4" x2="458.3" y2="448.6" stroke="#a8a8a8" stroke-width="0.8" opacity="0.8"/>
<line x1="465.3" y1="482.7" x2="465.9" y2="480.8" stroke="#9a9a9a" stroke-width="0.8" opacity="0.8"/>
<line x1="397.7" y1="469.2" x2="398.4" y2="467.8" stroke="#9a9a9a" stroke-width="0.8" opacity="0.8"/>
<line x1="409.2" y1="489.8" x2="407.7" y2="489.3" stroke="#3a3a3a" stroke-width="0.8" opacity="0.8"/>
<line x1="457.7" y1="452.1" x2="457.4" y2="450.5" stroke="#8a8a8a" stroke-width="0.8" opacity="0.8"/>
<line x1="452.4" y1="478.1" x2="450.3" y2="481.0" stroke="#3a3a3a" stroke-width="0.8" opacity="0.8"/>
<line x1="455.7" y1="486.3" x2="454.3" y2="485.9" stroke="#9a9a9a" stroke-width="0.8" opacity="0.8"/>
<line x1="410.2" y1="447.6" x2="407.9" y2="448.2" stroke="#8a8a8a" stroke-width="0.8" opacity="0.8"/>
<line x1="466.6" y1="485.9" x2="469.0" y2="488.5" stroke="#a8a8a8" stroke-width="0.8" opacity="0.8"/>
<line x1="421.4" y1="453.6" x2="421.9" y2="455.4" stroke="#8a8a8a" stroke-width="0.8" opacity="0.8"/>
<line x1="446.5" y1="468.9" x2="443.6" y2="467.7" stroke="#3a3a3a" stroke-width="0.8" opacity="0.8"/>
<line x1="409.1" y1="467.3" x2="407.2" y2="464.6" stroke="#9a9a9a" stroke-width="0.8" opacity="0.8"/>
<line x1="463.2" y1="469.6" x2="462.0" y2="468.8" stroke="#3a3a3a" stroke-width="0.8" opacity="0.8"/>
<line x1="424.7" y1="467.5" x2="426.6" y2="469.8" stroke="#8a8a8a" stroke-width="0.8" opacity="0.8"/>
<line x1="423.8" y1="478.1" x2="426.5" y2="477.8" stroke="#a8a8a8" stroke-width="0.8" opacity="0.8"/>
<line x1="467.1" y1="493.8" x2="467.1" y2="494.9" stroke="#a8a8a8" stroke-width="0.8" opacity="0.8"/>
<line x1="439.0" y1="451.1" x2="441.6" y2="453.2" stroke="#9a9a9a" stroke-width="0.8" opacity="0.8"/>
<line x1="455.6" y1="462.3" x2="457.2" y2="464.7" stroke="#a8a8a8" stroke-width="0.8" opacity="0.8"/>
<line x1="449.5" y1="457.7" x2="450.9" y2="460.1" stroke="#8a8a8a" stroke-width="0.8" opacity="0.8"/>
<line x1="408.6" y1="490.9" x2="409.4" y2="492.9" stroke="#a8a8a8" stroke-width="0.8" opacity="0.8"/>
<line x1="420.4" y1="492.7" x2="418.9" y2="491.5" stroke="#8a8a8a" stroke-width="0.8" opacity="0.8"/>
<line x1="419.6" y1="486.9" x2="420.6" y2="489.4" stroke="#a8a8a8" stroke-width="0.8" opacity="0.8"/>
<line x1="401.1" y1="450.2" x2="399.0" y2="449.5" stroke="#9a9a9a" stroke-width="0.8" opacity="0.8"/>
<line x1="403.6" y1="450.2" x2="402.3" y2="449.4" stroke="#a8a8a8" stroke-width="0.8" opacity="0.8"/>
<line x1="426.3" y1="461.9" x2="425.8" y2="460.9" stroke="#9a9a9a" stroke-width="0.8" opacity="0.8"/>
<line x1="419.7" y1="480.3" x2="417.9" y2="481.5" stroke="#9a9a9a" stroke-width="0.8" opacity="0.8"/>
<line x1="401.5" y1="455.1" x2="399.7" y2="454.7" stroke="#a8a8a8" stroke-width="0.8" opacity="0.8"/>
<line x1="412.7" y1="478.4" x2="412.7" y2="475.5" stroke="#3a3a3a" stroke-width="0.8" opacity="0.8"/>
<line x1="419.8" y1="493.9" x2="422.3" y2="491.7" stroke="#3a3a3a" stroke-width="0.8" opacity="0.8"/>
<line x1="403.4" y1="451.5" x2="401.9" y2="453.0" stroke="#9a9a9a" stroke-width="0.8" opacity="0.8"/>
<line x1="415.1" y1="452.0" x2="417.9" y2="451.8" stroke="#3a3a3a" stroke-width="0.8" opacity="0.8"/>
<line x1="410.9" y1="462.8" x2="410.8" y2="460.0" stroke="#8a8a8a" stroke-width="0.8" opacity="0.8"/>
<line x1="467.3" y1="478.9" x2="468.1" y2="476.5" stroke="#9a9a9a" stroke-width="0.8" opacity="0.8"/>
<line x1="420.3" y1="456.0" x2="422.8" y2="457.4" stroke="#9a9a9a" stroke-width="0.8" opacity="0.8"/>
<line x1="458.3" y1="469.8" x2="460.1" y2="469.1" stroke="#9a9a9a" stroke-width="0.8" opacity="0.8"/>
<line x1="441.4" y1="488.8" x2="440.8" y2="489.4" stroke="#a8a8a8" stroke-width="0.8" opacity="0.8"/>
<line x1="402.4" y1="492.6" x2="402.0" y2="493.2" stroke="#a8a8a8" stroke-width="0.8" opacity="0.8"/>
<line x1="419.0" y1="452.1" x2="417.9" y2="451.9" stroke="#a8a8a8" stroke-width="0.8" opacity="0.8"/>
<line x1="466.4" y1="489.6" x2="466.2" y2="490.1" stroke="#8a8a8a" stroke-width="0.8" opacity="0.8"/>
<line x1="401.7" y1="485.2" x2="403.1" y2="486.1" stroke="#9a9a9a" stroke-width="0.8" opacity="0.8"/>
<line x1="435.8" y1="468.8" x2="437.6" y2="468.4" stroke="#8a8a8a" stroke-width="0.8" opacity="0.8"/>
<line x1="447.4" y1="462.0" x2="449.6" y2="461.0" stroke="#9a9a9a" stroke-width="0.8" opacity="0.8"/>
<line x1="462.8" y1="468.3" x2="463.2" y2="468.6" stroke="#9a9a9a" stroke-width="0.8" opacity="0.8"/>
<line x1="402.3" y1="493.1" x2="399.6" y2="496.0" stroke="#8a8a8a" stroke-width="0.8" opacity="0.8"/>
<line x1="406.0" y1="489.4" x2="403.3" y2="490.6" stroke="#8a8a8a" stroke-width="0.8" opacity="0.8"/>
<line x1="456.8" y1="465.8" x2="456.5" y2="466.5" stroke="#3a3a3a" stroke-width="0.8" opacity="0.8"/>
<line x1="394.0" y1="476.5" x2="391.1" y2="479.4" stroke="#a8a8a8" stroke-width="0.8" opacity="0.8"/>
<line x1="425.1" y1="453.1" x2="426.9" y2="452.6" stroke="#9a9a9a" stroke-width="0.8" opacity="0.8"/>
<line x1="425.0" y1="472.4" x2="426.1" y2="470.7" stroke="#8a8a8a" stroke-width="0.8" opacity="0.8"/>
<line x1="414.6" y1="484.2" x2="412.0" y2="485.7" stroke="#3a3a3a" stroke-width="0.8" opacity="0.8"/>
<line x1="396.2" y1="472.9" x2="398.8" y2="474.2" stroke="#9a9a9a" stroke-width="0.8" opacity="0.8"/>
<line x1="455.1" y1="472.3" x2="456.5" y2="471.2" stroke="#3a3a3a" stroke-width="0.8" opacity="0.8"/>
<line x1="396.4" y1="481.2" x2="393.9" y2="483.1" stroke="#a8a8a8" stroke-width="0.8" opacity="0.8"/>
<line x1="433.0" y1="474.5" x2="430.7" y2="473.0" stroke="#9a9a9a" stroke-width="0.8" opacity="0.8"/>
<line x1="436.9" y1="466.4" x2="434.3" y2="467.5" stroke="#a8a8a8" stroke-width="0.8" opacity="0.8"/>
<line x1="423.6" y1="487.8" x2="422.9" y2="486.9" stroke="#a8a8a8" stroke-width="0.8" opacity="0.8"/>
<line x1="418.5" y1="451.0" x2="421.1" y2="448.4" stroke="#9a9a9a" stroke-width="0.8" opacity="0.8"/>
<line x1="412.9" y1="478.0" x2="413.2" y2="479.5" stroke="#3a3a3a" stroke-width="0.8" opacity="0.8"/>
<line x1="431.4" y1="476.4" x2="430.8" y2="473.5" stroke="#8a8a8a" stroke-width="0.8" opacity="0.8"/>
<line x1="463.9" y1="454.6" x2="461.0" y2="457.5" stroke="#8a8a8a" stroke-width="0.8" opacity="0.8"/>
<line x1="443.3" y1="454.5" x2="445.7" y2="452.1" stroke="#a8a8a8" stroke-width="0.8" opacity="0.8"/>
<line x1="458.9" y1="486.4" x2="461.9" y2="484.2" stroke="#8a8a8a" stroke-width="0.8" opacity="0.8"/>
<line x1="456.1" y1="482.7" x2="455.1" y2="483.9" stroke="#9a9a9a" stroke-width="0.8" opacity="0.8"/>
<line x1="450.5" y1="459.3" x2="453.3" y2="456.7" stroke="#3a3a3a" stroke-width="0.8" opacity="0.8"/>
<line x1="469.6" y1="462.4" x2="468.4" y2="464.0" stroke="#3a3a3a" stroke-width="0.8" opacity="0.8"/>
<line x1="428.6" y1="447.2" x2="428.3" y2="447.4" stroke="#3a3a3a" stroke-width="0.8" opacity="0.8"/>
<line x1="423.0" y1="457.3" x2="424.1" y2="455.9" stroke="#3a3a3a" stroke-width="0.8" opacity="0.8"/>
<line x1="424.0" y1="476.0" x2="424.2" y2="475.4" stroke="#9a9a9a" stroke-width="0.8" opacity="0.8"/>
<line x1="396.9" y1="481.5" x2="397.9" y2="479.2" stroke="#8a8a8a" stroke-width="0.8" opacity="0.8"/>
<line x1="463.3" y1="468.5" x2="461.8" y2="471.5" stroke="#3a3a3a" stroke-width="0.8" opacity="0.8"/>
<line x1="436.6" y1="470.7" x2="435.0" y2="468.5" stroke="#a8a8a8" stroke-width="0.8" opacity="0.8"/>
<line x1="395.7" y1="447.9" x2="397.3" y2="445.0" stroke="#3a3a3a" stroke-width="0.8" opacity="0.8"/>
<line x1="449.7" y1="458.5" x2="451.5" y2="459.6" stroke="#9a9a9a" stroke-width="0.8" opacity="0.8"/>
<line x1="441.4" y1="466.4" x2="440.1" y2="465.8" stroke="#a8a8a8" stroke-width="0.8" opacity="0.8"/>
<line x1="407.1" y1="455.7" x2="406.5" y2="454.5" stroke="#9a9a9a" stroke-width="0.8" opacity="0.8"/>
<line x1="419.1" y1="481.7" x2="420.6" y2="481.4" stroke="#a8a8a8" stroke-width="0.8" opacity="0.8"/>
<line x1="453.5" y1="446.5" x2="452.3" y2="448.0" stroke="#3a3a3a" stroke-width="0.8" opacity="0.8"/>
<line x1="465.8" y1="465.0" x2="467.8" y2="466.6" stroke="#8a8a8a" stroke-width="0.8" opacity="0.8"/>
<line x1="423.2" y1="451.7" x2="421.7" y2="453.9" stroke="#8a8a8a" stroke-width="0.8" opacity="0.8"/>
<line x1="405.8" y1="492.5" x2="407.8" y2="491.4" stroke="#3a3a3a" stroke-width="0.8" opacity="0.8"/>
<line x1="452.9" y1="472.5" x2="452.3" y2="474.8" stroke="#9a9a9a" stroke-width="0.8" opacity="0.8"/>
<line x1="432.9" y1="452.4" x2="430.0" y2="450.7" stroke="#a8a8a8" stroke-width="0.8" opacity="0.8"/>
<line x1="435.5" y1="476.0" x2="436.9" y2="477.7" stroke="#8a8a8a" stroke-width="0.8" opacity="0.8"/>
<line x1="439.7" y1="460.8" x2="441.6" y2="460.2" stroke="#8a8a8a" stroke-width="0.8" opacity="0.8"/>
<line x1="425.8" y1="473.1" x2="426.6" y2="473.8" stroke="#a8a8a8" stroke-width="0.8" opacity="0.8"/>
<line x1="406.1" y1="453.9" x2="405.1" y2="452.2" stroke="#8a8a8a" stroke-width="0.8" opacity="0.8"/>
<line x1="434.9" y1="493.3" x2="432.2" y2="491.3" stroke="#8a8a8a" stroke-width="0.8" opacity="0.8"/>
<line x1="445.5" y1="489.4" x2="447.1" y2="491.8" stroke="#8a8a8a" stroke-width="0.8" opacity="0.8"/>
<line x1="428.7" y1="456.6" x2="426.7" y2="457.2" stroke="#8a8a8a" stroke-width="0.8" opacity="0.8"/>
<line x1="395.8" y1="492.8" x2="397.2" y2="490.1" stroke="#9a9a9a" stroke-width="0.8" opacity="0.8"/>
<line x1="442.7" y1="473.1" x2="443.4" y2="470.5" stroke="#a8a8a8" stroke-width="0.8" opacity="0.8"/>
<line x1="399.8" y1="450.1" x2="402.3" y2="450.7" stroke="#a8a8a8" stroke-width="0.8" opacity="0.8"/>
<line x1="450.9" y1="481.1" x2="452.8" y2="483.4" stroke="#3a3a3a" stroke-width="0.8" opacity="0.8"/>
<line x1="464.5" y1="492.1" x2="463.1" y2="494.9" stroke="#9a9a9a" stroke-width="0.8" opacity="0.8"/>
<line x1="453.5" y1="448.7" x2="454.4" y2="451.1" stroke="#3a3a3a" stroke-width="0.8" opacity="0.8"/>
<line x1="451.9" y1="474.6" x2="454.5" y2="474.6" stroke="#a8a8a8" stroke-width="0.8" opacity="0.8"/>
<line x1="442.4" y1="471.1" x2="442.9" y2="471.2" stroke="#a8a8a8" stroke-width="0.8" opacity="0.8"/>
<line x1="429.2" y1="477.0" x2="427.4" y2="479.1" stroke="#9a9a9a" stroke-width="0.8" opacity="0.8"/>
<line x1="430.2" y1="466.6" x2="427.8" y2="466.0" stroke="#8a8a8a" stroke-width="0.8" opacity="0.8"/>
<line x1="434.1" y1="489.9" x2="432.1" y2="487.2" stroke="#9a9a9a" stroke-width="0.8" opacity="0.8"/>
<line x1="439.8" y1="451.9" x2="437.8" y2="453.6" stroke="#a8a8a8" stroke-width="0.8" opacity="0.8"/>
<line x1="428.3" y1="445.5" x2="431.3" y2="445.7" stroke="#3a3a3a" stroke-width="0.8" opacity="0.8"/>
<line x1="445.6" y1="478.3" x2="448.4" y2="477.6" stroke="#8a8a8a" stroke-width="0.8" opacity="0.8"/>
<line x1="437.3" y1="465.9" x2="437.9" y2="467.0" stroke="#8a8a8a" stroke-width="0.8" opacity="0.8"/>
<line x1="399.0" y1="471.0" x2="400.0" y2="471.1" stroke="#3a3a3a" stroke-width="0.8" opacity="0.8"/>
<line x1="404.2" y1="490.0" x2="405.8" y2="491.2" stroke="#8a8a8a" stroke-width="0.8" opacity="0.8"/>
<line x1="469.6" y1="452.5" x2="469.7" y2="455.0" stroke="#a8a8a8" stroke-width="0.8" opacity="0.8"/>
<line x1="445.8" y1="446.1" x2="447.8" y2="447.6" stroke="#8a8a8a" stroke-width="0.8" opacity="0.8"/>
<line x1="417.3" y1="461.5" x2="419.8" y2="460.3" stroke="#3a3a3a" stroke-width="0.8" opacity="0.8"/>
<line x1="457.2" y1="457.6" x2="458.8" y2="455.9" stroke="#a8a8a8" stroke-width="0.8" opacity="0.8"/>
<line x1="397.4" y1="451.9" x2="398.8" y2="450.7" stroke="#3a3a3a" stroke-width="0.8" opacity="0.8"/>
<line x1="421.4" y1="461.9" x2="423.7" y2="464.7" stroke="#8a8a8a" stroke-width="0.8" opacity="0.8"/>
<line x1="414.5" y1="478.9" x2="417.2" y2="478.0" stroke="#3a3a3a" stroke-width="0.8" opacity="0.8"/>
<line x1="453.0" y1="488.1" x2="454.9" y2="488.1" stroke="#3a3a3a" stroke-width="0.8" opacity="0.8"/>
<line x1="454.6" y1="449.6" x2="451.6" y2="450.6" stroke="#a8a8a8" stroke-width="0.8" opacity="0.8"/>
<line x1="451.3" y1="488.0" x2="452.4" y2="486.4" stroke="#9a9a9a" stroke-width="0.8" opacity="0.8"/>
<line x1="408.0" y1="448.0" x2="410.4" y2="448.4" stroke="#9a9a9a" stroke-width="0.8" opacity="0.8"/>
<line x1="436.4" y1="494.4" x2="439.1" y2="492.1" stroke="#a8a8a8" stroke-width="0.8" opacity="0.8"/>
<line x1="417.6" y1="488.9" x2="415.8" y2="486.4" stroke="#a8a8a8" stroke-width="0.8" opacity="0.8"/>
<line x1="405.9" y1="459.7" x2="404.3" y2="458.7" stroke="#3a3a3a" stroke-width="0.8" opacity="0.8"/>
<line x1="397.1" y1="448.4" x2="396.6" y2="450.7" stroke="#3a3a3a" stroke-width="0.8" opacity="0.8"/>
<line x1="405.2" y1="464.7" x2="405.4" y2="464.0" stroke="#3a3a3a" stroke-width="0.8" opacity="0.8"/>
<line x1="431.4" y1="471.5" x2="431.2" y2="474.0" stroke="#9a9a9a" stroke-width="0.8" opacity="0.8"/>
<line x1="422.1" y1="489.2" x2="420.8" y2="487.8" stroke="#9a9a9a" stroke-width="0.8" opacity="0.8"/>
<line x1="403.2" y1="489.3" x2="405.8" y2="490.9" stroke="#3a3a3a" stroke-width="0.8" opacity="0.8"/>
<line x1="416.6" y1="454.6" x2="413.7" y2="453.9" stroke="#a8a8a8" stroke-width="0.8" opacity="0.8"/>
<line x1="440.7" y1="472.6" x2="441.8" y2="473.8" stroke="#a8a8a8" stroke-width="0.8" opacity="0.8"/>
<line x1="407.0" y1="448.5" x2="407.7" y2="451.1" stroke="#9a9a9a" stroke-width="0.8" opacity="0.8"/>
<line x1="441.7" y1="465.3" x2="442.4" y2="465.7" stroke="#a8a8a8" stroke-width="0.8" opacity="0.8"/>
<line x1="445.8" y1="475.6" x2="446.4" y2="476.7" stroke="#a8a8a8" stroke-width="0.8" opacity="0.8"/>
<line x1="403.5" y1="481.2" x2="404.7" y2="484.2" stroke="#3a3a3a" stroke-width="0.8" opacity="0.8"/>
<line x1="419.8" y1="453.2" x2="418.0" y2="452.1" stroke="#3a3a3a" stroke-width="0.8" opacity="0.8"/>
<line x1="461.0" y1="467.1" x2="459.9" y2="465.6" stroke="#8a8a8a" stroke-width="0.8" opacity="0.8"/>
<line x1="445.2" y1="474.9" x2="445.3" y2="476.4" stroke="#8a8a8a" stroke-width="0.8" opacity="0.8"/>
<line x1="459.3" y1="470.1" x2="461.9" y2="469.0" stroke="#9a9a9a" stroke-width="0.8" opacity="0.8"/>
<rect x="394.00" y="445.00" width="77.60" height="50.20" filter="url(#t3)" opacity="0.3" style="mix-blend-mode:soft-light"/>
</g>
<rect x="394.00" y="445.00" width="77.60" height="50.20" fill="none" stroke="#0a0a0a" stroke-width="1"/>
<text x="398.80" y="453.80" font-size="7.1" font-style="italic" fill="#fff" word-spacing="1.4">P. aeruginosa</text>
<text x="399.40" y="493.10" font-size="7.0" fill="#fff">AMP 30</text>
<text x="467.30" y="487.70" font-size="6.8" fill="#fff" text-anchor="end">1 µm</text>
<rect x="449.60" y="490.60" width="16.00" height="1.6" fill="#fff"/>
<rect x="474.60" y="445.80" width="79.60" height="51.80" fill="#8c8c8c" filter="url(#sh)"/>
<clipPath id="c15"><rect x="474.00" y="445.00" width="78.00" height="50.20"/></clipPath>
<g clip-path="url(#c15)">
<rect x="474.00" y="445.00" width="78.00" height="50.20" fill="#303030"/>
<rect x="474.00" y="445.00" width="78.00" height="50.20" filter="url(#t1)" opacity="0.4" style="mix-blend-mode:overlay"/>
<rect x="474.00" y="445.00" width="78.00" height="50.20" filter="url(#t3)" opacity="0.4" style="mix-blend-mode:overlay"/>
<ellipse cx="474.96" cy="450.64" rx="4.18" ry="3.37" fill="#050505" opacity="0.9" transform="rotate(24.96436797863354 474.96 450.64)"/>
<ellipse cx="482.77" cy="456.64" rx="5.27" ry="2.29" fill="#050505" opacity="0.9" transform="rotate(133.3179358092011 482.77 456.64)"/>
<ellipse cx="525.65" cy="451.86" rx="4.61" ry="2.90" fill="#050505" opacity="0.9" transform="rotate(74.26261497204912 525.65 451.86)"/>
<ellipse cx="551.71" cy="449.67" rx="3.06" ry="3.88" fill="#050505" opacity="0.9" transform="rotate(72.53024608996496 551.71 449.67)"/>
<ellipse cx="489.48" cy="461.58" rx="4.09" ry="3.91" fill="#050505" opacity="0.9" transform="rotate(37.85981036957642 489.48 461.58)"/>
<ellipse cx="490.92" cy="474.36" rx="4.64" ry="3.91" fill="#050505" opacity="0.9" transform="rotate(150.9629123835284 490.92 474.36)"/>
<ellipse cx="501.73" cy="455.23" rx="5.51" ry="3.98" fill="#050505" opacity="0.9" transform="rotate(5.466548617931501 501.73 455.23)"/>
<ellipse cx="531.33" cy="488.59" rx="4.95" ry="2.44" fill="#050505" opacity="0.9" transform="rotate(143.38696910314488 531.33 488.59)"/>
<ellipse cx="530.93" cy="454.73" rx="4.92" ry="2.44" fill="#050505" opacity="0.9" transform="rotate(7.454418446208216 530.93 454.73)"/>
<ellipse cx="500.21" cy="461.78" rx="4.19" ry="3.29" fill="#050505" opacity="0.9" transform="rotate(150.5111789475961 500.21 461.78)"/>
<rect transform="translate(498 485.9) rotate(70)" x="-4.4" y="-1.4" width="8.7" height="2.9" rx="1.4" opacity="0.6"/><g transform="translate(497.5 485.3) rotate(70)"><rect x="-4.4" y="-1.4" width="8.7" height="2.9" rx="1.4" fill="#8e8e8e" stroke="#3a3a3a" stroke-width=".35"/><rect x="-4.4" y="-1.4" width="8.7" height="2.9" rx="1.4" fill="url(#rg)"/></g>
<rect transform="translate(500.7 476) rotate(126)" x="-4.4" y="-1.4" width="8.8" height="2.8" rx="1.4" opacity="0.6"/><g transform="translate(500.2 475.4) rotate(126)"><rect x="-4.4" y="-1.4" width="8.8" height="2.8" rx="1.4" fill="#828282" stroke="#3a3a3a" stroke-width=".35"/><rect x="-4.4" y="-1.4" width="8.8" height="2.8" rx="1.4" fill="url(#rg)"/></g>
<rect transform="translate(528.9 496.9) rotate(170)" x="-7.9" y="-1.7" width="15.8" height="3.3" rx="1.7" opacity="0.6"/><g transform="translate(528.4 496.3) rotate(170)"><rect x="-7.9" y="-1.7" width="15.8" height="3.3" rx="1.7" fill="#828282" stroke="#3a3a3a" stroke-width=".35"/><rect x="-7.9" y="-1.7" width="15.8" height="3.3" rx="1.7" fill="url(#rg)"/></g>
<rect transform="translate(475.8 452) rotate(133)" x="-5.8" y="-1.6" width="11.6" height="3.2" rx="1.6" opacity="0.6"/><g transform="translate(475.3 451.4) rotate(133)"><rect x="-5.8" y="-1.6" width="11.6" height="3.2" rx="1.6" fill="#828282" stroke="#3a3a3a" stroke-width=".35"/><rect x="-5.8" y="-1.6" width="11.6" height="3.2" rx="1.6" fill="url(#rg)"/></g>
<rect transform="translate(507.9 484.3) rotate(138)" x="-4.3" y="-1.7" width="8.5" height="3.3" rx="1.7" opacity="0.6"/><g transform="translate(507.4 483.7) rotate(138)"><rect x="-4.3" y="-1.7" width="8.5" height="3.3" rx="1.7" fill="#9c9c9c" stroke="#3a3a3a" stroke-width=".35"/><rect x="-4.3" y="-1.7" width="8.5" height="3.3" rx="1.7" fill="url(#rg)"/></g>
<rect transform="translate(508.1 447.5) rotate(17)" x="-4.6" y="-1.3" width="9.2" height="2.7" rx="1.3" opacity="0.6"/><g transform="translate(507.6 446.9) rotate(17)"><rect x="-4.6" y="-1.3" width="9.2" height="2.7" rx="1.3" fill="#828282" stroke="#3a3a3a" stroke-width=".35"/><rect x="-4.6" y="-1.3" width="9.2" height="2.7" rx="1.3" fill="url(#rg)"/></g>
<rect transform="translate(502.9 486.4) rotate(37)" x="-7.9" y="-1.6" width="15.9" height="3.2" rx="1.6" opacity="0.6"/><g transform="translate(502.4 485.8) rotate(37)"><rect x="-7.9" y="-1.6" width="15.9" height="3.2" rx="1.6" fill="#8e8e8e" stroke="#3a3a3a" stroke-width=".35"/><rect x="-7.9" y="-1.6" width="15.9" height="3.2" rx="1.6" fill="url(#rg)"/></g>
<rect transform="translate(523.5 497.2) rotate(131)" x="-7.2" y="-1.3" width="14.4" height="2.6" rx="1.3" opacity="0.6"/><g transform="translate(523 496.6) rotate(131)"><rect x="-7.2" y="-1.3" width="14.4" height="2.6" rx="1.3" fill="#9c9c9c" stroke="#3a3a3a" stroke-width=".35"/><rect x="-7.2" y="-1.3" width="14.4" height="2.6" rx="1.3" fill="url(#rg)"/></g>
<rect transform="translate(545.2 443.2) rotate(175)" x="-5.7" y="-1.5" width="11.5" height="2.9" rx="1.5" opacity="0.6"/><g transform="translate(544.7 442.6) rotate(175)"><rect x="-5.7" y="-1.5" width="11.5" height="2.9" rx="1.5" fill="#9c9c9c" stroke="#3a3a3a" stroke-width=".35"/><rect x="-5.7" y="-1.5" width="11.5" height="2.9" rx="1.5" fill="url(#rg)"/></g>
<rect transform="translate(516.5 453.4) rotate(92)" x="-5.7" y="-1.3" width="11.5" height="2.7" rx="1.3" opacity="0.6"/><g transform="translate(516 452.8) rotate(92)"><rect x="-5.7" y="-1.3" width="11.5" height="2.7" rx="1.3" fill="#9c9c9c" stroke="#3a3a3a" stroke-width=".35"/><rect x="-5.7" y="-1.3" width="11.5" height="2.7" rx="1.3" fill="url(#rg)"/></g>
<rect transform="translate(477.1 450.4) rotate(147)" x="-5.6" y="-1.5" width="11.3" height="3" rx="1.5" opacity="0.6"/><g transform="translate(476.6 449.8) rotate(147)"><rect x="-5.6" y="-1.5" width="11.3" height="3" rx="1.5" fill="#8e8e8e" stroke="#3a3a3a" stroke-width=".35"/><rect x="-5.6" y="-1.5" width="11.3" height="3" rx="1.5" fill="url(#rg)"/></g>
<rect transform="translate(495.1 497.3) rotate(139)" x="-5.5" y="-1.4" width="10.9" height="2.7" rx="1.4" opacity="0.6"/><g transform="translate(494.6 496.7) rotate(139)"><rect x="-5.5" y="-1.4" width="10.9" height="2.7" rx="1.4" fill="#8e8e8e" stroke="#3a3a3a" stroke-width=".35"/><rect x="-5.5" y="-1.4" width="10.9" height="2.7" rx="1.4" fill="url(#rg)"/></g>
<rect transform="translate(530.8 491.1) rotate(37)" x="-5.2" y="-1.7" width="10.4" height="3.4" rx="1.7" opacity="0.6"/><g transform="translate(530.3 490.5) rotate(37)"><rect x="-5.2" y="-1.7" width="10.4" height="3.4" rx="1.7" fill="#9c9c9c" stroke="#3a3a3a" stroke-width=".35"/><rect x="-5.2" y="-1.7" width="10.4" height="3.4" rx="1.7" fill="url(#rg)"/></g>
<rect transform="translate(537.3 468.2) rotate(91)" x="-4.6" y="-1.5" width="9.2" height="3" rx="1.5" opacity="0.6"/><g transform="translate(536.8 467.6) rotate(91)"><rect x="-4.6" y="-1.5" width="9.2" height="3" rx="1.5" fill="#828282" stroke="#3a3a3a" stroke-width=".35"/><rect x="-4.6" y="-1.5" width="9.2" height="3" rx="1.5" fill="url(#rg)"/></g>
<rect transform="translate(525.9 442.9) rotate(42)" x="-5.4" y="-1.5" width="10.9" height="3" rx="1.5" opacity="0.6"/><g transform="translate(525.4 442.3) rotate(42)"><rect x="-5.4" y="-1.5" width="10.9" height="3" rx="1.5" fill="#8e8e8e" stroke="#3a3a3a" stroke-width=".35"/><rect x="-5.4" y="-1.5" width="10.9" height="3" rx="1.5" fill="url(#rg)"/></g>
<rect transform="translate(503.1 475.2) rotate(161)" x="-4.9" y="-1.5" width="9.8" height="3" rx="1.5" opacity="0.6"/><g transform="translate(502.6 474.6) rotate(161)"><rect x="-4.9" y="-1.5" width="9.8" height="3" rx="1.5" fill="#8e8e8e" stroke="#3a3a3a" stroke-width=".35"/><rect x="-4.9" y="-1.5" width="9.8" height="3" rx="1.5" fill="url(#rg)"/></g>
<rect transform="translate(531.6 482.1) rotate(143)" x="-5.3" y="-1.8" width="10.5" height="3.5" rx="1.8" opacity="0.6"/><g transform="translate(531.1 481.5) rotate(143)"><rect x="-5.3" y="-1.8" width="10.5" height="3.5" rx="1.8" fill="#828282" stroke="#3a3a3a" stroke-width=".35"/><rect x="-5.3" y="-1.8" width="10.5" height="3.5" rx="1.8" fill="url(#rg)"/></g>
<rect transform="translate(524.2 452.3) rotate(90)" x="-7.8" y="-1.6" width="15.6" height="3.2" rx="1.6" opacity="0.6"/><g transform="translate(523.7 451.7) rotate(90)"><rect x="-7.8" y="-1.6" width="15.6" height="3.2" rx="1.6" fill="#828282" stroke="#3a3a3a" stroke-width=".35"/><rect x="-7.8" y="-1.6" width="15.6" height="3.2" rx="1.6" fill="url(#rg)"/></g>
<rect transform="translate(474.3 483.6) rotate(161)" x="-6.4" y="-1.7" width="12.7" height="3.3" rx="1.7" opacity="0.6"/><g transform="translate(473.8 483) rotate(161)"><rect x="-6.4" y="-1.7" width="12.7" height="3.3" rx="1.7" fill="#8e8e8e" stroke="#3a3a3a" stroke-width=".35"/><rect x="-6.4" y="-1.7" width="12.7" height="3.3" rx="1.7" fill="url(#rg)"/></g>
<rect transform="translate(530.5 450.9) rotate(135)" x="-6.5" y="-1.6" width="13" height="3.2" rx="1.6" opacity="0.6"/><g transform="translate(530 450.3) rotate(135)"><rect x="-6.5" y="-1.6" width="13" height="3.2" rx="1.6" fill="#828282" stroke="#3a3a3a" stroke-width=".35"/><rect x="-6.5" y="-1.6" width="13" height="3.2" rx="1.6" fill="url(#rg)"/></g>
<rect transform="translate(518.8 469.3) rotate(53)" x="-5" y="-1.6" width="10" height="3.2" rx="1.6" opacity="0.6"/><g transform="translate(518.3 468.7) rotate(53)"><rect x="-5" y="-1.6" width="10" height="3.2" rx="1.6" fill="#8e8e8e" stroke="#3a3a3a" stroke-width=".35"/><rect x="-5" y="-1.6" width="10" height="3.2" rx="1.6" fill="url(#rg)"/></g>
<rect transform="translate(539.9 475.8) rotate(10)" x="-5.6" y="-1.4" width="11.1" height="2.8" rx="1.4" opacity="0.6"/><g transform="translate(539.4 475.2) rotate(10)"><rect x="-5.6" y="-1.4" width="11.1" height="2.8" rx="1.4" fill="#8e8e8e" stroke="#3a3a3a" stroke-width=".35"/><rect x="-5.6" y="-1.4" width="11.1" height="2.8" rx="1.4" fill="url(#rg)"/></g>
<rect transform="translate(495.7 472.5) rotate(122)" x="-6.4" y="-1.4" width="12.9" height="2.7" rx="1.4" opacity="0.6"/><g transform="translate(495.2 471.9) rotate(122)"><rect x="-6.4" y="-1.4" width="12.9" height="2.7" rx="1.4" fill="#8e8e8e" stroke="#3a3a3a" stroke-width=".35"/><rect x="-6.4" y="-1.4" width="12.9" height="2.7" rx="1.4" fill="url(#rg)"/></g>
<rect transform="translate(488 496.5) rotate(117)" x="-5.5" y="-1.4" width="10.9" height="2.7" rx="1.4" opacity="0.6"/><g transform="translate(487.5 495.9) rotate(117)"><rect x="-5.5" y="-1.4" width="10.9" height="2.7" rx="1.4" fill="#828282" stroke="#3a3a3a" stroke-width=".35"/><rect x="-5.5" y="-1.4" width="10.9" height="2.7" rx="1.4" fill="url(#rg)"/></g>
<rect transform="translate(522.4 480.3) rotate(75)" x="-4.6" y="-1.7" width="9.2" height="3.4" rx="1.7" opacity="0.6"/><g transform="translate(521.9 479.7) rotate(75)"><rect x="-4.6" y="-1.7" width="9.2" height="3.4" rx="1.7" fill="#828282" stroke="#3a3a3a" stroke-width=".35"/><rect x="-4.6" y="-1.7" width="9.2" height="3.4" rx="1.7" fill="url(#rg)"/></g>
<rect transform="translate(499.9 468.9) rotate(141)" x="-4.9" y="-1.7" width="9.9" height="3.4" rx="1.7" opacity="0.6"/><g transform="translate(499.4 468.3) rotate(141)"><rect x="-4.9" y="-1.7" width="9.9" height="3.4" rx="1.7" fill="#9c9c9c" stroke="#3a3a3a" stroke-width=".35"/><rect x="-4.9" y="-1.7" width="9.9" height="3.4" rx="1.7" fill="url(#rg)"/></g>
<rect transform="translate(479.1 485.6) rotate(14)" x="-7.4" y="-1.3" width="14.8" height="2.6" rx="1.3" opacity="0.6"/><g transform="translate(478.6 485) rotate(14)"><rect x="-7.4" y="-1.3" width="14.8" height="2.6" rx="1.3" fill="#9c9c9c" stroke="#3a3a3a" stroke-width=".35"/><rect x="-7.4" y="-1.3" width="14.8" height="2.6" rx="1.3" fill="url(#rg)"/></g>
<rect transform="translate(531 459.9) rotate(85)" x="-4.2" y="-1.3" width="8.5" height="2.7" rx="1.3" opacity="0.6"/><g transform="translate(530.5 459.3) rotate(85)"><rect x="-4.2" y="-1.3" width="8.5" height="2.7" rx="1.3" fill="#8e8e8e" stroke="#3a3a3a" stroke-width=".35"/><rect x="-4.2" y="-1.3" width="8.5" height="2.7" rx="1.3" fill="url(#rg)"/></g>
<rect transform="translate(527.3 446.8) rotate(105)" x="-7.7" y="-1.5" width="15.4" height="2.9" rx="1.5" opacity="0.6"/><g transform="translate(526.8 446.2) rotate(105)"><rect x="-7.7" y="-1.5" width="15.4" height="2.9" rx="1.5" fill="#8e8e8e" stroke="#3a3a3a" stroke-width=".35"/><rect x="-7.7" y="-1.5" width="15.4" height="2.9" rx="1.5" fill="url(#rg)"/></g>
<rect transform="translate(525 443.7) rotate(26)" x="-5" y="-1.7" width="10" height="3.3" rx="1.7" opacity="0.6"/><g transform="translate(524.5 443.1) rotate(26)"><rect x="-5" y="-1.7" width="10" height="3.3" rx="1.7" fill="#8e8e8e" stroke="#3a3a3a" stroke-width=".35"/><rect x="-5" y="-1.7" width="10" height="3.3" rx="1.7" fill="url(#rg)"/></g>
<rect transform="translate(542.2 461.8) rotate(95)" x="-6.6" y="-1.4" width="13.2" height="2.7" rx="1.4" opacity="0.6"/><g transform="translate(541.7 461.2) rotate(95)"><rect x="-6.6" y="-1.4" width="13.2" height="2.7" rx="1.4" fill="#9c9c9c" stroke="#3a3a3a" stroke-width=".35"/><rect x="-6.6" y="-1.4" width="13.2" height="2.7" rx="1.4" fill="url(#rg)"/></g>
<rect transform="translate(530.2 495.1) rotate(140)" x="-5" y="-1.5" width="10" height="3" rx="1.5" opacity="0.6"/><g transform="translate(529.7 494.5) rotate(140)"><rect x="-5" y="-1.5" width="10" height="3" rx="1.5" fill="#8e8e8e" stroke="#3a3a3a" stroke-width=".35"/><rect x="-5" y="-1.5" width="10" height="3" rx="1.5" fill="url(#rg)"/></g>
<rect transform="translate(484.3 479.8) rotate(169)" x="-4.9" y="-1.6" width="9.8" height="3.2" rx="1.6" opacity="0.6"/><g transform="translate(483.8 479.2) rotate(169)"><rect x="-4.9" y="-1.6" width="9.8" height="3.2" rx="1.6" fill="#9c9c9c" stroke="#3a3a3a" stroke-width=".35"/><rect x="-4.9" y="-1.6" width="9.8" height="3.2" rx="1.6" fill="url(#rg)"/></g>
<rect transform="translate(507.8 447.2) rotate(12)" x="-4.4" y="-1.4" width="8.8" height="2.9" rx="1.4" opacity="0.6"/><g transform="translate(507.3 446.6) rotate(12)"><rect x="-4.4" y="-1.4" width="8.8" height="2.9" rx="1.4" fill="#828282" stroke="#3a3a3a" stroke-width=".35"/><rect x="-4.4" y="-1.4" width="8.8" height="2.9" rx="1.4" fill="url(#rg)"/></g>
<rect transform="translate(515.7 487.8) rotate(168)" x="-6.6" y="-1.7" width="13.2" height="3.4" rx="1.7" opacity="0.6"/><g transform="translate(515.2 487.2) rotate(168)"><rect x="-6.6" y="-1.7" width="13.2" height="3.4" rx="1.7" fill="#8e8e8e" stroke="#3a3a3a" stroke-width=".35"/><rect x="-6.6" y="-1.7" width="13.2" height="3.4" rx="1.7" fill="url(#rg)"/></g>
<rect transform="translate(501.9 481.6) rotate(172)" x="-6.2" y="-1.6" width="12.4" height="3.2" rx="1.6" opacity="0.6"/><g transform="translate(501.4 481) rotate(172)"><rect x="-6.2" y="-1.6" width="12.4" height="3.2" rx="1.6" fill="#8e8e8e" stroke="#3a3a3a" stroke-width=".35"/><rect x="-6.2" y="-1.6" width="12.4" height="3.2" rx="1.6" fill="url(#rg)"/></g>
<rect transform="translate(539.7 488) rotate(62)" x="-7.1" y="-1.5" width="14.2" height="3" rx="1.5" opacity="0.6"/><g transform="translate(539.2 487.4) rotate(62)"><rect x="-7.1" y="-1.5" width="14.2" height="3" rx="1.5" fill="#8e8e8e" stroke="#3a3a3a" stroke-width=".35"/><rect x="-7.1" y="-1.5" width="14.2" height="3" rx="1.5" fill="url(#rg)"/></g>
<rect transform="translate(497.9 467.6) rotate(99)" x="-5.2" y="-1.3" width="10.4" height="2.7" rx="1.3" opacity="0.6"/><g transform="translate(497.4 467) rotate(99)"><rect x="-5.2" y="-1.3" width="10.4" height="2.7" rx="1.3" fill="#9c9c9c" stroke="#3a3a3a" stroke-width=".35"/><rect x="-5.2" y="-1.3" width="10.4" height="2.7" rx="1.3" fill="url(#rg)"/></g>
<rect transform="translate(514 480.3) rotate(166)" x="-5.1" y="-1.5" width="10.1" height="3.1" rx="1.5" opacity="0.6"/><g transform="translate(513.5 479.7) rotate(166)"><rect x="-5.1" y="-1.5" width="10.1" height="3.1" rx="1.5" fill="#828282" stroke="#3a3a3a" stroke-width=".35"/><rect x="-5.1" y="-1.5" width="10.1" height="3.1" rx="1.5" fill="url(#rg)"/></g>
<rect transform="translate(551.5 493.8) rotate(67)" x="-6.8" y="-1.5" width="13.6" height="2.9" rx="1.5" opacity="0.6"/><g transform="translate(551 493.2) rotate(67)"><rect x="-6.8" y="-1.5" width="13.6" height="2.9" rx="1.5" fill="#9c9c9c" stroke="#3a3a3a" stroke-width=".35"/><rect x="-6.8" y="-1.5" width="13.6" height="2.9" rx="1.5" fill="url(#rg)"/></g>
<rect transform="translate(507.1 488.6) rotate(167)" x="-5.1" y="-1.6" width="10.1" height="3.3" rx="1.6" opacity="0.6"/><g transform="translate(506.6 488) rotate(167)"><rect x="-5.1" y="-1.6" width="10.1" height="3.3" rx="1.6" fill="#9c9c9c" stroke="#3a3a3a" stroke-width=".35"/><rect x="-5.1" y="-1.6" width="10.1" height="3.3" rx="1.6" fill="url(#rg)"/></g>
<rect transform="translate(497.7 498.2) rotate(17)" x="-7" y="-1.6" width="13.9" height="3.1" rx="1.6" opacity="0.6"/><g transform="translate(497.2 497.6) rotate(17)"><rect x="-7" y="-1.6" width="13.9" height="3.1" rx="1.6" fill="#8e8e8e" stroke="#3a3a3a" stroke-width=".35"/><rect x="-7" y="-1.6" width="13.9" height="3.1" rx="1.6" fill="url(#rg)"/></g>
<rect transform="translate(505.5 463.2) rotate(3)" x="-7.2" y="-1.6" width="14.4" height="3.1" rx="1.6" opacity="0.6"/><g transform="translate(505 462.6) rotate(3)"><rect x="-7.2" y="-1.6" width="14.4" height="3.1" rx="1.6" fill="#8e8e8e" stroke="#3a3a3a" stroke-width=".35"/><rect x="-7.2" y="-1.6" width="14.4" height="3.1" rx="1.6" fill="url(#rg)"/></g>
<rect transform="translate(513.7 460.8) rotate(71)" x="-4.8" y="-1.5" width="9.7" height="3.1" rx="1.5" opacity="0.6"/><g transform="translate(513.2 460.2) rotate(71)"><rect x="-4.8" y="-1.5" width="9.7" height="3.1" rx="1.5" fill="#9c9c9c" stroke="#3a3a3a" stroke-width=".35"/><rect x="-4.8" y="-1.5" width="9.7" height="3.1" rx="1.5" fill="url(#rg)"/></g>
<rect transform="translate(523.3 488.7) rotate(18)" x="-5.8" y="-1.5" width="11.6" height="3.1" rx="1.5" opacity="0.6"/><g transform="translate(522.8 488.1) rotate(18)"><rect x="-5.8" y="-1.5" width="11.6" height="3.1" rx="1.5" fill="#8e8e8e" stroke="#3a3a3a" stroke-width=".35"/><rect x="-5.8" y="-1.5" width="11.6" height="3.1" rx="1.5" fill="url(#rg)"/></g>
<rect transform="translate(531 489.4) rotate(27)" x="-5.1" y="-1.5" width="10.3" height="3" rx="1.5" opacity="0.6"/><g transform="translate(530.5 488.8) rotate(27)"><rect x="-5.1" y="-1.5" width="10.3" height="3" rx="1.5" fill="#8e8e8e" stroke="#3a3a3a" stroke-width=".35"/><rect x="-5.1" y="-1.5" width="10.3" height="3" rx="1.5" fill="url(#rg)"/></g>
<rect transform="translate(492.1 461.2) rotate(10)" x="-6.4" y="-1.6" width="12.9" height="3.3" rx="1.6" opacity="0.6"/><g transform="translate(491.6 460.6) rotate(10)"><rect x="-6.4" y="-1.6" width="12.9" height="3.3" rx="1.6" fill="#8e8e8e" stroke="#3a3a3a" stroke-width=".35"/><rect x="-6.4" y="-1.6" width="12.9" height="3.3" rx="1.6" fill="url(#rg)"/></g>
<rect transform="translate(540.7 495.8) rotate(56)" x="-6.5" y="-1.7" width="12.9" height="3.4" rx="1.7" opacity="0.6"/><g transform="translate(540.2 495.2) rotate(56)"><rect x="-6.5" y="-1.7" width="12.9" height="3.4" rx="1.7" fill="#9c9c9c" stroke="#3a3a3a" stroke-width=".35"/><rect x="-6.5" y="-1.7" width="12.9" height="3.4" rx="1.7" fill="url(#rg)"/></g>
<rect transform="translate(525.8 497.1) rotate(62)" x="-7.9" y="-1.7" width="15.9" height="3.4" rx="1.7" opacity="0.6"/><g transform="translate(525.3 496.5) rotate(62)"><rect x="-7.9" y="-1.7" width="15.9" height="3.4" rx="1.7" fill="#8e8e8e" stroke="#3a3a3a" stroke-width=".35"/><rect x="-7.9" y="-1.7" width="15.9" height="3.4" rx="1.7" fill="url(#rg)"/></g>
<rect transform="translate(503.4 487) rotate(174)" x="-5.4" y="-1.4" width="10.7" height="2.7" rx="1.4" opacity="0.6"/><g transform="translate(502.9 486.4) rotate(174)"><rect x="-5.4" y="-1.4" width="10.7" height="2.7" rx="1.4" fill="#828282" stroke="#3a3a3a" stroke-width=".35"/><rect x="-5.4" y="-1.4" width="10.7" height="2.7" rx="1.4" fill="url(#rg)"/></g>
<rect transform="translate(476.9 456.6) rotate(65)" x="-6.5" y="-1.5" width="13.1" height="3" rx="1.5" opacity="0.6"/><g transform="translate(476.4 456) rotate(65)"><rect x="-6.5" y="-1.5" width="13.1" height="3" rx="1.5" fill="#828282" stroke="#3a3a3a" stroke-width=".35"/><rect x="-6.5" y="-1.5" width="13.1" height="3" rx="1.5" fill="url(#rg)"/></g>
<rect transform="translate(523.4 482.9) rotate(43)" x="-4" y="-1.5" width="8.1" height="3" rx="1.5" opacity="0.6"/><g transform="translate(522.9 482.3) rotate(43)"><rect x="-4" y="-1.5" width="8.1" height="3" rx="1.5" fill="#9c9c9c" stroke="#3a3a3a" stroke-width=".35"/><rect x="-4" y="-1.5" width="8.1" height="3" rx="1.5" fill="url(#rg)"/></g>
<rect transform="translate(479 448) rotate(165)" x="-4.9" y="-1.3" width="9.7" height="2.6" rx="1.3" opacity="0.6"/><g transform="translate(478.5 447.4) rotate(165)"><rect x="-4.9" y="-1.3" width="9.7" height="2.6" rx="1.3" fill="#8e8e8e" stroke="#3a3a3a" stroke-width=".35"/><rect x="-4.9" y="-1.3" width="9.7" height="2.6" rx="1.3" fill="url(#rg)"/></g>
<rect transform="translate(488.2 490.8) rotate(25)" x="-7.2" y="-1.4" width="14.4" height="2.9" rx="1.4" opacity="0.6"/><g transform="translate(487.7 490.2) rotate(25)"><rect x="-7.2" y="-1.4" width="14.4" height="2.9" rx="1.4" fill="#9c9c9c" stroke="#3a3a3a" stroke-width=".35"/><rect x="-7.2" y="-1.4" width="14.4" height="2.9" rx="1.4" fill="url(#rg)"/></g>
<rect transform="translate(546.1 462.1) rotate(179)" x="-7.5" y="-1.5" width="15" height="3" rx="1.5" opacity="0.6"/><g transform="translate(545.6 461.5) rotate(179)"><rect x="-7.5" y="-1.5" width="15" height="3" rx="1.5" fill="#828282" stroke="#3a3a3a" stroke-width=".35"/><rect x="-7.5" y="-1.5" width="15" height="3" rx="1.5" fill="url(#rg)"/></g>
<rect transform="translate(498.3 459.7) rotate(37)" x="-5.1" y="-1.3" width="10.2" height="2.6" rx="1.3" opacity="0.6"/><g transform="translate(497.8 459.1) rotate(37)"><rect x="-5.1" y="-1.3" width="10.2" height="2.6" rx="1.3" fill="#8e8e8e" stroke="#3a3a3a" stroke-width=".35"/><rect x="-5.1" y="-1.3" width="10.2" height="2.6" rx="1.3" fill="url(#rg)"/></g>
<rect transform="translate(522.4 463.6) rotate(100)" x="-6" y="-1.3" width="12" height="2.7" rx="1.3" opacity="0.6"/><g transform="translate(521.9 463) rotate(100)"><rect x="-6" y="-1.3" width="12" height="2.7" rx="1.3" fill="#9c9c9c" stroke="#3a3a3a" stroke-width=".35"/><rect x="-6" y="-1.3" width="12" height="2.7" rx="1.3" fill="url(#rg)"/></g>
<rect transform="translate(544.7 473) rotate(130)" x="-6.2" y="-1.6" width="12.4" height="3.3" rx="1.6" opacity="0.6"/><g transform="translate(544.2 472.4) rotate(130)"><rect x="-6.2" y="-1.6" width="12.4" height="3.3" rx="1.6" fill="#9c9c9c" stroke="#3a3a3a" stroke-width=".35"/><rect x="-6.2" y="-1.6" width="12.4" height="3.3" rx="1.6" fill="url(#rg)"/></g>
<rect transform="translate(552.1 470.3) rotate(131)" x="-5.7" y="-1.7" width="11.4" height="3.4" rx="1.7" opacity="0.6"/><g transform="translate(551.6 469.7) rotate(131)"><rect x="-5.7" y="-1.7" width="11.4" height="3.4" rx="1.7" fill="#828282" stroke="#3a3a3a" stroke-width=".35"/><rect x="-5.7" y="-1.7" width="11.4" height="3.4" rx="1.7" fill="url(#rg)"/></g>
<rect transform="translate(505.8 495) rotate(3)" x="-5.1" y="-1.8" width="10.3" height="3.5" rx="1.8" opacity="0.6"/><g transform="translate(505.3 494.4) rotate(3)"><rect x="-5.1" y="-1.8" width="10.3" height="3.5" rx="1.8" fill="#8e8e8e" stroke="#3a3a3a" stroke-width=".35"/><rect x="-5.1" y="-1.8" width="10.3" height="3.5" rx="1.8" fill="url(#rg)"/></g>
<rect transform="translate(514.2 478) rotate(35)" x="-7.6" y="-1.4" width="15.1" height="2.8" rx="1.4" opacity="0.6"/><g transform="translate(513.7 477.4) rotate(35)"><rect x="-7.6" y="-1.4" width="15.1" height="2.8" rx="1.4" fill="#828282" stroke="#3a3a3a" stroke-width=".35"/><rect x="-7.6" y="-1.4" width="15.1" height="2.8" rx="1.4" fill="url(#rg)"/></g>
<rect transform="translate(524.6 466) rotate(152)" x="-4.1" y="-1.3" width="8.3" height="2.6" rx="1.3" opacity="0.6"/><g transform="translate(524.1 465.4) rotate(152)"><rect x="-4.1" y="-1.3" width="8.3" height="2.6" rx="1.3" fill="#828282" stroke="#3a3a3a" stroke-width=".35"/><rect x="-4.1" y="-1.3" width="8.3" height="2.6" rx="1.3" fill="url(#rg)"/></g>
<rect transform="translate(512.5 463.8) rotate(118)" x="-7.7" y="-1.7" width="15.5" height="3.5" rx="1.7" opacity="0.6"/><g transform="translate(512 463.2) rotate(118)"><rect x="-7.7" y="-1.7" width="15.5" height="3.5" rx="1.7" fill="#828282" stroke="#3a3a3a" stroke-width=".35"/><rect x="-7.7" y="-1.7" width="15.5" height="3.5" rx="1.7" fill="url(#rg)"/></g>
<rect transform="translate(513.7 472.6) rotate(116)" x="-7.9" y="-1.7" width="15.8" height="3.5" rx="1.7" opacity="0.6"/><g transform="translate(513.2 472) rotate(116)"><rect x="-7.9" y="-1.7" width="15.8" height="3.5" rx="1.7" fill="#828282" stroke="#3a3a3a" stroke-width=".35"/><rect x="-7.9" y="-1.7" width="15.8" height="3.5" rx="1.7" fill="url(#rg)"/></g>
<rect transform="translate(477.1 478.4) rotate(177)" x="-5.8" y="-1.5" width="11.5" height="2.9" rx="1.5" opacity="0.6"/><g transform="translate(476.6 477.8) rotate(177)"><rect x="-5.8" y="-1.5" width="11.5" height="2.9" rx="1.5" fill="#8e8e8e" stroke="#3a3a3a" stroke-width=".35"/><rect x="-5.8" y="-1.5" width="11.5" height="2.9" rx="1.5" fill="url(#rg)"/></g>
<rect transform="translate(533.3 489.1) rotate(95)" x="-5.4" y="-1.4" width="10.9" height="2.9" rx="1.4" opacity="0.6"/><g transform="translate(532.8 488.5) rotate(95)"><rect x="-5.4" y="-1.4" width="10.9" height="2.9" rx="1.4" fill="#828282" stroke="#3a3a3a" stroke-width=".35"/><rect x="-5.4" y="-1.4" width="10.9" height="2.9" rx="1.4" fill="url(#rg)"/></g>
<rect transform="translate(542.1 443.2) rotate(119)" x="-4" y="-1.6" width="8" height="3.3" rx="1.6" opacity="0.6"/><g transform="translate(541.6 442.6) rotate(119)"><rect x="-4" y="-1.6" width="8" height="3.3" rx="1.6" fill="#828282" stroke="#3a3a3a" stroke-width=".35"/><rect x="-4" y="-1.6" width="8" height="3.3" rx="1.6" fill="url(#rg)"/></g>
<rect transform="translate(532.1 473.7) rotate(176)" x="-6.3" y="-1.8" width="12.5" height="3.5" rx="1.8" opacity="0.6"/><g transform="translate(531.6 473.1) rotate(176)"><rect x="-6.3" y="-1.8" width="12.5" height="3.5" rx="1.8" fill="#828282" stroke="#3a3a3a" stroke-width=".35"/><rect x="-6.3" y="-1.8" width="12.5" height="3.5" rx="1.8" fill="url(#rg)"/></g>
<rect transform="translate(500.6 452) rotate(20)" x="-4.1" y="-1.5" width="8.2" height="3" rx="1.5" opacity="0.6"/><g transform="translate(500.1 451.4) rotate(20)"><rect x="-4.1" y="-1.5" width="8.2" height="3" rx="1.5" fill="#8e8e8e" stroke="#3a3a3a" stroke-width=".35"/><rect x="-4.1" y="-1.5" width="8.2" height="3" rx="1.5" fill="url(#rg)"/></g>
<rect transform="translate(528.7 488.5) rotate(170)" x="-7.4" y="-1.6" width="14.7" height="3.2" rx="1.6" opacity="0.6"/><g transform="translate(528.2 487.9) rotate(170)"><rect x="-7.4" y="-1.6" width="14.7" height="3.2" rx="1.6" fill="#9c9c9c" stroke="#3a3a3a" stroke-width=".35"/><rect x="-7.4" y="-1.6" width="14.7" height="3.2" rx="1.6" fill="url(#rg)"/></g>
<rect transform="translate(549.4 442.7) rotate(170)" x="-6.4" y="-1.5" width="12.9" height="3" rx="1.5" opacity="0.6"/><g transform="translate(548.9 442.1) rotate(170)"><rect x="-6.4" y="-1.5" width="12.9" height="3" rx="1.5" fill="#8e8e8e" stroke="#3a3a3a" stroke-width=".35"/><rect x="-6.4" y="-1.5" width="12.9" height="3" rx="1.5" fill="url(#rg)"/></g>
<rect transform="translate(548.4 467) rotate(130)" x="-5.6" y="-1.7" width="11.3" height="3.5" rx="1.7" opacity="0.6"/><g transform="translate(547.9 466.4) rotate(130)"><rect x="-5.6" y="-1.7" width="11.3" height="3.5" rx="1.7" fill="#9c9c9c" stroke="#3a3a3a" stroke-width=".35"/><rect x="-5.6" y="-1.7" width="11.3" height="3.5" rx="1.7" fill="url(#rg)"/></g>
<rect transform="translate(528.6 480.8) rotate(110)" x="-7.6" y="-1.5" width="15.2" height="3" rx="1.5" opacity="0.6"/><g transform="translate(528.1 480.2) rotate(110)"><rect x="-7.6" y="-1.5" width="15.2" height="3" rx="1.5" fill="#8e8e8e" stroke="#3a3a3a" stroke-width=".35"/><rect x="-7.6" y="-1.5" width="15.2" height="3" rx="1.5" fill="url(#rg)"/></g>
<rect transform="translate(540.2 488.5) rotate(50)" x="-6" y="-1.6" width="11.9" height="3.2" rx="1.6" opacity="0.6"/><g transform="translate(539.7 487.9) rotate(50)"><rect x="-6" y="-1.6" width="11.9" height="3.2" rx="1.6" fill="#9c9c9c" stroke="#3a3a3a" stroke-width=".35"/><rect x="-6" y="-1.6" width="11.9" height="3.2" rx="1.6" fill="url(#rg)"/></g>
<rect transform="translate(518.5 478.7) rotate(35)" x="-4.7" y="-1.3" width="9.3" height="2.6" rx="1.3" opacity="0.6"/><g transform="translate(518 478.1) rotate(35)"><rect x="-4.7" y="-1.3" width="9.3" height="2.6" rx="1.3" fill="#828282" stroke="#3a3a3a" stroke-width=".35"/><rect x="-4.7" y="-1.3" width="9.3" height="2.6" rx="1.3" fill="url(#rg)"/></g>
<rect x="474.00" y="445.00" width="78.00" height="50.20" filter="url(#t2)" opacity="0.3" style="mix-blend-mode:soft-light"/>
</g>
<rect x="474.00" y="445.00" width="78.00" height="50.20" fill="none" stroke="#0a0a0a" stroke-width="1"/>
<text x="478.80" y="453.80" font-size="7.1" font-style="italic" fill="#fff" word-spacing="1.4">P. aeruginosa</text>
<text x="479.40" y="493.10" font-size="7.0" fill="#fff">AMP 31</text>
<text x="547.70" y="487.70" font-size="6.8" fill="#fff" text-anchor="end">1 µm</text>
<rect x="534.50" y="490.60" width="7.00" height="1.6" fill="#fff"/>
<rect x="554.40" y="445.80" width="79.30" height="51.80" fill="#8c8c8c" filter="url(#sh)"/>
<clipPath id="c16"><rect x="553.80" y="445.00" width="77.70" height="50.20"/></clipPath>
<g clip-path="url(#c16)">
<rect x="553.80" y="445.00" width="77.70" height="50.20" fill="#585858"/>
<rect x="553.80" y="445.00" width="77.70" height="50.20" filter="url(#t2)" opacity="0.2" style="mix-blend-mode:overlay"/>
<rect transform="translate(617.9 447.7) rotate(26)" x="-8" y="-1.8" width="16" height="3.7" rx="1.8" opacity="0.45"/><g transform="translate(617.4 447.1) rotate(26)"><rect x="-8" y="-1.8" width="16" height="3.7" rx="1.8" fill="#8c8c8c" stroke="#3a3a3a" stroke-width=".35"/><rect x="-8" y="-1.8" width="16" height="3.7" rx="1.8" fill="url(#rg)"/></g>
<rect transform="translate(561.1 474) rotate(55)" x="-7.5" y="-1.8" width="15" height="3.7" rx="1.8" opacity="0.45"/><g transform="translate(560.6 473.4) rotate(55)"><rect x="-7.5" y="-1.8" width="15" height="3.7" rx="1.8" fill="#969696" stroke="#3a3a3a" stroke-width=".35"/><rect x="-7.5" y="-1.8" width="15" height="3.7" rx="1.8" fill="url(#rg)"/></g>
<rect transform="translate(552.9 465.9) rotate(26)" x="-8.7" y="-1.9" width="17.5" height="3.9" rx="1.9" opacity="0.45"/><g transform="translate(552.4 465.3) rotate(26)"><rect x="-8.7" y="-1.9" width="17.5" height="3.9" rx="1.9" fill="#8c8c8c" stroke="#3a3a3a" stroke-width=".35"/><rect x="-8.7" y="-1.9" width="17.5" height="3.9" rx="1.9" fill="url(#rg)"/></g>
<rect transform="translate(586.4 456.2) rotate(118)" x="-8.8" y="-2.2" width="17.6" height="4.5" rx="2.2" opacity="0.45"/><g transform="translate(585.9 455.6) rotate(118)"><rect x="-8.8" y="-2.2" width="17.6" height="4.5" rx="2.2" fill="#868686" stroke="#3a3a3a" stroke-width=".35"/><rect x="-8.8" y="-2.2" width="17.6" height="4.5" rx="2.2" fill="url(#rg)"/></g>
<rect transform="translate(622.3 475.8) rotate(135)" x="-7.5" y="-2.3" width="15.1" height="4.6" rx="2.3" opacity="0.45"/><g transform="translate(621.8 475.2) rotate(135)"><rect x="-7.5" y="-2.3" width="15.1" height="4.6" rx="2.3" fill="#8c8c8c" stroke="#3a3a3a" stroke-width=".35"/><rect x="-7.5" y="-2.3" width="15.1" height="4.6" rx="2.3" fill="url(#rg)"/></g>
<rect transform="translate(581 449.5) rotate(46)" x="-6.8" y="-2.1" width="13.6" height="4.2" rx="2.1" opacity="0.45"/><g transform="translate(580.5 448.9) rotate(46)"><rect x="-6.8" y="-2.1" width="13.6" height="4.2" rx="2.1" fill="#868686" stroke="#3a3a3a" stroke-width=".35"/><rect x="-6.8" y="-2.1" width="13.6" height="4.2" rx="2.1" fill="url(#rg)"/></g>
<rect transform="translate(579.1 468.3) rotate(127)" x="-6.5" y="-2.2" width="12.9" height="4.4" rx="2.2" opacity="0.45"/><g transform="translate(578.6 467.7) rotate(127)"><rect x="-6.5" y="-2.2" width="12.9" height="4.4" rx="2.2" fill="#969696" stroke="#3a3a3a" stroke-width=".35"/><rect x="-6.5" y="-2.2" width="12.9" height="4.4" rx="2.2" fill="url(#rg)"/></g>
<rect transform="translate(562.7 469.4) rotate(153)" x="-8.1" y="-1.8" width="16.2" height="3.7" rx="1.8" opacity="0.45"/><g transform="translate(562.2 468.8) rotate(153)"><rect x="-8.1" y="-1.8" width="16.2" height="3.7" rx="1.8" fill="#969696" stroke="#3a3a3a" stroke-width=".35"/><rect x="-8.1" y="-1.8" width="16.2" height="3.7" rx="1.8" fill="url(#rg)"/></g>
<rect transform="translate(573.3 493.7) rotate(122)" x="-8.1" y="-1.9" width="16.1" height="3.8" rx="1.9" opacity="0.45"/><g transform="translate(572.8 493.1) rotate(122)"><rect x="-8.1" y="-1.9" width="16.1" height="3.8" rx="1.9" fill="#969696" stroke="#3a3a3a" stroke-width=".35"/><rect x="-8.1" y="-1.9" width="16.1" height="3.8" rx="1.9" fill="url(#rg)"/></g>
<rect transform="translate(622.1 471.1) rotate(72)" x="-6.4" y="-2.1" width="12.8" height="4.2" rx="2.1" opacity="0.45"/><g transform="translate(621.6 470.5) rotate(72)"><rect x="-6.4" y="-2.1" width="12.8" height="4.2" rx="2.1" fill="#969696" stroke="#3a3a3a" stroke-width=".35"/><rect x="-6.4" y="-2.1" width="12.8" height="4.2" rx="2.1" fill="url(#rg)"/></g>
<rect transform="translate(598.8 443.9) rotate(128)" x="-8.2" y="-1.9" width="16.5" height="3.8" rx="1.9" opacity="0.45"/><g transform="translate(598.3 443.3) rotate(128)"><rect x="-8.2" y="-1.9" width="16.5" height="3.8" rx="1.9" fill="#969696" stroke="#3a3a3a" stroke-width=".35"/><rect x="-8.2" y="-1.9" width="16.5" height="3.8" rx="1.9" fill="url(#rg)"/></g>
<rect transform="translate(568.3 451.4) rotate(177)" x="-8.7" y="-1.9" width="17.4" height="3.8" rx="1.9" opacity="0.45"/><g transform="translate(567.8 450.8) rotate(177)"><rect x="-8.7" y="-1.9" width="17.4" height="3.8" rx="1.9" fill="#8c8c8c" stroke="#3a3a3a" stroke-width=".35"/><rect x="-8.7" y="-1.9" width="17.4" height="3.8" rx="1.9" fill="url(#rg)"/></g>
<rect transform="translate(631.1 449.9) rotate(66)" x="-8.6" y="-2.2" width="17.2" height="4.4" rx="2.2" opacity="0.45"/><g transform="translate(630.6 449.3) rotate(66)"><rect x="-8.6" y="-2.2" width="17.2" height="4.4" rx="2.2" fill="#8c8c8c" stroke="#3a3a3a" stroke-width=".35"/><rect x="-8.6" y="-2.2" width="17.2" height="4.4" rx="2.2" fill="url(#rg)"/></g>
<rect transform="translate(562.8 473.7) rotate(50)" x="-7.6" y="-2.2" width="15.2" height="4.5" rx="2.2" opacity="0.45"/><g transform="translate(562.3 473.1) rotate(50)"><rect x="-7.6" y="-2.2" width="15.2" height="4.5" rx="2.2" fill="#969696" stroke="#3a3a3a" stroke-width=".35"/><rect x="-7.6" y="-2.2" width="15.2" height="4.5" rx="2.2" fill="url(#rg)"/></g>
<rect transform="translate(614.7 470.4) rotate(174)" x="-6.1" y="-2" width="12.2" height="4.1" rx="2" opacity="0.45"/><g transform="translate(614.2 469.8) rotate(174)"><rect x="-6.1" y="-2" width="12.2" height="4.1" rx="2" fill="#969696" stroke="#3a3a3a" stroke-width=".35"/><rect x="-6.1" y="-2" width="12.2" height="4.1" rx="2" fill="url(#rg)"/></g>
<rect transform="translate(621.3 498.1) rotate(40)" x="-8.2" y="-1.9" width="16.5" height="3.8" rx="1.9" opacity="0.45"/><g transform="translate(620.8 497.5) rotate(40)"><rect x="-8.2" y="-1.9" width="16.5" height="3.8" rx="1.9" fill="#868686" stroke="#3a3a3a" stroke-width=".35"/><rect x="-8.2" y="-1.9" width="16.5" height="3.8" rx="1.9" fill="url(#rg)"/></g>
<rect transform="translate(624.6 490.5) rotate(174)" x="-6.3" y="-2" width="12.7" height="3.9" rx="2" opacity="0.45"/><g transform="translate(624.1 489.9) rotate(174)"><rect x="-6.3" y="-2" width="12.7" height="3.9" rx="2" fill="#969696" stroke="#3a3a3a" stroke-width=".35"/><rect x="-6.3" y="-2" width="12.7" height="3.9" rx="2" fill="url(#rg)"/></g>
<rect transform="translate(597 491) rotate(19)" x="-8.1" y="-2.3" width="16.3" height="4.5" rx="2.3" opacity="0.45"/><g transform="translate(596.5 490.4) rotate(19)"><rect x="-8.1" y="-2.3" width="16.3" height="4.5" rx="2.3" fill="#8c8c8c" stroke="#3a3a3a" stroke-width=".35"/><rect x="-8.1" y="-2.3" width="16.3" height="4.5" rx="2.3" fill="url(#rg)"/></g>
<rect transform="translate(579.1 477.3) rotate(17)" x="-8.5" y="-2.2" width="17.1" height="4.4" rx="2.2" opacity="0.45"/><g transform="translate(578.6 476.7) rotate(17)"><rect x="-8.5" y="-2.2" width="17.1" height="4.4" rx="2.2" fill="#8c8c8c" stroke="#3a3a3a" stroke-width=".35"/><rect x="-8.5" y="-2.2" width="17.1" height="4.4" rx="2.2" fill="url(#rg)"/></g>
<rect transform="translate(555.8 446.6) rotate(3)" x="-8.7" y="-2.1" width="17.4" height="4.3" rx="2.1" opacity="0.45"/><g transform="translate(555.3 446) rotate(3)"><rect x="-8.7" y="-2.1" width="17.4" height="4.3" rx="2.1" fill="#8c8c8c" stroke="#3a3a3a" stroke-width=".35"/><rect x="-8.7" y="-2.1" width="17.4" height="4.3" rx="2.1" fill="url(#rg)"/></g>
<rect transform="translate(620.3 491.9) rotate(78)" x="-7.6" y="-2.3" width="15.2" height="4.5" rx="2.3" opacity="0.45"/><g transform="translate(619.8 491.3) rotate(78)"><rect x="-7.6" y="-2.3" width="15.2" height="4.5" rx="2.3" fill="#969696" stroke="#3a3a3a" stroke-width=".35"/><rect x="-7.6" y="-2.3" width="15.2" height="4.5" rx="2.3" fill="url(#rg)"/></g>
<rect transform="translate(605 463.1) rotate(149)" x="-7.8" y="-2" width="15.6" height="4" rx="2" opacity="0.45"/><g transform="translate(604.5 462.5) rotate(149)"><rect x="-7.8" y="-2" width="15.6" height="4" rx="2" fill="#8c8c8c" stroke="#3a3a3a" stroke-width=".35"/><rect x="-7.8" y="-2" width="15.6" height="4" rx="2" fill="url(#rg)"/></g>
<rect transform="translate(565.9 460.3) rotate(29)" x="-8.8" y="-2.2" width="17.5" height="4.3" rx="2.2" opacity="0.45"/><g transform="translate(565.4 459.7) rotate(29)"><rect x="-8.8" y="-2.2" width="17.5" height="4.3" rx="2.2" fill="#8c8c8c" stroke="#3a3a3a" stroke-width=".35"/><rect x="-8.8" y="-2.2" width="17.5" height="4.3" rx="2.2" fill="url(#rg)"/></g>
<rect transform="translate(560.7 485) rotate(91)" x="-8.1" y="-2" width="16.3" height="3.9" rx="2" opacity="0.45"/><g transform="translate(560.2 484.4) rotate(91)"><rect x="-8.1" y="-2" width="16.3" height="3.9" rx="2" fill="#8c8c8c" stroke="#3a3a3a" stroke-width=".35"/><rect x="-8.1" y="-2" width="16.3" height="3.9" rx="2" fill="url(#rg)"/></g>
<rect transform="translate(600.8 448.2) rotate(39)" x="-5.8" y="-2.2" width="11.7" height="4.4" rx="2.2" opacity="0.45"/><g transform="translate(600.3 447.6) rotate(39)"><rect x="-5.8" y="-2.2" width="11.7" height="4.4" rx="2.2" fill="#8c8c8c" stroke="#3a3a3a" stroke-width=".35"/><rect x="-5.8" y="-2.2" width="11.7" height="4.4" rx="2.2" fill="url(#rg)"/></g>
<rect transform="translate(601.4 460.4) rotate(150)" x="-7.9" y="-2.1" width="15.8" height="4.1" rx="2.1" opacity="0.45"/><g transform="translate(600.9 459.8) rotate(150)"><rect x="-7.9" y="-2.1" width="15.8" height="4.1" rx="2.1" fill="#969696" stroke="#3a3a3a" stroke-width=".35"/><rect x="-7.9" y="-2.1" width="15.8" height="4.1" rx="2.1" fill="url(#rg)"/></g>
<rect transform="translate(604 490.6) rotate(6)" x="-7.9" y="-2.1" width="15.8" height="4.2" rx="2.1" opacity="0.45"/><g transform="translate(603.5 490) rotate(6)"><rect x="-7.9" y="-2.1" width="15.8" height="4.2" rx="2.1" fill="#868686" stroke="#3a3a3a" stroke-width=".35"/><rect x="-7.9" y="-2.1" width="15.8" height="4.2" rx="2.1" fill="url(#rg)"/></g>
<rect transform="translate(572.5 462.8) rotate(112)" x="-8.5" y="-1.8" width="17.1" height="3.6" rx="1.8" opacity="0.45"/><g transform="translate(572 462.2) rotate(112)"><rect x="-8.5" y="-1.8" width="17.1" height="3.6" rx="1.8" fill="#969696" stroke="#3a3a3a" stroke-width=".35"/><rect x="-8.5" y="-1.8" width="17.1" height="3.6" rx="1.8" fill="url(#rg)"/></g>
<rect transform="translate(574.8 473.3) rotate(11)" x="-7.5" y="-2.2" width="15" height="4.4" rx="2.2" opacity="0.45"/><g transform="translate(574.3 472.7) rotate(11)"><rect x="-7.5" y="-2.2" width="15" height="4.4" rx="2.2" fill="#969696" stroke="#3a3a3a" stroke-width=".35"/><rect x="-7.5" y="-2.2" width="15" height="4.4" rx="2.2" fill="url(#rg)"/></g>
<rect transform="translate(602.8 457.4) rotate(48)" x="-5.8" y="-2" width="11.6" height="4" rx="2" opacity="0.45"/><g transform="translate(602.3 456.8) rotate(48)"><rect x="-5.8" y="-2" width="11.6" height="4" rx="2" fill="#868686" stroke="#3a3a3a" stroke-width=".35"/><rect x="-5.8" y="-2" width="11.6" height="4" rx="2" fill="url(#rg)"/></g>
<rect transform="translate(575.1 463.6) rotate(177)" x="-6.8" y="-1.8" width="13.7" height="3.6" rx="1.8" opacity="0.45"/><g transform="translate(574.6 463) rotate(177)"><rect x="-6.8" y="-1.8" width="13.7" height="3.6" rx="1.8" fill="#8c8c8c" stroke="#3a3a3a" stroke-width=".35"/><rect x="-6.8" y="-1.8" width="13.7" height="3.6" rx="1.8" fill="url(#rg)"/></g>
<rect transform="translate(611.8 496.7) rotate(119)" x="-7.3" y="-2.1" width="14.6" height="4.2" rx="2.1" opacity="0.45"/><g transform="translate(611.3 496.1) rotate(119)"><rect x="-7.3" y="-2.1" width="14.6" height="4.2" rx="2.1" fill="#868686" stroke="#3a3a3a" stroke-width=".35"/><rect x="-7.3" y="-2.1" width="14.6" height="4.2" rx="2.1" fill="url(#rg)"/></g>
<rect transform="translate(621.5 470.6) rotate(133)" x="-8.9" y="-2.1" width="17.8" height="4.2" rx="2.1" opacity="0.45"/><g transform="translate(621 470) rotate(133)"><rect x="-8.9" y="-2.1" width="17.8" height="4.2" rx="2.1" fill="#8c8c8c" stroke="#3a3a3a" stroke-width=".35"/><rect x="-8.9" y="-2.1" width="17.8" height="4.2" rx="2.1" fill="url(#rg)"/></g>
<rect transform="translate(632.7 473.7) rotate(147)" x="-6.4" y="-1.8" width="12.8" height="3.7" rx="1.8" opacity="0.45"/><g transform="translate(632.2 473.1) rotate(147)"><rect x="-6.4" y="-1.8" width="12.8" height="3.7" rx="1.8" fill="#8c8c8c" stroke="#3a3a3a" stroke-width=".35"/><rect x="-6.4" y="-1.8" width="12.8" height="3.7" rx="1.8" fill="url(#rg)"/></g>
<rect transform="translate(608.3 465.3) rotate(159)" x="-6.6" y="-1.8" width="13.1" height="3.6" rx="1.8" opacity="0.45"/><g transform="translate(607.8 464.7) rotate(159)"><rect x="-6.6" y="-1.8" width="13.1" height="3.6" rx="1.8" fill="#8c8c8c" stroke="#3a3a3a" stroke-width=".35"/><rect x="-6.6" y="-1.8" width="13.1" height="3.6" rx="1.8" fill="url(#rg)"/></g>
<rect transform="translate(598.9 487) rotate(131)" x="-6.5" y="-1.9" width="13" height="3.8" rx="1.9" opacity="0.45"/><g transform="translate(598.4 486.4) rotate(131)"><rect x="-6.5" y="-1.9" width="13" height="3.8" rx="1.9" fill="#8c8c8c" stroke="#3a3a3a" stroke-width=".35"/><rect x="-6.5" y="-1.9" width="13" height="3.8" rx="1.9" fill="url(#rg)"/></g>
<rect transform="translate(578.2 467.8) rotate(107)" x="-6.5" y="-2.2" width="13" height="4.4" rx="2.2" opacity="0.45"/><g transform="translate(577.7 467.2) rotate(107)"><rect x="-6.5" y="-2.2" width="13" height="4.4" rx="2.2" fill="#8c8c8c" stroke="#3a3a3a" stroke-width=".35"/><rect x="-6.5" y="-2.2" width="13" height="4.4" rx="2.2" fill="url(#rg)"/></g>
<rect transform="translate(566.7 498.2) rotate(148)" x="-6.3" y="-2" width="12.6" height="4" rx="2" opacity="0.45"/><g transform="translate(566.2 497.6) rotate(148)"><rect x="-6.3" y="-2" width="12.6" height="4" rx="2" fill="#868686" stroke="#3a3a3a" stroke-width=".35"/><rect x="-6.3" y="-2" width="12.6" height="4" rx="2" fill="url(#rg)"/></g>
<rect transform="translate(579.3 450.4) rotate(69)" x="-8.2" y="-2.2" width="16.4" height="4.4" rx="2.2" opacity="0.45"/><g transform="translate(578.8 449.8) rotate(69)"><rect x="-8.2" y="-2.2" width="16.4" height="4.4" rx="2.2" fill="#868686" stroke="#3a3a3a" stroke-width=".35"/><rect x="-8.2" y="-2.2" width="16.4" height="4.4" rx="2.2" fill="url(#rg)"/></g>
<rect transform="translate(634.9 458.8) rotate(95)" x="-7.6" y="-1.9" width="15.3" height="3.9" rx="1.9" opacity="0.45"/><g transform="translate(634.4 458.2) rotate(95)"><rect x="-7.6" y="-1.9" width="15.3" height="3.9" rx="1.9" fill="#969696" stroke="#3a3a3a" stroke-width=".35"/><rect x="-7.6" y="-1.9" width="15.3" height="3.9" rx="1.9" fill="url(#rg)"/></g>
<rect transform="translate(626.2 469.1) rotate(168)" x="-8.2" y="-2" width="16.3" height="4.1" rx="2" opacity="0.45"/><g transform="translate(625.7 468.5) rotate(168)"><rect x="-8.2" y="-2" width="16.3" height="4.1" rx="2" fill="#969696" stroke="#3a3a3a" stroke-width=".35"/><rect x="-8.2" y="-2" width="16.3" height="4.1" rx="2" fill="url(#rg)"/></g>
<rect transform="translate(603.3 494.5) rotate(67)" x="-5.6" y="-2.2" width="11.1" height="4.4" rx="2.2" opacity="0.45"/><g transform="translate(602.8 493.9) rotate(67)"><rect x="-5.6" y="-2.2" width="11.1" height="4.4" rx="2.2" fill="#8c8c8c" stroke="#3a3a3a" stroke-width=".35"/><rect x="-5.6" y="-2.2" width="11.1" height="4.4" rx="2.2" fill="url(#rg)"/></g>
<rect transform="translate(597.3 469) rotate(135)" x="-5.7" y="-2" width="11.4" height="4" rx="2" opacity="0.45"/><g transform="translate(596.8 468.4) rotate(135)"><rect x="-5.7" y="-2" width="11.4" height="4" rx="2" fill="#969696" stroke="#3a3a3a" stroke-width=".35"/><rect x="-5.7" y="-2" width="11.4" height="4" rx="2" fill="url(#rg)"/></g>
<rect transform="translate(556.3 488.3) rotate(60)" x="-6" y="-2.2" width="12.1" height="4.3" rx="2.2" opacity="0.45"/><g transform="translate(555.8 487.7) rotate(60)"><rect x="-6" y="-2.2" width="12.1" height="4.3" rx="2.2" fill="#969696" stroke="#3a3a3a" stroke-width=".35"/><rect x="-6" y="-2.2" width="12.1" height="4.3" rx="2.2" fill="url(#rg)"/></g>
<rect transform="translate(631.3 462.5) rotate(176)" x="-8.3" y="-1.8" width="16.5" height="3.6" rx="1.8" opacity="0.45"/><g transform="translate(630.8 461.9) rotate(176)"><rect x="-8.3" y="-1.8" width="16.5" height="3.6" rx="1.8" fill="#8c8c8c" stroke="#3a3a3a" stroke-width=".35"/><rect x="-8.3" y="-1.8" width="16.5" height="3.6" rx="1.8" fill="url(#rg)"/></g>
<rect transform="translate(592.8 452.7) rotate(33)" x="-7.5" y="-2.2" width="14.9" height="4.3" rx="2.2" opacity="0.45"/><g transform="translate(592.3 452.1) rotate(33)"><rect x="-7.5" y="-2.2" width="14.9" height="4.3" rx="2.2" fill="#868686" stroke="#3a3a3a" stroke-width=".35"/><rect x="-7.5" y="-2.2" width="14.9" height="4.3" rx="2.2" fill="url(#rg)"/></g>
<rect transform="translate(602 445.5) rotate(64)" x="-6.6" y="-1.9" width="13.2" height="3.8" rx="1.9" opacity="0.45"/><g transform="translate(601.5 444.9) rotate(64)"><rect x="-6.6" y="-1.9" width="13.2" height="3.8" rx="1.9" fill="#868686" stroke="#3a3a3a" stroke-width=".35"/><rect x="-6.6" y="-1.9" width="13.2" height="3.8" rx="1.9" fill="url(#rg)"/></g>
<rect transform="translate(606.3 469.8) rotate(100)" x="-8.9" y="-2" width="17.9" height="4" rx="2" opacity="0.45"/><g transform="translate(605.8 469.2) rotate(100)"><rect x="-8.9" y="-2" width="17.9" height="4" rx="2" fill="#969696" stroke="#3a3a3a" stroke-width=".35"/><rect x="-8.9" y="-2" width="17.9" height="4" rx="2" fill="url(#rg)"/></g>
<rect transform="translate(564.1 490.6) rotate(8)" x="-7" y="-2" width="14.1" height="4.1" rx="2" opacity="0.45"/><g transform="translate(563.6 490) rotate(8)"><rect x="-7" y="-2" width="14.1" height="4.1" rx="2" fill="#868686" stroke="#3a3a3a" stroke-width=".35"/><rect x="-7" y="-2" width="14.1" height="4.1" rx="2" fill="url(#rg)"/></g>
<rect transform="translate(633.9 466.4) rotate(59)" x="-7.3" y="-2.3" width="14.7" height="4.5" rx="2.3" opacity="0.45"/><g transform="translate(633.4 465.8) rotate(59)"><rect x="-7.3" y="-2.3" width="14.7" height="4.5" rx="2.3" fill="#8c8c8c" stroke="#3a3a3a" stroke-width=".35"/><rect x="-7.3" y="-2.3" width="14.7" height="4.5" rx="2.3" fill="url(#rg)"/></g>
<rect transform="translate(560.3 468.5) rotate(65)" x="-7.2" y="-1.8" width="14.3" height="3.6" rx="1.8" opacity="0.45"/><g transform="translate(559.8 467.9) rotate(65)"><rect x="-7.2" y="-1.8" width="14.3" height="3.6" rx="1.8" fill="#868686" stroke="#3a3a3a" stroke-width=".35"/><rect x="-7.2" y="-1.8" width="14.3" height="3.6" rx="1.8" fill="url(#rg)"/></g>
<rect transform="translate(591.4 494.5) rotate(60)" x="-6.4" y="-2.1" width="12.9" height="4.1" rx="2.1" opacity="0.45"/><g transform="translate(590.9 493.9) rotate(60)"><rect x="-6.4" y="-2.1" width="12.9" height="4.1" rx="2.1" fill="#868686" stroke="#3a3a3a" stroke-width=".35"/><rect x="-6.4" y="-2.1" width="12.9" height="4.1" rx="2.1" fill="url(#rg)"/></g>
<rect transform="translate(551.8 459.7) rotate(113)" x="-7.3" y="-2.2" width="14.7" height="4.5" rx="2.2" opacity="0.45"/><g transform="translate(551.3 459.1) rotate(113)"><rect x="-7.3" y="-2.2" width="14.7" height="4.5" rx="2.2" fill="#8c8c8c" stroke="#3a3a3a" stroke-width=".35"/><rect x="-7.3" y="-2.2" width="14.7" height="4.5" rx="2.2" fill="url(#rg)"/></g>
<rect transform="translate(602.6 476.2) rotate(26)" x="-7" y="-2.2" width="14" height="4.5" rx="2.2" opacity="0.45"/><g transform="translate(602.1 475.6) rotate(26)"><rect x="-7" y="-2.2" width="14" height="4.5" rx="2.2" fill="#8c8c8c" stroke="#3a3a3a" stroke-width=".35"/><rect x="-7" y="-2.2" width="14" height="4.5" rx="2.2" fill="url(#rg)"/></g>
<rect transform="translate(602 481.5) rotate(83)" x="-6" y="-2.3" width="11.9" height="4.5" rx="2.3" opacity="0.45"/><g transform="translate(601.5 480.9) rotate(83)"><rect x="-6" y="-2.3" width="11.9" height="4.5" rx="2.3" fill="#969696" stroke="#3a3a3a" stroke-width=".35"/><rect x="-6" y="-2.3" width="11.9" height="4.5" rx="2.3" fill="url(#rg)"/></g>
<rect transform="translate(623.3 488.8) rotate(40)" x="-7.9" y="-2" width="15.9" height="4" rx="2" opacity="0.45"/><g transform="translate(622.8 488.2) rotate(40)"><rect x="-7.9" y="-2" width="15.9" height="4" rx="2" fill="#868686" stroke="#3a3a3a" stroke-width=".35"/><rect x="-7.9" y="-2" width="15.9" height="4" rx="2" fill="url(#rg)"/></g>
<rect transform="translate(581 477.7) rotate(136)" x="-7.8" y="-2.2" width="15.5" height="4.4" rx="2.2" opacity="0.45"/><g transform="translate(580.5 477.1) rotate(136)"><rect x="-7.8" y="-2.2" width="15.5" height="4.4" rx="2.2" fill="#868686" stroke="#3a3a3a" stroke-width=".35"/><rect x="-7.8" y="-2.2" width="15.5" height="4.4" rx="2.2" fill="url(#rg)"/></g>
<rect transform="translate(561 474.5) rotate(101)" x="-6.5" y="-2" width="12.9" height="4" rx="2" opacity="0.45"/><g transform="translate(560.5 473.9) rotate(101)"><rect x="-6.5" y="-2" width="12.9" height="4" rx="2" fill="#868686" stroke="#3a3a3a" stroke-width=".35"/><rect x="-6.5" y="-2" width="12.9" height="4" rx="2" fill="url(#rg)"/></g>
<rect transform="translate(554.6 446.9) rotate(61)" x="-7.9" y="-2.3" width="15.7" height="4.6" rx="2.3" opacity="0.45"/><g transform="translate(554.1 446.3) rotate(61)"><rect x="-7.9" y="-2.3" width="15.7" height="4.6" rx="2.3" fill="#868686" stroke="#3a3a3a" stroke-width=".35"/><rect x="-7.9" y="-2.3" width="15.7" height="4.6" rx="2.3" fill="url(#rg)"/></g>
<rect transform="translate(576.1 485.9) rotate(62)" x="-8.2" y="-2.1" width="16.3" height="4.3" rx="2.1" opacity="0.45"/><g transform="translate(575.6 485.3) rotate(62)"><rect x="-8.2" y="-2.1" width="16.3" height="4.3" rx="2.1" fill="#8c8c8c" stroke="#3a3a3a" stroke-width=".35"/><rect x="-8.2" y="-2.1" width="16.3" height="4.3" rx="2.1" fill="url(#rg)"/></g>
<rect transform="translate(591.6 456.2) rotate(74)" x="-7.9" y="-2.2" width="15.9" height="4.4" rx="2.2" opacity="0.45"/><g transform="translate(591.1 455.6) rotate(74)"><rect x="-7.9" y="-2.2" width="15.9" height="4.4" rx="2.2" fill="#969696" stroke="#3a3a3a" stroke-width=".35"/><rect x="-7.9" y="-2.2" width="15.9" height="4.4" rx="2.2" fill="url(#rg)"/></g>
<rect transform="translate(630.6 491.4) rotate(115)" x="-8.9" y="-2.3" width="17.7" height="4.5" rx="2.3" opacity="0.45"/><g transform="translate(630.1 490.8) rotate(115)"><rect x="-8.9" y="-2.3" width="17.7" height="4.5" rx="2.3" fill="#969696" stroke="#3a3a3a" stroke-width=".35"/><rect x="-8.9" y="-2.3" width="17.7" height="4.5" rx="2.3" fill="url(#rg)"/></g>
<rect transform="translate(616.6 492.4) rotate(73)" x="-8.3" y="-1.9" width="16.7" height="3.9" rx="1.9" opacity="0.45"/><g transform="translate(616.1 491.8) rotate(73)"><rect x="-8.3" y="-1.9" width="16.7" height="3.9" rx="1.9" fill="#868686" stroke="#3a3a3a" stroke-width=".35"/><rect x="-8.3" y="-1.9" width="16.7" height="3.9" rx="1.9" fill="url(#rg)"/></g>
<rect transform="translate(552.1 472.4) rotate(101)" x="-8.1" y="-2.2" width="16.3" height="4.4" rx="2.2" opacity="0.45"/><g transform="translate(551.6 471.8) rotate(101)"><rect x="-8.1" y="-2.2" width="16.3" height="4.4" rx="2.2" fill="#8c8c8c" stroke="#3a3a3a" stroke-width=".35"/><rect x="-8.1" y="-2.2" width="16.3" height="4.4" rx="2.2" fill="url(#rg)"/></g>
<rect transform="translate(582.9 486.7) rotate(91)" x="-7.5" y="-2.3" width="14.9" height="4.6" rx="2.3" opacity="0.45"/><g transform="translate(582.4 486.1) rotate(91)"><rect x="-7.5" y="-2.3" width="14.9" height="4.6" rx="2.3" fill="#8c8c8c" stroke="#3a3a3a" stroke-width=".35"/><rect x="-7.5" y="-2.3" width="14.9" height="4.6" rx="2.3" fill="url(#rg)"/></g>
<rect transform="translate(582.9 493.4) rotate(119)" x="-8" y="-1.9" width="15.9" height="3.8" rx="1.9" opacity="0.45"/><g transform="translate(582.4 492.8) rotate(119)"><rect x="-8" y="-1.9" width="15.9" height="3.8" rx="1.9" fill="#969696" stroke="#3a3a3a" stroke-width=".35"/><rect x="-8" y="-1.9" width="15.9" height="3.8" rx="1.9" fill="url(#rg)"/></g>
<rect transform="translate(619.3 489.6) rotate(32)" x="-5.8" y="-1.9" width="11.6" height="3.9" rx="1.9" opacity="0.45"/><g transform="translate(618.8 489) rotate(32)"><rect x="-5.8" y="-1.9" width="11.6" height="3.9" rx="1.9" fill="#969696" stroke="#3a3a3a" stroke-width=".35"/><rect x="-5.8" y="-1.9" width="11.6" height="3.9" rx="1.9" fill="url(#rg)"/></g>
<rect transform="translate(584.8 456.5) rotate(162)" x="-6.7" y="-1.9" width="13.5" height="3.8" rx="1.9" opacity="0.45"/><g transform="translate(584.3 455.9) rotate(162)"><rect x="-6.7" y="-1.9" width="13.5" height="3.8" rx="1.9" fill="#969696" stroke="#3a3a3a" stroke-width=".35"/><rect x="-6.7" y="-1.9" width="13.5" height="3.8" rx="1.9" fill="url(#rg)"/></g>
<rect transform="translate(632.4 454.8) rotate(101)" x="-5.8" y="-2.2" width="11.6" height="4.5" rx="2.2" opacity="0.45"/><g transform="translate(631.9 454.2) rotate(101)"><rect x="-5.8" y="-2.2" width="11.6" height="4.5" rx="2.2" fill="#8c8c8c" stroke="#3a3a3a" stroke-width=".35"/><rect x="-5.8" y="-2.2" width="11.6" height="4.5" rx="2.2" fill="url(#rg)"/></g>
<rect transform="translate(570 462.6) rotate(124)" x="-8.8" y="-2" width="17.6" height="4" rx="2" opacity="0.45"/><g transform="translate(569.5 462) rotate(124)"><rect x="-8.8" y="-2" width="17.6" height="4" rx="2" fill="#8c8c8c" stroke="#3a3a3a" stroke-width=".35"/><rect x="-8.8" y="-2" width="17.6" height="4" rx="2" fill="url(#rg)"/></g>
<rect transform="translate(609.7 495.8) rotate(45)" x="-6.6" y="-2" width="13.2" height="3.9" rx="2" opacity="0.45"/><g transform="translate(609.2 495.2) rotate(45)"><rect x="-6.6" y="-2" width="13.2" height="3.9" rx="2" fill="#8c8c8c" stroke="#3a3a3a" stroke-width=".35"/><rect x="-6.6" y="-2" width="13.2" height="3.9" rx="2" fill="url(#rg)"/></g>
<rect transform="translate(578.8 465.6) rotate(139)" x="-7.3" y="-2.3" width="14.6" height="4.6" rx="2.3" opacity="0.45"/><g transform="translate(578.3 465) rotate(139)"><rect x="-7.3" y="-2.3" width="14.6" height="4.6" rx="2.3" fill="#8c8c8c" stroke="#3a3a3a" stroke-width=".35"/><rect x="-7.3" y="-2.3" width="14.6" height="4.6" rx="2.3" fill="url(#rg)"/></g>
<rect transform="translate(615.6 482) rotate(117)" x="-6.8" y="-2.3" width="13.6" height="4.6" rx="2.3" opacity="0.45"/><g transform="translate(615.1 481.4) rotate(117)"><rect x="-6.8" y="-2.3" width="13.6" height="4.6" rx="2.3" fill="#868686" stroke="#3a3a3a" stroke-width=".35"/><rect x="-6.8" y="-2.3" width="13.6" height="4.6" rx="2.3" fill="url(#rg)"/></g>
<rect transform="translate(556.8 469.6) rotate(152)" x="-5.9" y="-2" width="11.7" height="4" rx="2" opacity="0.45"/><g transform="translate(556.3 469) rotate(152)"><rect x="-5.9" y="-2" width="11.7" height="4" rx="2" fill="#969696" stroke="#3a3a3a" stroke-width=".35"/><rect x="-5.9" y="-2" width="11.7" height="4" rx="2" fill="url(#rg)"/></g>
<rect transform="translate(609.4 472.3) rotate(164)" x="-6.2" y="-2.1" width="12.5" height="4.3" rx="2.1" opacity="0.45"/><g transform="translate(608.9 471.7) rotate(164)"><rect x="-6.2" y="-2.1" width="12.5" height="4.3" rx="2.1" fill="#969696" stroke="#3a3a3a" stroke-width=".35"/><rect x="-6.2" y="-2.1" width="12.5" height="4.3" rx="2.1" fill="url(#rg)"/></g>
<rect transform="translate(571.4 479.7) rotate(101)" x="-7.7" y="-2.1" width="15.4" height="4.1" rx="2.1" opacity="0.45"/><g transform="translate(570.9 479.1) rotate(101)"><rect x="-7.7" y="-2.1" width="15.4" height="4.1" rx="2.1" fill="#868686" stroke="#3a3a3a" stroke-width=".35"/><rect x="-7.7" y="-2.1" width="15.4" height="4.1" rx="2.1" fill="url(#rg)"/></g>
<rect transform="translate(604.6 488.2) rotate(170)" x="-7.2" y="-1.9" width="14.4" height="3.8" rx="1.9" opacity="0.45"/><g transform="translate(604.1 487.6) rotate(170)"><rect x="-7.2" y="-1.9" width="14.4" height="3.8" rx="1.9" fill="#8c8c8c" stroke="#3a3a3a" stroke-width=".35"/><rect x="-7.2" y="-1.9" width="14.4" height="3.8" rx="1.9" fill="url(#rg)"/></g>
<rect transform="translate(603 493.9) rotate(163)" x="-6.1" y="-2.1" width="12.2" height="4.2" rx="2.1" opacity="0.45"/><g transform="translate(602.5 493.3) rotate(163)"><rect x="-6.1" y="-2.1" width="12.2" height="4.2" rx="2.1" fill="#868686" stroke="#3a3a3a" stroke-width=".35"/><rect x="-6.1" y="-2.1" width="12.2" height="4.2" rx="2.1" fill="url(#rg)"/></g>
<rect transform="translate(611.1 496.8) rotate(15)" x="-6.8" y="-1.8" width="13.6" height="3.7" rx="1.8" opacity="0.45"/><g transform="translate(610.6 496.2) rotate(15)"><rect x="-6.8" y="-1.8" width="13.6" height="3.7" rx="1.8" fill="#8c8c8c" stroke="#3a3a3a" stroke-width=".35"/><rect x="-6.8" y="-1.8" width="13.6" height="3.7" rx="1.8" fill="url(#rg)"/></g>
<rect transform="translate(633.4 451.8) rotate(173)" x="-6.7" y="-2" width="13.4" height="4" rx="2" opacity="0.45"/><g transform="translate(632.9 451.2) rotate(173)"><rect x="-6.7" y="-2" width="13.4" height="4" rx="2" fill="#868686" stroke="#3a3a3a" stroke-width=".35"/><rect x="-6.7" y="-2" width="13.4" height="4" rx="2" fill="url(#rg)"/></g>
<rect transform="translate(554.8 471.2) rotate(54)" x="-6" y="-1.9" width="12" height="3.8" rx="1.9" opacity="0.45"/><g transform="translate(554.3 470.6) rotate(54)"><rect x="-6" y="-1.9" width="12" height="3.8" rx="1.9" fill="#8c8c8c" stroke="#3a3a3a" stroke-width=".35"/><rect x="-6" y="-1.9" width="12" height="3.8" rx="1.9" fill="url(#rg)"/></g>
<rect transform="translate(566.8 448) rotate(13)" x="-9" y="-1.8" width="17.9" height="3.6" rx="1.8" opacity="0.45"/><g transform="translate(566.3 447.4) rotate(13)"><rect x="-9" y="-1.8" width="17.9" height="3.6" rx="1.8" fill="#969696" stroke="#3a3a3a" stroke-width=".35"/><rect x="-9" y="-1.8" width="17.9" height="3.6" rx="1.8" fill="url(#rg)"/></g>
<rect transform="translate(615.1 475.5) rotate(154)" x="-5.6" y="-2.1" width="11.2" height="4.1" rx="2.1" opacity="0.45"/><g transform="translate(614.6 474.9) rotate(154)"><rect x="-5.6" y="-2.1" width="11.2" height="4.1" rx="2.1" fill="#8c8c8c" stroke="#3a3a3a" stroke-width=".35"/><rect x="-5.6" y="-2.1" width="11.2" height="4.1" rx="2.1" fill="url(#rg)"/></g>
<rect transform="translate(553.3 465.1) rotate(38)" x="-8.8" y="-2" width="17.6" height="4.1" rx="2" opacity="0.45"/><g transform="translate(552.8 464.5) rotate(38)"><rect x="-8.8" y="-2" width="17.6" height="4.1" rx="2" fill="#8c8c8c" stroke="#3a3a3a" stroke-width=".35"/><rect x="-8.8" y="-2" width="17.6" height="4.1" rx="2" fill="url(#rg)"/></g>
<rect transform="translate(566.5 494) rotate(92)" x="-8.7" y="-1.8" width="17.4" height="3.6" rx="1.8" opacity="0.45"/><g transform="translate(566 493.4) rotate(92)"><rect x="-8.7" y="-1.8" width="17.4" height="3.6" rx="1.8" fill="#8c8c8c" stroke="#3a3a3a" stroke-width=".35"/><rect x="-8.7" y="-1.8" width="17.4" height="3.6" rx="1.8" fill="url(#rg)"/></g>
<rect transform="translate(578 487.5) rotate(153)" x="-8.1" y="-1.8" width="16.2" height="3.6" rx="1.8" opacity="0.45"/><g transform="translate(577.5 486.9) rotate(153)"><rect x="-8.1" y="-1.8" width="16.2" height="3.6" rx="1.8" fill="#868686" stroke="#3a3a3a" stroke-width=".35"/><rect x="-8.1" y="-1.8" width="16.2" height="3.6" rx="1.8" fill="url(#rg)"/></g>
<rect transform="translate(601.8 466.3) rotate(146)" x="-5.9" y="-2" width="11.7" height="3.9" rx="2" opacity="0.45"/><g transform="translate(601.3 465.7) rotate(146)"><rect x="-5.9" y="-2" width="11.7" height="3.9" rx="2" fill="#8c8c8c" stroke="#3a3a3a" stroke-width=".35"/><rect x="-5.9" y="-2" width="11.7" height="3.9" rx="2" fill="url(#rg)"/></g>
<rect transform="translate(625.6 463.4) rotate(142)" x="-5.8" y="-2.3" width="11.6" height="4.5" rx="2.3" opacity="0.45"/><g transform="translate(625.1 462.8) rotate(142)"><rect x="-5.8" y="-2.3" width="11.6" height="4.5" rx="2.3" fill="#969696" stroke="#3a3a3a" stroke-width=".35"/><rect x="-5.8" y="-2.3" width="11.6" height="4.5" rx="2.3" fill="url(#rg)"/></g>
<rect transform="translate(551.4 492.4) rotate(158)" x="-6.1" y="-1.9" width="12.1" height="3.8" rx="1.9" opacity="0.45"/><g transform="translate(550.9 491.8) rotate(158)"><rect x="-6.1" y="-1.9" width="12.1" height="3.8" rx="1.9" fill="#868686" stroke="#3a3a3a" stroke-width=".35"/><rect x="-6.1" y="-1.9" width="12.1" height="3.8" rx="1.9" fill="url(#rg)"/></g>
<rect transform="translate(559.6 456.7) rotate(73)" x="-7.7" y="-2.3" width="15.4" height="4.5" rx="2.3" opacity="0.45"/><g transform="translate(559.1 456.1) rotate(73)"><rect x="-7.7" y="-2.3" width="15.4" height="4.5" rx="2.3" fill="#868686" stroke="#3a3a3a" stroke-width=".35"/><rect x="-7.7" y="-2.3" width="15.4" height="4.5" rx="2.3" fill="url(#rg)"/></g>
<rect transform="translate(607 470.4) rotate(133)" x="-6.6" y="-1.9" width="13.1" height="3.8" rx="1.9" opacity="0.45"/><g transform="translate(606.5 469.8) rotate(133)"><rect x="-6.6" y="-1.9" width="13.1" height="3.8" rx="1.9" fill="#868686" stroke="#3a3a3a" stroke-width=".35"/><rect x="-6.6" y="-1.9" width="13.1" height="3.8" rx="1.9" fill="url(#rg)"/></g>
<rect transform="translate(631.2 475.7) rotate(82)" x="-7.3" y="-1.9" width="14.5" height="3.9" rx="1.9" opacity="0.45"/><g transform="translate(630.7 475.1) rotate(82)"><rect x="-7.3" y="-1.9" width="14.5" height="3.9" rx="1.9" fill="#8c8c8c" stroke="#3a3a3a" stroke-width=".35"/><rect x="-7.3" y="-1.9" width="14.5" height="3.9" rx="1.9" fill="url(#rg)"/></g>
<rect transform="translate(579.7 490.7) rotate(77)" x="-8.8" y="-1.9" width="17.5" height="3.8" rx="1.9" opacity="0.45"/><g transform="translate(579.2 490.1) rotate(77)"><rect x="-8.8" y="-1.9" width="17.5" height="3.8" rx="1.9" fill="#8c8c8c" stroke="#3a3a3a" stroke-width=".35"/><rect x="-8.8" y="-1.9" width="17.5" height="3.8" rx="1.9" fill="url(#rg)"/></g>
<rect transform="translate(551.4 494.7) rotate(32)" x="-6.6" y="-1.8" width="13.2" height="3.6" rx="1.8" opacity="0.45"/><g transform="translate(550.9 494.1) rotate(32)"><rect x="-6.6" y="-1.8" width="13.2" height="3.6" rx="1.8" fill="#868686" stroke="#3a3a3a" stroke-width=".35"/><rect x="-6.6" y="-1.8" width="13.2" height="3.6" rx="1.8" fill="url(#rg)"/></g>
<rect transform="translate(579.8 475) rotate(142)" x="-8.1" y="-2.1" width="16.2" height="4.2" rx="2.1" opacity="0.45"/><g transform="translate(579.3 474.4) rotate(142)"><rect x="-8.1" y="-2.1" width="16.2" height="4.2" rx="2.1" fill="#8c8c8c" stroke="#3a3a3a" stroke-width=".35"/><rect x="-8.1" y="-2.1" width="16.2" height="4.2" rx="2.1" fill="url(#rg)"/></g>
<rect transform="translate(615.7 474.6) rotate(89)" x="-8.8" y="-2" width="17.6" height="4" rx="2" opacity="0.45"/><g transform="translate(615.2 474) rotate(89)"><rect x="-8.8" y="-2" width="17.6" height="4" rx="2" fill="#868686" stroke="#3a3a3a" stroke-width=".35"/><rect x="-8.8" y="-2" width="17.6" height="4" rx="2" fill="url(#rg)"/></g>
<rect transform="translate(616.9 470.6) rotate(14)" x="-7.5" y="-2" width="15.1" height="3.9" rx="2" opacity="0.45"/><g transform="translate(616.4 470) rotate(14)"><rect x="-7.5" y="-2" width="15.1" height="3.9" rx="2" fill="#8c8c8c" stroke="#3a3a3a" stroke-width=".35"/><rect x="-7.5" y="-2" width="15.1" height="3.9" rx="2" fill="url(#rg)"/></g>
<rect transform="translate(579.2 458.2) rotate(132)" x="-8.4" y="-2.2" width="16.7" height="4.4" rx="2.2" opacity="0.45"/><g transform="translate(578.7 457.6) rotate(132)"><rect x="-8.4" y="-2.2" width="16.7" height="4.4" rx="2.2" fill="#969696" stroke="#3a3a3a" stroke-width=".35"/><rect x="-8.4" y="-2.2" width="16.7" height="4.4" rx="2.2" fill="url(#rg)"/></g>
<rect transform="translate(602.6 467.8) rotate(5)" x="-6.2" y="-2.3" width="12.4" height="4.5" rx="2.3" opacity="0.45"/><g transform="translate(602.1 467.2) rotate(5)"><rect x="-6.2" y="-2.3" width="12.4" height="4.5" rx="2.3" fill="#969696" stroke="#3a3a3a" stroke-width=".35"/><rect x="-6.2" y="-2.3" width="12.4" height="4.5" rx="2.3" fill="url(#rg)"/></g>
<rect transform="translate(609 469.3) rotate(115)" x="-6.5" y="-2.2" width="13" height="4.3" rx="2.2" opacity="0.45"/><g transform="translate(608.5 468.7) rotate(115)"><rect x="-6.5" y="-2.2" width="13" height="4.3" rx="2.2" fill="#868686" stroke="#3a3a3a" stroke-width=".35"/><rect x="-6.5" y="-2.2" width="13" height="4.3" rx="2.2" fill="url(#rg)"/></g>
<rect transform="translate(588.2 453.4) rotate(53)" x="-8.7" y="-2" width="17.5" height="4" rx="2" opacity="0.45"/><g transform="translate(587.7 452.8) rotate(53)"><rect x="-8.7" y="-2" width="17.5" height="4" rx="2" fill="#868686" stroke="#3a3a3a" stroke-width=".35"/><rect x="-8.7" y="-2" width="17.5" height="4" rx="2" fill="url(#rg)"/></g>
<rect transform="translate(634.7 475.6) rotate(118)" x="-7.1" y="-2.1" width="14.1" height="4.2" rx="2.1" opacity="0.45"/><g transform="translate(634.2 475) rotate(118)"><rect x="-7.1" y="-2.1" width="14.1" height="4.2" rx="2.1" fill="#868686" stroke="#3a3a3a" stroke-width=".35"/><rect x="-7.1" y="-2.1" width="14.1" height="4.2" rx="2.1" fill="url(#rg)"/></g>
<rect transform="translate(558.7 498.1) rotate(45)" x="-8.9" y="-2.2" width="17.9" height="4.4" rx="2.2" opacity="0.45"/><g transform="translate(558.2 497.5) rotate(45)"><rect x="-8.9" y="-2.2" width="17.9" height="4.4" rx="2.2" fill="#969696" stroke="#3a3a3a" stroke-width=".35"/><rect x="-8.9" y="-2.2" width="17.9" height="4.4" rx="2.2" fill="url(#rg)"/></g>
<rect transform="translate(559.3 469.6) rotate(150)" x="-6.9" y="-2.1" width="13.9" height="4.1" rx="2.1" opacity="0.45"/><g transform="translate(558.8 469) rotate(150)"><rect x="-6.9" y="-2.1" width="13.9" height="4.1" rx="2.1" fill="#969696" stroke="#3a3a3a" stroke-width=".35"/><rect x="-6.9" y="-2.1" width="13.9" height="4.1" rx="2.1" fill="url(#rg)"/></g>
<rect transform="translate(592.6 462.1) rotate(85)" x="-5.9" y="-2.2" width="11.7" height="4.3" rx="2.2" opacity="0.45"/><g transform="translate(592.1 461.5) rotate(85)"><rect x="-5.9" y="-2.2" width="11.7" height="4.3" rx="2.2" fill="#868686" stroke="#3a3a3a" stroke-width=".35"/><rect x="-5.9" y="-2.2" width="11.7" height="4.3" rx="2.2" fill="url(#rg)"/></g>
<rect transform="translate(584.3 483.2) rotate(30)" x="-8.2" y="-2.2" width="16.4" height="4.3" rx="2.2" opacity="0.45"/><g transform="translate(583.8 482.6) rotate(30)"><rect x="-8.2" y="-2.2" width="16.4" height="4.3" rx="2.2" fill="#8c8c8c" stroke="#3a3a3a" stroke-width=".35"/><rect x="-8.2" y="-2.2" width="16.4" height="4.3" rx="2.2" fill="url(#rg)"/></g>
<rect transform="translate(621.8 468.7) rotate(58)" x="-6" y="-1.8" width="12" height="3.7" rx="1.8" opacity="0.45"/><g transform="translate(621.3 468.1) rotate(58)"><rect x="-6" y="-1.8" width="12" height="3.7" rx="1.8" fill="#868686" stroke="#3a3a3a" stroke-width=".35"/><rect x="-6" y="-1.8" width="12" height="3.7" rx="1.8" fill="url(#rg)"/></g>
<rect transform="translate(599 475.6) rotate(2)" x="-7" y="-2.1" width="14" height="4.1" rx="2.1" opacity="0.45"/><g transform="translate(598.5 475) rotate(2)"><rect x="-7" y="-2.1" width="14" height="4.1" rx="2.1" fill="#868686" stroke="#3a3a3a" stroke-width=".35"/><rect x="-7" y="-2.1" width="14" height="4.1" rx="2.1" fill="url(#rg)"/></g>
<rect transform="translate(561.1 469.3) rotate(44)" x="-6.5" y="-2" width="13" height="3.9" rx="2" opacity="0.45"/><g transform="translate(560.6 468.7) rotate(44)"><rect x="-6.5" y="-2" width="13" height="3.9" rx="2" fill="#8c8c8c" stroke="#3a3a3a" stroke-width=".35"/><rect x="-6.5" y="-2" width="13" height="3.9" rx="2" fill="url(#rg)"/></g>
<rect transform="translate(633.4 473.7) rotate(10)" x="-8.8" y="-1.9" width="17.7" height="3.9" rx="1.9" opacity="0.45"/><g transform="translate(632.9 473.1) rotate(10)"><rect x="-8.8" y="-1.9" width="17.7" height="3.9" rx="1.9" fill="#8c8c8c" stroke="#3a3a3a" stroke-width=".35"/><rect x="-8.8" y="-1.9" width="17.7" height="3.9" rx="1.9" fill="url(#rg)"/></g>
<rect x="553.80" y="445.00" width="77.70" height="50.20" filter="url(#t3)" opacity="0.15" style="mix-blend-mode:soft-light"/>
</g>
<rect x="553.80" y="445.00" width="77.70" height="50.20" fill="none" stroke="#0a0a0a" stroke-width="1"/>
<text x="558.60" y="453.80" font-size="7.1" font-style="italic" fill="#fff" word-spacing="1.4">P. aeruginosa</text>
<text x="559.20" y="493.10" font-size="7.0" fill="#fff">AMP 38</text>
<text x="627.20" y="487.70" font-size="6.8" fill="#fff" text-anchor="end">1 µm</text>
<rect x="611.50" y="490.60" width="12.00" height="1.6" fill="#fff"/>
</svg>
</body></html>
